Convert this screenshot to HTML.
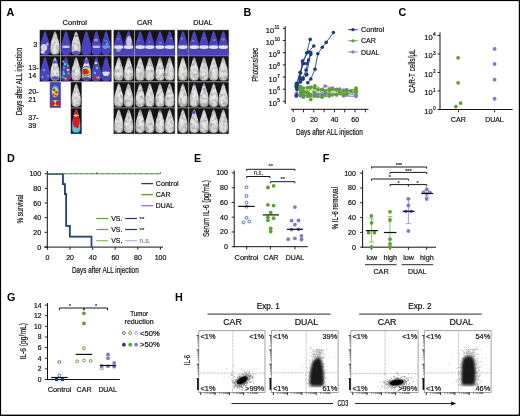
<!DOCTYPE html>
<html><head><meta charset="utf-8"><style>html,body{margin:0;padding:0;background:#fff;width:520px;height:416px;overflow:hidden;position:relative}svg{display:block;position:absolute;left:0;top:0}svg.main{filter:blur(0.3px)}text{font-family:"Liberation Sans",sans-serif}</style></head>
<body>
<svg class="main" width="520" height="416" viewBox="0 0 520 416" font-family="Liberation Sans, sans-serif">
<rect x="0.00" y="0.00" width="520.00" height="416.00" fill="#fff"/>
<text x="6.60" y="16.40" font-size="10.8" text-anchor="start" fill="#000" stroke="#000" stroke-width="0" font-weight="bold">A</text>
<text x="243.60" y="16.40" font-size="10.8" text-anchor="start" fill="#000" stroke="#000" stroke-width="0" font-weight="bold">B</text>
<text x="398.60" y="16.40" font-size="10.8" text-anchor="start" fill="#000" stroke="#000" stroke-width="0" font-weight="bold">C</text>
<text x="7.00" y="161.60" font-size="10.8" text-anchor="start" fill="#000" stroke="#000" stroke-width="0" font-weight="bold">D</text>
<text x="194.00" y="161.60" font-size="10.8" text-anchor="start" fill="#000" stroke="#000" stroke-width="0" font-weight="bold">E</text>
<text x="322.80" y="161.60" font-size="10.8" text-anchor="start" fill="#000" stroke="#000" stroke-width="0" font-weight="bold">F</text>
<text x="7.00" y="300.90" font-size="10.8" text-anchor="start" fill="#000" stroke="#000" stroke-width="0" font-weight="bold">G</text>
<text x="175.00" y="300.90" font-size="10.8" text-anchor="start" fill="#000" stroke="#000" stroke-width="0" font-weight="bold">H</text>
<text x="74.80" y="25.20" font-size="7.6" text-anchor="middle" fill="#111" stroke="#111" stroke-width="0.2" textLength="24.4" lengthAdjust="spacingAndGlyphs">Control</text>
<text x="144.70" y="25.30" font-size="7.6" text-anchor="middle" fill="#111" stroke="#111" stroke-width="0.2" textLength="15.6" lengthAdjust="spacingAndGlyphs">CAR</text>
<text x="202.90" y="25.30" font-size="7.6" text-anchor="middle" fill="#111" stroke="#111" stroke-width="0.2" textLength="19.4" lengthAdjust="spacingAndGlyphs">DUAL</text>
<text x="37.20" y="46.60" font-size="7.2" text-anchor="end" fill="#111" stroke="#111" stroke-width="0.2">3</text>
<text x="28.20" y="70.30" font-size="7.2" text-anchor="start" fill="#111" stroke="#111" stroke-width="0.2">13-</text>
<text x="28.20" y="78.30" font-size="7.2" text-anchor="start" fill="#111" stroke="#111" stroke-width="0.2">14</text>
<text x="28.20" y="94.00" font-size="7.2" text-anchor="start" fill="#111" stroke="#111" stroke-width="0.2">20-</text>
<text x="28.20" y="102.00" font-size="7.2" text-anchor="start" fill="#111" stroke="#111" stroke-width="0.2">21</text>
<text x="28.20" y="120.20" font-size="7.2" text-anchor="start" fill="#111" stroke="#111" stroke-width="0.2">37-</text>
<text x="28.20" y="128.20" font-size="7.2" text-anchor="start" fill="#111" stroke="#111" stroke-width="0.2">39</text>
<text x="21.90" y="81.60" font-size="9.0" text-anchor="middle" fill="#111" stroke="#111" stroke-width="0.2" textLength="67.4" lengthAdjust="spacingAndGlyphs" transform="rotate(-90 21.90 81.60)">Days after ALL injection</text>
<defs>
<radialGradient id="mg" cx="0.5" cy="0.55" r="0.6"><stop offset="0" stop-color="#f2f2f2"/><stop offset="0.65" stop-color="#d8d8d8"/><stop offset="1" stop-color="#969696"/></radialGradient>
<filter id="tex" x="-10%" y="-10%" width="120%" height="120%" color-interpolation-filters="sRGB">
<feTurbulence type="fractalNoise" baseFrequency="0.3" numOctaves="2" seed="5" result="n"/>
<feColorMatrix in="n" type="matrix" values="0 0 0 0 0  0 0 0 0 0  0 0 0 0 0  0.6 0 0 0 -0.24" result="d"/>
<feComposite in="d" in2="SourceAlpha" operator="in" result="dc"/>
<feMerge><feMergeNode in="SourceGraphic"/><feMergeNode in="dc"/></feMerge>
</filter>
</defs>
<rect x="39.40" y="29.70" width="72.40" height="52.00" fill="#96918a"/>
<rect x="40.00" y="30.20" width="20.00" height="25.00" fill="#141414"/>
<rect x="40.00" y="56.20" width="20.00" height="25.00" fill="#141414"/>
<rect x="61.00" y="30.20" width="50.20" height="25.00" fill="#141414"/>
<rect x="61.00" y="56.20" width="50.20" height="25.00" fill="#141414"/>
<rect x="113.30" y="29.70" width="61.90" height="104.40" fill="#96918a"/>
<rect x="113.90" y="30.20" width="20.10" height="25.00" fill="#141414"/>
<rect x="113.90" y="56.20" width="20.10" height="25.00" fill="#141414"/>
<rect x="113.90" y="82.30" width="20.10" height="25.10" fill="#141414"/>
<rect x="113.90" y="108.30" width="20.10" height="25.30" fill="#141414"/>
<rect x="135.00" y="30.20" width="39.60" height="25.00" fill="#141414"/>
<rect x="135.00" y="56.20" width="39.60" height="25.00" fill="#141414"/>
<rect x="135.00" y="82.30" width="39.60" height="25.10" fill="#141414"/>
<rect x="135.00" y="108.30" width="39.60" height="25.30" fill="#141414"/>
<rect x="177.00" y="29.70" width="52.10" height="104.40" fill="#96918a"/>
<rect x="177.60" y="30.20" width="10.50" height="25.00" fill="#141414"/>
<rect x="177.60" y="56.20" width="10.50" height="25.00" fill="#141414"/>
<rect x="177.60" y="82.30" width="10.50" height="25.10" fill="#141414"/>
<rect x="177.60" y="108.30" width="10.50" height="25.30" fill="#141414"/>
<rect x="189.10" y="30.20" width="39.40" height="25.00" fill="#141414"/>
<rect x="189.10" y="56.20" width="39.40" height="25.00" fill="#141414"/>
<rect x="189.10" y="82.30" width="39.40" height="25.10" fill="#141414"/>
<rect x="189.10" y="108.30" width="39.40" height="25.30" fill="#141414"/>
<rect x="49.60" y="81.80" width="11.40" height="26.20" fill="#96918a"/>
<rect x="50.10" y="82.30" width="10.40" height="25.20" fill="#4b42c2"/>
<rect x="70.50" y="81.80" width="11.40" height="52.30" fill="#96918a"/>
<rect x="71.00" y="82.30" width="10.40" height="25.20" fill="#141414"/>
<rect x="71.00" y="108.40" width="10.40" height="25.20" fill="#141414"/>
<path d="M45.00,30.90 C45.90,31.38 46.79,33.79 47.24,36.20 C47.91,39.09 49.03,41.02 49.48,44.64 C49.81,47.29 49.81,50.18 49.70,51.63 C49.48,54.52 47.24,55.00 45.00,55.00 C42.76,55.00 40.52,54.52 40.30,51.63 C40.19,50.18 40.19,47.29 40.52,44.64 C40.97,41.02 42.09,39.09 42.76,36.20 C43.21,33.79 44.10,31.38 45.00,30.90Z" fill="#4b42c2"/>
<ellipse cx="44.00" cy="47.50" rx="3.2" ry="3.6" fill="#e4e4e4" opacity="0.9"/>
<ellipse cx="42.80" cy="52.00" rx="2.2" ry="1.8" fill="#eee" opacity="0.85"/>
<ellipse cx="47.50" cy="44.00" rx="1.2" ry="1.6" fill="#e4e4e4" opacity="0.7"/>
<ellipse cx="47.60" cy="51.50" rx="1.6" ry="1.6" fill="#4b42c2" opacity="1"/>
<path d="M55.00,31.20 C55.89,31.67 56.77,34.00 57.21,36.33 C57.88,39.12 58.99,40.99 59.43,44.48 C59.76,47.04 59.76,49.84 59.65,51.24 C59.43,54.03 57.21,54.50 55.00,54.50 C52.79,54.50 50.57,54.03 50.35,51.24 C50.24,49.84 50.24,47.04 50.57,44.48 C51.01,40.99 52.12,39.12 52.79,36.33 C53.23,34.00 54.11,31.67 55.00,31.20Z" fill="url(#mg)" filter="url(#tex)"/>
<path d="M66.00,30.90 C66.90,31.38 67.79,33.79 68.24,36.20 C68.91,39.09 70.03,41.02 70.48,44.64 C70.81,47.29 70.81,50.18 70.70,51.63 C70.48,54.52 68.24,55.00 66.00,55.00 C63.76,55.00 61.52,54.52 61.30,51.63 C61.19,50.18 61.19,47.29 61.52,44.64 C61.97,41.02 63.09,39.09 63.76,36.20 C64.21,33.79 65.10,31.38 66.00,30.90Z" fill="#4b42c2"/>
<ellipse cx="66.00" cy="46.70" rx="3.95" ry="1.25" fill="#dcdcf0" opacity="0.9"/>
<path d="M76.10,31.20 C76.99,31.67 77.87,34.00 78.31,36.33 C78.98,39.12 80.09,40.99 80.53,44.48 C80.86,47.04 80.86,49.84 80.75,51.24 C80.53,54.03 78.31,54.50 76.10,54.50 C73.89,54.50 71.67,54.03 71.45,51.24 C71.34,49.84 71.34,47.04 71.67,44.48 C72.11,40.99 73.22,39.12 73.89,36.33 C74.33,34.00 75.21,31.67 76.10,31.20Z" fill="url(#mg)" filter="url(#tex)"/>
<ellipse cx="76.00" cy="52.50" rx="3.6" ry="1.8" fill="#4b42c2" opacity="0.9"/>
<ellipse cx="76.00" cy="36.00" rx="1.6" ry="1" fill="#4b42c2" opacity="0.6"/>
<path d="M86.40,30.90 C87.30,31.38 88.19,33.79 88.64,36.20 C89.31,39.09 90.43,41.02 90.88,44.64 C91.21,47.29 91.21,50.18 91.10,51.63 C90.88,54.52 88.64,55.00 86.40,55.00 C84.16,55.00 81.92,54.52 81.70,51.63 C81.59,50.18 81.59,47.29 81.92,44.64 C82.37,41.02 83.49,39.09 84.16,36.20 C84.61,33.79 85.50,31.38 86.40,30.90Z" fill="#4b42c2"/>
<path d="M96.40,30.90 C97.30,31.38 98.19,33.79 98.64,36.20 C99.31,39.09 100.43,41.02 100.88,44.64 C101.21,47.29 101.21,50.18 101.10,51.63 C100.88,54.52 98.64,55.00 96.40,55.00 C94.16,55.00 91.92,54.52 91.70,51.63 C91.59,50.18 91.59,47.29 91.92,44.64 C92.37,41.02 93.49,39.09 94.16,36.20 C94.61,33.79 95.50,31.38 96.40,30.90Z" fill="#4b42c2"/>
<ellipse cx="96.40" cy="46.70" rx="3.95" ry="1.25" fill="#dcdcf0" opacity="0.8"/>
<ellipse cx="96.00" cy="40.00" rx="2" ry="1.3" fill="#ddd" opacity="0.6"/>
<path d="M106.10,30.90 C107.00,31.38 107.89,33.79 108.34,36.20 C109.01,39.09 110.13,41.02 110.58,44.64 C110.91,47.29 110.91,50.18 110.80,51.63 C110.58,54.52 108.34,55.00 106.10,55.00 C103.86,55.00 101.62,54.52 101.40,51.63 C101.29,50.18 101.29,47.29 101.62,44.64 C102.07,41.02 103.19,39.09 103.86,36.20 C104.31,33.79 105.20,31.38 106.10,30.90Z" fill="#4b42c2"/>
<ellipse cx="106.10" cy="46.70" rx="3.95" ry="1.25" fill="#dcdcf0" opacity="0.5"/>
<path d="M103.5,40 Q108.5,40 108,45.5 Q107,49 104,48.5" fill="none" stroke="#3fa8ea" stroke-width="1.1" opacity="0.9"/>
<ellipse cx="106.50" cy="44.50" rx="0.9" ry="1.2" fill="#60c8f0" opacity="0.8"/>
<path d="M45.00,56.90 C45.90,57.38 46.79,59.79 47.24,62.20 C47.91,65.09 49.03,67.02 49.48,70.64 C49.81,73.29 49.81,76.18 49.70,77.63 C49.48,80.52 47.24,81.00 45.00,81.00 C42.76,81.00 40.52,80.52 40.30,77.63 C40.19,76.18 40.19,73.29 40.52,70.64 C40.97,67.02 42.09,65.09 42.76,62.20 C43.21,59.79 44.10,57.38 45.00,56.90Z" fill="#4b42c2"/>
<ellipse cx="44.00" cy="70.00" rx="1.2" ry="1.2" fill="#3cc0d0" opacity="1"/>
<ellipse cx="42.50" cy="77.00" rx="1" ry="1" fill="#60d080" opacity="1"/>
<ellipse cx="48.00" cy="76.00" rx="1" ry="1" fill="#3cc0d0" opacity="1"/>
<path d="M55.00,57.20 C55.89,57.67 56.77,60.00 57.21,62.33 C57.88,65.12 58.99,66.99 59.43,70.48 C59.76,73.04 59.76,75.84 59.65,77.24 C59.43,80.03 57.21,80.50 55.00,80.50 C52.79,80.50 50.57,80.03 50.35,77.24 C50.24,75.84 50.24,73.04 50.57,70.48 C51.01,66.99 52.12,65.12 52.79,62.33 C53.23,60.00 54.11,57.67 55.00,57.20Z" fill="url(#mg)" filter="url(#tex)"/>
<ellipse cx="55.00" cy="62.00" rx="3" ry="1.6" fill="#4b42c2" opacity="0.9"/>
<ellipse cx="55.00" cy="78.00" rx="3.5" ry="1.8" fill="#4b42c2" opacity="0.9"/>
<path d="M66.00,56.90 C66.90,57.38 67.79,59.79 68.24,62.20 C68.91,65.09 70.03,67.02 70.48,70.64 C70.81,73.29 70.81,76.18 70.70,77.63 C70.48,80.52 68.24,81.00 66.00,81.00 C63.76,81.00 61.52,80.52 61.30,77.63 C61.19,76.18 61.19,73.29 61.52,70.64 C61.97,67.02 63.09,65.09 63.76,62.20 C64.21,59.79 65.10,57.38 66.00,56.90Z" fill="#4b42c2"/>
<ellipse cx="63.20" cy="61.50" rx="1.0" ry="1.0" fill="#50d0e0" opacity="1"/>
<ellipse cx="64.00" cy="67.50" rx="0.9" ry="0.9" fill="#40c8e0" opacity="1"/>
<ellipse cx="67.80" cy="65.50" rx="0.9" ry="0.9" fill="#50d890" opacity="1"/>
<ellipse cx="63.50" cy="72.00" rx="1.0" ry="1.0" fill="#40c8e0" opacity="1"/>
<ellipse cx="68.50" cy="73.50" rx="0.9" ry="0.9" fill="#60e060" opacity="1"/>
<ellipse cx="62.80" cy="77.00" rx="1.0" ry="1.0" fill="#40c0e0" opacity="1"/>
<ellipse cx="65.00" cy="64.00" rx="1.3" ry="1.3" fill="#40e0a0" opacity="1"/>
<ellipse cx="68.00" cy="70.00" rx="1.2" ry="1.2" fill="#f0e040" opacity="1"/>
<ellipse cx="64.00" cy="74.00" rx="1.2" ry="1.2" fill="#50e060" opacity="1"/>
<ellipse cx="69.00" cy="77.00" rx="1.5" ry="1.5" fill="#e02020" opacity="1"/>
<ellipse cx="65.50" cy="78.50" rx="1.1" ry="1.1" fill="#f0c020" opacity="1"/>
<path d="M76.10,57.20 C76.99,57.67 77.87,60.00 78.31,62.33 C78.98,65.12 80.09,66.99 80.53,70.48 C80.86,73.04 80.86,75.84 80.75,77.24 C80.53,80.03 78.31,80.50 76.10,80.50 C73.89,80.50 71.67,80.03 71.45,77.24 C71.34,75.84 71.34,73.04 71.67,70.48 C72.11,66.99 73.22,65.12 73.89,62.33 C74.33,60.00 75.21,57.67 76.10,57.20Z" fill="url(#mg)" filter="url(#tex)"/>
<path d="M86.40,57.20 C87.29,57.67 88.17,60.00 88.61,62.33 C89.28,65.12 90.39,66.99 90.83,70.48 C91.16,73.04 91.16,75.84 91.05,77.24 C90.83,80.03 88.61,80.50 86.40,80.50 C84.19,80.50 81.97,80.03 81.75,77.24 C81.64,75.84 81.64,73.04 81.97,70.48 C82.41,66.99 83.52,65.12 84.19,62.33 C84.63,60.00 85.51,57.67 86.40,57.20Z" fill="url(#mg)" filter="url(#tex)"/>
<ellipse cx="86.40" cy="61.50" rx="3" ry="2.2" fill="#4b42c2" opacity="0.8"/>
<ellipse cx="86.40" cy="71.00" rx="4.6" ry="5.2" fill="#3050e0" opacity="1"/>
<ellipse cx="86.40" cy="71.00" rx="4.3" ry="4.6" fill="#40c0e0" opacity="1"/>
<ellipse cx="86.40" cy="71.20" rx="4.0" ry="4.0" fill="#f0e040" opacity="1"/>
<ellipse cx="85.80" cy="71.60" rx="3.4" ry="3.0" fill="#e01818" opacity="1"/>
<ellipse cx="88.60" cy="69.80" rx="1.2" ry="1.0" fill="#f0e040" opacity="1"/>
<ellipse cx="86.40" cy="78.80" rx="4.2" ry="1.8" fill="#4b42c2" opacity="1"/>
<path d="M96.40,56.90 C97.30,57.38 98.19,59.79 98.64,62.20 C99.31,65.09 100.43,67.02 100.88,70.64 C101.21,73.29 101.21,76.18 101.10,77.63 C100.88,80.52 98.64,81.00 96.40,81.00 C94.16,81.00 91.92,80.52 91.70,77.63 C91.59,76.18 91.59,73.29 91.92,70.64 C92.37,67.02 93.49,65.09 94.16,62.20 C94.61,59.79 95.50,57.38 96.40,56.90Z" fill="#4b42c2"/>
<ellipse cx="96.00" cy="63.00" rx="1.5" ry="1.3" fill="#f0e040" opacity="1"/>
<ellipse cx="97.00" cy="68.00" rx="1.2" ry="1.2" fill="#50e060" opacity="1"/>
<ellipse cx="95.00" cy="73.00" rx="1.2" ry="1.2" fill="#40d0f0" opacity="1"/>
<ellipse cx="95.00" cy="77.00" rx="2" ry="1.3" fill="#e02020" opacity="1"/>
<ellipse cx="98.00" cy="77.50" rx="1.5" ry="1.2" fill="#f0a020" opacity="1"/>
<path d="M106.10,56.90 C107.00,57.38 107.89,59.79 108.34,62.20 C109.01,65.09 110.13,67.02 110.58,70.64 C110.91,73.29 110.91,76.18 110.80,77.63 C110.58,80.52 108.34,81.00 106.10,81.00 C103.86,81.00 101.62,80.52 101.40,77.63 C101.29,76.18 101.29,73.29 101.62,70.64 C102.07,67.02 103.19,65.09 103.86,62.20 C104.31,59.79 105.20,57.38 106.10,56.90Z" fill="#4b42c2"/>
<ellipse cx="106.10" cy="72.70" rx="3.95" ry="1.25" fill="#dcdcf0" opacity="0.9"/>
<ellipse cx="106.00" cy="74.00" rx="3" ry="2" fill="#e8e8f0" opacity="0.9"/>
<ellipse cx="55.20" cy="91.50" rx="3.6" ry="6.0" fill="#30b8e0" opacity="1"/>
<ellipse cx="55.20" cy="92.00" rx="3.0" ry="5.2" fill="#70e070" opacity="1"/>
<ellipse cx="55.20" cy="92.30" rx="2.6" ry="4.6" fill="#f0e040" opacity="1"/>
<ellipse cx="54.20" cy="89.90" rx="1.3" ry="1.3" fill="#e01818" opacity="1"/>
<ellipse cx="56.40" cy="92.30" rx="1.2" ry="1.4" fill="#e01818" opacity="1"/>
<ellipse cx="53.60" cy="94.60" rx="1.1" ry="1.1" fill="#e01818" opacity="1"/>
<ellipse cx="55.80" cy="95.80" rx="1.1" ry="1.0" fill="#e01818" opacity="1"/>
<ellipse cx="55.30" cy="103.00" rx="4.6" ry="2.9" fill="#40c0e0" opacity="1"/>
<ellipse cx="55.30" cy="103.00" rx="4.2" ry="2.5" fill="#f0e040" opacity="1"/>
<ellipse cx="52.60" cy="103.30" rx="2.3" ry="2.4" fill="#e01818" opacity="1"/>
<ellipse cx="58.00" cy="103.20" rx="2.3" ry="2.4" fill="#e01818" opacity="1"/>
<path d="M76.20,83.30 C77.09,83.77 77.97,86.11 78.41,88.45 C79.08,91.26 80.19,93.13 80.63,96.64 C80.96,99.21 80.96,102.02 80.85,103.42 C80.63,106.23 78.41,106.70 76.20,106.70 C73.99,106.70 71.77,106.23 71.55,103.42 C71.44,102.02 71.44,99.21 71.77,96.64 C72.21,93.13 73.32,91.26 73.99,88.45 C74.43,86.11 75.31,83.77 76.20,83.30Z" fill="url(#mg)" filter="url(#tex)"/>
<path d="M76.20,109.10 C77.06,109.58 77.91,111.98 78.34,114.38 C78.99,117.26 80.06,119.18 80.49,122.78 C80.81,125.42 80.81,128.30 80.70,129.74 C80.49,132.62 78.34,133.10 76.20,133.10 C74.06,133.10 71.91,132.62 71.70,129.74 C71.59,128.30 71.59,125.42 71.91,122.78 C72.34,119.18 73.41,117.26 74.06,114.38 C74.49,111.98 75.34,109.58 76.20,109.10Z" fill="#2a48e0"/>
<path d="M76.20,109.90 C76.92,110.35 77.65,112.59 78.01,114.83 C78.55,117.52 79.46,119.31 79.82,122.67 C80.09,125.13 80.09,127.82 80.00,129.16 C79.82,131.85 78.01,132.30 76.20,132.30 C74.39,132.30 72.58,131.85 72.40,129.16 C72.31,127.82 72.31,125.13 72.58,122.67 C72.94,119.31 73.85,117.52 74.39,114.83 C74.75,112.59 75.48,110.35 76.20,109.90Z" fill="#40c8e8"/>
<ellipse cx="76.20" cy="121.00" rx="3.4" ry="7.5" fill="#e01818" opacity="1"/>
<ellipse cx="76.20" cy="112.00" rx="1.6" ry="2.5" fill="#e01818" opacity="1"/>
<ellipse cx="76.20" cy="115.50" rx="2.8" ry="1" fill="#f0e040" opacity="1"/>
<ellipse cx="75.00" cy="128.50" rx="1.8" ry="1.5" fill="#60e060" opacity="1"/>
<ellipse cx="77.50" cy="126.50" rx="1.3" ry="1.3" fill="#e01818" opacity="1"/>
<rect x="113.90" y="48.60" width="20.10" height="6.60" fill="#4b42c2"/>
<rect x="135.00" y="48.60" width="39.60" height="6.60" fill="#4b42c2"/>
<rect x="177.60" y="48.60" width="10.50" height="6.60" fill="#4b42c2"/>
<rect x="189.10" y="48.60" width="39.40" height="6.60" fill="#4b42c2"/>
<path d="M118.80,30.90 C119.70,31.36 120.59,33.67 121.04,35.98 C121.71,38.75 122.83,40.60 123.28,44.07 C123.61,46.61 123.61,49.38 123.50,50.77 C123.28,53.54 121.04,54.00 118.80,54.00 C116.56,54.00 114.32,53.54 114.10,50.77 C113.99,49.38 113.99,46.61 114.32,44.07 C114.77,40.60 115.89,38.75 116.56,35.98 C117.01,33.67 117.90,31.36 118.80,30.90Z" fill="#4b42c2"/>
<path d="M114.3,45.8 Q118.8,44.6 123.3,45.8 L123.3,48.2 Q118.8,49.6 114.3,48.2Z" fill="#eceef6" opacity="0.95"/>
<ellipse cx="118.27" cy="38.75" rx="1.4509344730398537" ry="0.6579490293340342" fill="#9a94e0" opacity="0.7"/>
<path d="M128.60,30.90 C129.50,31.36 130.39,33.67 130.84,35.98 C131.51,38.75 132.63,40.60 133.08,44.07 C133.41,46.61 133.41,49.38 133.30,50.77 C133.08,53.54 130.84,54.00 128.60,54.00 C126.36,54.00 124.12,53.54 123.90,50.77 C123.79,49.38 123.79,46.61 124.12,44.07 C124.57,40.60 125.69,38.75 126.36,35.98 C126.81,33.67 127.70,31.36 128.60,30.90Z" fill="#4b42c2"/>
<path d="M124.1,45.8 Q128.6,44.6 133.1,45.8 L133.1,48.2 Q128.6,49.6 124.1,48.2Z" fill="#eceef6" opacity="0.95"/>
<ellipse cx="128.71" cy="39.83" rx="0.8579989247747069" ry="1.005948586551536" fill="#9a94e0" opacity="0.7"/>
<path d="M140.20,30.90 C141.10,31.36 141.99,33.67 142.44,35.98 C143.11,38.75 144.23,40.60 144.68,44.07 C145.01,46.61 145.01,49.38 144.90,50.77 C144.68,53.54 142.44,54.00 140.20,54.00 C137.96,54.00 135.72,53.54 135.50,50.77 C135.39,49.38 135.39,46.61 135.72,44.07 C136.17,40.60 137.29,38.75 137.96,35.98 C138.41,33.67 139.30,31.36 140.20,30.90Z" fill="#4b42c2"/>
<path d="M135.7,45.8 Q140.2,44.6 144.7,45.8 L144.7,48.2 Q140.2,49.6 135.7,48.2Z" fill="#eceef6" opacity="0.95"/>
<ellipse cx="138.81" cy="40.17" rx="0.869855423574619" ry="0.672570410675092" fill="#9a94e0" opacity="0.7"/>
<path d="M149.80,30.90 C150.70,31.36 151.59,33.67 152.04,35.98 C152.71,38.75 153.83,40.60 154.28,44.07 C154.61,46.61 154.61,49.38 154.50,50.77 C154.28,53.54 152.04,54.00 149.80,54.00 C147.56,54.00 145.32,53.54 145.10,50.77 C144.99,49.38 144.99,46.61 145.32,44.07 C145.77,40.60 146.89,38.75 147.56,35.98 C148.01,33.67 148.90,31.36 149.80,30.90Z" fill="#4b42c2"/>
<path d="M145.3,45.8 Q149.8,44.6 154.3,45.8 L154.3,48.2 Q149.8,49.6 145.3,48.2Z" fill="#eceef6" opacity="0.95"/>
<ellipse cx="149.57" cy="42.13" rx="0.9238019611496456" ry="0.7785911716856115" fill="#9a94e0" opacity="0.7"/>
<path d="M160.00,30.90 C160.90,31.36 161.79,33.67 162.24,35.98 C162.91,38.75 164.03,40.60 164.48,44.07 C164.81,46.61 164.81,49.38 164.70,50.77 C164.48,53.54 162.24,54.00 160.00,54.00 C157.76,54.00 155.52,53.54 155.30,50.77 C155.19,49.38 155.19,46.61 155.52,44.07 C155.97,40.60 157.09,38.75 157.76,35.98 C158.21,33.67 159.10,31.36 160.00,30.90Z" fill="#4b42c2"/>
<path d="M155.5,45.8 Q160.0,44.6 164.5,45.8 L164.5,48.2 Q160.0,49.6 155.5,48.2Z" fill="#eceef6" opacity="0.95"/>
<ellipse cx="160.38" cy="42.74" rx="1.3771029486174986" ry="0.9173443797206241" fill="#9a94e0" opacity="0.7"/>
<path d="M169.60,30.90 C170.50,31.36 171.39,33.67 171.84,35.98 C172.51,38.75 173.63,40.60 174.08,44.07 C174.41,46.61 174.41,49.38 174.30,50.77 C174.08,53.54 171.84,54.00 169.60,54.00 C167.36,54.00 165.12,53.54 164.90,50.77 C164.79,49.38 164.79,46.61 165.12,44.07 C165.57,40.60 166.69,38.75 167.36,35.98 C167.81,33.67 168.70,31.36 169.60,30.90Z" fill="#4b42c2"/>
<path d="M165.1,45.8 Q169.6,44.6 174.1,45.8 L174.1,48.2 Q169.6,49.6 165.1,48.2Z" fill="#eceef6" opacity="0.95"/>
<ellipse cx="171.03" cy="38.23" rx="1.6584684590486796" ry="0.831687429065341" fill="#9a94e0" opacity="0.7"/>
<path d="M182.90,30.90 C183.80,31.36 184.69,33.67 185.14,35.98 C185.81,38.75 186.93,40.60 187.38,44.07 C187.71,46.61 187.71,49.38 187.60,50.77 C187.38,53.54 185.14,54.00 182.90,54.00 C180.66,54.00 178.42,53.54 178.20,50.77 C178.09,49.38 178.09,46.61 178.42,44.07 C178.87,40.60 179.99,38.75 180.66,35.98 C181.11,33.67 182.00,31.36 182.90,30.90Z" fill="#4b42c2"/>
<path d="M178.4,45.8 Q182.9,44.6 187.4,45.8 L187.4,48.2 Q182.9,49.6 178.4,48.2Z" fill="#eceef6" opacity="0.95"/>
<ellipse cx="181.83" cy="38.59" rx="1.1084818241019345" ry="1.2529010872960251" fill="#9a94e0" opacity="0.7"/>
<path d="M194.20,30.90 C195.10,31.36 195.99,33.67 196.44,35.98 C197.11,38.75 198.23,40.60 198.68,44.07 C199.01,46.61 199.01,49.38 198.90,50.77 C198.68,53.54 196.44,54.00 194.20,54.00 C191.96,54.00 189.72,53.54 189.50,50.77 C189.39,49.38 189.39,46.61 189.72,44.07 C190.17,40.60 191.29,38.75 191.96,35.98 C192.41,33.67 193.30,31.36 194.20,30.90Z" fill="#4b42c2"/>
<path d="M189.7,45.8 Q194.2,44.6 198.7,45.8 L198.7,48.2 Q194.2,49.6 189.7,48.2Z" fill="#eceef6" opacity="0.95"/>
<ellipse cx="193.24" cy="40.91" rx="1.438913468926184" ry="0.8979180341805849" fill="#9a94e0" opacity="0.7"/>
<path d="M204.00,30.90 C204.90,31.36 205.79,33.67 206.24,35.98 C206.91,38.75 208.03,40.60 208.48,44.07 C208.81,46.61 208.81,49.38 208.70,50.77 C208.48,53.54 206.24,54.00 204.00,54.00 C201.76,54.00 199.52,53.54 199.30,50.77 C199.19,49.38 199.19,46.61 199.52,44.07 C199.97,40.60 201.09,38.75 201.76,35.98 C202.21,33.67 203.10,31.36 204.00,30.90Z" fill="#4b42c2"/>
<path d="M199.5,45.8 Q204.0,44.6 208.5,45.8 L208.5,48.2 Q204.0,49.6 199.5,48.2Z" fill="#eceef6" opacity="0.95"/>
<ellipse cx="204.14" cy="38.31" rx="0.8596011699662327" ry="0.7647669702554611" fill="#9a94e0" opacity="0.7"/>
<path d="M213.70,30.90 C214.60,31.36 215.49,33.67 215.94,35.98 C216.61,38.75 217.73,40.60 218.18,44.07 C218.51,46.61 218.51,49.38 218.40,50.77 C218.18,53.54 215.94,54.00 213.70,54.00 C211.46,54.00 209.22,53.54 209.00,50.77 C208.89,49.38 208.89,46.61 209.22,44.07 C209.67,40.60 210.79,38.75 211.46,35.98 C211.91,33.67 212.80,31.36 213.70,30.90Z" fill="#4b42c2"/>
<path d="M209.2,45.8 Q213.7,44.6 218.2,45.8 L218.2,48.2 Q213.7,49.6 209.2,48.2Z" fill="#eceef6" opacity="0.95"/>
<ellipse cx="214.24" cy="40.14" rx="1.1141471703767916" ry="1.0684494908061108" fill="#9a94e0" opacity="0.7"/>
<path d="M223.30,30.90 C224.20,31.36 225.09,33.67 225.54,35.98 C226.21,38.75 227.33,40.60 227.78,44.07 C228.11,46.61 228.11,49.38 228.00,50.77 C227.78,53.54 225.54,54.00 223.30,54.00 C221.06,54.00 218.82,53.54 218.60,50.77 C218.49,49.38 218.49,46.61 218.82,44.07 C219.27,40.60 220.39,38.75 221.06,35.98 C221.51,33.67 222.40,31.36 223.30,30.90Z" fill="#4b42c2"/>
<path d="M218.8,45.8 Q223.3,44.6 227.8,45.8 L227.8,48.2 Q223.3,49.6 218.8,48.2Z" fill="#eceef6" opacity="0.95"/>
<ellipse cx="223.16" cy="39.50" rx="1.5943794815224912" ry="1.159195546983657" fill="#9a94e0" opacity="0.7"/>
<ellipse cx="129.00" cy="42.00" rx="2.8" ry="6" fill="#ddd" opacity="0.85"/>
<ellipse cx="118.50" cy="50.00" rx="2.5" ry="2" fill="#ddd" opacity="0.5"/>
<path d="M118.80,57.20 C119.69,57.67 120.57,60.00 121.01,62.33 C121.68,65.12 122.79,66.99 123.23,70.48 C123.56,73.04 123.56,75.84 123.45,77.24 C123.23,80.03 121.01,80.50 118.80,80.50 C116.59,80.50 114.37,80.03 114.15,77.24 C114.04,75.84 114.04,73.04 114.37,70.48 C114.81,66.99 115.92,65.12 116.59,62.33 C117.03,60.00 117.91,57.67 118.80,57.20Z" fill="url(#mg)" filter="url(#tex)"/>
<path d="M128.60,57.20 C129.49,57.67 130.37,60.00 130.81,62.33 C131.48,65.12 132.59,66.99 133.03,70.48 C133.36,73.04 133.36,75.84 133.25,77.24 C133.03,80.03 130.81,80.50 128.60,80.50 C126.39,80.50 124.17,80.03 123.95,77.24 C123.84,75.84 123.84,73.04 124.17,70.48 C124.61,66.99 125.72,65.12 126.39,62.33 C126.83,60.00 127.71,57.67 128.60,57.20Z" fill="url(#mg)" filter="url(#tex)"/>
<path d="M140.20,57.20 C141.09,57.67 141.97,60.00 142.41,62.33 C143.08,65.12 144.19,66.99 144.63,70.48 C144.96,73.04 144.96,75.84 144.85,77.24 C144.63,80.03 142.41,80.50 140.20,80.50 C137.99,80.50 135.77,80.03 135.55,77.24 C135.44,75.84 135.44,73.04 135.77,70.48 C136.21,66.99 137.32,65.12 137.99,62.33 C138.43,60.00 139.31,57.67 140.20,57.20Z" fill="url(#mg)" filter="url(#tex)"/>
<path d="M149.80,57.20 C150.69,57.67 151.57,60.00 152.01,62.33 C152.68,65.12 153.79,66.99 154.23,70.48 C154.56,73.04 154.56,75.84 154.45,77.24 C154.23,80.03 152.01,80.50 149.80,80.50 C147.59,80.50 145.37,80.03 145.15,77.24 C145.04,75.84 145.04,73.04 145.37,70.48 C145.81,66.99 146.92,65.12 147.59,62.33 C148.03,60.00 148.91,57.67 149.80,57.20Z" fill="url(#mg)" filter="url(#tex)"/>
<path d="M160.00,57.20 C160.89,57.67 161.77,60.00 162.21,62.33 C162.88,65.12 163.99,66.99 164.43,70.48 C164.76,73.04 164.76,75.84 164.65,77.24 C164.43,80.03 162.21,80.50 160.00,80.50 C157.79,80.50 155.57,80.03 155.35,77.24 C155.24,75.84 155.24,73.04 155.57,70.48 C156.01,66.99 157.12,65.12 157.79,62.33 C158.23,60.00 159.11,57.67 160.00,57.20Z" fill="url(#mg)" filter="url(#tex)"/>
<path d="M169.60,57.20 C170.49,57.67 171.37,60.00 171.81,62.33 C172.48,65.12 173.59,66.99 174.03,70.48 C174.36,73.04 174.36,75.84 174.25,77.24 C174.03,80.03 171.81,80.50 169.60,80.50 C167.39,80.50 165.17,80.03 164.95,77.24 C164.84,75.84 164.84,73.04 165.17,70.48 C165.61,66.99 166.72,65.12 167.39,62.33 C167.83,60.00 168.71,57.67 169.60,57.20Z" fill="url(#mg)" filter="url(#tex)"/>
<path d="M182.90,57.20 C183.79,57.67 184.67,60.00 185.11,62.33 C185.78,65.12 186.89,66.99 187.33,70.48 C187.66,73.04 187.66,75.84 187.55,77.24 C187.33,80.03 185.11,80.50 182.90,80.50 C180.69,80.50 178.47,80.03 178.25,77.24 C178.14,75.84 178.14,73.04 178.47,70.48 C178.91,66.99 180.02,65.12 180.69,62.33 C181.13,60.00 182.01,57.67 182.90,57.20Z" fill="url(#mg)" filter="url(#tex)"/>
<path d="M194.20,57.20 C195.09,57.67 195.97,60.00 196.41,62.33 C197.08,65.12 198.19,66.99 198.63,70.48 C198.96,73.04 198.96,75.84 198.85,77.24 C198.63,80.03 196.41,80.50 194.20,80.50 C191.99,80.50 189.77,80.03 189.55,77.24 C189.44,75.84 189.44,73.04 189.77,70.48 C190.21,66.99 191.32,65.12 191.99,62.33 C192.43,60.00 193.31,57.67 194.20,57.20Z" fill="url(#mg)" filter="url(#tex)"/>
<path d="M204.00,57.20 C204.89,57.67 205.77,60.00 206.21,62.33 C206.88,65.12 207.99,66.99 208.43,70.48 C208.76,73.04 208.76,75.84 208.65,77.24 C208.43,80.03 206.21,80.50 204.00,80.50 C201.79,80.50 199.57,80.03 199.35,77.24 C199.24,75.84 199.24,73.04 199.57,70.48 C200.01,66.99 201.12,65.12 201.79,62.33 C202.23,60.00 203.11,57.67 204.00,57.20Z" fill="url(#mg)" filter="url(#tex)"/>
<path d="M213.70,57.20 C214.59,57.67 215.47,60.00 215.91,62.33 C216.58,65.12 217.69,66.99 218.13,70.48 C218.46,73.04 218.46,75.84 218.35,77.24 C218.13,80.03 215.91,80.50 213.70,80.50 C211.49,80.50 209.27,80.03 209.05,77.24 C208.94,75.84 208.94,73.04 209.27,70.48 C209.71,66.99 210.82,65.12 211.49,62.33 C211.93,60.00 212.81,57.67 213.70,57.20Z" fill="url(#mg)" filter="url(#tex)"/>
<path d="M223.30,57.20 C224.19,57.67 225.07,60.00 225.51,62.33 C226.18,65.12 227.29,66.99 227.73,70.48 C228.06,73.04 228.06,75.84 227.95,77.24 C227.73,80.03 225.51,80.50 223.30,80.50 C221.09,80.50 218.87,80.03 218.65,77.24 C218.54,75.84 218.54,73.04 218.87,70.48 C219.31,66.99 220.42,65.12 221.09,62.33 C221.53,60.00 222.41,57.67 223.30,57.20Z" fill="url(#mg)" filter="url(#tex)"/>
<path d="M118.80,83.30 C119.69,83.77 120.57,86.11 121.01,88.45 C121.68,91.26 122.79,93.13 123.23,96.64 C123.56,99.21 123.56,102.02 123.45,103.42 C123.23,106.23 121.01,106.70 118.80,106.70 C116.59,106.70 114.37,106.23 114.15,103.42 C114.04,102.02 114.04,99.21 114.37,96.64 C114.81,93.13 115.92,91.26 116.59,88.45 C117.03,86.11 117.91,83.77 118.80,83.30Z" fill="url(#mg)" filter="url(#tex)"/>
<path d="M128.60,83.30 C129.49,83.77 130.37,86.11 130.81,88.45 C131.48,91.26 132.59,93.13 133.03,96.64 C133.36,99.21 133.36,102.02 133.25,103.42 C133.03,106.23 130.81,106.70 128.60,106.70 C126.39,106.70 124.17,106.23 123.95,103.42 C123.84,102.02 123.84,99.21 124.17,96.64 C124.61,93.13 125.72,91.26 126.39,88.45 C126.83,86.11 127.71,83.77 128.60,83.30Z" fill="url(#mg)" filter="url(#tex)"/>
<path d="M140.20,83.30 C141.09,83.77 141.97,86.11 142.41,88.45 C143.08,91.26 144.19,93.13 144.63,96.64 C144.96,99.21 144.96,102.02 144.85,103.42 C144.63,106.23 142.41,106.70 140.20,106.70 C137.99,106.70 135.77,106.23 135.55,103.42 C135.44,102.02 135.44,99.21 135.77,96.64 C136.21,93.13 137.32,91.26 137.99,88.45 C138.43,86.11 139.31,83.77 140.20,83.30Z" fill="url(#mg)" filter="url(#tex)"/>
<path d="M149.80,83.30 C150.69,83.77 151.57,86.11 152.01,88.45 C152.68,91.26 153.79,93.13 154.23,96.64 C154.56,99.21 154.56,102.02 154.45,103.42 C154.23,106.23 152.01,106.70 149.80,106.70 C147.59,106.70 145.37,106.23 145.15,103.42 C145.04,102.02 145.04,99.21 145.37,96.64 C145.81,93.13 146.92,91.26 147.59,88.45 C148.03,86.11 148.91,83.77 149.80,83.30Z" fill="url(#mg)" filter="url(#tex)"/>
<path d="M160.00,83.30 C160.89,83.77 161.77,86.11 162.21,88.45 C162.88,91.26 163.99,93.13 164.43,96.64 C164.76,99.21 164.76,102.02 164.65,103.42 C164.43,106.23 162.21,106.70 160.00,106.70 C157.79,106.70 155.57,106.23 155.35,103.42 C155.24,102.02 155.24,99.21 155.57,96.64 C156.01,93.13 157.12,91.26 157.79,88.45 C158.23,86.11 159.11,83.77 160.00,83.30Z" fill="url(#mg)" filter="url(#tex)"/>
<path d="M169.60,83.30 C170.49,83.77 171.37,86.11 171.81,88.45 C172.48,91.26 173.59,93.13 174.03,96.64 C174.36,99.21 174.36,102.02 174.25,103.42 C174.03,106.23 171.81,106.70 169.60,106.70 C167.39,106.70 165.17,106.23 164.95,103.42 C164.84,102.02 164.84,99.21 165.17,96.64 C165.61,93.13 166.72,91.26 167.39,88.45 C167.83,86.11 168.71,83.77 169.60,83.30Z" fill="url(#mg)" filter="url(#tex)"/>
<path d="M182.90,83.30 C183.79,83.77 184.67,86.11 185.11,88.45 C185.78,91.26 186.89,93.13 187.33,96.64 C187.66,99.21 187.66,102.02 187.55,103.42 C187.33,106.23 185.11,106.70 182.90,106.70 C180.69,106.70 178.47,106.23 178.25,103.42 C178.14,102.02 178.14,99.21 178.47,96.64 C178.91,93.13 180.02,91.26 180.69,88.45 C181.13,86.11 182.01,83.77 182.90,83.30Z" fill="url(#mg)" filter="url(#tex)"/>
<path d="M194.20,83.30 C195.09,83.77 195.97,86.11 196.41,88.45 C197.08,91.26 198.19,93.13 198.63,96.64 C198.96,99.21 198.96,102.02 198.85,103.42 C198.63,106.23 196.41,106.70 194.20,106.70 C191.99,106.70 189.77,106.23 189.55,103.42 C189.44,102.02 189.44,99.21 189.77,96.64 C190.21,93.13 191.32,91.26 191.99,88.45 C192.43,86.11 193.31,83.77 194.20,83.30Z" fill="url(#mg)" filter="url(#tex)"/>
<path d="M204.00,83.30 C204.89,83.77 205.77,86.11 206.21,88.45 C206.88,91.26 207.99,93.13 208.43,96.64 C208.76,99.21 208.76,102.02 208.65,103.42 C208.43,106.23 206.21,106.70 204.00,106.70 C201.79,106.70 199.57,106.23 199.35,103.42 C199.24,102.02 199.24,99.21 199.57,96.64 C200.01,93.13 201.12,91.26 201.79,88.45 C202.23,86.11 203.11,83.77 204.00,83.30Z" fill="url(#mg)" filter="url(#tex)"/>
<path d="M213.70,83.30 C214.59,83.77 215.47,86.11 215.91,88.45 C216.58,91.26 217.69,93.13 218.13,96.64 C218.46,99.21 218.46,102.02 218.35,103.42 C218.13,106.23 215.91,106.70 213.70,106.70 C211.49,106.70 209.27,106.23 209.05,103.42 C208.94,102.02 208.94,99.21 209.27,96.64 C209.71,93.13 210.82,91.26 211.49,88.45 C211.93,86.11 212.81,83.77 213.70,83.30Z" fill="url(#mg)" filter="url(#tex)"/>
<path d="M223.30,83.30 C224.19,83.77 225.07,86.11 225.51,88.45 C226.18,91.26 227.29,93.13 227.73,96.64 C228.06,99.21 228.06,102.02 227.95,103.42 C227.73,106.23 225.51,106.70 223.30,106.70 C221.09,106.70 218.87,106.23 218.65,103.42 C218.54,102.02 218.54,99.21 218.87,96.64 C219.31,93.13 220.42,91.26 221.09,88.45 C221.53,86.11 222.41,83.77 223.30,83.30Z" fill="url(#mg)" filter="url(#tex)"/>
<path d="M118.80,109.30 C119.69,109.77 120.57,112.13 121.01,114.49 C121.68,117.32 122.79,119.21 123.23,122.75 C123.56,125.35 123.56,128.18 123.45,129.60 C123.23,132.43 121.01,132.90 118.80,132.90 C116.59,132.90 114.37,132.43 114.15,129.60 C114.04,128.18 114.04,125.35 114.37,122.75 C114.81,119.21 115.92,117.32 116.59,114.49 C117.03,112.13 117.91,109.77 118.80,109.30Z" fill="url(#mg)" filter="url(#tex)"/>
<path d="M128.60,109.30 C129.49,109.77 130.37,112.13 130.81,114.49 C131.48,117.32 132.59,119.21 133.03,122.75 C133.36,125.35 133.36,128.18 133.25,129.60 C133.03,132.43 130.81,132.90 128.60,132.90 C126.39,132.90 124.17,132.43 123.95,129.60 C123.84,128.18 123.84,125.35 124.17,122.75 C124.61,119.21 125.72,117.32 126.39,114.49 C126.83,112.13 127.71,109.77 128.60,109.30Z" fill="url(#mg)" filter="url(#tex)"/>
<path d="M140.20,109.30 C141.09,109.77 141.97,112.13 142.41,114.49 C143.08,117.32 144.19,119.21 144.63,122.75 C144.96,125.35 144.96,128.18 144.85,129.60 C144.63,132.43 142.41,132.90 140.20,132.90 C137.99,132.90 135.77,132.43 135.55,129.60 C135.44,128.18 135.44,125.35 135.77,122.75 C136.21,119.21 137.32,117.32 137.99,114.49 C138.43,112.13 139.31,109.77 140.20,109.30Z" fill="url(#mg)" filter="url(#tex)"/>
<path d="M149.80,109.30 C150.69,109.77 151.57,112.13 152.01,114.49 C152.68,117.32 153.79,119.21 154.23,122.75 C154.56,125.35 154.56,128.18 154.45,129.60 C154.23,132.43 152.01,132.90 149.80,132.90 C147.59,132.90 145.37,132.43 145.15,129.60 C145.04,128.18 145.04,125.35 145.37,122.75 C145.81,119.21 146.92,117.32 147.59,114.49 C148.03,112.13 148.91,109.77 149.80,109.30Z" fill="url(#mg)" filter="url(#tex)"/>
<path d="M160.00,109.30 C160.89,109.77 161.77,112.13 162.21,114.49 C162.88,117.32 163.99,119.21 164.43,122.75 C164.76,125.35 164.76,128.18 164.65,129.60 C164.43,132.43 162.21,132.90 160.00,132.90 C157.79,132.90 155.57,132.43 155.35,129.60 C155.24,128.18 155.24,125.35 155.57,122.75 C156.01,119.21 157.12,117.32 157.79,114.49 C158.23,112.13 159.11,109.77 160.00,109.30Z" fill="url(#mg)" filter="url(#tex)"/>
<path d="M169.60,109.30 C170.49,109.77 171.37,112.13 171.81,114.49 C172.48,117.32 173.59,119.21 174.03,122.75 C174.36,125.35 174.36,128.18 174.25,129.60 C174.03,132.43 171.81,132.90 169.60,132.90 C167.39,132.90 165.17,132.43 164.95,129.60 C164.84,128.18 164.84,125.35 165.17,122.75 C165.61,119.21 166.72,117.32 167.39,114.49 C167.83,112.13 168.71,109.77 169.60,109.30Z" fill="url(#mg)" filter="url(#tex)"/>
<path d="M182.90,109.30 C183.79,109.77 184.67,112.13 185.11,114.49 C185.78,117.32 186.89,119.21 187.33,122.75 C187.66,125.35 187.66,128.18 187.55,129.60 C187.33,132.43 185.11,132.90 182.90,132.90 C180.69,132.90 178.47,132.43 178.25,129.60 C178.14,128.18 178.14,125.35 178.47,122.75 C178.91,119.21 180.02,117.32 180.69,114.49 C181.13,112.13 182.01,109.77 182.90,109.30Z" fill="url(#mg)" filter="url(#tex)"/>
<path d="M194.20,109.30 C195.09,109.77 195.97,112.13 196.41,114.49 C197.08,117.32 198.19,119.21 198.63,122.75 C198.96,125.35 198.96,128.18 198.85,129.60 C198.63,132.43 196.41,132.90 194.20,132.90 C191.99,132.90 189.77,132.43 189.55,129.60 C189.44,128.18 189.44,125.35 189.77,122.75 C190.21,119.21 191.32,117.32 191.99,114.49 C192.43,112.13 193.31,109.77 194.20,109.30Z" fill="url(#mg)" filter="url(#tex)"/>
<path d="M204.00,109.30 C204.89,109.77 205.77,112.13 206.21,114.49 C206.88,117.32 207.99,119.21 208.43,122.75 C208.76,125.35 208.76,128.18 208.65,129.60 C208.43,132.43 206.21,132.90 204.00,132.90 C201.79,132.90 199.57,132.43 199.35,129.60 C199.24,128.18 199.24,125.35 199.57,122.75 C200.01,119.21 201.12,117.32 201.79,114.49 C202.23,112.13 203.11,109.77 204.00,109.30Z" fill="url(#mg)" filter="url(#tex)"/>
<path d="M213.70,109.30 C214.59,109.77 215.47,112.13 215.91,114.49 C216.58,117.32 217.69,119.21 218.13,122.75 C218.46,125.35 218.46,128.18 218.35,129.60 C218.13,132.43 215.91,132.90 213.70,132.90 C211.49,132.90 209.27,132.43 209.05,129.60 C208.94,128.18 208.94,125.35 209.27,122.75 C209.71,119.21 210.82,117.32 211.49,114.49 C211.93,112.13 212.81,109.77 213.70,109.30Z" fill="url(#mg)" filter="url(#tex)"/>
<path d="M223.30,109.30 C224.19,109.77 225.07,112.13 225.51,114.49 C226.18,117.32 227.29,119.21 227.73,122.75 C228.06,125.35 228.06,128.18 227.95,129.60 C227.73,132.43 225.51,132.90 223.30,132.90 C221.09,132.90 218.87,132.43 218.65,129.60 C218.54,128.18 218.54,125.35 218.87,122.75 C219.31,119.21 220.42,117.32 221.09,114.49 C221.53,112.13 222.41,109.77 223.30,109.30Z" fill="url(#mg)" filter="url(#tex)"/>
<ellipse cx="194.20" cy="84.60" rx="1.0" ry="1.0" fill="#4b42c2" opacity="1"/>
<ellipse cx="203.80" cy="83.20" rx="1.0" ry="0.8" fill="#4b42c2" opacity="1"/>
<ellipse cx="193.60" cy="112.30" rx="1.7" ry="1.6" fill="#4b42c2" opacity="1"/>
<ellipse cx="160.30" cy="110.50" rx="1.2" ry="1" fill="#4b42c2" opacity="1"/>
<line x1="285.20" y1="26.20" x2="285.20" y2="104.00" stroke="#111" stroke-width="1.0"/>
<line x1="282.80" y1="101.30" x2="285.20" y2="101.30" stroke="#111" stroke-width="0.9"/>
<text x="268.49" y="105.80" font-size="7.5" text-anchor="start" fill="#111" stroke="#111" stroke-width="0.2">10</text>
<text x="277.23" y="102.20" font-size="4.8" text-anchor="start" fill="#111" stroke="#111" stroke-width="0.2">5</text>
<line x1="282.80" y1="89.15" x2="285.20" y2="89.15" stroke="#111" stroke-width="0.9"/>
<text x="268.49" y="93.65" font-size="7.5" text-anchor="start" fill="#111" stroke="#111" stroke-width="0.2">10</text>
<text x="277.23" y="90.05" font-size="4.8" text-anchor="start" fill="#111" stroke="#111" stroke-width="0.2">6</text>
<line x1="282.80" y1="77.00" x2="285.20" y2="77.00" stroke="#111" stroke-width="0.9"/>
<text x="268.49" y="81.50" font-size="7.5" text-anchor="start" fill="#111" stroke="#111" stroke-width="0.2">10</text>
<text x="277.23" y="77.90" font-size="4.8" text-anchor="start" fill="#111" stroke="#111" stroke-width="0.2">7</text>
<line x1="282.80" y1="64.85" x2="285.20" y2="64.85" stroke="#111" stroke-width="0.9"/>
<text x="268.49" y="69.35" font-size="7.5" text-anchor="start" fill="#111" stroke="#111" stroke-width="0.2">10</text>
<text x="277.23" y="65.75" font-size="4.8" text-anchor="start" fill="#111" stroke="#111" stroke-width="0.2">8</text>
<line x1="282.80" y1="52.70" x2="285.20" y2="52.70" stroke="#111" stroke-width="0.9"/>
<text x="268.49" y="57.20" font-size="7.5" text-anchor="start" fill="#111" stroke="#111" stroke-width="0.2">10</text>
<text x="277.23" y="53.60" font-size="4.8" text-anchor="start" fill="#111" stroke="#111" stroke-width="0.2">9</text>
<line x1="282.80" y1="40.55" x2="285.20" y2="40.55" stroke="#111" stroke-width="0.9"/>
<text x="265.82" y="45.05" font-size="7.5" text-anchor="start" fill="#111" stroke="#111" stroke-width="0.2">10</text>
<text x="274.56" y="41.45" font-size="4.8" text-anchor="start" fill="#111" stroke="#111" stroke-width="0.2">10</text>
<line x1="282.80" y1="28.40" x2="285.20" y2="28.40" stroke="#111" stroke-width="0.9"/>
<text x="265.82" y="32.90" font-size="7.5" text-anchor="start" fill="#111" stroke="#111" stroke-width="0.2">10</text>
<text x="274.56" y="29.30" font-size="4.8" text-anchor="start" fill="#111" stroke="#111" stroke-width="0.2">11</text>
<line x1="291.00" y1="109.30" x2="368.50" y2="109.30" stroke="#111" stroke-width="1.0"/>
<line x1="293.20" y1="109.30" x2="293.20" y2="112.30" stroke="#111" stroke-width="0.9"/>
<line x1="303.50" y1="109.30" x2="303.50" y2="112.30" stroke="#111" stroke-width="0.9"/>
<line x1="313.80" y1="109.30" x2="313.80" y2="112.30" stroke="#111" stroke-width="0.9"/>
<line x1="324.10" y1="109.30" x2="324.10" y2="112.30" stroke="#111" stroke-width="0.9"/>
<line x1="334.40" y1="109.30" x2="334.40" y2="112.30" stroke="#111" stroke-width="0.9"/>
<line x1="344.70" y1="109.30" x2="344.70" y2="112.30" stroke="#111" stroke-width="0.9"/>
<line x1="355.00" y1="109.30" x2="355.00" y2="112.30" stroke="#111" stroke-width="0.9"/>
<line x1="365.30" y1="109.30" x2="365.30" y2="112.30" stroke="#111" stroke-width="0.9"/>
<text x="293.40" y="122.10" font-size="6.9" text-anchor="middle" fill="#111" stroke="#111" stroke-width="0.2">0</text>
<text x="314.00" y="122.10" font-size="6.9" text-anchor="middle" fill="#111" stroke="#111" stroke-width="0.2">20</text>
<text x="334.60" y="122.10" font-size="6.9" text-anchor="middle" fill="#111" stroke="#111" stroke-width="0.2">40</text>
<text x="355.20" y="122.10" font-size="6.9" text-anchor="middle" fill="#111" stroke="#111" stroke-width="0.2">60</text>
<text x="329.30" y="135.20" font-size="9.0" text-anchor="middle" fill="#111" stroke="#111" stroke-width="0.2" textLength="66.8" lengthAdjust="spacingAndGlyphs">Days after ALL injection</text>
<text x="258.30" y="64.90" font-size="9.0" text-anchor="middle" fill="#111" stroke="#111" stroke-width="0.2" textLength="33.8" lengthAdjust="spacingAndGlyphs" transform="rotate(-90 258.30 64.90)">Photons/sec</text>
<line x1="348.20" y1="29.70" x2="357.60" y2="29.70" stroke="#1d3a7e" stroke-width="1.0"/>
<circle cx="352.90" cy="29.70" r="1.6" fill="#1d3a7e" stroke="none" stroke-width="0"/>
<text x="361.00" y="32.30" font-size="7.4" text-anchor="start" fill="#111" stroke="#111" stroke-width="0.2" textLength="23.2" lengthAdjust="spacingAndGlyphs">Control</text>
<line x1="348.20" y1="40.80" x2="357.60" y2="40.80" stroke="#5aa12e" stroke-width="1.0"/>
<circle cx="352.90" cy="40.80" r="1.6" fill="#5aa12e" stroke="none" stroke-width="0"/>
<text x="361.00" y="43.40" font-size="7.4" text-anchor="start" fill="#111" stroke="#111" stroke-width="0.2" textLength="14.8" lengthAdjust="spacingAndGlyphs">CAR</text>
<line x1="348.20" y1="51.90" x2="357.60" y2="51.90" stroke="#8478c8" stroke-width="1.0"/>
<circle cx="352.90" cy="51.90" r="1.6" fill="#8478c8" stroke="none" stroke-width="0"/>
<text x="361.00" y="54.50" font-size="7.4" text-anchor="start" fill="#111" stroke="#111" stroke-width="0.2" textLength="18.4" lengthAdjust="spacingAndGlyphs">DUAL</text>
<polyline points="296.3,95.0 300.4,95.4 303.5,95.8 307.6,95.0 310.7,94.2 314.8,95.0 317.9,94.6 325.1,86.0 332.3,88.0 339.6,89.0 346.8,89.5 356.0,95.7" fill="none" stroke="#8478c8" stroke-width="0.85"/>
<circle cx="296.29" cy="95.00" r="1.8" fill="#8478c8" stroke="none" stroke-width="0"/>
<circle cx="300.41" cy="95.40" r="1.8" fill="#8478c8" stroke="none" stroke-width="0"/>
<circle cx="303.50" cy="95.80" r="1.8" fill="#8478c8" stroke="none" stroke-width="0"/>
<circle cx="307.62" cy="95.00" r="1.8" fill="#8478c8" stroke="none" stroke-width="0"/>
<circle cx="310.71" cy="94.20" r="1.8" fill="#8478c8" stroke="none" stroke-width="0"/>
<circle cx="314.83" cy="95.00" r="1.8" fill="#8478c8" stroke="none" stroke-width="0"/>
<circle cx="317.92" cy="94.60" r="1.8" fill="#8478c8" stroke="none" stroke-width="0"/>
<circle cx="325.13" cy="86.00" r="1.8" fill="#8478c8" stroke="none" stroke-width="0"/>
<circle cx="332.34" cy="88.00" r="1.8" fill="#8478c8" stroke="none" stroke-width="0"/>
<circle cx="339.55" cy="89.00" r="1.8" fill="#8478c8" stroke="none" stroke-width="0"/>
<circle cx="346.76" cy="89.50" r="1.8" fill="#8478c8" stroke="none" stroke-width="0"/>
<circle cx="356.03" cy="95.70" r="1.8" fill="#8478c8" stroke="none" stroke-width="0"/>
<polyline points="296.3,93.5 300.4,96.0 303.5,94.0 307.6,96.5 314.8,94.0 322.0,93.8 325.1,93.0 332.3,95.2 339.6,93.3 346.8,94.7 356.0,94.8" fill="none" stroke="#8478c8" stroke-width="0.85"/>
<circle cx="296.29" cy="93.50" r="1.8" fill="#8478c8" stroke="none" stroke-width="0"/>
<circle cx="300.41" cy="96.00" r="1.8" fill="#8478c8" stroke="none" stroke-width="0"/>
<circle cx="303.50" cy="94.00" r="1.8" fill="#8478c8" stroke="none" stroke-width="0"/>
<circle cx="307.62" cy="96.50" r="1.8" fill="#8478c8" stroke="none" stroke-width="0"/>
<circle cx="314.83" cy="94.00" r="1.8" fill="#8478c8" stroke="none" stroke-width="0"/>
<circle cx="322.04" cy="93.80" r="1.8" fill="#8478c8" stroke="none" stroke-width="0"/>
<circle cx="325.13" cy="93.00" r="1.8" fill="#8478c8" stroke="none" stroke-width="0"/>
<circle cx="332.34" cy="95.20" r="1.8" fill="#8478c8" stroke="none" stroke-width="0"/>
<circle cx="339.55" cy="93.30" r="1.8" fill="#8478c8" stroke="none" stroke-width="0"/>
<circle cx="346.76" cy="94.70" r="1.8" fill="#8478c8" stroke="none" stroke-width="0"/>
<circle cx="356.03" cy="94.80" r="1.8" fill="#8478c8" stroke="none" stroke-width="0"/>
<polyline points="296.3,96.5 300.4,94.5 307.6,93.0 310.7,96.0 317.9,96.5 325.1,95.0 336.5,94.0 343.7,96.0 356.0,96.5" fill="none" stroke="#8478c8" stroke-width="0.85"/>
<circle cx="296.29" cy="96.50" r="1.8" fill="#8478c8" stroke="none" stroke-width="0"/>
<circle cx="300.41" cy="94.50" r="1.8" fill="#8478c8" stroke="none" stroke-width="0"/>
<circle cx="307.62" cy="93.00" r="1.8" fill="#8478c8" stroke="none" stroke-width="0"/>
<circle cx="310.71" cy="96.00" r="1.8" fill="#8478c8" stroke="none" stroke-width="0"/>
<circle cx="317.92" cy="96.50" r="1.8" fill="#8478c8" stroke="none" stroke-width="0"/>
<circle cx="325.13" cy="95.00" r="1.8" fill="#8478c8" stroke="none" stroke-width="0"/>
<circle cx="336.46" cy="94.00" r="1.8" fill="#8478c8" stroke="none" stroke-width="0"/>
<circle cx="343.67" cy="96.00" r="1.8" fill="#8478c8" stroke="none" stroke-width="0"/>
<circle cx="356.03" cy="96.50" r="1.8" fill="#8478c8" stroke="none" stroke-width="0"/>
<polyline points="296.3,83.8 300.4,86.5 303.5,88.0 307.6,87.7 310.7,87.3 314.8,85.8 322.0,89.4 329.2,89.4 336.5,89.9 343.7,90.4 350.9,90.9 356.0,88.0" fill="none" stroke="#5aa12e" stroke-width="0.85"/>
<circle cx="296.29" cy="83.80" r="1.8" fill="#5aa12e" stroke="none" stroke-width="0"/>
<circle cx="300.41" cy="86.50" r="1.8" fill="#5aa12e" stroke="none" stroke-width="0"/>
<circle cx="303.50" cy="88.00" r="1.8" fill="#5aa12e" stroke="none" stroke-width="0"/>
<circle cx="307.62" cy="87.70" r="1.8" fill="#5aa12e" stroke="none" stroke-width="0"/>
<circle cx="310.71" cy="87.30" r="1.8" fill="#5aa12e" stroke="none" stroke-width="0"/>
<circle cx="314.83" cy="85.80" r="1.8" fill="#5aa12e" stroke="none" stroke-width="0"/>
<circle cx="322.04" cy="89.40" r="1.8" fill="#5aa12e" stroke="none" stroke-width="0"/>
<circle cx="329.25" cy="89.40" r="1.8" fill="#5aa12e" stroke="none" stroke-width="0"/>
<circle cx="336.46" cy="89.90" r="1.8" fill="#5aa12e" stroke="none" stroke-width="0"/>
<circle cx="343.67" cy="90.40" r="1.8" fill="#5aa12e" stroke="none" stroke-width="0"/>
<circle cx="350.88" cy="90.90" r="1.8" fill="#5aa12e" stroke="none" stroke-width="0"/>
<circle cx="356.03" cy="88.00" r="1.8" fill="#5aa12e" stroke="none" stroke-width="0"/>
<polyline points="296.3,85.8 300.4,88.0 303.5,90.8 307.6,92.3 310.7,95.4 314.8,88.0 322.0,90.0 329.2,94.2 336.5,94.7 343.7,90.9 356.0,90.9" fill="none" stroke="#5aa12e" stroke-width="0.85"/>
<circle cx="296.29" cy="85.80" r="1.8" fill="#5aa12e" stroke="none" stroke-width="0"/>
<circle cx="300.41" cy="88.00" r="1.8" fill="#5aa12e" stroke="none" stroke-width="0"/>
<circle cx="303.50" cy="90.80" r="1.8" fill="#5aa12e" stroke="none" stroke-width="0"/>
<circle cx="307.62" cy="92.30" r="1.8" fill="#5aa12e" stroke="none" stroke-width="0"/>
<circle cx="310.71" cy="95.40" r="1.8" fill="#5aa12e" stroke="none" stroke-width="0"/>
<circle cx="314.83" cy="88.00" r="1.8" fill="#5aa12e" stroke="none" stroke-width="0"/>
<circle cx="322.04" cy="90.00" r="1.8" fill="#5aa12e" stroke="none" stroke-width="0"/>
<circle cx="329.25" cy="94.20" r="1.8" fill="#5aa12e" stroke="none" stroke-width="0"/>
<circle cx="336.46" cy="94.70" r="1.8" fill="#5aa12e" stroke="none" stroke-width="0"/>
<circle cx="343.67" cy="90.90" r="1.8" fill="#5aa12e" stroke="none" stroke-width="0"/>
<circle cx="356.03" cy="90.90" r="1.8" fill="#5aa12e" stroke="none" stroke-width="0"/>
<polyline points="296.3,87.7 300.4,90.8 303.5,93.0 307.6,92.3 310.7,99.6 314.8,96.2 322.0,97.3 329.2,96.1 336.5,89.4 343.7,94.0 356.0,92.3" fill="none" stroke="#5aa12e" stroke-width="0.85"/>
<circle cx="296.29" cy="87.70" r="1.8" fill="#5aa12e" stroke="none" stroke-width="0"/>
<circle cx="300.41" cy="90.80" r="1.8" fill="#5aa12e" stroke="none" stroke-width="0"/>
<circle cx="303.50" cy="93.00" r="1.8" fill="#5aa12e" stroke="none" stroke-width="0"/>
<circle cx="307.62" cy="92.30" r="1.8" fill="#5aa12e" stroke="none" stroke-width="0"/>
<circle cx="310.71" cy="99.60" r="1.8" fill="#5aa12e" stroke="none" stroke-width="0"/>
<circle cx="314.83" cy="96.20" r="1.8" fill="#5aa12e" stroke="none" stroke-width="0"/>
<circle cx="322.04" cy="97.30" r="1.8" fill="#5aa12e" stroke="none" stroke-width="0"/>
<circle cx="329.25" cy="96.10" r="1.8" fill="#5aa12e" stroke="none" stroke-width="0"/>
<circle cx="336.46" cy="89.40" r="1.8" fill="#5aa12e" stroke="none" stroke-width="0"/>
<circle cx="343.67" cy="94.00" r="1.8" fill="#5aa12e" stroke="none" stroke-width="0"/>
<circle cx="356.03" cy="92.30" r="1.8" fill="#5aa12e" stroke="none" stroke-width="0"/>
<polyline points="296.3,84.5 300.4,87.0 303.5,97.3 307.6,95.0 310.7,87.3 317.9,90.0 325.1,90.8 332.3,89.4 339.6,92.0 346.8,91.0 356.0,89.0" fill="none" stroke="#5aa12e" stroke-width="0.85"/>
<circle cx="296.29" cy="84.50" r="1.8" fill="#5aa12e" stroke="none" stroke-width="0"/>
<circle cx="300.41" cy="87.00" r="1.8" fill="#5aa12e" stroke="none" stroke-width="0"/>
<circle cx="303.50" cy="97.30" r="1.8" fill="#5aa12e" stroke="none" stroke-width="0"/>
<circle cx="307.62" cy="95.00" r="1.8" fill="#5aa12e" stroke="none" stroke-width="0"/>
<circle cx="310.71" cy="87.30" r="1.8" fill="#5aa12e" stroke="none" stroke-width="0"/>
<circle cx="317.92" cy="90.00" r="1.8" fill="#5aa12e" stroke="none" stroke-width="0"/>
<circle cx="325.13" cy="90.80" r="1.8" fill="#5aa12e" stroke="none" stroke-width="0"/>
<circle cx="332.34" cy="89.40" r="1.8" fill="#5aa12e" stroke="none" stroke-width="0"/>
<circle cx="339.55" cy="92.00" r="1.8" fill="#5aa12e" stroke="none" stroke-width="0"/>
<circle cx="346.76" cy="91.00" r="1.8" fill="#5aa12e" stroke="none" stroke-width="0"/>
<circle cx="356.03" cy="89.00" r="1.8" fill="#5aa12e" stroke="none" stroke-width="0"/>
<polyline points="296.3,86.0 300.4,93.0 303.5,95.5 307.6,87.7 314.8,92.5 322.0,96.0 329.2,91.0 336.5,95.0 346.8,93.5 356.0,91.5" fill="none" stroke="#5aa12e" stroke-width="0.85"/>
<circle cx="296.29" cy="86.00" r="1.8" fill="#5aa12e" stroke="none" stroke-width="0"/>
<circle cx="300.41" cy="93.00" r="1.8" fill="#5aa12e" stroke="none" stroke-width="0"/>
<circle cx="303.50" cy="95.50" r="1.8" fill="#5aa12e" stroke="none" stroke-width="0"/>
<circle cx="307.62" cy="87.70" r="1.8" fill="#5aa12e" stroke="none" stroke-width="0"/>
<circle cx="314.83" cy="92.50" r="1.8" fill="#5aa12e" stroke="none" stroke-width="0"/>
<circle cx="322.04" cy="96.00" r="1.8" fill="#5aa12e" stroke="none" stroke-width="0"/>
<circle cx="329.25" cy="91.00" r="1.8" fill="#5aa12e" stroke="none" stroke-width="0"/>
<circle cx="336.46" cy="95.00" r="1.8" fill="#5aa12e" stroke="none" stroke-width="0"/>
<circle cx="346.76" cy="93.50" r="1.8" fill="#5aa12e" stroke="none" stroke-width="0"/>
<circle cx="356.03" cy="91.50" r="1.8" fill="#5aa12e" stroke="none" stroke-width="0"/>
<polyline points="296.4,95.5 300.6,73.0 303.0,63.5 306.6,53.0 310.2,39.4" fill="none" stroke="#1d3a7e" stroke-width="0.85"/>
<circle cx="296.40" cy="95.50" r="1.8" fill="#1d3a7e" stroke="none" stroke-width="0"/>
<circle cx="300.60" cy="73.00" r="1.8" fill="#1d3a7e" stroke="none" stroke-width="0"/>
<circle cx="303.00" cy="63.50" r="1.8" fill="#1d3a7e" stroke="none" stroke-width="0"/>
<circle cx="306.60" cy="53.00" r="1.8" fill="#1d3a7e" stroke="none" stroke-width="0"/>
<circle cx="310.20" cy="39.40" r="1.8" fill="#1d3a7e" stroke="none" stroke-width="0"/>
<polyline points="296.8,89.2 300.0,77.4 302.4,61.0 308.4,52.0 313.8,46.0" fill="none" stroke="#1d3a7e" stroke-width="0.85"/>
<circle cx="296.80" cy="89.20" r="1.8" fill="#1d3a7e" stroke="none" stroke-width="0"/>
<circle cx="300.00" cy="77.40" r="1.8" fill="#1d3a7e" stroke="none" stroke-width="0"/>
<circle cx="302.40" cy="61.00" r="1.8" fill="#1d3a7e" stroke="none" stroke-width="0"/>
<circle cx="308.40" cy="52.00" r="1.8" fill="#1d3a7e" stroke="none" stroke-width="0"/>
<circle cx="313.80" cy="46.00" r="1.8" fill="#1d3a7e" stroke="none" stroke-width="0"/>
<polyline points="296.6,83.4 300.0,72.6 303.6,63.5 306.6,63.5 310.8,54.4" fill="none" stroke="#1d3a7e" stroke-width="0.85"/>
<circle cx="296.60" cy="83.40" r="1.8" fill="#1d3a7e" stroke="none" stroke-width="0"/>
<circle cx="300.00" cy="72.60" r="1.8" fill="#1d3a7e" stroke="none" stroke-width="0"/>
<circle cx="303.60" cy="63.50" r="1.8" fill="#1d3a7e" stroke="none" stroke-width="0"/>
<circle cx="306.60" cy="63.50" r="1.8" fill="#1d3a7e" stroke="none" stroke-width="0"/>
<circle cx="310.80" cy="54.40" r="1.8" fill="#1d3a7e" stroke="none" stroke-width="0"/>
<polyline points="300.0,79.2 303.0,79.2 306.6,75.0 306.6,74.3 310.8,52.6" fill="none" stroke="#1d3a7e" stroke-width="0.85"/>
<circle cx="300.00" cy="79.20" r="1.8" fill="#1d3a7e" stroke="none" stroke-width="0"/>
<circle cx="303.00" cy="79.20" r="1.8" fill="#1d3a7e" stroke="none" stroke-width="0"/>
<circle cx="306.60" cy="75.00" r="1.8" fill="#1d3a7e" stroke="none" stroke-width="0"/>
<circle cx="306.60" cy="74.30" r="1.8" fill="#1d3a7e" stroke="none" stroke-width="0"/>
<circle cx="310.80" cy="52.60" r="1.8" fill="#1d3a7e" stroke="none" stroke-width="0"/>
<polyline points="307.8,82.8 310.8,79.0 315.0,69.2 317.8,53.8 322.3,47.2 326.2,42.4 333.4,32.5" fill="none" stroke="#1d3a7e" stroke-width="0.85"/>
<circle cx="307.80" cy="82.80" r="1.8" fill="#1d3a7e" stroke="none" stroke-width="0"/>
<circle cx="310.80" cy="79.00" r="1.8" fill="#1d3a7e" stroke="none" stroke-width="0"/>
<circle cx="315.00" cy="69.20" r="1.8" fill="#1d3a7e" stroke="none" stroke-width="0"/>
<circle cx="317.80" cy="53.80" r="1.8" fill="#1d3a7e" stroke="none" stroke-width="0"/>
<circle cx="322.30" cy="47.20" r="1.8" fill="#1d3a7e" stroke="none" stroke-width="0"/>
<circle cx="326.20" cy="42.40" r="1.8" fill="#1d3a7e" stroke="none" stroke-width="0"/>
<circle cx="333.40" cy="32.50" r="1.8" fill="#1d3a7e" stroke="none" stroke-width="0"/>
<polyline points="296.4,86.5 300.6,82.0 303.0,78.0 306.0,70.0 308.5,60.0" fill="none" stroke="#1d3a7e" stroke-width="0.85"/>
<circle cx="296.40" cy="86.50" r="1.8" fill="#1d3a7e" stroke="none" stroke-width="0"/>
<circle cx="300.60" cy="82.00" r="1.8" fill="#1d3a7e" stroke="none" stroke-width="0"/>
<circle cx="303.00" cy="78.00" r="1.8" fill="#1d3a7e" stroke="none" stroke-width="0"/>
<circle cx="306.00" cy="70.00" r="1.8" fill="#1d3a7e" stroke="none" stroke-width="0"/>
<circle cx="308.50" cy="60.00" r="1.8" fill="#1d3a7e" stroke="none" stroke-width="0"/>
<line x1="440.00" y1="32.40" x2="440.00" y2="110.00" stroke="#111" stroke-width="1.0"/>
<line x1="439.50" y1="109.50" x2="512.60" y2="109.50" stroke="#111" stroke-width="1.0"/>
<line x1="437.40" y1="109.50" x2="440.00" y2="109.50" stroke="#111" stroke-width="0.9"/>
<text x="424.29" y="114.00" font-size="7.5" text-anchor="start" fill="#111" stroke="#111" stroke-width="0.2">10</text>
<text x="433.03" y="110.40" font-size="4.8" text-anchor="start" fill="#111" stroke="#111" stroke-width="0.2">0</text>
<line x1="437.40" y1="90.98" x2="440.00" y2="90.98" stroke="#111" stroke-width="0.9"/>
<text x="424.29" y="95.48" font-size="7.5" text-anchor="start" fill="#111" stroke="#111" stroke-width="0.2">10</text>
<text x="433.03" y="91.88" font-size="4.8" text-anchor="start" fill="#111" stroke="#111" stroke-width="0.2">1</text>
<line x1="437.40" y1="72.46" x2="440.00" y2="72.46" stroke="#111" stroke-width="0.9"/>
<text x="424.29" y="76.96" font-size="7.5" text-anchor="start" fill="#111" stroke="#111" stroke-width="0.2">10</text>
<text x="433.03" y="73.36" font-size="4.8" text-anchor="start" fill="#111" stroke="#111" stroke-width="0.2">2</text>
<line x1="437.40" y1="53.94" x2="440.00" y2="53.94" stroke="#111" stroke-width="0.9"/>
<text x="424.29" y="58.44" font-size="7.5" text-anchor="start" fill="#111" stroke="#111" stroke-width="0.2">10</text>
<text x="433.03" y="54.84" font-size="4.8" text-anchor="start" fill="#111" stroke="#111" stroke-width="0.2">3</text>
<line x1="437.40" y1="35.42" x2="440.00" y2="35.42" stroke="#111" stroke-width="0.9"/>
<text x="424.29" y="39.92" font-size="7.5" text-anchor="start" fill="#111" stroke="#111" stroke-width="0.2">10</text>
<text x="433.03" y="36.32" font-size="4.8" text-anchor="start" fill="#111" stroke="#111" stroke-width="0.2">4</text>
<line x1="458.50" y1="109.50" x2="458.50" y2="112.20" stroke="#111" stroke-width="0.9"/>
<line x1="494.60" y1="109.50" x2="494.60" y2="112.20" stroke="#111" stroke-width="0.9"/>
<text x="458.40" y="122.20" font-size="7.4" text-anchor="middle" fill="#111" stroke="#111" stroke-width="0.2" textLength="15.2" lengthAdjust="spacingAndGlyphs">CAR</text>
<text x="494.40" y="122.20" font-size="7.4" text-anchor="middle" fill="#111" stroke="#111" stroke-width="0.2" textLength="18.4" lengthAdjust="spacingAndGlyphs">DUAL</text>
<text x="415.30" y="71.00" font-size="9.0" text-anchor="middle" fill="#111" stroke="#111" stroke-width="0.2" textLength="43.4" lengthAdjust="spacingAndGlyphs" transform="rotate(-90 415.30 71.00)">CAR-T cells/μL</text>
<circle cx="458.10" cy="57.80" r="1.9" fill="#5aa12e" stroke="none" stroke-width="0"/>
<circle cx="458.10" cy="82.80" r="1.9" fill="#5aa12e" stroke="none" stroke-width="0"/>
<circle cx="460.60" cy="103.10" r="1.9" fill="#5aa12e" stroke="none" stroke-width="0"/>
<circle cx="455.90" cy="106.60" r="1.9" fill="#5aa12e" stroke="none" stroke-width="0"/>
<circle cx="494.60" cy="48.90" r="1.9" fill="#8478c8" stroke="none" stroke-width="0"/>
<circle cx="494.60" cy="64.00" r="1.9" fill="#8478c8" stroke="none" stroke-width="0"/>
<circle cx="494.60" cy="79.70" r="1.9" fill="#8478c8" stroke="none" stroke-width="0"/>
<circle cx="494.60" cy="98.75" r="1.9" fill="#8478c8" stroke="none" stroke-width="0"/>
<line x1="47.30" y1="170.80" x2="47.30" y2="247.60" stroke="#111" stroke-width="1.0"/>
<line x1="44.30" y1="247.10" x2="163.00" y2="247.10" stroke="#111" stroke-width="1.0"/>
<line x1="44.60" y1="247.00" x2="47.30" y2="247.00" stroke="#111" stroke-width="0.9"/>
<text x="41.10" y="249.50" font-size="7.0" text-anchor="end" fill="#111" stroke="#111" stroke-width="0.2">0</text>
<line x1="44.60" y1="232.34" x2="47.30" y2="232.34" stroke="#111" stroke-width="0.9"/>
<text x="41.10" y="234.84" font-size="7.0" text-anchor="end" fill="#111" stroke="#111" stroke-width="0.2">20</text>
<line x1="44.60" y1="217.68" x2="47.30" y2="217.68" stroke="#111" stroke-width="0.9"/>
<text x="41.10" y="220.18" font-size="7.0" text-anchor="end" fill="#111" stroke="#111" stroke-width="0.2">40</text>
<line x1="44.60" y1="203.02" x2="47.30" y2="203.02" stroke="#111" stroke-width="0.9"/>
<text x="41.10" y="205.52" font-size="7.0" text-anchor="end" fill="#111" stroke="#111" stroke-width="0.2">60</text>
<line x1="44.60" y1="188.36" x2="47.30" y2="188.36" stroke="#111" stroke-width="0.9"/>
<text x="41.10" y="190.86" font-size="7.0" text-anchor="end" fill="#111" stroke="#111" stroke-width="0.2">80</text>
<line x1="44.60" y1="173.70" x2="47.30" y2="173.70" stroke="#111" stroke-width="0.9"/>
<text x="41.10" y="176.20" font-size="7.0" text-anchor="end" fill="#111" stroke="#111" stroke-width="0.2">100</text>
<line x1="47.40" y1="247.10" x2="47.40" y2="249.80" stroke="#111" stroke-width="0.9"/>
<text x="47.50" y="259.80" font-size="7.0" text-anchor="middle" fill="#111" stroke="#111" stroke-width="0.2">0</text>
<line x1="70.00" y1="247.10" x2="70.00" y2="249.80" stroke="#111" stroke-width="0.9"/>
<text x="70.10" y="259.80" font-size="7.0" text-anchor="middle" fill="#111" stroke="#111" stroke-width="0.2">20</text>
<line x1="92.60" y1="247.10" x2="92.60" y2="249.80" stroke="#111" stroke-width="0.9"/>
<text x="92.70" y="259.80" font-size="7.0" text-anchor="middle" fill="#111" stroke="#111" stroke-width="0.2">40</text>
<line x1="115.20" y1="247.10" x2="115.20" y2="249.80" stroke="#111" stroke-width="0.9"/>
<text x="115.30" y="259.80" font-size="7.0" text-anchor="middle" fill="#111" stroke="#111" stroke-width="0.2">60</text>
<line x1="137.80" y1="247.10" x2="137.80" y2="249.80" stroke="#111" stroke-width="0.9"/>
<text x="137.90" y="259.80" font-size="7.0" text-anchor="middle" fill="#111" stroke="#111" stroke-width="0.2">80</text>
<line x1="160.40" y1="247.10" x2="160.40" y2="249.80" stroke="#111" stroke-width="0.9"/>
<text x="160.50" y="259.80" font-size="7.0" text-anchor="middle" fill="#111" stroke="#111" stroke-width="0.2">100</text>
<text x="105.30" y="272.60" font-size="9.0" text-anchor="middle" fill="#111" stroke="#111" stroke-width="0.2" textLength="66.8" lengthAdjust="spacingAndGlyphs">Days after ALL injection</text>
<text x="23.00" y="209.10" font-size="9.0" text-anchor="middle" fill="#111" stroke="#111" stroke-width="0.2" textLength="29.0" lengthAdjust="spacingAndGlyphs" transform="rotate(-90 23.00 209.10)">% survival</text>
<polyline points="47.4,173.9 62.9,173.9 62.9,184.2 64.9,184.2 64.9,194.2 66.2,194.2 66.2,225.8 69.8,225.8 69.8,236.6 91.5,236.6 91.5,247.1" fill="none" stroke="#12284f" stroke-width="1.7"/>
<polyline points="47.4,173.9 62.9,173.9 62.9,184.2 64.9,184.2 64.9,194.2 66.2,194.2 66.2,225.8 69.8,225.8 69.8,236.6 91.5,236.6 91.5,247.1" fill="none" stroke="#2f5aa8" stroke-width="0.8"/>
<line x1="47.80" y1="173.70" x2="160.50" y2="173.70" stroke="#5aa12e" stroke-width="1.1"/>
<line x1="47.80" y1="173.70" x2="160.50" y2="173.70" stroke="#8478c8" stroke-width="1.1" stroke-dasharray="2.2 3.2"/>
<line x1="96.80" y1="172.20" x2="96.80" y2="173.70" stroke="#222" stroke-width="0.8"/>
<line x1="160.30" y1="172.20" x2="160.30" y2="173.70" stroke="#222" stroke-width="0.8"/>
<line x1="141.40" y1="183.60" x2="153.10" y2="183.60" stroke="#1d3a7e" stroke-width="1.3"/>
<text x="155.80" y="186.20" font-size="7.2" text-anchor="start" fill="#111" stroke="#111" stroke-width="0.2" textLength="22.9" lengthAdjust="spacingAndGlyphs">Control</text>
<line x1="141.40" y1="194.65" x2="153.10" y2="194.65" stroke="#5aa12e" stroke-width="1.3"/>
<text x="155.80" y="197.25" font-size="7.2" text-anchor="start" fill="#111" stroke="#111" stroke-width="0.2" textLength="14.8" lengthAdjust="spacingAndGlyphs">CAR</text>
<line x1="141.40" y1="205.70" x2="153.10" y2="205.70" stroke="#8478c8" stroke-width="1.3"/>
<text x="155.80" y="208.30" font-size="7.2" text-anchor="start" fill="#111" stroke="#111" stroke-width="0.2" textLength="18.2" lengthAdjust="spacingAndGlyphs">DUAL</text>
<line x1="96.30" y1="218.50" x2="108.00" y2="218.50" stroke="#5aa12e" stroke-width="1.2"/>
<text x="111.20" y="221.10" font-size="7.2" text-anchor="start" fill="#111" stroke="#111" stroke-width="0.2" textLength="11.2" lengthAdjust="spacingAndGlyphs">VS.</text>
<line x1="125.20" y1="218.50" x2="136.90" y2="218.50" stroke="#1d3a7e" stroke-width="1.2"/>
<text x="139.60" y="220.70" font-size="6.0" text-anchor="start" fill="#333" stroke="#333" stroke-width="0.2">**</text>
<line x1="96.30" y1="229.50" x2="108.00" y2="229.50" stroke="#8478c8" stroke-width="1.2"/>
<text x="111.20" y="232.10" font-size="7.2" text-anchor="start" fill="#111" stroke="#111" stroke-width="0.2" textLength="11.2" lengthAdjust="spacingAndGlyphs">VS.</text>
<line x1="125.20" y1="229.50" x2="136.90" y2="229.50" stroke="#1d3a7e" stroke-width="1.2"/>
<text x="139.60" y="231.70" font-size="6.0" text-anchor="start" fill="#333" stroke="#333" stroke-width="0.2">**</text>
<line x1="96.30" y1="240.70" x2="108.00" y2="240.70" stroke="#7cc25a" stroke-width="1.2"/>
<text x="111.20" y="243.30" font-size="7.2" text-anchor="start" fill="#111" stroke="#111" stroke-width="0.2" textLength="11.2" lengthAdjust="spacingAndGlyphs">VS.</text>
<line x1="125.20" y1="240.70" x2="136.90" y2="240.70" stroke="#b8b0e0" stroke-width="1.2"/>
<text x="139.60" y="243.30" font-size="6.8" text-anchor="start" fill="#888" stroke="#888" stroke-width="0.2" textLength="10.8" lengthAdjust="spacingAndGlyphs">n.s.</text>
<line x1="234.20" y1="170.40" x2="234.20" y2="247.20" stroke="#111" stroke-width="1.0"/>
<line x1="233.70" y1="246.70" x2="307.80" y2="246.70" stroke="#111" stroke-width="1.0"/>
<line x1="231.70" y1="246.70" x2="234.20" y2="246.70" stroke="#111" stroke-width="0.9"/>
<text x="227.90" y="249.20" font-size="7.0" text-anchor="end" fill="#111" stroke="#111" stroke-width="0.2">0</text>
<line x1="231.70" y1="231.95" x2="234.20" y2="231.95" stroke="#111" stroke-width="0.9"/>
<text x="227.90" y="234.45" font-size="7.0" text-anchor="end" fill="#111" stroke="#111" stroke-width="0.2">20</text>
<line x1="231.70" y1="217.20" x2="234.20" y2="217.20" stroke="#111" stroke-width="0.9"/>
<text x="227.90" y="219.70" font-size="7.0" text-anchor="end" fill="#111" stroke="#111" stroke-width="0.2">40</text>
<line x1="231.70" y1="202.45" x2="234.20" y2="202.45" stroke="#111" stroke-width="0.9"/>
<text x="227.90" y="204.95" font-size="7.0" text-anchor="end" fill="#111" stroke="#111" stroke-width="0.2">60</text>
<line x1="231.70" y1="187.70" x2="234.20" y2="187.70" stroke="#111" stroke-width="0.9"/>
<text x="227.90" y="190.20" font-size="7.0" text-anchor="end" fill="#111" stroke="#111" stroke-width="0.2">80</text>
<line x1="231.70" y1="172.95" x2="234.20" y2="172.95" stroke="#111" stroke-width="0.9"/>
<text x="227.90" y="175.45" font-size="7.0" text-anchor="end" fill="#111" stroke="#111" stroke-width="0.2">100</text>
<line x1="246.70" y1="246.70" x2="246.70" y2="249.40" stroke="#111" stroke-width="0.9"/>
<line x1="270.40" y1="246.70" x2="270.40" y2="249.40" stroke="#111" stroke-width="0.9"/>
<line x1="294.90" y1="246.70" x2="294.90" y2="249.40" stroke="#111" stroke-width="0.9"/>
<text x="246.50" y="259.60" font-size="7.4" text-anchor="middle" fill="#111" stroke="#111" stroke-width="0.2" textLength="23.8" lengthAdjust="spacingAndGlyphs">Control</text>
<text x="271.00" y="259.60" font-size="7.4" text-anchor="middle" fill="#111" stroke="#111" stroke-width="0.2" textLength="15.0" lengthAdjust="spacingAndGlyphs">CAR</text>
<text x="295.00" y="259.60" font-size="7.4" text-anchor="middle" fill="#111" stroke="#111" stroke-width="0.2" textLength="18.4" lengthAdjust="spacingAndGlyphs">DUAL</text>
<text x="208.90" y="208.60" font-size="9.0" text-anchor="middle" fill="#111" stroke="#111" stroke-width="0.2" textLength="57.0" lengthAdjust="spacingAndGlyphs" transform="rotate(-90 208.90 208.60)">Serum IL-6 (pg/mL)</text>
<polyline points="246.70,170.90 246.70,169.30 294.90,169.30 294.90,170.90" fill="none" stroke="#1a1a1a" stroke-width="1.0"/>
<text x="270.80" y="168.40" font-size="5.6" text-anchor="middle" fill="#333" stroke="#333" stroke-width="0.2">**</text>
<polyline points="246.70,178.10 246.70,176.50 270.00,176.50 270.00,178.10" fill="none" stroke="#1a1a1a" stroke-width="1.0"/>
<text x="258.40" y="175.00" font-size="6.4" text-anchor="middle" fill="#444" stroke="#444" stroke-width="0.2" textLength="9.4" lengthAdjust="spacingAndGlyphs">n.s.</text>
<polyline points="270.40,183.30 270.40,181.70 294.90,181.70 294.90,183.30" fill="none" stroke="#1a1a1a" stroke-width="1.0"/>
<text x="282.70" y="180.80" font-size="5.6" text-anchor="middle" fill="#333" stroke="#333" stroke-width="0.2">**</text>
<circle cx="246.50" cy="187.20" r="1.45" fill="#fff" stroke="#4a6ab0" stroke-width="0.95"/>
<circle cx="246.50" cy="195.90" r="1.45" fill="#fff" stroke="#4a6ab0" stroke-width="0.95"/>
<circle cx="246.50" cy="202.60" r="1.45" fill="#fff" stroke="#4a6ab0" stroke-width="0.95"/>
<circle cx="246.50" cy="206.70" r="1.45" fill="#fff" stroke="#4a6ab0" stroke-width="0.95"/>
<circle cx="246.50" cy="217.80" r="1.45" fill="#fff" stroke="#4a6ab0" stroke-width="0.95"/>
<circle cx="243.60" cy="222.50" r="1.45" fill="#fff" stroke="#4a6ab0" stroke-width="0.95"/>
<circle cx="249.40" cy="221.50" r="1.45" fill="#fff" stroke="#4a6ab0" stroke-width="0.95"/>
<line x1="238.20" y1="206.40" x2="254.70" y2="206.40" stroke="#111" stroke-width="1.2"/>
<circle cx="267.90" cy="187.50" r="1.9" fill="#5aa12e" stroke="none" stroke-width="0"/>
<circle cx="273.60" cy="185.80" r="1.9" fill="#5aa12e" stroke="none" stroke-width="0"/>
<circle cx="267.90" cy="204.80" r="1.9" fill="#5aa12e" stroke="none" stroke-width="0"/>
<circle cx="273.60" cy="205.60" r="1.9" fill="#5aa12e" stroke="none" stroke-width="0"/>
<circle cx="270.70" cy="212.60" r="1.9" fill="#5aa12e" stroke="none" stroke-width="0"/>
<circle cx="267.90" cy="217.20" r="1.9" fill="#5aa12e" stroke="none" stroke-width="0"/>
<circle cx="273.60" cy="218.20" r="1.9" fill="#5aa12e" stroke="none" stroke-width="0"/>
<circle cx="267.90" cy="220.30" r="1.9" fill="#5aa12e" stroke="none" stroke-width="0"/>
<circle cx="270.70" cy="228.30" r="1.9" fill="#5aa12e" stroke="none" stroke-width="0"/>
<circle cx="270.70" cy="231.60" r="1.9" fill="#5aa12e" stroke="none" stroke-width="0"/>
<line x1="262.80" y1="214.90" x2="279.00" y2="214.90" stroke="#111" stroke-width="1.2"/>
<circle cx="294.90" cy="207.10" r="1.9" fill="#8478c8" stroke="none" stroke-width="0"/>
<circle cx="291.60" cy="220.70" r="1.9" fill="#8478c8" stroke="none" stroke-width="0"/>
<circle cx="298.50" cy="220.50" r="1.9" fill="#8478c8" stroke="none" stroke-width="0"/>
<circle cx="294.90" cy="224.70" r="1.9" fill="#8478c8" stroke="none" stroke-width="0"/>
<circle cx="291.60" cy="229.60" r="1.9" fill="#8478c8" stroke="none" stroke-width="0"/>
<circle cx="298.50" cy="229.30" r="1.9" fill="#8478c8" stroke="none" stroke-width="0"/>
<circle cx="288.20" cy="239.20" r="1.9" fill="#8478c8" stroke="none" stroke-width="0"/>
<circle cx="294.90" cy="238.30" r="1.9" fill="#8478c8" stroke="none" stroke-width="0"/>
<circle cx="301.50" cy="235.90" r="1.9" fill="#8478c8" stroke="none" stroke-width="0"/>
<circle cx="301.50" cy="239.50" r="1.9" fill="#8478c8" stroke="none" stroke-width="0"/>
<line x1="286.90" y1="229.30" x2="303.10" y2="229.30" stroke="#111" stroke-width="1.2"/>
<line x1="362.60" y1="170.40" x2="362.60" y2="247.70" stroke="#111" stroke-width="1.0"/>
<line x1="362.10" y1="247.20" x2="436.00" y2="247.20" stroke="#111" stroke-width="1.0"/>
<line x1="360.10" y1="247.20" x2="362.60" y2="247.20" stroke="#111" stroke-width="0.9"/>
<text x="355.90" y="249.70" font-size="7.0" text-anchor="end" fill="#111" stroke="#111" stroke-width="0.2">0</text>
<line x1="360.10" y1="232.38" x2="362.60" y2="232.38" stroke="#111" stroke-width="0.9"/>
<text x="355.90" y="234.88" font-size="7.0" text-anchor="end" fill="#111" stroke="#111" stroke-width="0.2">20</text>
<line x1="360.10" y1="217.56" x2="362.60" y2="217.56" stroke="#111" stroke-width="0.9"/>
<text x="355.90" y="220.06" font-size="7.0" text-anchor="end" fill="#111" stroke="#111" stroke-width="0.2">40</text>
<line x1="360.10" y1="202.74" x2="362.60" y2="202.74" stroke="#111" stroke-width="0.9"/>
<text x="355.90" y="205.24" font-size="7.0" text-anchor="end" fill="#111" stroke="#111" stroke-width="0.2">60</text>
<line x1="360.10" y1="187.92" x2="362.60" y2="187.92" stroke="#111" stroke-width="0.9"/>
<text x="355.90" y="190.42" font-size="7.0" text-anchor="end" fill="#111" stroke="#111" stroke-width="0.2">80</text>
<line x1="360.10" y1="173.10" x2="362.60" y2="173.10" stroke="#111" stroke-width="0.9"/>
<text x="355.90" y="175.60" font-size="7.0" text-anchor="end" fill="#111" stroke="#111" stroke-width="0.2">100</text>
<line x1="371.60" y1="247.20" x2="371.60" y2="249.90" stroke="#111" stroke-width="0.9"/>
<line x1="390.00" y1="247.20" x2="390.00" y2="249.90" stroke="#111" stroke-width="0.9"/>
<line x1="408.40" y1="247.20" x2="408.40" y2="249.90" stroke="#111" stroke-width="0.9"/>
<line x1="426.70" y1="247.20" x2="426.70" y2="249.90" stroke="#111" stroke-width="0.9"/>
<text x="371.80" y="259.60" font-size="7.2" text-anchor="middle" fill="#111" stroke="#111" stroke-width="0.2">low</text>
<text x="390.20" y="259.60" font-size="7.2" text-anchor="middle" fill="#111" stroke="#111" stroke-width="0.2">high</text>
<text x="408.60" y="259.60" font-size="7.2" text-anchor="middle" fill="#111" stroke="#111" stroke-width="0.2">low</text>
<text x="426.90" y="259.60" font-size="7.2" text-anchor="middle" fill="#111" stroke="#111" stroke-width="0.2">high</text>
<line x1="365.00" y1="264.70" x2="396.50" y2="264.70" stroke="#111" stroke-width="0.9"/>
<line x1="401.70" y1="264.70" x2="433.20" y2="264.70" stroke="#111" stroke-width="0.9"/>
<text x="381.00" y="274.30" font-size="7.4" text-anchor="middle" fill="#111" stroke="#111" stroke-width="0.2" textLength="15.2" lengthAdjust="spacingAndGlyphs">CAR</text>
<text x="417.30" y="274.30" font-size="7.4" text-anchor="middle" fill="#111" stroke="#111" stroke-width="0.2" textLength="18.4" lengthAdjust="spacingAndGlyphs">DUAL</text>
<text x="338.00" y="208.25" font-size="9.0" text-anchor="middle" fill="#111" stroke="#111" stroke-width="0.2" textLength="42.6" lengthAdjust="spacingAndGlyphs" transform="rotate(-90 338.00 208.25)">% IL-6 removal</text>
<polyline points="371.60,168.60 371.60,167.00 426.70,167.00 426.70,168.60" fill="none" stroke="#1a1a1a" stroke-width="1.0"/>
<text x="399.00" y="167.40" font-size="5.6" text-anchor="middle" fill="#333" stroke="#333" stroke-width="0.2">***</text>
<polyline points="390.00,174.00 390.00,172.40 426.70,172.40 426.70,174.00" fill="none" stroke="#1a1a1a" stroke-width="1.0"/>
<text x="408.40" y="172.80" font-size="5.6" text-anchor="middle" fill="#333" stroke="#333" stroke-width="0.2">***</text>
<polyline points="371.60,180.60 371.60,179.00 408.40,179.00 408.40,180.60" fill="none" stroke="#1a1a1a" stroke-width="1.0"/>
<text x="389.80" y="179.30" font-size="5.6" text-anchor="middle" fill="#333" stroke="#333" stroke-width="0.2">*</text>
<polyline points="390.00,186.20 390.00,184.60 408.40,184.60 408.40,186.20" fill="none" stroke="#1a1a1a" stroke-width="1.0"/>
<text x="398.60" y="184.90" font-size="5.6" text-anchor="middle" fill="#333" stroke="#333" stroke-width="0.2">*</text>
<polyline points="408.40,186.20 408.40,184.60 426.70,184.60 426.70,186.20" fill="none" stroke="#1a1a1a" stroke-width="1.0"/>
<text x="417.60" y="184.90" font-size="5.6" text-anchor="middle" fill="#333" stroke="#333" stroke-width="0.2">*</text>
<line x1="371.60" y1="218.80" x2="371.60" y2="242.10" stroke="#7cc25a" stroke-width="0.9"/>
<line x1="369.20" y1="218.80" x2="374.00" y2="218.80" stroke="#7cc25a" stroke-width="0.9"/>
<line x1="369.20" y1="242.10" x2="374.00" y2="242.10" stroke="#7cc25a" stroke-width="0.9"/>
<line x1="390.00" y1="216.60" x2="390.00" y2="247.20" stroke="#7cc25a" stroke-width="0.9"/>
<line x1="387.60" y1="216.60" x2="392.40" y2="216.60" stroke="#7cc25a" stroke-width="0.9"/>
<line x1="408.40" y1="198.80" x2="408.40" y2="223.60" stroke="#9d93d8" stroke-width="0.9"/>
<line x1="406.00" y1="198.80" x2="410.80" y2="198.80" stroke="#9d93d8" stroke-width="0.9"/>
<line x1="406.00" y1="223.60" x2="410.80" y2="223.60" stroke="#9d93d8" stroke-width="0.9"/>
<line x1="426.70" y1="190.60" x2="426.70" y2="197.10" stroke="#9d93d8" stroke-width="0.9"/>
<line x1="424.30" y1="190.60" x2="429.10" y2="190.60" stroke="#9d93d8" stroke-width="0.9"/>
<line x1="424.30" y1="197.10" x2="429.10" y2="197.10" stroke="#9d93d8" stroke-width="0.9"/>
<circle cx="371.40" cy="215.90" r="1.9" fill="#5aa12e" stroke="none" stroke-width="0"/>
<circle cx="368.60" cy="232.70" r="1.9" fill="#5aa12e" stroke="none" stroke-width="0"/>
<circle cx="374.40" cy="232.70" r="1.9" fill="#5aa12e" stroke="none" stroke-width="0"/>
<circle cx="371.40" cy="247.00" r="1.9" fill="#5aa12e" stroke="none" stroke-width="0"/>
<circle cx="371.60" cy="222.80" r="1.9" fill="#5aa12e" stroke="none" stroke-width="0"/>
<circle cx="390.00" cy="211.80" r="1.9" fill="#5aa12e" stroke="none" stroke-width="0"/>
<circle cx="390.00" cy="220.00" r="1.9" fill="#5aa12e" stroke="none" stroke-width="0"/>
<circle cx="390.00" cy="239.20" r="1.9" fill="#5aa12e" stroke="none" stroke-width="0"/>
<circle cx="390.00" cy="243.80" r="1.9" fill="#5aa12e" stroke="none" stroke-width="0"/>
<circle cx="390.00" cy="247.00" r="1.9" fill="#5aa12e" stroke="none" stroke-width="0"/>
<circle cx="408.40" cy="198.80" r="1.9" fill="#8478c8" stroke="none" stroke-width="0"/>
<circle cx="408.40" cy="205.50" r="1.9" fill="#8478c8" stroke="none" stroke-width="0"/>
<circle cx="411.00" cy="211.30" r="1.9" fill="#8478c8" stroke="none" stroke-width="0"/>
<circle cx="405.80" cy="211.30" r="1.9" fill="#8478c8" stroke="none" stroke-width="0"/>
<circle cx="408.40" cy="231.00" r="1.9" fill="#8478c8" stroke="none" stroke-width="0"/>
<circle cx="426.70" cy="189.20" r="1.9" fill="#8478c8" stroke="none" stroke-width="0"/>
<circle cx="423.60" cy="192.30" r="1.9" fill="#8478c8" stroke="none" stroke-width="0"/>
<circle cx="429.80" cy="192.30" r="1.9" fill="#8478c8" stroke="none" stroke-width="0"/>
<circle cx="426.70" cy="193.80" r="1.9" fill="#8478c8" stroke="none" stroke-width="0"/>
<circle cx="426.70" cy="199.00" r="1.9" fill="#8478c8" stroke="none" stroke-width="0"/>
<line x1="365.80" y1="230.60" x2="377.90" y2="230.60" stroke="#111" stroke-width="1.2"/>
<line x1="383.90" y1="232.50" x2="396.40" y2="232.50" stroke="#111" stroke-width="1.2"/>
<line x1="402.60" y1="211.30" x2="414.70" y2="211.30" stroke="#111" stroke-width="1.2"/>
<line x1="421.20" y1="193.50" x2="433.20" y2="193.50" stroke="#111" stroke-width="1.2"/>
<line x1="47.50" y1="303.00" x2="47.50" y2="380.00" stroke="#111" stroke-width="1.0"/>
<line x1="47.00" y1="379.50" x2="119.80" y2="379.50" stroke="#111" stroke-width="1.0"/>
<line x1="44.80" y1="379.50" x2="47.50" y2="379.50" stroke="#111" stroke-width="0.9"/>
<text x="41.60" y="381.90" font-size="6.8" text-anchor="end" fill="#111" stroke="#111" stroke-width="0.2">0</text>
<line x1="44.80" y1="368.87" x2="47.50" y2="368.87" stroke="#111" stroke-width="0.9"/>
<text x="41.60" y="371.27" font-size="6.8" text-anchor="end" fill="#111" stroke="#111" stroke-width="0.2">2</text>
<line x1="44.80" y1="358.24" x2="47.50" y2="358.24" stroke="#111" stroke-width="0.9"/>
<text x="41.60" y="360.64" font-size="6.8" text-anchor="end" fill="#111" stroke="#111" stroke-width="0.2">4</text>
<line x1="44.80" y1="347.62" x2="47.50" y2="347.62" stroke="#111" stroke-width="0.9"/>
<text x="41.60" y="350.02" font-size="6.8" text-anchor="end" fill="#111" stroke="#111" stroke-width="0.2">6</text>
<line x1="44.80" y1="336.99" x2="47.50" y2="336.99" stroke="#111" stroke-width="0.9"/>
<text x="41.60" y="339.39" font-size="6.8" text-anchor="end" fill="#111" stroke="#111" stroke-width="0.2">8</text>
<line x1="44.80" y1="326.36" x2="47.50" y2="326.36" stroke="#111" stroke-width="0.9"/>
<text x="41.60" y="328.76" font-size="6.8" text-anchor="end" fill="#111" stroke="#111" stroke-width="0.2">10</text>
<line x1="44.80" y1="315.73" x2="47.50" y2="315.73" stroke="#111" stroke-width="0.9"/>
<text x="41.60" y="318.13" font-size="6.8" text-anchor="end" fill="#111" stroke="#111" stroke-width="0.2">12</text>
<line x1="44.80" y1="305.10" x2="47.50" y2="305.10" stroke="#111" stroke-width="0.9"/>
<text x="41.60" y="307.50" font-size="6.8" text-anchor="end" fill="#111" stroke="#111" stroke-width="0.2">14</text>
<text x="59.60" y="392.40" font-size="7.4" text-anchor="middle" fill="#111" stroke="#111" stroke-width="0.2" textLength="23.8" lengthAdjust="spacingAndGlyphs">Control</text>
<text x="84.10" y="392.40" font-size="7.4" text-anchor="middle" fill="#111" stroke="#111" stroke-width="0.2" textLength="15.0" lengthAdjust="spacingAndGlyphs">CAR</text>
<text x="107.60" y="392.40" font-size="7.4" text-anchor="middle" fill="#111" stroke="#111" stroke-width="0.2" textLength="18.4" lengthAdjust="spacingAndGlyphs">DUAL</text>
<text x="25.60" y="341.30" font-size="9.0" text-anchor="middle" fill="#111" stroke="#111" stroke-width="0.2" textLength="36.6" lengthAdjust="spacingAndGlyphs" transform="rotate(-90 25.60 341.30)">IL-6 (pg/mL)</text>
<polyline points="59.40,310.20 59.40,308.00 83.90,308.00 83.90,310.20" fill="none" stroke="#1a1a1a" stroke-width="1.0"/>
<polyline points="83.90,310.20 83.90,308.00 107.50,308.00 107.50,310.20" fill="none" stroke="#1a1a1a" stroke-width="1.0"/>
<text x="69.80" y="307.60" font-size="5.6" text-anchor="middle" fill="#333" stroke="#333" stroke-width="0.2">*</text>
<text x="96.20" y="307.60" font-size="5.6" text-anchor="middle" fill="#333" stroke="#333" stroke-width="0.2">*</text>
<circle cx="59.40" cy="361.90" r="1.45" fill="#fff" stroke="#4a6ab0" stroke-width="0.95"/>
<circle cx="59.40" cy="375.60" r="1.45" fill="#fff" stroke="#4a6ab0" stroke-width="0.95"/>
<circle cx="56.60" cy="379.40" r="1.9" fill="#1d3a7e" stroke="none" stroke-width="0"/>
<circle cx="62.40" cy="379.40" r="1.9" fill="#1d3a7e" stroke="none" stroke-width="0"/>
<line x1="51.20" y1="377.50" x2="67.80" y2="377.50" stroke="#111" stroke-width="1.2"/>
<circle cx="83.90" cy="313.30" r="1.9" fill="#5aa12e" stroke="none" stroke-width="0"/>
<circle cx="83.90" cy="323.40" r="1.9" fill="#5aa12e" stroke="none" stroke-width="0"/>
<circle cx="83.90" cy="348.40" r="1.45" fill="#fff" stroke="#5aa12e" stroke-width="0.95"/>
<circle cx="77.20" cy="361.40" r="1.45" fill="#fff" stroke="#5aa12e" stroke-width="0.95"/>
<circle cx="83.90" cy="360.40" r="1.45" fill="#fff" stroke="#5aa12e" stroke-width="0.95"/>
<circle cx="90.60" cy="360.90" r="1.45" fill="#fff" stroke="#5aa12e" stroke-width="0.95"/>
<line x1="75.70" y1="354.40" x2="92.10" y2="354.40" stroke="#111" stroke-width="1.2"/>
<circle cx="108.00" cy="354.40" r="1.9" fill="#8478c8" stroke="none" stroke-width="0"/>
<circle cx="108.00" cy="358.20" r="1.9" fill="#8478c8" stroke="none" stroke-width="0"/>
<circle cx="101.70" cy="368.40" r="1.45" fill="#fff" stroke="#8478c8" stroke-width="0.95"/>
<circle cx="108.00" cy="366.20" r="1.9" fill="#8478c8" stroke="none" stroke-width="0"/>
<circle cx="114.20" cy="362.90" r="1.9" fill="#8478c8" stroke="none" stroke-width="0"/>
<circle cx="114.20" cy="366.70" r="1.9" fill="#8478c8" stroke="none" stroke-width="0"/>
<circle cx="101.70" cy="366.00" r="1.9" fill="#8478c8" stroke="none" stroke-width="0"/>
<line x1="99.80" y1="365.50" x2="116.10" y2="365.50" stroke="#111" stroke-width="1.2"/>
<text x="139.10" y="315.90" font-size="7.2" text-anchor="middle" fill="#111" stroke="#111" stroke-width="0.2" textLength="17.8" lengthAdjust="spacingAndGlyphs">Tumor</text>
<text x="139.10" y="324.40" font-size="7.2" text-anchor="middle" fill="#111" stroke="#111" stroke-width="0.2" textLength="29.0" lengthAdjust="spacingAndGlyphs">reduction</text>
<circle cx="123.90" cy="333.00" r="1.45" fill="#fff" stroke="#4a6ab0" stroke-width="0.95"/>
<circle cx="130.20" cy="333.00" r="1.45" fill="#fff" stroke="#5aa12e" stroke-width="0.95"/>
<circle cx="136.10" cy="333.00" r="1.45" fill="#fff" stroke="#a89fdc" stroke-width="0.95"/>
<circle cx="123.90" cy="344.70" r="1.9" fill="#1d3a7e" stroke="none" stroke-width="0"/>
<circle cx="130.20" cy="344.70" r="1.9" fill="#5aa12e" stroke="none" stroke-width="0"/>
<circle cx="136.10" cy="344.70" r="1.9" fill="#8478c8" stroke="none" stroke-width="0"/>
<text x="140.10" y="335.60" font-size="7.2" text-anchor="start" fill="#111" stroke="#111" stroke-width="0.2" textLength="19.6" lengthAdjust="spacingAndGlyphs">&lt;50%</text>
<text x="140.10" y="347.30" font-size="7.2" text-anchor="start" fill="#111" stroke="#111" stroke-width="0.2" textLength="19.6" lengthAdjust="spacingAndGlyphs">&gt;50%</text>
<defs><filter id="bl" x="-20%" y="-20%" width="140%" height="140%"><feGaussianBlur stdDeviation="0.5"/></filter><filter id="bl2" x="-30%" y="-30%" width="160%" height="160%"><feGaussianBlur stdDeviation="1.0"/></filter></defs>
<text x="268.30" y="308.70" font-size="8.2" text-anchor="middle" fill="#111" stroke="#111" stroke-width="0.2">Exp. 1</text>
<text x="419.90" y="308.70" font-size="8.2" text-anchor="middle" fill="#111" stroke="#111" stroke-width="0.2">Exp. 2</text>
<line x1="207.50" y1="314.20" x2="330.60" y2="314.20" stroke="#555" stroke-width="1.2"/>
<line x1="359.10" y1="314.20" x2="481.60" y2="314.20" stroke="#555" stroke-width="1.2"/>
<text x="232.50" y="324.90" font-size="8.8" text-anchor="middle" fill="#111" stroke="#111" stroke-width="0.2">CAR</text>
<text x="306.40" y="324.90" font-size="8.8" text-anchor="middle" fill="#111" stroke="#111" stroke-width="0.2">DUAL</text>
<text x="387.10" y="324.90" font-size="8.8" text-anchor="middle" fill="#111" stroke="#111" stroke-width="0.2">CAR</text>
<text x="461.20" y="324.90" font-size="8.8" text-anchor="middle" fill="#111" stroke="#111" stroke-width="0.2">DUAL</text>
<rect x="198.80" y="330.70" width="66.20" height="61.70" fill="#fff" stroke="#8c8c8c" stroke-width="0.8"/>
<line x1="232.90" y1="330.70" x2="232.90" y2="392.40" stroke="#888" stroke-width="0.7" stroke-dasharray="0.7 0.7"/>
<line x1="198.80" y1="373.10" x2="265.00" y2="373.10" stroke="#888" stroke-width="0.7" stroke-dasharray="0.7 0.7"/>
<line x1="196.60" y1="378.50" x2="198.80" y2="378.50" stroke="#111" stroke-width="0.8"/>
<line x1="197.50" y1="374.20" x2="198.80" y2="374.20" stroke="#333" stroke-width="0.6"/>
<line x1="197.50" y1="371.68" x2="198.80" y2="371.68" stroke="#333" stroke-width="0.6"/>
<line x1="197.50" y1="369.89" x2="198.80" y2="369.89" stroke="#333" stroke-width="0.6"/>
<line x1="197.50" y1="368.50" x2="198.80" y2="368.50" stroke="#333" stroke-width="0.6"/>
<line x1="197.50" y1="367.37" x2="198.80" y2="367.37" stroke="#333" stroke-width="0.6"/>
<line x1="197.50" y1="366.42" x2="198.80" y2="366.42" stroke="#333" stroke-width="0.6"/>
<line x1="197.50" y1="365.59" x2="198.80" y2="365.59" stroke="#333" stroke-width="0.6"/>
<line x1="197.50" y1="364.85" x2="198.80" y2="364.85" stroke="#333" stroke-width="0.6"/>
<line x1="196.60" y1="364.20" x2="198.80" y2="364.20" stroke="#111" stroke-width="0.8"/>
<line x1="197.50" y1="359.90" x2="198.80" y2="359.90" stroke="#333" stroke-width="0.6"/>
<line x1="197.50" y1="357.38" x2="198.80" y2="357.38" stroke="#333" stroke-width="0.6"/>
<line x1="197.50" y1="355.59" x2="198.80" y2="355.59" stroke="#333" stroke-width="0.6"/>
<line x1="197.50" y1="354.20" x2="198.80" y2="354.20" stroke="#333" stroke-width="0.6"/>
<line x1="197.50" y1="353.07" x2="198.80" y2="353.07" stroke="#333" stroke-width="0.6"/>
<line x1="197.50" y1="352.12" x2="198.80" y2="352.12" stroke="#333" stroke-width="0.6"/>
<line x1="197.50" y1="351.29" x2="198.80" y2="351.29" stroke="#333" stroke-width="0.6"/>
<line x1="197.50" y1="350.55" x2="198.80" y2="350.55" stroke="#333" stroke-width="0.6"/>
<line x1="196.60" y1="349.90" x2="198.80" y2="349.90" stroke="#111" stroke-width="0.8"/>
<line x1="197.50" y1="345.60" x2="198.80" y2="345.60" stroke="#333" stroke-width="0.6"/>
<line x1="197.50" y1="343.08" x2="198.80" y2="343.08" stroke="#333" stroke-width="0.6"/>
<line x1="197.50" y1="341.29" x2="198.80" y2="341.29" stroke="#333" stroke-width="0.6"/>
<line x1="197.50" y1="339.90" x2="198.80" y2="339.90" stroke="#333" stroke-width="0.6"/>
<line x1="197.50" y1="338.77" x2="198.80" y2="338.77" stroke="#333" stroke-width="0.6"/>
<line x1="197.50" y1="337.82" x2="198.80" y2="337.82" stroke="#333" stroke-width="0.6"/>
<line x1="197.50" y1="336.99" x2="198.80" y2="336.99" stroke="#333" stroke-width="0.6"/>
<line x1="197.50" y1="336.25" x2="198.80" y2="336.25" stroke="#333" stroke-width="0.6"/>
<line x1="196.60" y1="335.60" x2="198.80" y2="335.60" stroke="#111" stroke-width="0.8"/>
<line x1="197.90" y1="378.40" x2="197.90" y2="389.90" stroke="#111" stroke-width="1.7"/>
<line x1="200.80" y1="392.40" x2="200.80" y2="395.00" stroke="#111" stroke-width="0.9"/>
<line x1="205.10" y1="392.40" x2="205.10" y2="394.00" stroke="#333" stroke-width="0.6"/>
<line x1="207.62" y1="392.40" x2="207.62" y2="394.00" stroke="#333" stroke-width="0.6"/>
<line x1="209.41" y1="392.40" x2="209.41" y2="394.00" stroke="#333" stroke-width="0.6"/>
<line x1="210.80" y1="392.40" x2="210.80" y2="394.00" stroke="#333" stroke-width="0.6"/>
<line x1="211.93" y1="392.40" x2="211.93" y2="394.00" stroke="#333" stroke-width="0.6"/>
<line x1="212.88" y1="392.40" x2="212.88" y2="394.00" stroke="#333" stroke-width="0.6"/>
<line x1="213.71" y1="392.40" x2="213.71" y2="394.00" stroke="#333" stroke-width="0.6"/>
<line x1="214.45" y1="392.40" x2="214.45" y2="394.00" stroke="#333" stroke-width="0.6"/>
<line x1="215.10" y1="392.40" x2="215.10" y2="395.00" stroke="#111" stroke-width="0.9"/>
<line x1="219.40" y1="392.40" x2="219.40" y2="394.00" stroke="#333" stroke-width="0.6"/>
<line x1="221.92" y1="392.40" x2="221.92" y2="394.00" stroke="#333" stroke-width="0.6"/>
<line x1="223.71" y1="392.40" x2="223.71" y2="394.00" stroke="#333" stroke-width="0.6"/>
<line x1="225.10" y1="392.40" x2="225.10" y2="394.00" stroke="#333" stroke-width="0.6"/>
<line x1="226.23" y1="392.40" x2="226.23" y2="394.00" stroke="#333" stroke-width="0.6"/>
<line x1="227.18" y1="392.40" x2="227.18" y2="394.00" stroke="#333" stroke-width="0.6"/>
<line x1="228.01" y1="392.40" x2="228.01" y2="394.00" stroke="#333" stroke-width="0.6"/>
<line x1="228.75" y1="392.40" x2="228.75" y2="394.00" stroke="#333" stroke-width="0.6"/>
<line x1="229.40" y1="392.40" x2="229.40" y2="395.00" stroke="#111" stroke-width="0.9"/>
<line x1="233.70" y1="392.40" x2="233.70" y2="394.00" stroke="#333" stroke-width="0.6"/>
<line x1="236.22" y1="392.40" x2="236.22" y2="394.00" stroke="#333" stroke-width="0.6"/>
<line x1="238.01" y1="392.40" x2="238.01" y2="394.00" stroke="#333" stroke-width="0.6"/>
<line x1="239.40" y1="392.40" x2="239.40" y2="394.00" stroke="#333" stroke-width="0.6"/>
<line x1="240.53" y1="392.40" x2="240.53" y2="394.00" stroke="#333" stroke-width="0.6"/>
<line x1="241.48" y1="392.40" x2="241.48" y2="394.00" stroke="#333" stroke-width="0.6"/>
<line x1="242.31" y1="392.40" x2="242.31" y2="394.00" stroke="#333" stroke-width="0.6"/>
<line x1="243.05" y1="392.40" x2="243.05" y2="394.00" stroke="#333" stroke-width="0.6"/>
<line x1="243.70" y1="392.40" x2="243.70" y2="395.00" stroke="#111" stroke-width="0.9"/>
<line x1="248.00" y1="392.40" x2="248.00" y2="394.00" stroke="#333" stroke-width="0.6"/>
<line x1="250.52" y1="392.40" x2="250.52" y2="394.00" stroke="#333" stroke-width="0.6"/>
<line x1="252.31" y1="392.40" x2="252.31" y2="394.00" stroke="#333" stroke-width="0.6"/>
<line x1="253.70" y1="392.40" x2="253.70" y2="394.00" stroke="#333" stroke-width="0.6"/>
<line x1="254.83" y1="392.40" x2="254.83" y2="394.00" stroke="#333" stroke-width="0.6"/>
<line x1="255.78" y1="392.40" x2="255.78" y2="394.00" stroke="#333" stroke-width="0.6"/>
<line x1="256.61" y1="392.40" x2="256.61" y2="394.00" stroke="#333" stroke-width="0.6"/>
<line x1="257.35" y1="392.40" x2="257.35" y2="394.00" stroke="#333" stroke-width="0.6"/>
<text x="200.50" y="338.50" font-size="7.4" text-anchor="start" fill="#111" stroke="#111" stroke-width="0.2">&lt;1%</text>
<text x="264.20" y="338.50" font-size="7.4" text-anchor="end" fill="#111" stroke="#111" stroke-width="0.2">&lt;1%</text>
<text x="200.50" y="391.40" font-size="7.4" text-anchor="start" fill="#111" stroke="#111" stroke-width="0.2">&lt;1%</text>
<text x="264.20" y="391.40" font-size="7.4" text-anchor="end" fill="#111" stroke="#111" stroke-width="0.2">&gt;99%</text>
<path d="M247.0 379.6h0.7v0.7h-0.7zM233.9 381.9h0.7v0.7h-0.7zM242.4 383.3h0.7v0.7h-0.7zM244.0 379.5h0.7v0.7h-0.7zM242.6 374.0h0.7v0.7h-0.7zM249.5 377.2h0.7v0.7h-0.7zM242.8 379.1h0.7v0.7h-0.7zM243.2 378.4h0.7v0.7h-0.7zM235.6 381.7h0.7v0.7h-0.7zM239.2 379.4h0.7v0.7h-0.7zM247.1 382.6h0.7v0.7h-0.7zM233.6 376.9h0.7v0.7h-0.7zM239.5 379.0h0.7v0.7h-0.7zM234.4 384.1h0.7v0.7h-0.7zM241.6 379.9h0.7v0.7h-0.7zM245.4 375.4h0.7v0.7h-0.7zM237.2 378.2h0.7v0.7h-0.7zM244.3 380.0h0.7v0.7h-0.7zM242.1 380.2h0.7v0.7h-0.7zM235.0 385.0h0.7v0.7h-0.7zM236.8 379.7h0.7v0.7h-0.7zM242.7 384.4h0.7v0.7h-0.7zM247.0 378.1h0.7v0.7h-0.7zM239.3 387.0h0.7v0.7h-0.7zM239.9 384.2h0.7v0.7h-0.7zM243.3 378.8h0.7v0.7h-0.7zM245.8 380.1h0.7v0.7h-0.7zM246.4 376.6h0.7v0.7h-0.7zM241.2 380.6h0.7v0.7h-0.7zM240.5 378.1h0.7v0.7h-0.7zM247.7 381.7h0.7v0.7h-0.7zM243.2 379.0h0.7v0.7h-0.7zM239.4 385.3h0.7v0.7h-0.7zM239.6 380.2h0.7v0.7h-0.7zM238.2 379.4h0.7v0.7h-0.7zM239.5 382.6h0.7v0.7h-0.7zM249.6 382.0h0.7v0.7h-0.7zM241.0 382.6h0.7v0.7h-0.7zM234.5 382.8h0.7v0.7h-0.7zM237.0 386.5h0.7v0.7h-0.7zM234.2 382.3h0.7v0.7h-0.7zM237.1 379.7h0.7v0.7h-0.7zM244.8 376.0h0.7v0.7h-0.7zM242.4 382.1h0.7v0.7h-0.7zM244.5 378.5h0.7v0.7h-0.7zM240.3 378.7h0.7v0.7h-0.7zM240.8 378.4h0.7v0.7h-0.7zM249.5 375.6h0.7v0.7h-0.7zM246.7 374.5h0.7v0.7h-0.7zM234.6 385.4h0.7v0.7h-0.7zM244.1 376.6h0.7v0.7h-0.7zM255.4 372.9h0.7v0.7h-0.7zM239.4 377.3h0.7v0.7h-0.7zM239.3 379.8h0.7v0.7h-0.7zM245.7 381.1h0.7v0.7h-0.7zM249.6 378.9h0.7v0.7h-0.7zM242.9 380.1h0.7v0.7h-0.7zM246.7 374.2h0.7v0.7h-0.7zM245.2 385.4h0.7v0.7h-0.7zM239.7 380.9h0.7v0.7h-0.7zM241.0 377.6h0.7v0.7h-0.7zM240.2 380.5h0.7v0.7h-0.7zM241.5 387.3h0.7v0.7h-0.7zM245.3 377.4h0.7v0.7h-0.7zM232.7 379.9h0.7v0.7h-0.7zM239.3 385.3h0.7v0.7h-0.7zM241.2 381.2h0.7v0.7h-0.7zM241.4 378.4h0.7v0.7h-0.7zM237.4 382.9h0.7v0.7h-0.7zM242.7 382.2h0.7v0.7h-0.7zM237.3 376.7h0.7v0.7h-0.7zM243.5 379.5h0.7v0.7h-0.7zM239.4 378.9h0.7v0.7h-0.7zM241.5 383.0h0.7v0.7h-0.7zM250.1 380.7h0.7v0.7h-0.7zM240.1 386.2h0.7v0.7h-0.7zM239.7 386.0h0.7v0.7h-0.7zM245.8 379.4h0.7v0.7h-0.7zM243.3 381.5h0.7v0.7h-0.7zM242.4 376.0h0.7v0.7h-0.7zM242.8 375.1h0.7v0.7h-0.7zM248.4 378.9h0.7v0.7h-0.7zM246.0 381.7h0.7v0.7h-0.7zM236.9 381.7h0.7v0.7h-0.7zM236.3 381.4h0.7v0.7h-0.7zM234.8 386.9h0.7v0.7h-0.7zM239.9 379.2h0.7v0.7h-0.7zM241.3 384.8h0.7v0.7h-0.7zM232.9 380.8h0.7v0.7h-0.7zM242.0 376.9h0.7v0.7h-0.7zM236.7 382.7h0.7v0.7h-0.7zM242.2 379.5h0.7v0.7h-0.7zM248.4 379.6h0.7v0.7h-0.7zM244.3 384.1h0.7v0.7h-0.7zM241.3 378.0h0.7v0.7h-0.7zM242.1 383.0h0.7v0.7h-0.7zM235.2 380.8h0.7v0.7h-0.7zM247.3 373.3h0.7v0.7h-0.7zM242.8 381.9h0.7v0.7h-0.7zM240.7 376.4h0.7v0.7h-0.7zM235.9 385.5h0.7v0.7h-0.7zM239.9 382.2h0.7v0.7h-0.7zM237.0 383.9h0.7v0.7h-0.7zM239.9 381.9h0.7v0.7h-0.7zM247.4 379.0h0.7v0.7h-0.7zM247.5 378.4h0.7v0.7h-0.7zM245.8 381.0h0.7v0.7h-0.7zM246.0 379.1h0.7v0.7h-0.7zM247.3 376.7h0.7v0.7h-0.7zM244.0 379.4h0.7v0.7h-0.7zM233.9 386.7h0.7v0.7h-0.7zM238.2 381.7h0.7v0.7h-0.7zM239.0 378.2h0.7v0.7h-0.7zM235.5 384.8h0.7v0.7h-0.7zM244.4 383.5h0.7v0.7h-0.7zM251.9 379.9h0.7v0.7h-0.7zM243.0 378.1h0.7v0.7h-0.7zM232.9 381.9h0.7v0.7h-0.7zM243.1 384.1h0.7v0.7h-0.7zM245.5 381.6h0.7v0.7h-0.7zM246.8 380.4h0.7v0.7h-0.7zM238.6 382.4h0.7v0.7h-0.7zM238.8 379.4h0.7v0.7h-0.7zM242.4 373.5h0.7v0.7h-0.7zM241.6 381.7h0.7v0.7h-0.7zM237.9 388.5h0.7v0.7h-0.7zM243.8 381.4h0.7v0.7h-0.7zM244.2 384.4h0.7v0.7h-0.7zM244.6 378.4h0.7v0.7h-0.7zM243.5 384.4h0.7v0.7h-0.7zM243.9 379.1h0.7v0.7h-0.7zM240.7 383.9h0.7v0.7h-0.7zM239.2 381.0h0.7v0.7h-0.7zM238.0 378.2h0.7v0.7h-0.7zM245.4 374.7h0.7v0.7h-0.7zM237.4 381.4h0.7v0.7h-0.7zM240.7 386.1h0.7v0.7h-0.7zM246.1 375.5h0.7v0.7h-0.7zM243.6 381.1h0.7v0.7h-0.7zM236.6 380.3h0.7v0.7h-0.7zM238.7 385.9h0.7v0.7h-0.7zM244.7 378.6h0.7v0.7h-0.7zM241.2 380.7h0.7v0.7h-0.7zM240.8 383.8h0.7v0.7h-0.7zM239.6 378.8h0.7v0.7h-0.7zM245.3 375.6h0.7v0.7h-0.7zM246.5 377.0h0.7v0.7h-0.7zM243.6 378.8h0.7v0.7h-0.7zM245.8 375.0h0.7v0.7h-0.7zM244.4 378.0h0.7v0.7h-0.7zM238.3 385.7h0.7v0.7h-0.7zM244.3 375.3h0.7v0.7h-0.7zM244.1 381.1h0.7v0.7h-0.7zM249.6 379.2h0.7v0.7h-0.7zM242.0 380.4h0.7v0.7h-0.7zM246.8 374.3h0.7v0.7h-0.7zM247.0 376.8h0.7v0.7h-0.7zM238.9 376.4h0.7v0.7h-0.7zM245.8 383.1h0.7v0.7h-0.7zM244.7 379.7h0.7v0.7h-0.7zM244.8 380.4h0.7v0.7h-0.7zM234.3 387.0h0.7v0.7h-0.7zM236.6 377.1h0.7v0.7h-0.7zM246.2 379.6h0.7v0.7h-0.7zM234.6 383.7h0.7v0.7h-0.7zM239.3 377.6h0.7v0.7h-0.7zM234.9 379.0h0.7v0.7h-0.7zM246.2 381.9h0.7v0.7h-0.7zM234.6 382.6h0.7v0.7h-0.7zM248.8 381.9h0.7v0.7h-0.7zM244.6 376.4h0.7v0.7h-0.7zM244.3 377.7h0.7v0.7h-0.7zM248.7 377.9h0.7v0.7h-0.7zM238.8 380.8h0.7v0.7h-0.7zM238.1 382.7h0.7v0.7h-0.7zM246.0 384.3h0.7v0.7h-0.7zM241.6 379.8h0.7v0.7h-0.7zM243.6 380.6h0.7v0.7h-0.7zM242.8 379.4h0.7v0.7h-0.7zM236.0 379.6h0.7v0.7h-0.7zM244.3 379.2h0.7v0.7h-0.7zM248.1 378.4h0.7v0.7h-0.7zM237.8 379.2h0.7v0.7h-0.7zM238.0 383.3h0.7v0.7h-0.7zM232.3 382.7h0.7v0.7h-0.7zM242.9 380.3h0.7v0.7h-0.7zM244.0 378.4h0.7v0.7h-0.7zM244.4 384.0h0.7v0.7h-0.7zM242.8 382.9h0.7v0.7h-0.7zM243.6 378.6h0.7v0.7h-0.7zM246.3 383.1h0.7v0.7h-0.7zM250.1 378.2h0.7v0.7h-0.7zM239.3 381.3h0.7v0.7h-0.7zM239.3 385.2h0.7v0.7h-0.7zM240.5 382.0h0.7v0.7h-0.7zM245.7 380.1h0.7v0.7h-0.7zM241.2 381.4h0.7v0.7h-0.7zM241.7 379.4h0.7v0.7h-0.7zM245.8 374.1h0.7v0.7h-0.7zM247.9 375.1h0.7v0.7h-0.7zM238.5 384.6h0.7v0.7h-0.7zM237.6 388.2h0.7v0.7h-0.7zM239.8 379.4h0.7v0.7h-0.7zM234.6 383.3h0.7v0.7h-0.7zM245.2 375.1h0.7v0.7h-0.7zM240.8 381.8h0.7v0.7h-0.7zM242.5 380.4h0.7v0.7h-0.7zM240.5 386.2h0.7v0.7h-0.7zM233.5 386.5h0.7v0.7h-0.7zM241.1 381.7h0.7v0.7h-0.7zM239.9 383.5h0.7v0.7h-0.7zM237.8 381.3h0.7v0.7h-0.7zM233.9 378.7h0.7v0.7h-0.7zM245.6 378.3h0.7v0.7h-0.7zM237.0 385.4h0.7v0.7h-0.7zM233.7 382.8h0.7v0.7h-0.7zM241.0 383.7h0.7v0.7h-0.7zM250.1 375.0h0.7v0.7h-0.7zM231.6 380.8h0.7v0.7h-0.7zM250.4 373.7h0.7v0.7h-0.7zM244.8 375.5h0.7v0.7h-0.7zM239.0 382.4h0.7v0.7h-0.7zM248.9 380.8h0.7v0.7h-0.7zM243.4 379.9h0.7v0.7h-0.7zM242.5 380.2h0.7v0.7h-0.7zM236.7 381.4h0.7v0.7h-0.7zM237.5 384.7h0.7v0.7h-0.7zM245.2 378.9h0.7v0.7h-0.7zM241.8 382.1h0.7v0.7h-0.7zM234.6 386.3h0.7v0.7h-0.7zM242.7 379.2h0.7v0.7h-0.7zM244.9 385.2h0.7v0.7h-0.7zM237.5 382.1h0.7v0.7h-0.7zM241.8 382.2h0.7v0.7h-0.7zM242.3 379.5h0.7v0.7h-0.7zM240.8 386.6h0.7v0.7h-0.7zM237.6 381.8h0.7v0.7h-0.7zM239.8 380.5h0.7v0.7h-0.7zM240.8 382.7h0.7v0.7h-0.7zM240.7 384.1h0.7v0.7h-0.7zM237.2 382.0h0.7v0.7h-0.7zM247.6 381.2h0.7v0.7h-0.7zM247.5 381.7h0.7v0.7h-0.7zM240.1 381.8h0.7v0.7h-0.7zM243.3 380.2h0.7v0.7h-0.7zM243.5 381.6h0.7v0.7h-0.7zM246.4 381.1h0.7v0.7h-0.7zM246.1 381.8h0.7v0.7h-0.7zM242.7 382.1h0.7v0.7h-0.7zM243.8 379.6h0.7v0.7h-0.7zM237.4 381.9h0.7v0.7h-0.7zM238.9 375.7h0.7v0.7h-0.7zM243.1 380.9h0.7v0.7h-0.7zM238.9 386.6h0.7v0.7h-0.7zM245.5 379.5h0.7v0.7h-0.7zM247.9 379.5h0.7v0.7h-0.7zM248.6 371.7h0.7v0.7h-0.7zM249.7 370.9h0.7v0.7h-0.7zM244.1 381.5h0.7v0.7h-0.7zM241.5 379.8h0.7v0.7h-0.7zM244.8 377.1h0.7v0.7h-0.7zM238.7 383.2h0.7v0.7h-0.7zM240.6 378.8h0.7v0.7h-0.7zM240.4 382.2h0.7v0.7h-0.7zM234.5 381.9h0.7v0.7h-0.7zM245.8 380.2h0.7v0.7h-0.7zM249.1 377.4h0.7v0.7h-0.7zM235.3 383.9h0.7v0.7h-0.7zM240.3 381.6h0.7v0.7h-0.7zM237.4 382.1h0.7v0.7h-0.7zM240.8 379.0h0.7v0.7h-0.7zM238.6 380.4h0.7v0.7h-0.7zM236.2 380.9h0.7v0.7h-0.7zM242.3 381.9h0.7v0.7h-0.7zM238.3 376.6h0.7v0.7h-0.7zM242.3 387.2h0.7v0.7h-0.7zM240.0 379.4h0.7v0.7h-0.7zM245.9 379.2h0.7v0.7h-0.7zM244.1 375.7h0.7v0.7h-0.7zM243.1 381.5h0.7v0.7h-0.7zM249.2 379.2h0.7v0.7h-0.7zM240.2 383.1h0.7v0.7h-0.7zM246.3 371.7h0.7v0.7h-0.7zM243.9 381.7h0.7v0.7h-0.7zM248.2 378.4h0.7v0.7h-0.7zM250.1 376.2h0.7v0.7h-0.7zM241.0 377.7h0.7v0.7h-0.7zM241.2 386.1h0.7v0.7h-0.7zM245.3 381.6h0.7v0.7h-0.7zM238.5 385.8h0.7v0.7h-0.7zM242.0 382.9h0.7v0.7h-0.7zM235.1 381.4h0.7v0.7h-0.7zM242.0 382.6h0.7v0.7h-0.7zM244.5 378.4h0.7v0.7h-0.7zM243.7 379.2h0.7v0.7h-0.7zM240.7 378.5h0.7v0.7h-0.7zM240.1 382.8h0.7v0.7h-0.7zM238.5 383.2h0.7v0.7h-0.7zM245.5 380.4h0.7v0.7h-0.7zM245.1 383.0h0.7v0.7h-0.7zM239.4 384.8h0.7v0.7h-0.7zM242.9 381.0h0.7v0.7h-0.7zM242.7 384.2h0.7v0.7h-0.7zM245.0 376.4h0.7v0.7h-0.7zM243.2 385.3h0.7v0.7h-0.7zM246.5 374.6h0.7v0.7h-0.7zM245.4 375.9h0.7v0.7h-0.7zM239.8 379.0h0.7v0.7h-0.7zM252.1 377.9h0.7v0.7h-0.7zM236.5 383.5h0.7v0.7h-0.7zM253.3 381.3h0.7v0.7h-0.7zM238.8 382.1h0.7v0.7h-0.7zM243.6 378.7h0.7v0.7h-0.7zM248.1 375.0h0.7v0.7h-0.7zM236.4 381.2h0.7v0.7h-0.7zM239.3 380.4h0.7v0.7h-0.7zM244.5 379.1h0.7v0.7h-0.7zM243.7 375.7h0.7v0.7h-0.7zM239.3 379.0h0.7v0.7h-0.7zM241.3 382.5h0.7v0.7h-0.7zM235.2 383.5h0.7v0.7h-0.7zM241.0 381.7h0.7v0.7h-0.7zM239.8 377.7h0.7v0.7h-0.7zM253.7 370.6h0.7v0.7h-0.7zM246.4 377.8h0.7v0.7h-0.7zM243.3 383.2h0.7v0.7h-0.7zM246.0 377.8h0.7v0.7h-0.7zM242.6 388.7h0.7v0.7h-0.7zM240.9 380.9h0.7v0.7h-0.7zM237.4 386.2h0.7v0.7h-0.7zM245.5 378.8h0.7v0.7h-0.7zM248.0 379.0h0.7v0.7h-0.7zM247.9 376.4h0.7v0.7h-0.7zM239.2 384.5h0.7v0.7h-0.7zM243.1 380.9h0.7v0.7h-0.7zM238.4 384.0h0.7v0.7h-0.7zM241.9 381.9h0.7v0.7h-0.7zM245.6 378.5h0.7v0.7h-0.7zM246.9 378.7h0.7v0.7h-0.7zM239.0 380.4h0.7v0.7h-0.7zM253.1 374.1h0.7v0.7h-0.7zM246.2 377.7h0.7v0.7h-0.7zM242.1 381.9h0.7v0.7h-0.7zM249.9 382.1h0.7v0.7h-0.7zM246.9 374.9h0.7v0.7h-0.7zM241.9 376.9h0.7v0.7h-0.7zM239.3 381.9h0.7v0.7h-0.7zM243.1 382.6h0.7v0.7h-0.7zM236.2 379.8h0.7v0.7h-0.7zM248.8 375.3h0.7v0.7h-0.7zM239.7 383.7h0.7v0.7h-0.7zM236.9 385.0h0.7v0.7h-0.7zM239.5 385.6h0.7v0.7h-0.7zM235.5 385.6h0.7v0.7h-0.7zM244.7 382.3h0.7v0.7h-0.7zM243.9 376.4h0.7v0.7h-0.7zM240.5 382.2h0.7v0.7h-0.7zM242.5 381.4h0.7v0.7h-0.7zM250.4 374.6h0.7v0.7h-0.7zM242.9 380.1h0.7v0.7h-0.7zM242.4 384.2h0.7v0.7h-0.7zM244.4 383.9h0.7v0.7h-0.7zM234.7 383.1h0.7v0.7h-0.7zM252.1 376.8h0.7v0.7h-0.7zM240.1 374.9h0.7v0.7h-0.7zM242.2 383.0h0.7v0.7h-0.7zM237.1 380.4h0.7v0.7h-0.7zM238.9 380.8h0.7v0.7h-0.7zM250.2 374.9h0.7v0.7h-0.7zM244.9 378.9h0.7v0.7h-0.7zM244.2 378.7h0.7v0.7h-0.7zM243.1 385.7h0.7v0.7h-0.7zM237.8 383.5h0.7v0.7h-0.7zM248.7 374.0h0.7v0.7h-0.7zM236.6 379.2h0.7v0.7h-0.7zM236.7 379.9h0.7v0.7h-0.7zM237.1 386.0h0.7v0.7h-0.7zM240.9 384.7h0.7v0.7h-0.7zM238.9 385.3h0.7v0.7h-0.7zM238.7 376.3h0.7v0.7h-0.7zM246.4 379.2h0.7v0.7h-0.7zM236.1 386.4h0.7v0.7h-0.7zM236.8 383.6h0.7v0.7h-0.7zM243.7 380.7h0.7v0.7h-0.7zM240.1 385.4h0.7v0.7h-0.7zM236.1 381.7h0.7v0.7h-0.7zM234.0 381.1h0.7v0.7h-0.7zM246.2 377.6h0.7v0.7h-0.7zM238.4 384.1h0.7v0.7h-0.7zM239.5 386.2h0.7v0.7h-0.7zM247.9 375.8h0.7v0.7h-0.7zM239.5 379.9h0.7v0.7h-0.7zM237.6 386.7h0.7v0.7h-0.7zM244.2 382.9h0.7v0.7h-0.7zM243.7 377.2h0.7v0.7h-0.7zM243.0 382.7h0.7v0.7h-0.7zM242.9 380.5h0.7v0.7h-0.7zM244.7 380.7h0.7v0.7h-0.7zM240.1 378.2h0.7v0.7h-0.7zM234.9 382.8h0.7v0.7h-0.7zM237.8 381.4h0.7v0.7h-0.7zM247.6 378.5h0.7v0.7h-0.7zM245.4 379.0h0.7v0.7h-0.7zM245.4 372.8h0.7v0.7h-0.7zM241.3 379.5h0.7v0.7h-0.7zM245.7 384.7h0.7v0.7h-0.7zM242.5 377.2h0.7v0.7h-0.7zM241.5 382.1h0.7v0.7h-0.7zM241.8 378.8h0.7v0.7h-0.7zM234.2 381.5h0.7v0.7h-0.7zM241.5 384.4h0.7v0.7h-0.7zM240.1 380.4h0.7v0.7h-0.7zM242.0 377.6h0.7v0.7h-0.7zM243.5 383.5h0.7v0.7h-0.7zM242.6 379.4h0.7v0.7h-0.7zM235.8 380.1h0.7v0.7h-0.7zM241.1 375.7h0.7v0.7h-0.7zM241.0 382.0h0.7v0.7h-0.7zM236.1 379.9h0.7v0.7h-0.7zM245.4 382.5h0.7v0.7h-0.7zM238.9 381.8h0.7v0.7h-0.7zM243.1 380.0h0.7v0.7h-0.7zM246.9 378.9h0.7v0.7h-0.7zM241.7 378.1h0.7v0.7h-0.7zM237.4 386.7h0.7v0.7h-0.7zM247.9 378.7h0.7v0.7h-0.7zM245.9 385.0h0.7v0.7h-0.7zM244.4 378.0h0.7v0.7h-0.7zM236.5 378.9h0.7v0.7h-0.7zM244.4 377.2h0.7v0.7h-0.7zM238.0 381.0h0.7v0.7h-0.7zM244.3 375.4h0.7v0.7h-0.7zM240.7 380.7h0.7v0.7h-0.7zM238.9 383.4h0.7v0.7h-0.7zM243.5 377.6h0.7v0.7h-0.7zM241.5 379.6h0.7v0.7h-0.7zM243.4 379.9h0.7v0.7h-0.7zM250.0 382.1h0.7v0.7h-0.7zM241.5 381.4h0.7v0.7h-0.7zM230.9 378.5h0.7v0.7h-0.7zM241.1 380.6h0.7v0.7h-0.7zM240.3 382.4h0.7v0.7h-0.7zM232.3 389.6h0.7v0.7h-0.7zM243.0 377.8h0.7v0.7h-0.7zM243.2 380.4h0.7v0.7h-0.7zM237.4 383.0h0.7v0.7h-0.7zM243.9 375.8h0.7v0.7h-0.7zM240.7 381.7h0.7v0.7h-0.7zM244.3 375.5h0.7v0.7h-0.7zM241.5 382.5h0.7v0.7h-0.7zM241.8 378.0h0.7v0.7h-0.7zM238.9 377.2h0.7v0.7h-0.7zM238.0 382.8h0.7v0.7h-0.7zM232.0 380.5h0.7v0.7h-0.7zM244.3 379.5h0.7v0.7h-0.7zM244.3 381.6h0.7v0.7h-0.7zM245.2 377.9h0.7v0.7h-0.7zM248.6 373.1h0.7v0.7h-0.7zM244.8 378.4h0.7v0.7h-0.7zM245.2 378.6h0.7v0.7h-0.7zM239.9 380.0h0.7v0.7h-0.7zM244.2 384.2h0.7v0.7h-0.7zM243.9 376.1h0.7v0.7h-0.7zM241.1 381.0h0.7v0.7h-0.7zM238.9 385.3h0.7v0.7h-0.7zM237.1 377.3h0.7v0.7h-0.7zM243.6 381.6h0.7v0.7h-0.7zM242.5 378.8h0.7v0.7h-0.7zM236.9 381.2h0.7v0.7h-0.7zM248.3 377.6h0.7v0.7h-0.7zM239.6 376.4h0.7v0.7h-0.7zM246.1 377.6h0.7v0.7h-0.7zM238.9 383.3h0.7v0.7h-0.7zM240.7 381.5h0.7v0.7h-0.7zM242.2 383.4h0.7v0.7h-0.7zM243.1 379.1h0.7v0.7h-0.7zM237.3 387.0h0.7v0.7h-0.7zM241.1 380.6h0.7v0.7h-0.7zM244.4 377.6h0.7v0.7h-0.7zM251.2 374.8h0.7v0.7h-0.7zM242.8 379.1h0.7v0.7h-0.7zM233.5 381.7h0.7v0.7h-0.7zM247.0 383.1h0.7v0.7h-0.7zM241.0 386.7h0.7v0.7h-0.7zM244.5 372.7h0.7v0.7h-0.7zM250.6 377.1h0.7v0.7h-0.7zM240.4 385.6h0.7v0.7h-0.7zM237.7 383.9h0.7v0.7h-0.7zM246.5 382.5h0.7v0.7h-0.7zM245.9 379.6h0.7v0.7h-0.7zM248.2 379.4h0.7v0.7h-0.7zM246.0 378.1h0.7v0.7h-0.7zM242.6 382.8h0.7v0.7h-0.7zM248.9 376.3h0.7v0.7h-0.7zM243.2 379.8h0.7v0.7h-0.7zM249.4 377.8h0.7v0.7h-0.7zM243.0 382.5h0.7v0.7h-0.7zM242.2 377.1h0.7v0.7h-0.7zM242.4 386.0h0.7v0.7h-0.7zM241.4 383.4h0.7v0.7h-0.7zM237.2 382.0h0.7v0.7h-0.7zM241.1 385.6h0.7v0.7h-0.7zM245.8 376.3h0.7v0.7h-0.7zM240.0 377.5h0.7v0.7h-0.7zM247.0 382.8h0.7v0.7h-0.7zM244.6 380.7h0.7v0.7h-0.7zM241.4 378.5h0.7v0.7h-0.7zM251.8 377.4h0.7v0.7h-0.7zM252.6 378.6h0.7v0.7h-0.7zM244.6 382.6h0.7v0.7h-0.7zM252.1 376.1h0.7v0.7h-0.7zM248.2 377.0h0.7v0.7h-0.7zM251.5 376.2h0.7v0.7h-0.7zM243.5 384.4h0.7v0.7h-0.7zM236.5 381.1h0.7v0.7h-0.7zM236.4 384.5h0.7v0.7h-0.7zM252.5 376.6h0.7v0.7h-0.7zM236.2 381.9h0.7v0.7h-0.7zM245.4 381.3h0.7v0.7h-0.7zM250.1 376.0h0.7v0.7h-0.7zM239.6 386.0h0.7v0.7h-0.7zM246.7 377.4h0.7v0.7h-0.7zM237.2 381.8h0.7v0.7h-0.7zM240.7 378.1h0.7v0.7h-0.7zM240.3 386.3h0.7v0.7h-0.7zM234.5 385.0h0.7v0.7h-0.7zM238.2 380.8h0.7v0.7h-0.7zM237.2 381.7h0.7v0.7h-0.7zM243.9 371.7h0.7v0.7h-0.7zM239.4 382.5h0.7v0.7h-0.7zM248.0 376.6h0.7v0.7h-0.7zM233.7 383.4h0.7v0.7h-0.7zM240.5 381.7h0.7v0.7h-0.7zM239.6 384.0h0.7v0.7h-0.7zM237.9 380.2h0.7v0.7h-0.7zM236.2 378.9h0.7v0.7h-0.7zM239.7 386.9h0.7v0.7h-0.7zM237.4 383.1h0.7v0.7h-0.7zM243.4 379.0h0.7v0.7h-0.7zM239.7 382.9h0.7v0.7h-0.7zM243.7 374.3h0.7v0.7h-0.7zM237.6 386.2h0.7v0.7h-0.7zM238.8 378.7h0.7v0.7h-0.7zM240.1 377.5h0.7v0.7h-0.7zM238.2 380.5h0.7v0.7h-0.7zM244.6 375.9h0.7v0.7h-0.7zM240.2 379.0h0.7v0.7h-0.7zM242.2 379.7h0.7v0.7h-0.7zM237.1 379.5h0.7v0.7h-0.7zM245.5 378.8h0.7v0.7h-0.7zM244.6 381.2h0.7v0.7h-0.7zM240.8 384.8h0.7v0.7h-0.7zM245.3 383.3h0.7v0.7h-0.7zM241.7 381.8h0.7v0.7h-0.7zM236.6 383.0h0.7v0.7h-0.7zM238.5 379.5h0.7v0.7h-0.7zM246.3 376.4h0.7v0.7h-0.7zM239.0 377.5h0.7v0.7h-0.7zM243.4 378.1h0.7v0.7h-0.7zM241.2 382.1h0.7v0.7h-0.7zM239.4 381.0h0.7v0.7h-0.7zM241.7 373.7h0.7v0.7h-0.7zM247.4 375.1h0.7v0.7h-0.7zM246.8 385.2h0.7v0.7h-0.7zM246.4 378.2h0.7v0.7h-0.7zM239.1 386.8h0.7v0.7h-0.7zM247.0 376.1h0.7v0.7h-0.7zM247.0 374.8h0.7v0.7h-0.7zM240.5 383.8h0.7v0.7h-0.7zM246.8 382.1h0.7v0.7h-0.7zM238.9 383.8h0.7v0.7h-0.7zM242.1 384.6h0.7v0.7h-0.7zM240.8 382.0h0.7v0.7h-0.7zM241.4 383.2h0.7v0.7h-0.7zM241.8 378.6h0.7v0.7h-0.7zM245.8 371.8h0.7v0.7h-0.7zM240.4 382.0h0.7v0.7h-0.7zM247.9 373.9h0.7v0.7h-0.7zM248.8 378.8h0.7v0.7h-0.7zM253.1 376.9h0.7v0.7h-0.7zM240.2 378.0h0.7v0.7h-0.7zM231.7 386.4h0.7v0.7h-0.7zM237.2 379.5h0.7v0.7h-0.7zM241.7 382.1h0.7v0.7h-0.7zM241.2 385.2h0.7v0.7h-0.7zM232.7 381.9h0.7v0.7h-0.7zM243.9 383.2h0.7v0.7h-0.7zM239.2 383.2h0.7v0.7h-0.7zM240.8 381.0h0.7v0.7h-0.7zM239.7 383.5h0.7v0.7h-0.7zM245.3 382.6h0.7v0.7h-0.7zM235.5 384.5h0.7v0.7h-0.7zM248.4 379.1h0.7v0.7h-0.7zM243.7 383.8h0.7v0.7h-0.7zM242.5 380.8h0.7v0.7h-0.7zM244.5 377.8h0.7v0.7h-0.7zM242.5 381.7h0.7v0.7h-0.7zM240.5 378.2h0.7v0.7h-0.7zM242.8 381.7h0.7v0.7h-0.7zM236.5 387.5h0.7v0.7h-0.7zM237.3 376.4h0.7v0.7h-0.7zM245.8 375.0h0.7v0.7h-0.7zM242.4 378.8h0.7v0.7h-0.7zM239.6 381.8h0.7v0.7h-0.7zM240.7 376.8h0.7v0.7h-0.7zM241.4 383.8h0.7v0.7h-0.7zM238.9 378.2h0.7v0.7h-0.7zM240.4 381.5h0.7v0.7h-0.7zM244.8 382.3h0.7v0.7h-0.7zM239.5 377.6h0.7v0.7h-0.7zM240.4 374.7h0.7v0.7h-0.7zM237.4 385.7h0.7v0.7h-0.7zM239.1 388.5h0.7v0.7h-0.7zM244.7 379.2h0.7v0.7h-0.7zM251.1 381.3h0.7v0.7h-0.7zM238.9 378.8h0.7v0.7h-0.7zM243.7 377.1h0.7v0.7h-0.7zM237.1 383.0h0.7v0.7h-0.7zM247.3 373.9h0.7v0.7h-0.7zM242.1 383.6h0.7v0.7h-0.7zM247.2 376.4h0.7v0.7h-0.7zM253.0 383.0h0.7v0.7h-0.7zM244.2 384.4h0.7v0.7h-0.7zM238.5 379.4h0.7v0.7h-0.7zM238.9 385.4h0.7v0.7h-0.7zM238.4 381.1h0.7v0.7h-0.7zM244.1 383.7h0.7v0.7h-0.7zM242.2 384.7h0.7v0.7h-0.7zM248.2 380.4h0.7v0.7h-0.7zM245.1 377.8h0.7v0.7h-0.7zM235.7 380.4h0.7v0.7h-0.7zM247.2 378.0h0.7v0.7h-0.7zM247.1 379.9h0.7v0.7h-0.7zM250.6 377.5h0.7v0.7h-0.7zM241.6 382.6h0.7v0.7h-0.7zM240.9 385.1h0.7v0.7h-0.7zM241.2 378.7h0.7v0.7h-0.7zM245.5 381.1h0.7v0.7h-0.7zM244.9 376.6h0.7v0.7h-0.7zM248.9 381.0h0.7v0.7h-0.7zM242.4 376.1h0.7v0.7h-0.7zM240.0 375.9h0.7v0.7h-0.7zM236.4 382.5h0.7v0.7h-0.7zM236.5 379.4h0.7v0.7h-0.7zM242.5 381.7h0.7v0.7h-0.7zM238.8 380.7h0.7v0.7h-0.7zM238.6 379.4h0.7v0.7h-0.7zM240.5 380.5h0.7v0.7h-0.7zM243.2 375.8h0.7v0.7h-0.7zM244.3 384.7h0.7v0.7h-0.7zM236.0 379.5h0.7v0.7h-0.7zM242.9 383.2h0.7v0.7h-0.7zM240.2 378.5h0.7v0.7h-0.7zM248.0 378.7h0.7v0.7h-0.7zM245.9 381.0h0.7v0.7h-0.7zM238.8 378.4h0.7v0.7h-0.7zM238.6 379.3h0.7v0.7h-0.7zM246.3 377.0h0.7v0.7h-0.7zM238.5 381.7h0.7v0.7h-0.7zM240.6 381.6h0.7v0.7h-0.7zM242.5 380.5h0.7v0.7h-0.7zM243.5 379.8h0.7v0.7h-0.7zM244.3 375.6h0.7v0.7h-0.7zM237.5 385.8h0.7v0.7h-0.7zM242.1 375.7h0.7v0.7h-0.7zM242.1 390.1h0.7v0.7h-0.7zM241.3 377.1h0.7v0.7h-0.7zM239.9 378.4h0.7v0.7h-0.7zM242.6 379.1h0.7v0.7h-0.7zM241.3 379.0h0.7v0.7h-0.7zM245.3 379.8h0.7v0.7h-0.7zM245.3 381.1h0.7v0.7h-0.7zM239.3 379.1h0.7v0.7h-0.7zM243.3 377.7h0.7v0.7h-0.7zM247.6 380.9h0.7v0.7h-0.7zM246.2 373.7h0.7v0.7h-0.7zM240.4 385.3h0.7v0.7h-0.7zM245.3 376.0h0.7v0.7h-0.7zM245.0 382.5h0.7v0.7h-0.7zM242.9 384.3h0.7v0.7h-0.7zM244.9 375.0h0.7v0.7h-0.7zM243.7 382.6h0.7v0.7h-0.7zM239.3 381.9h0.7v0.7h-0.7zM243.3 374.2h0.7v0.7h-0.7zM248.7 377.5h0.7v0.7h-0.7zM247.8 373.6h0.7v0.7h-0.7zM238.9 383.5h0.7v0.7h-0.7zM246.4 378.4h0.7v0.7h-0.7zM237.2 380.0h0.7v0.7h-0.7zM244.1 382.1h0.7v0.7h-0.7zM242.9 377.3h0.7v0.7h-0.7zM244.2 381.9h0.7v0.7h-0.7zM244.0 381.9h0.7v0.7h-0.7zM241.0 389.1h0.7v0.7h-0.7zM237.7 380.9h0.7v0.7h-0.7zM244.8 380.1h0.7v0.7h-0.7zM240.5 378.4h0.7v0.7h-0.7zM239.8 376.2h0.7v0.7h-0.7zM255.7 368.3h0.7v0.7h-0.7zM245.7 379.5h0.7v0.7h-0.7zM240.3 378.9h0.7v0.7h-0.7zM232.6 374.8h0.7v0.7h-0.7zM240.6 378.7h0.7v0.7h-0.7zM245.9 378.4h0.7v0.7h-0.7zM243.3 377.6h0.7v0.7h-0.7zM237.7 379.1h0.7v0.7h-0.7zM243.0 379.9h0.7v0.7h-0.7zM233.0 365.5h0.7v0.7h-0.7zM247.2 370.5h0.7v0.7h-0.7zM231.2 375.3h0.7v0.7h-0.7zM245.2 378.2h0.7v0.7h-0.7zM239.2 377.1h0.7v0.7h-0.7zM244.3 380.1h0.7v0.7h-0.7zM238.4 375.2h0.7v0.7h-0.7zM242.8 377.2h0.7v0.7h-0.7zM223.7 377.2h0.7v0.7h-0.7zM242.8 369.7h0.7v0.7h-0.7zM250.7 375.3h0.7v0.7h-0.7zM235.4 378.4h0.7v0.7h-0.7zM231.8 370.7h0.7v0.7h-0.7zM228.4 376.5h0.7v0.7h-0.7zM249.2 371.8h0.7v0.7h-0.7zM249.6 376.2h0.7v0.7h-0.7zM240.8 373.8h0.7v0.7h-0.7zM246.8 376.8h0.7v0.7h-0.7zM239.0 374.3h0.7v0.7h-0.7zM252.6 373.2h0.7v0.7h-0.7zM233.4 376.4h0.7v0.7h-0.7zM244.2 379.4h0.7v0.7h-0.7zM243.9 371.1h0.7v0.7h-0.7zM235.0 380.2h0.7v0.7h-0.7zM239.0 379.9h0.7v0.7h-0.7zM234.0 376.0h0.7v0.7h-0.7zM231.1 373.8h0.7v0.7h-0.7zM252.9 378.2h0.7v0.7h-0.7zM226.4 368.2h0.7v0.7h-0.7zM244.2 374.2h0.7v0.7h-0.7zM245.7 375.6h0.7v0.7h-0.7zM239.4 376.1h0.7v0.7h-0.7zM241.5 369.2h0.7v0.7h-0.7z" fill="#000" opacity="0.5"/>
<ellipse cx="242.2" cy="380.3" rx="5.92" ry="3.17" fill="#000" transform="rotate(-30 242.2 380.3)" filter="url(#bl)"/>
<rect x="271.30" y="330.70" width="66.80" height="61.70" fill="#fff" stroke="#8c8c8c" stroke-width="0.8"/>
<line x1="306.10" y1="330.70" x2="306.10" y2="392.40" stroke="#888" stroke-width="0.7" stroke-dasharray="0.7 0.7"/>
<line x1="271.30" y1="372.80" x2="338.10" y2="372.80" stroke="#888" stroke-width="0.7" stroke-dasharray="0.7 0.7"/>
<line x1="269.10" y1="378.50" x2="271.30" y2="378.50" stroke="#111" stroke-width="0.8"/>
<line x1="270.00" y1="374.20" x2="271.30" y2="374.20" stroke="#333" stroke-width="0.6"/>
<line x1="270.00" y1="371.68" x2="271.30" y2="371.68" stroke="#333" stroke-width="0.6"/>
<line x1="270.00" y1="369.89" x2="271.30" y2="369.89" stroke="#333" stroke-width="0.6"/>
<line x1="270.00" y1="368.50" x2="271.30" y2="368.50" stroke="#333" stroke-width="0.6"/>
<line x1="270.00" y1="367.37" x2="271.30" y2="367.37" stroke="#333" stroke-width="0.6"/>
<line x1="270.00" y1="366.42" x2="271.30" y2="366.42" stroke="#333" stroke-width="0.6"/>
<line x1="270.00" y1="365.59" x2="271.30" y2="365.59" stroke="#333" stroke-width="0.6"/>
<line x1="270.00" y1="364.85" x2="271.30" y2="364.85" stroke="#333" stroke-width="0.6"/>
<line x1="269.10" y1="364.20" x2="271.30" y2="364.20" stroke="#111" stroke-width="0.8"/>
<line x1="270.00" y1="359.90" x2="271.30" y2="359.90" stroke="#333" stroke-width="0.6"/>
<line x1="270.00" y1="357.38" x2="271.30" y2="357.38" stroke="#333" stroke-width="0.6"/>
<line x1="270.00" y1="355.59" x2="271.30" y2="355.59" stroke="#333" stroke-width="0.6"/>
<line x1="270.00" y1="354.20" x2="271.30" y2="354.20" stroke="#333" stroke-width="0.6"/>
<line x1="270.00" y1="353.07" x2="271.30" y2="353.07" stroke="#333" stroke-width="0.6"/>
<line x1="270.00" y1="352.12" x2="271.30" y2="352.12" stroke="#333" stroke-width="0.6"/>
<line x1="270.00" y1="351.29" x2="271.30" y2="351.29" stroke="#333" stroke-width="0.6"/>
<line x1="270.00" y1="350.55" x2="271.30" y2="350.55" stroke="#333" stroke-width="0.6"/>
<line x1="269.10" y1="349.90" x2="271.30" y2="349.90" stroke="#111" stroke-width="0.8"/>
<line x1="270.00" y1="345.60" x2="271.30" y2="345.60" stroke="#333" stroke-width="0.6"/>
<line x1="270.00" y1="343.08" x2="271.30" y2="343.08" stroke="#333" stroke-width="0.6"/>
<line x1="270.00" y1="341.29" x2="271.30" y2="341.29" stroke="#333" stroke-width="0.6"/>
<line x1="270.00" y1="339.90" x2="271.30" y2="339.90" stroke="#333" stroke-width="0.6"/>
<line x1="270.00" y1="338.77" x2="271.30" y2="338.77" stroke="#333" stroke-width="0.6"/>
<line x1="270.00" y1="337.82" x2="271.30" y2="337.82" stroke="#333" stroke-width="0.6"/>
<line x1="270.00" y1="336.99" x2="271.30" y2="336.99" stroke="#333" stroke-width="0.6"/>
<line x1="270.00" y1="336.25" x2="271.30" y2="336.25" stroke="#333" stroke-width="0.6"/>
<line x1="269.10" y1="335.60" x2="271.30" y2="335.60" stroke="#111" stroke-width="0.8"/>
<line x1="270.40" y1="378.40" x2="270.40" y2="389.90" stroke="#111" stroke-width="1.7"/>
<line x1="273.30" y1="392.40" x2="273.30" y2="395.00" stroke="#111" stroke-width="0.9"/>
<line x1="277.60" y1="392.40" x2="277.60" y2="394.00" stroke="#333" stroke-width="0.6"/>
<line x1="280.12" y1="392.40" x2="280.12" y2="394.00" stroke="#333" stroke-width="0.6"/>
<line x1="281.91" y1="392.40" x2="281.91" y2="394.00" stroke="#333" stroke-width="0.6"/>
<line x1="283.30" y1="392.40" x2="283.30" y2="394.00" stroke="#333" stroke-width="0.6"/>
<line x1="284.43" y1="392.40" x2="284.43" y2="394.00" stroke="#333" stroke-width="0.6"/>
<line x1="285.38" y1="392.40" x2="285.38" y2="394.00" stroke="#333" stroke-width="0.6"/>
<line x1="286.21" y1="392.40" x2="286.21" y2="394.00" stroke="#333" stroke-width="0.6"/>
<line x1="286.95" y1="392.40" x2="286.95" y2="394.00" stroke="#333" stroke-width="0.6"/>
<line x1="287.60" y1="392.40" x2="287.60" y2="395.00" stroke="#111" stroke-width="0.9"/>
<line x1="291.90" y1="392.40" x2="291.90" y2="394.00" stroke="#333" stroke-width="0.6"/>
<line x1="294.42" y1="392.40" x2="294.42" y2="394.00" stroke="#333" stroke-width="0.6"/>
<line x1="296.21" y1="392.40" x2="296.21" y2="394.00" stroke="#333" stroke-width="0.6"/>
<line x1="297.60" y1="392.40" x2="297.60" y2="394.00" stroke="#333" stroke-width="0.6"/>
<line x1="298.73" y1="392.40" x2="298.73" y2="394.00" stroke="#333" stroke-width="0.6"/>
<line x1="299.68" y1="392.40" x2="299.68" y2="394.00" stroke="#333" stroke-width="0.6"/>
<line x1="300.51" y1="392.40" x2="300.51" y2="394.00" stroke="#333" stroke-width="0.6"/>
<line x1="301.25" y1="392.40" x2="301.25" y2="394.00" stroke="#333" stroke-width="0.6"/>
<line x1="301.90" y1="392.40" x2="301.90" y2="395.00" stroke="#111" stroke-width="0.9"/>
<line x1="306.20" y1="392.40" x2="306.20" y2="394.00" stroke="#333" stroke-width="0.6"/>
<line x1="308.72" y1="392.40" x2="308.72" y2="394.00" stroke="#333" stroke-width="0.6"/>
<line x1="310.51" y1="392.40" x2="310.51" y2="394.00" stroke="#333" stroke-width="0.6"/>
<line x1="311.90" y1="392.40" x2="311.90" y2="394.00" stroke="#333" stroke-width="0.6"/>
<line x1="313.03" y1="392.40" x2="313.03" y2="394.00" stroke="#333" stroke-width="0.6"/>
<line x1="313.98" y1="392.40" x2="313.98" y2="394.00" stroke="#333" stroke-width="0.6"/>
<line x1="314.81" y1="392.40" x2="314.81" y2="394.00" stroke="#333" stroke-width="0.6"/>
<line x1="315.55" y1="392.40" x2="315.55" y2="394.00" stroke="#333" stroke-width="0.6"/>
<line x1="316.20" y1="392.40" x2="316.20" y2="395.00" stroke="#111" stroke-width="0.9"/>
<line x1="320.50" y1="392.40" x2="320.50" y2="394.00" stroke="#333" stroke-width="0.6"/>
<line x1="323.02" y1="392.40" x2="323.02" y2="394.00" stroke="#333" stroke-width="0.6"/>
<line x1="324.81" y1="392.40" x2="324.81" y2="394.00" stroke="#333" stroke-width="0.6"/>
<line x1="326.20" y1="392.40" x2="326.20" y2="394.00" stroke="#333" stroke-width="0.6"/>
<line x1="327.33" y1="392.40" x2="327.33" y2="394.00" stroke="#333" stroke-width="0.6"/>
<line x1="328.28" y1="392.40" x2="328.28" y2="394.00" stroke="#333" stroke-width="0.6"/>
<line x1="329.11" y1="392.40" x2="329.11" y2="394.00" stroke="#333" stroke-width="0.6"/>
<line x1="329.85" y1="392.40" x2="329.85" y2="394.00" stroke="#333" stroke-width="0.6"/>
<text x="273.00" y="338.50" font-size="7.4" text-anchor="start" fill="#111" stroke="#111" stroke-width="0.2">&lt;1%</text>
<text x="337.30" y="338.50" font-size="7.4" text-anchor="end" fill="#111" stroke="#111" stroke-width="0.2">39%</text>
<text x="273.00" y="391.40" font-size="7.4" text-anchor="start" fill="#111" stroke="#111" stroke-width="0.2">&lt;1%</text>
<text x="337.30" y="391.40" font-size="7.4" text-anchor="end" fill="#111" stroke="#111" stroke-width="0.2">61%</text>
<path d="M313.7 372.8h0.75v0.75h-0.75zM315.0 349.1h0.75v0.75h-0.75zM318.9 361.8h0.75v0.75h-0.75zM313.6 377.6h0.75v0.75h-0.75zM315.1 372.2h0.75v0.75h-0.75zM312.4 385.1h0.75v0.75h-0.75zM325.6 365.9h0.75v0.75h-0.75zM320.5 374.0h0.75v0.75h-0.75zM313.7 354.3h0.75v0.75h-0.75zM322.4 366.3h0.75v0.75h-0.75zM317.7 383.2h0.75v0.75h-0.75zM316.1 375.6h0.75v0.75h-0.75zM318.4 385.2h0.75v0.75h-0.75zM315.7 374.0h0.75v0.75h-0.75zM317.8 377.9h0.75v0.75h-0.75zM320.1 385.4h0.75v0.75h-0.75zM316.7 368.9h0.75v0.75h-0.75zM316.0 361.0h0.75v0.75h-0.75zM314.2 372.3h0.75v0.75h-0.75zM316.1 360.9h0.75v0.75h-0.75zM320.6 381.2h0.75v0.75h-0.75zM318.3 356.9h0.75v0.75h-0.75zM315.7 372.7h0.75v0.75h-0.75zM312.0 377.4h0.75v0.75h-0.75zM323.0 374.6h0.75v0.75h-0.75zM318.8 378.4h0.75v0.75h-0.75zM322.6 372.6h0.75v0.75h-0.75zM313.4 385.1h0.75v0.75h-0.75zM312.2 384.5h0.75v0.75h-0.75zM313.5 376.0h0.75v0.75h-0.75zM314.5 368.1h0.75v0.75h-0.75zM316.9 378.3h0.75v0.75h-0.75zM315.5 379.2h0.75v0.75h-0.75zM320.6 373.2h0.75v0.75h-0.75zM318.0 363.4h0.75v0.75h-0.75zM319.3 361.4h0.75v0.75h-0.75zM316.9 364.2h0.75v0.75h-0.75zM314.4 376.1h0.75v0.75h-0.75zM319.8 371.7h0.75v0.75h-0.75zM320.0 367.7h0.75v0.75h-0.75zM319.2 364.7h0.75v0.75h-0.75zM318.8 357.5h0.75v0.75h-0.75zM321.6 365.7h0.75v0.75h-0.75zM313.2 384.0h0.75v0.75h-0.75zM310.2 376.3h0.75v0.75h-0.75zM317.4 382.1h0.75v0.75h-0.75zM320.2 350.2h0.75v0.75h-0.75zM319.6 369.2h0.75v0.75h-0.75zM311.2 382.7h0.75v0.75h-0.75zM321.7 381.3h0.75v0.75h-0.75zM315.5 381.0h0.75v0.75h-0.75zM316.8 369.1h0.75v0.75h-0.75zM315.5 378.2h0.75v0.75h-0.75zM318.8 367.8h0.75v0.75h-0.75zM310.9 385.5h0.75v0.75h-0.75zM313.5 372.1h0.75v0.75h-0.75zM312.8 368.7h0.75v0.75h-0.75zM320.1 383.0h0.75v0.75h-0.75zM322.6 384.9h0.75v0.75h-0.75zM319.1 350.1h0.75v0.75h-0.75zM321.4 358.5h0.75v0.75h-0.75zM318.4 386.3h0.75v0.75h-0.75zM313.7 373.4h0.75v0.75h-0.75zM310.8 386.2h0.75v0.75h-0.75zM320.8 383.0h0.75v0.75h-0.75zM319.7 370.0h0.75v0.75h-0.75zM319.6 378.5h0.75v0.75h-0.75zM320.9 369.0h0.75v0.75h-0.75zM314.8 355.2h0.75v0.75h-0.75zM317.4 383.1h0.75v0.75h-0.75zM309.0 384.8h0.75v0.75h-0.75zM312.9 374.7h0.75v0.75h-0.75zM311.9 368.1h0.75v0.75h-0.75zM320.3 357.1h0.75v0.75h-0.75zM320.9 386.3h0.75v0.75h-0.75zM315.6 366.2h0.75v0.75h-0.75zM317.6 370.6h0.75v0.75h-0.75zM309.6 384.5h0.75v0.75h-0.75zM315.4 385.1h0.75v0.75h-0.75zM316.7 368.9h0.75v0.75h-0.75zM316.5 370.6h0.75v0.75h-0.75zM312.3 357.5h0.75v0.75h-0.75zM313.4 376.8h0.75v0.75h-0.75zM314.4 373.0h0.75v0.75h-0.75zM322.0 384.4h0.75v0.75h-0.75zM313.8 385.5h0.75v0.75h-0.75zM317.6 377.1h0.75v0.75h-0.75zM317.9 379.7h0.75v0.75h-0.75zM317.4 381.9h0.75v0.75h-0.75zM319.4 372.8h0.75v0.75h-0.75zM315.6 383.8h0.75v0.75h-0.75zM314.9 382.8h0.75v0.75h-0.75zM315.8 362.8h0.75v0.75h-0.75zM313.5 361.1h0.75v0.75h-0.75zM314.3 366.9h0.75v0.75h-0.75zM316.0 377.7h0.75v0.75h-0.75zM312.9 384.8h0.75v0.75h-0.75zM314.2 384.0h0.75v0.75h-0.75zM315.2 370.7h0.75v0.75h-0.75zM317.7 382.7h0.75v0.75h-0.75zM318.9 359.6h0.75v0.75h-0.75zM314.1 379.8h0.75v0.75h-0.75zM318.1 381.4h0.75v0.75h-0.75zM317.5 382.2h0.75v0.75h-0.75zM317.9 379.7h0.75v0.75h-0.75zM319.5 366.4h0.75v0.75h-0.75zM316.0 386.2h0.75v0.75h-0.75zM321.0 372.7h0.75v0.75h-0.75zM318.3 378.8h0.75v0.75h-0.75zM321.9 385.9h0.75v0.75h-0.75zM316.8 368.0h0.75v0.75h-0.75zM322.0 354.9h0.75v0.75h-0.75zM316.2 365.9h0.75v0.75h-0.75zM313.9 356.5h0.75v0.75h-0.75zM316.7 384.3h0.75v0.75h-0.75zM318.3 385.8h0.75v0.75h-0.75zM315.0 385.5h0.75v0.75h-0.75zM314.8 350.4h0.75v0.75h-0.75zM320.0 365.7h0.75v0.75h-0.75zM317.2 385.5h0.75v0.75h-0.75zM306.6 381.4h0.75v0.75h-0.75zM314.5 367.2h0.75v0.75h-0.75zM315.9 349.9h0.75v0.75h-0.75zM311.9 386.5h0.75v0.75h-0.75zM320.2 379.2h0.75v0.75h-0.75zM316.7 354.5h0.75v0.75h-0.75zM317.6 382.5h0.75v0.75h-0.75zM309.3 377.0h0.75v0.75h-0.75zM313.9 382.6h0.75v0.75h-0.75zM311.4 381.6h0.75v0.75h-0.75zM321.3 384.9h0.75v0.75h-0.75zM317.8 366.9h0.75v0.75h-0.75zM314.5 377.8h0.75v0.75h-0.75zM316.0 377.3h0.75v0.75h-0.75zM311.9 360.9h0.75v0.75h-0.75zM315.6 357.3h0.75v0.75h-0.75zM315.0 384.2h0.75v0.75h-0.75zM315.7 374.5h0.75v0.75h-0.75zM314.9 380.4h0.75v0.75h-0.75zM310.7 380.7h0.75v0.75h-0.75zM313.8 372.0h0.75v0.75h-0.75zM314.9 379.6h0.75v0.75h-0.75zM318.7 364.4h0.75v0.75h-0.75zM313.3 369.1h0.75v0.75h-0.75zM317.5 364.5h0.75v0.75h-0.75zM316.8 375.8h0.75v0.75h-0.75zM315.1 382.0h0.75v0.75h-0.75zM311.7 371.5h0.75v0.75h-0.75zM313.0 367.2h0.75v0.75h-0.75zM316.3 380.3h0.75v0.75h-0.75zM317.4 376.1h0.75v0.75h-0.75zM310.9 371.8h0.75v0.75h-0.75zM313.6 375.3h0.75v0.75h-0.75zM313.0 378.6h0.75v0.75h-0.75zM323.0 352.9h0.75v0.75h-0.75zM315.7 356.8h0.75v0.75h-0.75zM314.7 383.8h0.75v0.75h-0.75zM311.9 359.7h0.75v0.75h-0.75zM314.4 377.9h0.75v0.75h-0.75zM318.5 374.3h0.75v0.75h-0.75zM316.8 382.8h0.75v0.75h-0.75zM318.8 373.8h0.75v0.75h-0.75zM321.6 378.2h0.75v0.75h-0.75zM312.2 384.8h0.75v0.75h-0.75zM316.9 378.7h0.75v0.75h-0.75zM315.2 361.9h0.75v0.75h-0.75zM320.2 386.1h0.75v0.75h-0.75zM314.4 360.0h0.75v0.75h-0.75zM321.7 374.1h0.75v0.75h-0.75zM316.9 362.2h0.75v0.75h-0.75zM319.8 385.0h0.75v0.75h-0.75zM315.7 379.9h0.75v0.75h-0.75zM314.3 372.9h0.75v0.75h-0.75zM311.9 384.9h0.75v0.75h-0.75zM319.2 356.7h0.75v0.75h-0.75zM314.1 382.0h0.75v0.75h-0.75zM316.8 373.2h0.75v0.75h-0.75zM321.6 365.9h0.75v0.75h-0.75zM317.9 385.4h0.75v0.75h-0.75zM316.1 350.0h0.75v0.75h-0.75zM321.6 362.5h0.75v0.75h-0.75zM314.5 383.0h0.75v0.75h-0.75zM317.0 382.0h0.75v0.75h-0.75zM316.2 363.9h0.75v0.75h-0.75zM317.6 363.4h0.75v0.75h-0.75zM314.1 364.1h0.75v0.75h-0.75zM318.5 375.0h0.75v0.75h-0.75zM319.9 370.4h0.75v0.75h-0.75zM318.9 381.3h0.75v0.75h-0.75zM315.6 375.8h0.75v0.75h-0.75zM319.3 367.4h0.75v0.75h-0.75zM313.3 365.0h0.75v0.75h-0.75zM317.5 380.6h0.75v0.75h-0.75zM314.0 354.6h0.75v0.75h-0.75zM320.7 372.5h0.75v0.75h-0.75zM312.3 376.1h0.75v0.75h-0.75zM317.2 371.4h0.75v0.75h-0.75zM312.4 359.0h0.75v0.75h-0.75zM315.8 384.3h0.75v0.75h-0.75zM314.5 368.2h0.75v0.75h-0.75zM327.4 372.1h0.75v0.75h-0.75zM313.9 368.9h0.75v0.75h-0.75zM322.8 365.2h0.75v0.75h-0.75zM318.1 363.6h0.75v0.75h-0.75zM318.8 357.1h0.75v0.75h-0.75zM318.2 360.1h0.75v0.75h-0.75zM320.5 382.3h0.75v0.75h-0.75zM310.6 375.0h0.75v0.75h-0.75zM313.6 378.7h0.75v0.75h-0.75zM306.4 378.4h0.75v0.75h-0.75zM314.7 380.0h0.75v0.75h-0.75zM317.2 356.9h0.75v0.75h-0.75zM317.0 374.7h0.75v0.75h-0.75zM317.2 370.6h0.75v0.75h-0.75zM320.1 365.7h0.75v0.75h-0.75zM315.7 380.6h0.75v0.75h-0.75zM319.0 376.0h0.75v0.75h-0.75zM320.7 368.2h0.75v0.75h-0.75zM316.4 382.6h0.75v0.75h-0.75zM322.5 378.6h0.75v0.75h-0.75zM319.7 356.1h0.75v0.75h-0.75zM314.2 374.7h0.75v0.75h-0.75zM312.8 381.7h0.75v0.75h-0.75zM320.9 386.6h0.75v0.75h-0.75zM317.7 372.3h0.75v0.75h-0.75zM312.8 383.4h0.75v0.75h-0.75zM314.4 381.4h0.75v0.75h-0.75zM320.1 358.5h0.75v0.75h-0.75zM319.4 370.7h0.75v0.75h-0.75zM319.3 371.6h0.75v0.75h-0.75zM317.9 359.3h0.75v0.75h-0.75zM309.1 380.0h0.75v0.75h-0.75zM309.4 377.6h0.75v0.75h-0.75zM314.4 364.0h0.75v0.75h-0.75zM314.1 374.8h0.75v0.75h-0.75zM314.4 380.3h0.75v0.75h-0.75zM316.5 349.2h0.75v0.75h-0.75zM309.9 380.9h0.75v0.75h-0.75zM320.6 354.6h0.75v0.75h-0.75zM315.5 376.0h0.75v0.75h-0.75zM319.0 380.6h0.75v0.75h-0.75zM314.7 386.1h0.75v0.75h-0.75zM316.0 376.7h0.75v0.75h-0.75zM313.0 384.4h0.75v0.75h-0.75zM318.9 357.9h0.75v0.75h-0.75zM314.2 369.6h0.75v0.75h-0.75zM317.7 359.3h0.75v0.75h-0.75zM314.4 374.1h0.75v0.75h-0.75zM317.7 375.3h0.75v0.75h-0.75zM314.6 373.2h0.75v0.75h-0.75zM316.1 383.7h0.75v0.75h-0.75zM315.8 368.1h0.75v0.75h-0.75zM319.5 386.2h0.75v0.75h-0.75zM321.2 352.4h0.75v0.75h-0.75zM311.6 376.1h0.75v0.75h-0.75zM319.2 375.2h0.75v0.75h-0.75zM313.0 378.3h0.75v0.75h-0.75zM321.4 384.6h0.75v0.75h-0.75zM316.6 378.6h0.75v0.75h-0.75zM319.4 373.2h0.75v0.75h-0.75zM315.5 360.2h0.75v0.75h-0.75zM316.8 371.4h0.75v0.75h-0.75zM312.4 383.1h0.75v0.75h-0.75zM321.2 374.7h0.75v0.75h-0.75zM316.2 376.0h0.75v0.75h-0.75zM310.8 378.7h0.75v0.75h-0.75zM314.3 375.6h0.75v0.75h-0.75zM324.1 370.6h0.75v0.75h-0.75zM312.3 375.4h0.75v0.75h-0.75zM316.9 384.8h0.75v0.75h-0.75zM316.0 383.1h0.75v0.75h-0.75zM312.2 369.6h0.75v0.75h-0.75zM314.8 357.1h0.75v0.75h-0.75zM312.5 352.8h0.75v0.75h-0.75zM311.1 373.9h0.75v0.75h-0.75zM318.8 378.3h0.75v0.75h-0.75zM314.2 380.7h0.75v0.75h-0.75zM313.0 375.4h0.75v0.75h-0.75zM314.5 367.3h0.75v0.75h-0.75zM313.7 383.5h0.75v0.75h-0.75zM317.1 362.8h0.75v0.75h-0.75zM313.8 372.8h0.75v0.75h-0.75zM321.0 364.7h0.75v0.75h-0.75zM316.1 368.3h0.75v0.75h-0.75zM314.2 375.0h0.75v0.75h-0.75zM318.7 359.9h0.75v0.75h-0.75zM315.5 380.3h0.75v0.75h-0.75zM319.2 361.5h0.75v0.75h-0.75zM324.4 380.7h0.75v0.75h-0.75zM316.8 368.6h0.75v0.75h-0.75zM319.7 386.1h0.75v0.75h-0.75zM315.0 383.0h0.75v0.75h-0.75zM321.8 380.9h0.75v0.75h-0.75zM318.6 383.9h0.75v0.75h-0.75zM318.5 349.4h0.75v0.75h-0.75zM318.7 367.8h0.75v0.75h-0.75zM317.2 370.6h0.75v0.75h-0.75zM311.5 374.0h0.75v0.75h-0.75zM319.6 351.0h0.75v0.75h-0.75zM316.9 382.3h0.75v0.75h-0.75zM321.3 379.1h0.75v0.75h-0.75zM311.0 380.4h0.75v0.75h-0.75zM315.5 366.9h0.75v0.75h-0.75zM317.1 363.5h0.75v0.75h-0.75zM317.7 367.5h0.75v0.75h-0.75zM318.3 379.6h0.75v0.75h-0.75zM315.5 372.8h0.75v0.75h-0.75zM317.4 365.1h0.75v0.75h-0.75zM310.4 369.0h0.75v0.75h-0.75zM320.3 368.5h0.75v0.75h-0.75zM321.2 374.9h0.75v0.75h-0.75zM315.8 384.4h0.75v0.75h-0.75zM317.1 364.5h0.75v0.75h-0.75zM317.4 383.6h0.75v0.75h-0.75zM315.8 375.3h0.75v0.75h-0.75zM313.9 355.8h0.75v0.75h-0.75zM317.9 376.3h0.75v0.75h-0.75zM314.9 384.9h0.75v0.75h-0.75zM319.4 376.5h0.75v0.75h-0.75zM314.4 375.9h0.75v0.75h-0.75zM315.1 358.9h0.75v0.75h-0.75zM316.6 380.0h0.75v0.75h-0.75zM321.0 349.9h0.75v0.75h-0.75zM323.0 371.2h0.75v0.75h-0.75zM317.7 369.7h0.75v0.75h-0.75zM319.6 357.9h0.75v0.75h-0.75zM313.1 385.5h0.75v0.75h-0.75zM312.1 375.4h0.75v0.75h-0.75zM313.9 357.6h0.75v0.75h-0.75zM314.5 384.5h0.75v0.75h-0.75zM311.9 377.2h0.75v0.75h-0.75zM316.0 354.3h0.75v0.75h-0.75zM315.5 371.4h0.75v0.75h-0.75zM314.0 381.6h0.75v0.75h-0.75zM317.9 367.1h0.75v0.75h-0.75zM319.5 371.6h0.75v0.75h-0.75zM317.4 373.4h0.75v0.75h-0.75zM315.9 362.5h0.75v0.75h-0.75zM315.6 382.2h0.75v0.75h-0.75zM318.1 382.9h0.75v0.75h-0.75zM318.8 359.2h0.75v0.75h-0.75zM316.3 363.2h0.75v0.75h-0.75zM314.7 365.6h0.75v0.75h-0.75zM316.0 366.6h0.75v0.75h-0.75zM317.3 360.3h0.75v0.75h-0.75zM314.7 372.0h0.75v0.75h-0.75zM317.6 372.8h0.75v0.75h-0.75zM320.1 374.3h0.75v0.75h-0.75zM321.7 358.2h0.75v0.75h-0.75zM321.3 383.7h0.75v0.75h-0.75zM316.9 384.3h0.75v0.75h-0.75zM316.6 376.9h0.75v0.75h-0.75zM321.6 367.5h0.75v0.75h-0.75zM319.7 377.3h0.75v0.75h-0.75zM313.7 383.6h0.75v0.75h-0.75zM318.5 381.1h0.75v0.75h-0.75zM309.2 367.4h0.75v0.75h-0.75zM317.5 381.1h0.75v0.75h-0.75zM319.3 360.1h0.75v0.75h-0.75zM315.1 372.7h0.75v0.75h-0.75zM319.1 363.9h0.75v0.75h-0.75zM320.9 378.6h0.75v0.75h-0.75zM320.9 369.3h0.75v0.75h-0.75zM319.3 365.9h0.75v0.75h-0.75zM312.5 373.9h0.75v0.75h-0.75zM316.5 378.6h0.75v0.75h-0.75zM317.1 373.9h0.75v0.75h-0.75zM317.5 355.8h0.75v0.75h-0.75zM319.7 385.0h0.75v0.75h-0.75zM317.2 378.8h0.75v0.75h-0.75zM318.2 384.0h0.75v0.75h-0.75zM321.9 371.1h0.75v0.75h-0.75zM313.5 381.9h0.75v0.75h-0.75zM316.0 380.3h0.75v0.75h-0.75zM315.1 380.7h0.75v0.75h-0.75zM315.4 365.3h0.75v0.75h-0.75zM307.8 371.1h0.75v0.75h-0.75zM315.9 364.7h0.75v0.75h-0.75zM316.0 379.3h0.75v0.75h-0.75zM320.6 368.9h0.75v0.75h-0.75zM319.4 373.1h0.75v0.75h-0.75zM316.4 384.4h0.75v0.75h-0.75zM312.1 375.0h0.75v0.75h-0.75zM320.4 361.5h0.75v0.75h-0.75zM317.8 385.3h0.75v0.75h-0.75zM324.1 368.6h0.75v0.75h-0.75zM319.1 364.1h0.75v0.75h-0.75zM311.9 369.5h0.75v0.75h-0.75zM312.4 375.3h0.75v0.75h-0.75zM313.8 384.7h0.75v0.75h-0.75zM311.6 370.8h0.75v0.75h-0.75zM317.1 372.8h0.75v0.75h-0.75zM315.8 380.5h0.75v0.75h-0.75zM316.6 385.9h0.75v0.75h-0.75zM321.6 363.7h0.75v0.75h-0.75zM314.7 370.7h0.75v0.75h-0.75zM317.7 364.6h0.75v0.75h-0.75zM319.3 368.0h0.75v0.75h-0.75zM318.4 374.9h0.75v0.75h-0.75zM318.8 384.4h0.75v0.75h-0.75zM314.9 378.3h0.75v0.75h-0.75zM320.8 349.2h0.75v0.75h-0.75zM316.8 354.2h0.75v0.75h-0.75zM314.0 384.8h0.75v0.75h-0.75zM319.1 376.4h0.75v0.75h-0.75zM313.4 384.6h0.75v0.75h-0.75zM314.1 374.5h0.75v0.75h-0.75zM321.8 377.8h0.75v0.75h-0.75zM318.9 383.4h0.75v0.75h-0.75zM322.2 363.2h0.75v0.75h-0.75zM320.3 367.4h0.75v0.75h-0.75zM318.3 364.1h0.75v0.75h-0.75zM321.2 381.0h0.75v0.75h-0.75zM311.2 377.1h0.75v0.75h-0.75zM315.1 365.1h0.75v0.75h-0.75zM320.0 381.6h0.75v0.75h-0.75zM312.6 367.7h0.75v0.75h-0.75zM320.1 377.3h0.75v0.75h-0.75zM309.0 376.2h0.75v0.75h-0.75zM318.6 363.7h0.75v0.75h-0.75zM311.5 386.4h0.75v0.75h-0.75zM315.4 370.0h0.75v0.75h-0.75zM310.7 382.4h0.75v0.75h-0.75zM318.5 378.6h0.75v0.75h-0.75zM313.2 370.8h0.75v0.75h-0.75zM308.1 380.1h0.75v0.75h-0.75zM314.8 361.2h0.75v0.75h-0.75zM321.2 385.3h0.75v0.75h-0.75zM312.8 362.8h0.75v0.75h-0.75zM316.0 383.4h0.75v0.75h-0.75zM316.5 361.7h0.75v0.75h-0.75zM315.4 386.2h0.75v0.75h-0.75zM311.5 382.4h0.75v0.75h-0.75zM314.8 373.4h0.75v0.75h-0.75zM320.3 377.5h0.75v0.75h-0.75zM314.3 383.6h0.75v0.75h-0.75zM322.1 370.7h0.75v0.75h-0.75zM315.4 378.4h0.75v0.75h-0.75zM318.4 382.9h0.75v0.75h-0.75zM315.6 367.4h0.75v0.75h-0.75zM321.0 377.1h0.75v0.75h-0.75zM317.9 385.6h0.75v0.75h-0.75zM315.6 375.2h0.75v0.75h-0.75zM313.2 384.9h0.75v0.75h-0.75zM320.9 350.6h0.75v0.75h-0.75zM315.3 376.5h0.75v0.75h-0.75zM316.3 380.3h0.75v0.75h-0.75zM316.3 375.1h0.75v0.75h-0.75zM319.0 369.7h0.75v0.75h-0.75zM314.6 379.2h0.75v0.75h-0.75zM317.8 383.4h0.75v0.75h-0.75zM311.6 379.4h0.75v0.75h-0.75zM317.4 371.6h0.75v0.75h-0.75zM314.5 377.8h0.75v0.75h-0.75zM319.3 363.5h0.75v0.75h-0.75zM316.9 356.5h0.75v0.75h-0.75zM320.2 376.9h0.75v0.75h-0.75zM316.1 365.0h0.75v0.75h-0.75zM319.5 367.3h0.75v0.75h-0.75zM315.5 359.2h0.75v0.75h-0.75zM317.9 363.6h0.75v0.75h-0.75zM320.6 375.5h0.75v0.75h-0.75zM317.1 372.6h0.75v0.75h-0.75zM321.7 376.0h0.75v0.75h-0.75zM319.7 383.9h0.75v0.75h-0.75zM317.4 378.3h0.75v0.75h-0.75zM323.3 356.3h0.75v0.75h-0.75zM314.2 371.4h0.75v0.75h-0.75zM317.2 363.7h0.75v0.75h-0.75zM312.7 385.3h0.75v0.75h-0.75zM315.9 374.4h0.75v0.75h-0.75zM321.3 362.8h0.75v0.75h-0.75zM318.0 376.7h0.75v0.75h-0.75zM318.7 353.7h0.75v0.75h-0.75zM311.2 376.4h0.75v0.75h-0.75zM317.6 371.7h0.75v0.75h-0.75zM318.0 386.5h0.75v0.75h-0.75zM313.9 386.3h0.75v0.75h-0.75zM310.8 378.5h0.75v0.75h-0.75zM313.9 381.3h0.75v0.75h-0.75zM314.2 380.1h0.75v0.75h-0.75zM317.5 376.5h0.75v0.75h-0.75zM322.1 367.4h0.75v0.75h-0.75zM317.2 372.5h0.75v0.75h-0.75zM311.8 384.4h0.75v0.75h-0.75zM317.9 348.9h0.75v0.75h-0.75zM317.5 368.6h0.75v0.75h-0.75zM314.0 377.7h0.75v0.75h-0.75zM316.6 362.0h0.75v0.75h-0.75zM313.5 367.4h0.75v0.75h-0.75zM316.2 372.7h0.75v0.75h-0.75zM317.2 383.7h0.75v0.75h-0.75zM323.1 384.1h0.75v0.75h-0.75zM317.6 374.5h0.75v0.75h-0.75zM323.8 381.6h0.75v0.75h-0.75zM309.5 382.8h0.75v0.75h-0.75zM326.2 369.3h0.75v0.75h-0.75zM319.2 378.6h0.75v0.75h-0.75zM320.5 361.2h0.75v0.75h-0.75zM319.8 385.5h0.75v0.75h-0.75zM316.3 379.8h0.75v0.75h-0.75zM316.7 355.1h0.75v0.75h-0.75zM318.4 367.6h0.75v0.75h-0.75zM318.7 366.3h0.75v0.75h-0.75zM312.4 383.1h0.75v0.75h-0.75zM314.3 376.2h0.75v0.75h-0.75zM314.3 362.4h0.75v0.75h-0.75zM321.1 383.8h0.75v0.75h-0.75zM316.2 381.3h0.75v0.75h-0.75zM314.0 361.3h0.75v0.75h-0.75zM316.8 363.9h0.75v0.75h-0.75zM320.1 370.4h0.75v0.75h-0.75zM319.0 361.2h0.75v0.75h-0.75zM310.5 377.6h0.75v0.75h-0.75zM319.5 373.1h0.75v0.75h-0.75zM320.0 361.4h0.75v0.75h-0.75zM310.1 367.7h0.75v0.75h-0.75zM318.1 369.8h0.75v0.75h-0.75zM314.8 373.2h0.75v0.75h-0.75zM314.9 364.1h0.75v0.75h-0.75zM317.6 373.5h0.75v0.75h-0.75zM315.3 378.5h0.75v0.75h-0.75zM322.0 376.8h0.75v0.75h-0.75zM316.2 379.1h0.75v0.75h-0.75zM317.3 367.1h0.75v0.75h-0.75zM313.7 362.8h0.75v0.75h-0.75zM312.9 379.8h0.75v0.75h-0.75zM316.6 371.9h0.75v0.75h-0.75zM316.5 358.5h0.75v0.75h-0.75zM314.6 376.7h0.75v0.75h-0.75zM319.7 385.0h0.75v0.75h-0.75zM315.0 372.0h0.75v0.75h-0.75zM316.0 381.0h0.75v0.75h-0.75zM319.3 364.7h0.75v0.75h-0.75zM315.8 372.4h0.75v0.75h-0.75zM320.1 384.5h0.75v0.75h-0.75zM315.5 377.1h0.75v0.75h-0.75zM315.3 382.5h0.75v0.75h-0.75zM315.3 379.3h0.75v0.75h-0.75zM315.3 377.0h0.75v0.75h-0.75zM316.4 365.3h0.75v0.75h-0.75zM313.1 385.6h0.75v0.75h-0.75zM318.5 383.7h0.75v0.75h-0.75zM318.5 365.9h0.75v0.75h-0.75zM319.8 386.6h0.75v0.75h-0.75zM316.9 364.6h0.75v0.75h-0.75zM320.2 367.4h0.75v0.75h-0.75zM312.6 386.1h0.75v0.75h-0.75zM319.1 375.3h0.75v0.75h-0.75zM320.4 370.9h0.75v0.75h-0.75zM320.0 378.8h0.75v0.75h-0.75zM314.5 386.0h0.75v0.75h-0.75zM318.7 374.2h0.75v0.75h-0.75zM315.6 369.9h0.75v0.75h-0.75zM318.7 371.6h0.75v0.75h-0.75zM319.1 367.1h0.75v0.75h-0.75zM313.3 375.4h0.75v0.75h-0.75zM309.2 384.6h0.75v0.75h-0.75zM317.4 374.5h0.75v0.75h-0.75zM316.6 377.1h0.75v0.75h-0.75zM313.5 378.2h0.75v0.75h-0.75zM312.0 385.2h0.75v0.75h-0.75zM315.1 381.5h0.75v0.75h-0.75zM317.1 369.4h0.75v0.75h-0.75zM317.4 356.0h0.75v0.75h-0.75zM314.8 383.3h0.75v0.75h-0.75zM314.2 379.7h0.75v0.75h-0.75zM316.3 350.9h0.75v0.75h-0.75zM320.7 383.6h0.75v0.75h-0.75zM320.4 372.3h0.75v0.75h-0.75zM316.1 367.7h0.75v0.75h-0.75zM314.0 365.9h0.75v0.75h-0.75zM317.4 383.4h0.75v0.75h-0.75zM315.8 381.5h0.75v0.75h-0.75zM318.2 381.8h0.75v0.75h-0.75zM317.3 383.5h0.75v0.75h-0.75zM314.7 379.9h0.75v0.75h-0.75zM322.0 371.2h0.75v0.75h-0.75zM315.4 374.4h0.75v0.75h-0.75zM312.8 371.7h0.75v0.75h-0.75zM323.6 373.8h0.75v0.75h-0.75zM319.1 377.4h0.75v0.75h-0.75zM317.0 378.9h0.75v0.75h-0.75zM314.5 362.2h0.75v0.75h-0.75zM316.9 382.4h0.75v0.75h-0.75zM319.4 361.5h0.75v0.75h-0.75zM315.0 382.4h0.75v0.75h-0.75zM314.1 377.8h0.75v0.75h-0.75zM320.7 382.8h0.75v0.75h-0.75zM320.5 376.8h0.75v0.75h-0.75zM318.4 368.8h0.75v0.75h-0.75zM320.0 384.2h0.75v0.75h-0.75zM319.6 359.9h0.75v0.75h-0.75zM317.3 352.3h0.75v0.75h-0.75zM316.1 364.3h0.75v0.75h-0.75zM311.3 382.2h0.75v0.75h-0.75zM322.3 382.8h0.75v0.75h-0.75zM312.8 382.2h0.75v0.75h-0.75zM314.2 370.2h0.75v0.75h-0.75zM314.1 376.1h0.75v0.75h-0.75zM314.4 362.8h0.75v0.75h-0.75zM314.2 372.1h0.75v0.75h-0.75zM313.1 385.4h0.75v0.75h-0.75zM323.6 366.2h0.75v0.75h-0.75zM312.8 377.6h0.75v0.75h-0.75zM314.7 371.3h0.75v0.75h-0.75zM318.5 368.6h0.75v0.75h-0.75zM321.6 379.0h0.75v0.75h-0.75zM313.8 380.0h0.75v0.75h-0.75zM320.9 381.6h0.75v0.75h-0.75zM318.1 381.9h0.75v0.75h-0.75zM316.8 383.9h0.75v0.75h-0.75zM320.7 365.3h0.75v0.75h-0.75zM317.2 367.4h0.75v0.75h-0.75zM315.6 379.0h0.75v0.75h-0.75zM316.6 381.1h0.75v0.75h-0.75zM319.0 378.8h0.75v0.75h-0.75zM315.9 385.7h0.75v0.75h-0.75zM322.0 365.9h0.75v0.75h-0.75zM317.4 356.9h0.75v0.75h-0.75zM319.9 375.9h0.75v0.75h-0.75zM320.2 373.2h0.75v0.75h-0.75zM312.2 385.1h0.75v0.75h-0.75zM312.1 376.2h0.75v0.75h-0.75zM317.7 373.4h0.75v0.75h-0.75zM316.1 379.4h0.75v0.75h-0.75zM316.4 351.2h0.75v0.75h-0.75zM309.6 364.6h0.75v0.75h-0.75zM315.7 366.4h0.75v0.75h-0.75zM316.7 379.8h0.75v0.75h-0.75zM314.9 367.7h0.75v0.75h-0.75zM317.0 383.3h0.75v0.75h-0.75zM310.9 370.3h0.75v0.75h-0.75zM314.8 362.7h0.75v0.75h-0.75zM311.6 374.3h0.75v0.75h-0.75zM322.5 382.4h0.75v0.75h-0.75zM323.7 364.2h0.75v0.75h-0.75zM318.2 371.4h0.75v0.75h-0.75zM315.0 367.4h0.75v0.75h-0.75zM324.2 376.5h0.75v0.75h-0.75zM312.5 377.3h0.75v0.75h-0.75zM315.5 362.5h0.75v0.75h-0.75zM313.4 363.3h0.75v0.75h-0.75zM316.3 365.5h0.75v0.75h-0.75zM316.4 366.4h0.75v0.75h-0.75zM315.9 376.5h0.75v0.75h-0.75zM320.1 373.0h0.75v0.75h-0.75zM317.3 352.4h0.75v0.75h-0.75zM320.2 359.9h0.75v0.75h-0.75zM321.1 369.9h0.75v0.75h-0.75zM315.6 385.8h0.75v0.75h-0.75zM316.1 368.8h0.75v0.75h-0.75zM318.7 365.0h0.75v0.75h-0.75zM313.9 378.9h0.75v0.75h-0.75zM319.9 374.5h0.75v0.75h-0.75zM312.2 370.5h0.75v0.75h-0.75zM314.2 374.7h0.75v0.75h-0.75zM318.8 362.9h0.75v0.75h-0.75zM318.4 359.7h0.75v0.75h-0.75zM312.2 380.0h0.75v0.75h-0.75zM312.5 385.3h0.75v0.75h-0.75zM317.5 364.2h0.75v0.75h-0.75zM312.8 374.3h0.75v0.75h-0.75zM317.1 370.1h0.75v0.75h-0.75zM315.2 379.2h0.75v0.75h-0.75zM318.3 373.3h0.75v0.75h-0.75zM316.5 377.3h0.75v0.75h-0.75zM314.4 378.0h0.75v0.75h-0.75zM317.7 383.9h0.75v0.75h-0.75zM314.2 385.8h0.75v0.75h-0.75zM313.5 382.7h0.75v0.75h-0.75zM319.1 382.3h0.75v0.75h-0.75zM314.5 379.6h0.75v0.75h-0.75zM311.0 377.3h0.75v0.75h-0.75zM315.3 386.0h0.75v0.75h-0.75zM316.4 374.1h0.75v0.75h-0.75zM328.5 356.6h0.75v0.75h-0.75zM316.0 378.0h0.75v0.75h-0.75zM317.5 369.9h0.75v0.75h-0.75zM315.3 373.2h0.75v0.75h-0.75zM316.5 375.8h0.75v0.75h-0.75zM314.5 366.4h0.75v0.75h-0.75zM313.7 381.2h0.75v0.75h-0.75zM314.5 378.4h0.75v0.75h-0.75zM319.1 370.3h0.75v0.75h-0.75zM321.4 357.2h0.75v0.75h-0.75zM319.0 368.1h0.75v0.75h-0.75zM314.1 380.3h0.75v0.75h-0.75zM319.0 369.6h0.75v0.75h-0.75zM320.3 373.5h0.75v0.75h-0.75zM318.0 380.2h0.75v0.75h-0.75zM313.4 376.1h0.75v0.75h-0.75zM311.6 386.1h0.75v0.75h-0.75zM314.2 349.7h0.75v0.75h-0.75zM315.1 386.4h0.75v0.75h-0.75zM316.3 367.9h0.75v0.75h-0.75zM318.3 376.6h0.75v0.75h-0.75zM311.6 385.0h0.75v0.75h-0.75zM316.2 349.1h0.75v0.75h-0.75zM316.5 383.5h0.75v0.75h-0.75zM317.4 360.6h0.75v0.75h-0.75zM317.8 369.9h0.75v0.75h-0.75zM321.5 373.4h0.75v0.75h-0.75zM315.5 364.3h0.75v0.75h-0.75zM316.2 365.3h0.75v0.75h-0.75zM318.1 375.3h0.75v0.75h-0.75zM311.2 377.9h0.75v0.75h-0.75zM318.8 372.0h0.75v0.75h-0.75zM317.1 369.7h0.75v0.75h-0.75zM320.0 380.0h0.75v0.75h-0.75zM320.3 353.0h0.75v0.75h-0.75zM324.0 366.2h0.75v0.75h-0.75zM321.4 383.3h0.75v0.75h-0.75zM321.0 352.6h0.75v0.75h-0.75zM311.5 374.9h0.75v0.75h-0.75zM317.1 381.2h0.75v0.75h-0.75zM314.7 362.0h0.75v0.75h-0.75zM317.1 382.9h0.75v0.75h-0.75zM316.9 385.2h0.75v0.75h-0.75zM316.0 367.8h0.75v0.75h-0.75zM315.0 353.5h0.75v0.75h-0.75zM316.6 365.7h0.75v0.75h-0.75zM317.4 383.6h0.75v0.75h-0.75zM317.0 373.7h0.75v0.75h-0.75zM322.1 367.0h0.75v0.75h-0.75zM318.5 384.1h0.75v0.75h-0.75zM322.9 367.6h0.75v0.75h-0.75zM316.0 374.6h0.75v0.75h-0.75zM315.0 379.8h0.75v0.75h-0.75zM315.2 381.0h0.75v0.75h-0.75zM311.6 375.6h0.75v0.75h-0.75zM315.8 364.7h0.75v0.75h-0.75zM320.1 373.9h0.75v0.75h-0.75zM318.4 358.2h0.75v0.75h-0.75zM314.3 373.4h0.75v0.75h-0.75zM318.5 355.5h0.75v0.75h-0.75zM318.5 381.2h0.75v0.75h-0.75zM313.8 380.4h0.75v0.75h-0.75zM309.4 382.9h0.75v0.75h-0.75zM309.1 382.2h0.75v0.75h-0.75zM314.3 386.0h0.75v0.75h-0.75zM315.7 363.0h0.75v0.75h-0.75zM316.5 382.3h0.75v0.75h-0.75zM317.4 364.5h0.75v0.75h-0.75zM316.6 373.4h0.75v0.75h-0.75zM312.5 381.6h0.75v0.75h-0.75zM317.3 356.3h0.75v0.75h-0.75zM312.9 356.5h0.75v0.75h-0.75zM315.7 376.9h0.75v0.75h-0.75zM319.8 381.4h0.75v0.75h-0.75zM315.2 361.5h0.75v0.75h-0.75zM320.6 384.7h0.75v0.75h-0.75zM320.0 370.2h0.75v0.75h-0.75zM313.9 382.2h0.75v0.75h-0.75zM317.2 366.9h0.75v0.75h-0.75zM315.6 386.0h0.75v0.75h-0.75zM318.4 383.0h0.75v0.75h-0.75zM323.1 386.4h0.75v0.75h-0.75zM324.3 386.1h0.75v0.75h-0.75zM318.2 377.1h0.75v0.75h-0.75zM316.6 371.2h0.75v0.75h-0.75zM311.6 369.5h0.75v0.75h-0.75zM321.5 368.1h0.75v0.75h-0.75zM307.6 385.8h0.75v0.75h-0.75zM319.8 380.8h0.75v0.75h-0.75zM312.8 381.8h0.75v0.75h-0.75zM320.6 383.2h0.75v0.75h-0.75zM314.6 383.4h0.75v0.75h-0.75zM312.9 383.0h0.75v0.75h-0.75zM319.8 363.3h0.75v0.75h-0.75zM316.9 376.7h0.75v0.75h-0.75zM308.5 380.5h0.75v0.75h-0.75zM318.2 362.6h0.75v0.75h-0.75zM315.3 373.0h0.75v0.75h-0.75zM316.2 373.7h0.75v0.75h-0.75zM314.7 375.3h0.75v0.75h-0.75zM317.8 382.6h0.75v0.75h-0.75zM318.6 355.9h0.75v0.75h-0.75zM316.1 380.8h0.75v0.75h-0.75zM315.5 375.0h0.75v0.75h-0.75zM313.1 364.9h0.75v0.75h-0.75zM316.3 362.7h0.75v0.75h-0.75zM317.0 364.9h0.75v0.75h-0.75zM319.1 368.5h0.75v0.75h-0.75zM310.6 382.8h0.75v0.75h-0.75zM323.0 369.5h0.75v0.75h-0.75zM314.4 380.2h0.75v0.75h-0.75zM321.2 369.8h0.75v0.75h-0.75zM320.9 357.4h0.75v0.75h-0.75zM314.8 379.2h0.75v0.75h-0.75zM321.6 375.7h0.75v0.75h-0.75zM316.2 383.1h0.75v0.75h-0.75zM324.9 373.5h0.75v0.75h-0.75zM321.4 384.2h0.75v0.75h-0.75zM315.6 363.7h0.75v0.75h-0.75zM316.8 359.6h0.75v0.75h-0.75zM319.3 378.0h0.75v0.75h-0.75zM316.1 374.0h0.75v0.75h-0.75zM316.3 381.9h0.75v0.75h-0.75zM321.9 358.2h0.75v0.75h-0.75zM317.3 375.4h0.75v0.75h-0.75zM317.3 360.4h0.75v0.75h-0.75zM318.7 358.1h0.75v0.75h-0.75zM315.3 365.5h0.75v0.75h-0.75zM318.1 374.9h0.75v0.75h-0.75zM321.9 376.0h0.75v0.75h-0.75zM320.3 383.4h0.75v0.75h-0.75zM319.8 361.2h0.75v0.75h-0.75zM310.1 383.5h0.75v0.75h-0.75zM317.9 383.8h0.75v0.75h-0.75zM311.8 379.4h0.75v0.75h-0.75zM320.1 381.0h0.75v0.75h-0.75zM316.5 368.8h0.75v0.75h-0.75zM315.0 368.0h0.75v0.75h-0.75zM322.3 361.7h0.75v0.75h-0.75zM317.6 360.0h0.75v0.75h-0.75zM313.4 379.9h0.75v0.75h-0.75zM313.7 381.7h0.75v0.75h-0.75zM318.1 375.4h0.75v0.75h-0.75zM315.5 364.6h0.75v0.75h-0.75zM315.4 374.2h0.75v0.75h-0.75zM315.3 367.3h0.75v0.75h-0.75zM318.2 369.0h0.75v0.75h-0.75zM316.7 364.5h0.75v0.75h-0.75zM316.2 385.7h0.75v0.75h-0.75zM319.8 378.4h0.75v0.75h-0.75zM321.8 368.5h0.75v0.75h-0.75zM315.3 367.2h0.75v0.75h-0.75zM321.5 383.3h0.75v0.75h-0.75zM312.1 382.0h0.75v0.75h-0.75zM312.7 378.7h0.75v0.75h-0.75zM316.5 362.4h0.75v0.75h-0.75zM314.3 370.2h0.75v0.75h-0.75zM323.4 349.3h0.75v0.75h-0.75zM314.4 364.3h0.75v0.75h-0.75zM311.9 384.1h0.75v0.75h-0.75zM312.3 367.3h0.75v0.75h-0.75zM321.3 368.9h0.75v0.75h-0.75zM318.7 364.8h0.75v0.75h-0.75zM316.8 385.9h0.75v0.75h-0.75zM318.1 356.7h0.75v0.75h-0.75zM318.7 365.6h0.75v0.75h-0.75zM318.9 385.0h0.75v0.75h-0.75zM321.8 382.3h0.75v0.75h-0.75zM318.5 385.3h0.75v0.75h-0.75zM314.8 369.7h0.75v0.75h-0.75zM312.1 381.3h0.75v0.75h-0.75zM314.2 386.4h0.75v0.75h-0.75zM317.2 367.6h0.75v0.75h-0.75zM313.1 375.4h0.75v0.75h-0.75zM313.4 375.3h0.75v0.75h-0.75zM313.4 378.8h0.75v0.75h-0.75zM309.0 381.6h0.75v0.75h-0.75zM319.2 381.2h0.75v0.75h-0.75zM313.7 381.0h0.75v0.75h-0.75zM317.2 370.3h0.75v0.75h-0.75zM313.9 365.4h0.75v0.75h-0.75zM318.4 383.9h0.75v0.75h-0.75zM318.3 384.6h0.75v0.75h-0.75zM322.0 363.0h0.75v0.75h-0.75zM317.6 356.8h0.75v0.75h-0.75zM320.4 374.8h0.75v0.75h-0.75zM313.2 381.5h0.75v0.75h-0.75zM316.4 365.5h0.75v0.75h-0.75zM320.2 354.1h0.75v0.75h-0.75zM316.4 373.0h0.75v0.75h-0.75zM317.6 375.1h0.75v0.75h-0.75zM321.1 351.7h0.75v0.75h-0.75zM319.1 368.1h0.75v0.75h-0.75zM316.8 377.9h0.75v0.75h-0.75zM314.5 356.8h0.75v0.75h-0.75zM318.3 376.2h0.75v0.75h-0.75zM307.7 382.8h0.75v0.75h-0.75zM315.5 385.0h0.75v0.75h-0.75zM314.7 367.8h0.75v0.75h-0.75zM318.4 358.0h0.75v0.75h-0.75zM315.0 378.6h0.75v0.75h-0.75zM317.0 372.9h0.75v0.75h-0.75zM319.9 352.8h0.75v0.75h-0.75zM316.6 385.9h0.75v0.75h-0.75zM313.6 361.2h0.75v0.75h-0.75zM322.6 374.7h0.75v0.75h-0.75zM309.2 380.8h0.75v0.75h-0.75zM312.6 380.3h0.75v0.75h-0.75zM319.4 353.5h0.75v0.75h-0.75zM321.1 356.6h0.75v0.75h-0.75zM316.9 384.5h0.75v0.75h-0.75zM310.8 386.3h0.75v0.75h-0.75zM321.2 371.8h0.75v0.75h-0.75zM318.8 377.5h0.75v0.75h-0.75zM315.0 366.5h0.75v0.75h-0.75zM318.8 370.4h0.75v0.75h-0.75zM316.9 364.9h0.75v0.75h-0.75zM322.6 381.1h0.75v0.75h-0.75zM315.8 380.8h0.75v0.75h-0.75zM310.5 373.4h0.75v0.75h-0.75zM315.4 362.5h0.75v0.75h-0.75zM313.6 384.6h0.75v0.75h-0.75zM317.5 352.8h0.75v0.75h-0.75zM314.3 382.0h0.75v0.75h-0.75zM320.2 353.1h0.75v0.75h-0.75zM319.4 384.5h0.75v0.75h-0.75zM319.7 375.6h0.75v0.75h-0.75zM317.5 352.6h0.75v0.75h-0.75zM311.9 372.4h0.75v0.75h-0.75zM316.0 381.3h0.75v0.75h-0.75zM314.5 385.5h0.75v0.75h-0.75zM313.0 355.8h0.75v0.75h-0.75zM320.1 365.0h0.75v0.75h-0.75zM312.4 354.4h0.75v0.75h-0.75zM316.2 384.2h0.75v0.75h-0.75zM314.5 353.1h0.75v0.75h-0.75zM315.9 368.9h0.75v0.75h-0.75zM314.6 361.5h0.75v0.75h-0.75zM316.6 366.5h0.75v0.75h-0.75zM314.1 371.2h0.75v0.75h-0.75zM318.0 376.3h0.75v0.75h-0.75zM313.8 370.5h0.75v0.75h-0.75zM320.0 384.8h0.75v0.75h-0.75zM321.1 382.5h0.75v0.75h-0.75zM314.9 364.8h0.75v0.75h-0.75zM315.7 371.2h0.75v0.75h-0.75zM319.8 358.2h0.75v0.75h-0.75zM321.0 369.7h0.75v0.75h-0.75zM316.7 372.1h0.75v0.75h-0.75zM314.9 384.7h0.75v0.75h-0.75zM319.5 368.0h0.75v0.75h-0.75zM319.2 385.7h0.75v0.75h-0.75zM319.6 377.9h0.75v0.75h-0.75zM317.0 378.6h0.75v0.75h-0.75zM316.0 381.2h0.75v0.75h-0.75zM320.6 357.0h0.75v0.75h-0.75zM317.2 380.7h0.75v0.75h-0.75zM322.6 383.5h0.75v0.75h-0.75zM318.2 382.1h0.75v0.75h-0.75zM314.8 379.9h0.75v0.75h-0.75zM313.9 380.0h0.75v0.75h-0.75zM312.9 372.6h0.75v0.75h-0.75zM316.3 371.6h0.75v0.75h-0.75zM315.3 369.0h0.75v0.75h-0.75zM316.9 377.0h0.75v0.75h-0.75zM316.9 371.8h0.75v0.75h-0.75zM320.8 369.6h0.75v0.75h-0.75zM321.9 356.7h0.75v0.75h-0.75zM318.3 360.8h0.75v0.75h-0.75zM319.4 382.5h0.75v0.75h-0.75zM315.9 369.3h0.75v0.75h-0.75zM318.7 380.2h0.75v0.75h-0.75zM318.9 370.9h0.75v0.75h-0.75zM310.8 378.0h0.75v0.75h-0.75zM309.9 366.1h0.75v0.75h-0.75zM322.2 374.5h0.75v0.75h-0.75zM316.4 369.1h0.75v0.75h-0.75zM311.4 370.5h0.75v0.75h-0.75zM317.2 358.7h0.75v0.75h-0.75zM311.9 381.1h0.75v0.75h-0.75zM315.4 378.5h0.75v0.75h-0.75zM313.6 356.5h0.75v0.75h-0.75zM319.1 381.4h0.75v0.75h-0.75zM322.7 381.9h0.75v0.75h-0.75zM318.7 374.7h0.75v0.75h-0.75zM311.8 372.2h0.75v0.75h-0.75zM323.2 370.1h0.75v0.75h-0.75zM311.8 378.7h0.75v0.75h-0.75zM318.5 358.0h0.75v0.75h-0.75zM319.7 382.4h0.75v0.75h-0.75zM326.2 375.8h0.75v0.75h-0.75zM311.7 382.9h0.75v0.75h-0.75zM314.8 356.3h0.75v0.75h-0.75zM320.1 375.3h0.75v0.75h-0.75zM318.9 379.1h0.75v0.75h-0.75zM314.9 367.3h0.75v0.75h-0.75zM317.9 360.7h0.75v0.75h-0.75zM313.7 384.3h0.75v0.75h-0.75zM314.8 375.3h0.75v0.75h-0.75zM318.4 384.1h0.75v0.75h-0.75zM318.8 381.2h0.75v0.75h-0.75zM317.7 368.9h0.75v0.75h-0.75zM314.9 364.9h0.75v0.75h-0.75zM318.5 377.7h0.75v0.75h-0.75zM315.6 377.3h0.75v0.75h-0.75zM313.2 378.9h0.75v0.75h-0.75zM321.1 361.3h0.75v0.75h-0.75zM321.2 378.8h0.75v0.75h-0.75zM312.6 367.9h0.75v0.75h-0.75zM318.4 383.3h0.75v0.75h-0.75zM316.9 368.2h0.75v0.75h-0.75zM322.7 379.4h0.75v0.75h-0.75zM315.5 373.8h0.75v0.75h-0.75zM317.0 371.8h0.75v0.75h-0.75zM317.7 374.1h0.75v0.75h-0.75zM318.9 374.6h0.75v0.75h-0.75zM315.4 379.2h0.75v0.75h-0.75zM313.5 372.6h0.75v0.75h-0.75zM317.9 376.5h0.75v0.75h-0.75zM314.6 371.8h0.75v0.75h-0.75zM321.3 367.7h0.75v0.75h-0.75zM320.7 363.2h0.75v0.75h-0.75zM314.6 371.9h0.75v0.75h-0.75zM316.9 362.0h0.75v0.75h-0.75zM317.7 381.8h0.75v0.75h-0.75zM317.2 379.8h0.75v0.75h-0.75zM316.9 371.6h0.75v0.75h-0.75zM312.0 386.5h0.75v0.75h-0.75zM321.0 363.3h0.75v0.75h-0.75zM319.7 358.0h0.75v0.75h-0.75zM319.3 374.4h0.75v0.75h-0.75zM319.8 369.6h0.75v0.75h-0.75zM314.6 373.4h0.75v0.75h-0.75zM315.7 386.4h0.75v0.75h-0.75zM316.7 386.6h0.75v0.75h-0.75zM317.7 367.7h0.75v0.75h-0.75zM312.7 376.3h0.75v0.75h-0.75zM312.7 369.6h0.75v0.75h-0.75zM314.1 375.2h0.75v0.75h-0.75zM312.7 373.8h0.75v0.75h-0.75zM319.5 363.2h0.75v0.75h-0.75zM319.3 380.0h0.75v0.75h-0.75zM319.9 358.7h0.75v0.75h-0.75zM316.3 370.5h0.75v0.75h-0.75zM319.0 360.7h0.75v0.75h-0.75zM311.7 377.4h0.75v0.75h-0.75zM321.5 358.3h0.75v0.75h-0.75zM311.2 384.0h0.75v0.75h-0.75zM318.0 373.6h0.75v0.75h-0.75zM314.1 374.7h0.75v0.75h-0.75zM317.5 365.9h0.75v0.75h-0.75zM318.5 382.7h0.75v0.75h-0.75zM319.2 353.4h0.75v0.75h-0.75zM317.7 369.4h0.75v0.75h-0.75zM316.2 381.0h0.75v0.75h-0.75zM316.2 369.8h0.75v0.75h-0.75zM318.3 363.8h0.75v0.75h-0.75zM316.5 361.1h0.75v0.75h-0.75zM322.4 351.7h0.75v0.75h-0.75zM317.4 368.5h0.75v0.75h-0.75zM314.6 365.3h0.75v0.75h-0.75zM324.2 369.9h0.75v0.75h-0.75zM312.9 368.6h0.75v0.75h-0.75zM317.8 370.5h0.75v0.75h-0.75zM315.1 371.5h0.75v0.75h-0.75zM315.9 380.1h0.75v0.75h-0.75zM318.4 374.7h0.75v0.75h-0.75zM315.7 382.2h0.75v0.75h-0.75zM319.4 348.9h0.75v0.75h-0.75zM316.7 381.6h0.75v0.75h-0.75zM319.6 362.4h0.75v0.75h-0.75zM323.3 381.8h0.75v0.75h-0.75zM314.7 364.3h0.75v0.75h-0.75zM319.4 382.6h0.75v0.75h-0.75zM312.4 386.2h0.75v0.75h-0.75zM312.2 386.4h0.75v0.75h-0.75zM314.5 382.1h0.75v0.75h-0.75zM317.3 374.8h0.75v0.75h-0.75zM317.8 382.5h0.75v0.75h-0.75zM319.5 377.4h0.75v0.75h-0.75zM315.1 385.2h0.75v0.75h-0.75zM317.6 360.3h0.75v0.75h-0.75zM316.0 367.5h0.75v0.75h-0.75zM317.9 381.0h0.75v0.75h-0.75zM319.8 368.8h0.75v0.75h-0.75zM317.9 375.1h0.75v0.75h-0.75zM319.0 350.2h0.75v0.75h-0.75zM313.3 378.8h0.75v0.75h-0.75zM314.1 385.7h0.75v0.75h-0.75zM316.4 381.3h0.75v0.75h-0.75zM321.0 369.2h0.75v0.75h-0.75zM318.8 356.6h0.75v0.75h-0.75zM322.7 377.3h0.75v0.75h-0.75zM318.6 371.1h0.75v0.75h-0.75zM320.7 379.2h0.75v0.75h-0.75zM320.3 368.2h0.75v0.75h-0.75zM314.4 366.9h0.75v0.75h-0.75zM319.5 386.5h0.75v0.75h-0.75zM309.6 364.5h0.75v0.75h-0.75zM315.0 368.7h0.75v0.75h-0.75zM313.3 367.7h0.75v0.75h-0.75zM319.2 384.9h0.75v0.75h-0.75zM316.8 385.4h0.75v0.75h-0.75zM320.4 362.1h0.75v0.75h-0.75zM319.1 372.9h0.75v0.75h-0.75zM323.1 359.8h0.75v0.75h-0.75zM308.9 383.5h0.75v0.75h-0.75zM315.9 378.1h0.75v0.75h-0.75zM316.5 376.3h0.75v0.75h-0.75zM317.1 361.5h0.75v0.75h-0.75zM321.4 377.8h0.75v0.75h-0.75zM310.2 371.4h0.75v0.75h-0.75zM315.3 365.1h0.75v0.75h-0.75zM312.4 371.9h0.75v0.75h-0.75zM319.2 361.4h0.75v0.75h-0.75zM318.1 385.3h0.75v0.75h-0.75zM317.7 367.3h0.75v0.75h-0.75zM314.5 376.3h0.75v0.75h-0.75zM319.1 351.0h0.75v0.75h-0.75zM308.6 383.0h0.75v0.75h-0.75zM321.6 381.2h0.75v0.75h-0.75zM318.4 372.7h0.75v0.75h-0.75zM318.7 372.0h0.75v0.75h-0.75zM316.8 368.9h0.75v0.75h-0.75zM312.8 379.8h0.75v0.75h-0.75zM311.7 376.6h0.75v0.75h-0.75zM316.5 378.3h0.75v0.75h-0.75zM316.1 361.3h0.75v0.75h-0.75zM318.2 372.4h0.75v0.75h-0.75zM319.3 357.7h0.75v0.75h-0.75zM321.0 371.6h0.75v0.75h-0.75zM310.7 381.2h0.75v0.75h-0.75zM314.3 373.5h0.75v0.75h-0.75zM322.6 369.4h0.75v0.75h-0.75zM315.5 361.4h0.75v0.75h-0.75zM317.9 359.4h0.75v0.75h-0.75zM311.4 374.3h0.75v0.75h-0.75zM321.9 365.6h0.75v0.75h-0.75zM313.5 370.8h0.75v0.75h-0.75zM320.7 369.5h0.75v0.75h-0.75zM315.1 367.9h0.75v0.75h-0.75zM309.2 385.9h0.75v0.75h-0.75zM315.7 378.2h0.75v0.75h-0.75zM323.1 357.0h0.75v0.75h-0.75zM315.0 383.1h0.75v0.75h-0.75zM314.1 385.4h0.75v0.75h-0.75zM318.9 381.9h0.75v0.75h-0.75zM316.7 375.7h0.75v0.75h-0.75zM315.9 356.8h0.75v0.75h-0.75zM322.4 362.0h0.75v0.75h-0.75zM318.2 376.2h0.75v0.75h-0.75zM315.4 375.3h0.75v0.75h-0.75zM314.7 379.7h0.75v0.75h-0.75zM320.0 360.4h0.75v0.75h-0.75zM319.6 365.3h0.75v0.75h-0.75zM316.0 366.7h0.75v0.75h-0.75zM312.4 385.1h0.75v0.75h-0.75zM315.2 368.7h0.75v0.75h-0.75zM317.3 373.9h0.75v0.75h-0.75zM313.8 382.7h0.75v0.75h-0.75zM308.3 382.4h0.75v0.75h-0.75zM319.1 370.6h0.75v0.75h-0.75zM320.1 381.4h0.75v0.75h-0.75zM319.1 365.4h0.75v0.75h-0.75zM315.6 367.6h0.75v0.75h-0.75zM320.0 370.4h0.75v0.75h-0.75zM318.8 367.8h0.75v0.75h-0.75zM317.5 378.2h0.75v0.75h-0.75zM314.7 385.0h0.75v0.75h-0.75zM319.5 385.4h0.75v0.75h-0.75zM317.4 366.4h0.75v0.75h-0.75zM314.2 377.6h0.75v0.75h-0.75zM317.6 382.2h0.75v0.75h-0.75zM318.5 370.4h0.75v0.75h-0.75zM317.6 369.2h0.75v0.75h-0.75zM315.1 380.4h0.75v0.75h-0.75zM314.5 378.8h0.75v0.75h-0.75zM316.2 365.4h0.75v0.75h-0.75zM309.3 380.3h0.75v0.75h-0.75zM312.3 385.6h0.75v0.75h-0.75zM316.1 375.1h0.75v0.75h-0.75zM314.5 383.9h0.75v0.75h-0.75zM317.5 354.4h0.75v0.75h-0.75zM315.7 364.8h0.75v0.75h-0.75zM315.3 369.4h0.75v0.75h-0.75zM316.2 375.9h0.75v0.75h-0.75zM312.9 378.5h0.75v0.75h-0.75zM315.9 382.3h0.75v0.75h-0.75zM318.8 385.1h0.75v0.75h-0.75zM322.7 366.0h0.75v0.75h-0.75zM320.0 382.4h0.75v0.75h-0.75zM322.9 382.9h0.75v0.75h-0.75zM314.8 375.4h0.75v0.75h-0.75zM316.1 373.0h0.75v0.75h-0.75zM318.8 385.4h0.75v0.75h-0.75zM318.5 354.5h0.75v0.75h-0.75zM324.5 370.8h0.75v0.75h-0.75zM315.7 384.0h0.75v0.75h-0.75zM316.8 380.1h0.75v0.75h-0.75zM313.1 381.4h0.75v0.75h-0.75zM318.1 352.8h0.75v0.75h-0.75zM319.7 370.1h0.75v0.75h-0.75zM313.2 385.5h0.75v0.75h-0.75zM316.9 366.9h0.75v0.75h-0.75zM313.1 385.1h0.75v0.75h-0.75zM322.2 372.4h0.75v0.75h-0.75zM312.8 383.6h0.75v0.75h-0.75zM309.7 380.6h0.75v0.75h-0.75zM316.9 367.6h0.75v0.75h-0.75zM316.8 360.3h0.75v0.75h-0.75zM315.7 379.8h0.75v0.75h-0.75zM314.4 375.0h0.75v0.75h-0.75zM318.4 380.4h0.75v0.75h-0.75zM317.7 369.8h0.75v0.75h-0.75zM319.1 352.0h0.75v0.75h-0.75zM316.8 363.5h0.75v0.75h-0.75zM314.8 379.2h0.75v0.75h-0.75zM318.2 362.3h0.75v0.75h-0.75zM317.3 358.8h0.75v0.75h-0.75zM318.3 381.5h0.75v0.75h-0.75zM318.0 381.2h0.75v0.75h-0.75zM319.8 368.2h0.75v0.75h-0.75zM316.1 361.7h0.75v0.75h-0.75zM320.6 386.2h0.75v0.75h-0.75zM320.7 352.3h0.75v0.75h-0.75zM316.3 355.7h0.75v0.75h-0.75zM320.6 359.6h0.75v0.75h-0.75zM317.9 372.4h0.75v0.75h-0.75zM314.0 371.7h0.75v0.75h-0.75zM314.7 378.6h0.75v0.75h-0.75zM316.1 356.4h0.75v0.75h-0.75zM319.4 354.8h0.75v0.75h-0.75zM323.3 376.3h0.75v0.75h-0.75zM317.1 376.9h0.75v0.75h-0.75zM312.4 360.1h0.75v0.75h-0.75zM317.7 364.4h0.75v0.75h-0.75zM317.7 374.3h0.75v0.75h-0.75zM315.8 377.9h0.75v0.75h-0.75zM320.9 383.3h0.75v0.75h-0.75zM312.3 371.3h0.75v0.75h-0.75zM316.5 354.5h0.75v0.75h-0.75zM318.4 384.4h0.75v0.75h-0.75zM317.9 360.3h0.75v0.75h-0.75zM312.9 381.2h0.75v0.75h-0.75zM319.6 358.2h0.75v0.75h-0.75zM313.4 364.8h0.75v0.75h-0.75zM314.8 369.3h0.75v0.75h-0.75zM314.3 381.3h0.75v0.75h-0.75zM313.0 378.1h0.75v0.75h-0.75zM317.4 378.8h0.75v0.75h-0.75zM315.8 368.1h0.75v0.75h-0.75zM312.1 379.9h0.75v0.75h-0.75zM321.8 385.5h0.75v0.75h-0.75zM311.8 368.9h0.75v0.75h-0.75zM320.2 353.3h0.75v0.75h-0.75zM318.3 375.0h0.75v0.75h-0.75zM314.6 376.6h0.75v0.75h-0.75zM316.4 359.1h0.75v0.75h-0.75zM317.0 385.5h0.75v0.75h-0.75zM317.5 351.9h0.75v0.75h-0.75zM321.8 368.7h0.75v0.75h-0.75zM313.3 378.3h0.75v0.75h-0.75zM314.3 381.5h0.75v0.75h-0.75zM313.0 369.1h0.75v0.75h-0.75zM314.2 386.5h0.75v0.75h-0.75zM311.5 386.6h0.75v0.75h-0.75zM317.7 361.4h0.75v0.75h-0.75zM312.4 375.9h0.75v0.75h-0.75zM314.2 351.1h0.75v0.75h-0.75zM314.2 373.0h0.75v0.75h-0.75zM320.7 386.5h0.75v0.75h-0.75zM314.0 364.9h0.75v0.75h-0.75zM316.5 373.5h0.75v0.75h-0.75zM308.9 378.1h0.75v0.75h-0.75zM315.6 378.2h0.75v0.75h-0.75zM317.6 380.5h0.75v0.75h-0.75zM319.0 364.9h0.75v0.75h-0.75zM316.9 372.5h0.75v0.75h-0.75zM315.1 381.9h0.75v0.75h-0.75zM316.9 377.5h0.75v0.75h-0.75zM314.3 372.1h0.75v0.75h-0.75zM318.0 379.0h0.75v0.75h-0.75zM313.5 365.4h0.75v0.75h-0.75zM310.8 381.4h0.75v0.75h-0.75zM322.4 364.9h0.75v0.75h-0.75zM320.2 361.9h0.75v0.75h-0.75zM312.9 383.7h0.75v0.75h-0.75zM320.1 375.6h0.75v0.75h-0.75zM315.7 357.1h0.75v0.75h-0.75zM316.8 381.2h0.75v0.75h-0.75zM315.2 372.9h0.75v0.75h-0.75zM314.7 383.8h0.75v0.75h-0.75zM314.5 374.2h0.75v0.75h-0.75zM311.7 385.4h0.75v0.75h-0.75zM319.1 352.5h0.75v0.75h-0.75zM314.9 385.5h0.75v0.75h-0.75zM313.9 358.1h0.75v0.75h-0.75zM318.1 376.5h0.75v0.75h-0.75zM312.3 385.2h0.75v0.75h-0.75zM314.8 356.0h0.75v0.75h-0.75zM312.8 386.4h0.75v0.75h-0.75zM316.0 371.7h0.75v0.75h-0.75zM313.8 364.4h0.75v0.75h-0.75zM314.0 379.1h0.75v0.75h-0.75zM320.8 353.1h0.75v0.75h-0.75zM314.1 385.2h0.75v0.75h-0.75zM316.2 370.7h0.75v0.75h-0.75zM314.7 369.5h0.75v0.75h-0.75zM321.3 373.6h0.75v0.75h-0.75zM317.7 362.9h0.75v0.75h-0.75zM318.5 379.6h0.75v0.75h-0.75zM318.4 360.9h0.75v0.75h-0.75zM317.2 355.6h0.75v0.75h-0.75zM311.0 375.6h0.75v0.75h-0.75zM319.0 378.0h0.75v0.75h-0.75zM318.4 362.4h0.75v0.75h-0.75zM314.3 353.8h0.75v0.75h-0.75zM317.8 382.6h0.75v0.75h-0.75zM317.2 368.0h0.75v0.75h-0.75zM317.7 368.6h0.75v0.75h-0.75zM316.5 377.0h0.75v0.75h-0.75zM312.0 374.3h0.75v0.75h-0.75zM316.8 366.8h0.75v0.75h-0.75zM318.0 384.0h0.75v0.75h-0.75zM324.6 369.1h0.75v0.75h-0.75zM320.0 374.5h0.75v0.75h-0.75zM318.9 378.8h0.75v0.75h-0.75zM311.2 372.4h0.75v0.75h-0.75zM320.8 371.4h0.75v0.75h-0.75zM322.9 362.4h0.75v0.75h-0.75zM310.6 386.0h0.75v0.75h-0.75zM312.3 383.5h0.75v0.75h-0.75zM320.3 376.8h0.75v0.75h-0.75zM318.8 382.2h0.75v0.75h-0.75zM316.7 363.6h0.75v0.75h-0.75zM317.7 379.6h0.75v0.75h-0.75zM312.6 376.2h0.75v0.75h-0.75zM317.2 374.9h0.75v0.75h-0.75zM320.4 365.6h0.75v0.75h-0.75zM318.1 383.8h0.75v0.75h-0.75zM316.8 382.0h0.75v0.75h-0.75zM308.5 378.8h0.75v0.75h-0.75zM315.2 358.1h0.75v0.75h-0.75zM317.2 368.7h0.75v0.75h-0.75zM314.2 379.1h0.75v0.75h-0.75zM316.1 382.3h0.75v0.75h-0.75zM318.0 375.4h0.75v0.75h-0.75zM324.0 380.9h0.75v0.75h-0.75zM312.5 386.3h0.75v0.75h-0.75zM318.4 377.5h0.75v0.75h-0.75zM318.3 382.8h0.75v0.75h-0.75zM316.6 371.3h0.75v0.75h-0.75zM318.8 353.6h0.75v0.75h-0.75zM316.1 374.8h0.75v0.75h-0.75zM309.1 386.0h0.75v0.75h-0.75zM318.7 380.2h0.75v0.75h-0.75zM311.7 369.4h0.75v0.75h-0.75zM314.7 361.4h0.75v0.75h-0.75zM316.6 378.6h0.75v0.75h-0.75zM319.0 361.3h0.75v0.75h-0.75zM317.2 380.7h0.75v0.75h-0.75zM318.7 378.1h0.75v0.75h-0.75zM315.4 376.7h0.75v0.75h-0.75zM312.0 382.5h0.75v0.75h-0.75zM319.7 382.2h0.75v0.75h-0.75zM320.8 361.6h0.75v0.75h-0.75zM316.2 386.1h0.75v0.75h-0.75zM317.9 382.3h0.75v0.75h-0.75zM315.8 368.8h0.75v0.75h-0.75zM316.6 381.2h0.75v0.75h-0.75zM318.7 384.2h0.75v0.75h-0.75zM312.3 380.4h0.75v0.75h-0.75zM313.0 378.6h0.75v0.75h-0.75zM318.3 354.1h0.75v0.75h-0.75zM313.0 378.3h0.75v0.75h-0.75zM317.0 378.1h0.75v0.75h-0.75zM315.3 377.8h0.75v0.75h-0.75zM317.0 386.2h0.75v0.75h-0.75zM311.6 365.4h0.75v0.75h-0.75zM320.1 376.7h0.75v0.75h-0.75zM318.8 373.2h0.75v0.75h-0.75zM317.7 381.9h0.75v0.75h-0.75zM317.0 372.9h0.75v0.75h-0.75zM316.1 351.8h0.75v0.75h-0.75zM318.4 385.2h0.75v0.75h-0.75zM318.9 385.1h0.75v0.75h-0.75zM311.4 373.6h0.75v0.75h-0.75zM314.2 371.9h0.75v0.75h-0.75zM318.4 372.1h0.75v0.75h-0.75zM314.6 382.4h0.75v0.75h-0.75zM319.0 377.5h0.75v0.75h-0.75zM325.0 378.2h0.75v0.75h-0.75zM309.6 375.2h0.75v0.75h-0.75zM321.3 351.3h0.75v0.75h-0.75zM312.5 375.9h0.75v0.75h-0.75zM309.5 383.5h0.75v0.75h-0.75zM315.2 385.1h0.75v0.75h-0.75zM318.1 355.9h0.75v0.75h-0.75zM312.5 381.4h0.75v0.75h-0.75zM312.2 376.9h0.75v0.75h-0.75zM321.2 380.2h0.75v0.75h-0.75zM317.7 378.5h0.75v0.75h-0.75zM318.5 376.9h0.75v0.75h-0.75zM314.1 384.0h0.75v0.75h-0.75zM319.4 386.5h0.75v0.75h-0.75zM320.0 362.9h0.75v0.75h-0.75zM305.0 379.8h0.75v0.75h-0.75zM319.2 386.5h0.75v0.75h-0.75zM324.2 372.5h0.75v0.75h-0.75zM318.8 361.3h0.75v0.75h-0.75zM315.8 377.9h0.75v0.75h-0.75zM308.8 385.3h0.75v0.75h-0.75zM321.0 373.4h0.75v0.75h-0.75zM316.7 362.8h0.75v0.75h-0.75zM314.0 367.2h0.75v0.75h-0.75zM314.8 376.2h0.75v0.75h-0.75zM316.8 369.8h0.75v0.75h-0.75zM316.2 368.0h0.75v0.75h-0.75zM315.9 379.8h0.75v0.75h-0.75zM323.0 373.2h0.75v0.75h-0.75zM318.5 386.4h0.75v0.75h-0.75zM319.9 369.2h0.75v0.75h-0.75zM320.1 365.4h0.75v0.75h-0.75zM320.1 352.4h0.75v0.75h-0.75zM319.7 372.7h0.75v0.75h-0.75zM315.7 370.4h0.75v0.75h-0.75zM313.0 374.4h0.75v0.75h-0.75zM317.6 355.2h0.75v0.75h-0.75zM321.5 384.2h0.75v0.75h-0.75zM321.4 384.5h0.75v0.75h-0.75zM319.2 380.0h0.75v0.75h-0.75zM319.8 358.4h0.75v0.75h-0.75zM315.9 379.6h0.75v0.75h-0.75zM318.5 372.2h0.75v0.75h-0.75zM313.4 378.9h0.75v0.75h-0.75zM318.7 354.1h0.75v0.75h-0.75zM320.8 354.6h0.75v0.75h-0.75zM313.8 385.0h0.75v0.75h-0.75zM309.7 382.8h0.75v0.75h-0.75zM317.5 380.4h0.75v0.75h-0.75zM317.1 361.4h0.75v0.75h-0.75zM311.6 384.1h0.75v0.75h-0.75zM313.1 382.7h0.75v0.75h-0.75zM316.4 386.3h0.75v0.75h-0.75zM312.4 380.8h0.75v0.75h-0.75zM320.4 356.6h0.75v0.75h-0.75zM317.8 386.1h0.75v0.75h-0.75zM316.0 381.6h0.75v0.75h-0.75zM316.5 363.3h0.75v0.75h-0.75zM313.7 385.3h0.75v0.75h-0.75zM316.9 375.7h0.75v0.75h-0.75zM320.5 364.0h0.75v0.75h-0.75zM325.6 349.3h0.75v0.75h-0.75zM317.7 386.2h0.75v0.75h-0.75zM318.8 374.1h0.75v0.75h-0.75zM321.9 349.9h0.75v0.75h-0.75zM314.0 384.7h0.75v0.75h-0.75zM317.4 360.4h0.75v0.75h-0.75zM319.0 365.9h0.75v0.75h-0.75zM318.4 368.1h0.75v0.75h-0.75zM314.8 385.7h0.75v0.75h-0.75zM316.0 379.5h0.75v0.75h-0.75zM321.1 372.7h0.75v0.75h-0.75zM316.5 367.8h0.75v0.75h-0.75zM311.8 384.8h0.75v0.75h-0.75zM314.8 380.0h0.75v0.75h-0.75zM317.5 362.0h0.75v0.75h-0.75zM313.4 374.4h0.75v0.75h-0.75zM313.8 362.2h0.75v0.75h-0.75zM320.9 378.6h0.75v0.75h-0.75zM311.2 363.7h0.75v0.75h-0.75zM315.0 381.2h0.75v0.75h-0.75zM318.0 362.0h0.75v0.75h-0.75zM316.6 367.5h0.75v0.75h-0.75zM315.3 385.4h0.75v0.75h-0.75zM318.5 367.2h0.75v0.75h-0.75zM316.7 373.1h0.75v0.75h-0.75zM322.5 383.1h0.75v0.75h-0.75zM318.4 384.7h0.75v0.75h-0.75zM313.4 376.1h0.75v0.75h-0.75zM318.3 386.3h0.75v0.75h-0.75zM314.4 380.3h0.75v0.75h-0.75zM319.4 381.4h0.75v0.75h-0.75zM322.0 368.1h0.75v0.75h-0.75zM315.4 379.9h0.75v0.75h-0.75zM316.6 362.5h0.75v0.75h-0.75zM319.8 378.7h0.75v0.75h-0.75zM317.7 363.3h0.75v0.75h-0.75zM320.3 382.5h0.75v0.75h-0.75zM319.6 358.8h0.75v0.75h-0.75zM314.0 375.2h0.75v0.75h-0.75zM323.9 370.9h0.75v0.75h-0.75zM318.6 381.4h0.75v0.75h-0.75zM317.4 380.6h0.75v0.75h-0.75zM318.5 369.1h0.75v0.75h-0.75zM316.6 369.0h0.75v0.75h-0.75zM318.3 371.4h0.75v0.75h-0.75zM315.5 370.7h0.75v0.75h-0.75zM314.4 379.0h0.75v0.75h-0.75zM317.7 373.9h0.75v0.75h-0.75zM316.4 376.3h0.75v0.75h-0.75zM312.7 385.6h0.75v0.75h-0.75zM318.5 386.2h0.75v0.75h-0.75zM313.1 380.4h0.75v0.75h-0.75zM312.5 382.7h0.75v0.75h-0.75zM321.4 377.9h0.75v0.75h-0.75zM320.0 365.1h0.75v0.75h-0.75zM319.2 376.4h0.75v0.75h-0.75zM317.2 381.1h0.75v0.75h-0.75zM313.9 374.9h0.75v0.75h-0.75zM318.1 367.5h0.75v0.75h-0.75zM316.5 382.1h0.75v0.75h-0.75zM318.5 352.6h0.75v0.75h-0.75zM315.1 383.2h0.75v0.75h-0.75zM317.6 369.8h0.75v0.75h-0.75zM318.4 361.6h0.75v0.75h-0.75zM316.0 382.4h0.75v0.75h-0.75zM318.2 382.4h0.75v0.75h-0.75zM317.1 386.6h0.75v0.75h-0.75zM315.0 366.7h0.75v0.75h-0.75zM316.9 371.0h0.75v0.75h-0.75zM321.9 384.8h0.75v0.75h-0.75zM317.9 377.6h0.75v0.75h-0.75zM320.1 364.5h0.75v0.75h-0.75zM315.2 374.6h0.75v0.75h-0.75zM314.2 384.6h0.75v0.75h-0.75zM317.7 374.8h0.75v0.75h-0.75zM317.2 378.4h0.75v0.75h-0.75zM312.5 383.7h0.75v0.75h-0.75zM321.4 363.2h0.75v0.75h-0.75zM315.3 385.4h0.75v0.75h-0.75zM315.6 362.3h0.75v0.75h-0.75zM318.5 378.2h0.75v0.75h-0.75zM319.9 357.5h0.75v0.75h-0.75zM315.6 368.3h0.75v0.75h-0.75zM317.3 376.3h0.75v0.75h-0.75zM316.0 367.4h0.75v0.75h-0.75zM315.5 363.8h0.75v0.75h-0.75zM316.0 385.2h0.75v0.75h-0.75zM313.5 373.2h0.75v0.75h-0.75zM316.0 370.5h0.75v0.75h-0.75zM311.4 385.8h0.75v0.75h-0.75zM319.1 376.8h0.75v0.75h-0.75zM314.9 350.6h0.75v0.75h-0.75zM315.5 382.6h0.75v0.75h-0.75zM323.5 383.7h0.75v0.75h-0.75zM313.4 376.0h0.75v0.75h-0.75zM314.3 381.7h0.75v0.75h-0.75zM320.2 366.2h0.75v0.75h-0.75zM316.1 373.6h0.75v0.75h-0.75zM323.2 376.1h0.75v0.75h-0.75zM314.9 368.7h0.75v0.75h-0.75zM313.5 377.6h0.75v0.75h-0.75zM317.5 367.9h0.75v0.75h-0.75zM312.0 381.1h0.75v0.75h-0.75zM316.7 351.5h0.75v0.75h-0.75zM321.0 375.6h0.75v0.75h-0.75zM314.7 383.1h0.75v0.75h-0.75zM319.6 349.0h0.75v0.75h-0.75zM312.0 385.4h0.75v0.75h-0.75zM319.9 379.8h0.75v0.75h-0.75zM320.6 386.2h0.75v0.75h-0.75zM312.7 383.7h0.75v0.75h-0.75zM316.4 383.6h0.75v0.75h-0.75zM311.9 352.5h0.75v0.75h-0.75zM316.8 386.3h0.75v0.75h-0.75zM314.4 363.0h0.75v0.75h-0.75zM316.8 370.9h0.75v0.75h-0.75zM318.6 370.0h0.75v0.75h-0.75zM315.7 369.1h0.75v0.75h-0.75zM316.3 386.5h0.75v0.75h-0.75zM318.1 381.3h0.75v0.75h-0.75zM314.5 379.7h0.75v0.75h-0.75zM315.0 369.9h0.75v0.75h-0.75zM314.1 364.8h0.75v0.75h-0.75zM315.8 374.1h0.75v0.75h-0.75zM314.9 365.9h0.75v0.75h-0.75zM313.2 378.4h0.75v0.75h-0.75zM311.5 379.6h0.75v0.75h-0.75zM317.0 383.2h0.75v0.75h-0.75zM316.0 376.4h0.75v0.75h-0.75zM322.6 383.5h0.75v0.75h-0.75zM312.6 367.1h0.75v0.75h-0.75zM316.1 379.6h0.75v0.75h-0.75zM313.1 384.4h0.75v0.75h-0.75zM321.8 374.8h0.75v0.75h-0.75zM314.2 383.6h0.75v0.75h-0.75zM317.6 374.8h0.75v0.75h-0.75zM321.6 359.7h0.75v0.75h-0.75zM318.2 369.9h0.75v0.75h-0.75zM317.4 384.7h0.75v0.75h-0.75zM319.3 370.9h0.75v0.75h-0.75zM311.3 380.0h0.75v0.75h-0.75zM317.2 357.8h0.75v0.75h-0.75zM318.9 386.5h0.75v0.75h-0.75zM319.7 379.6h0.75v0.75h-0.75zM316.5 386.4h0.75v0.75h-0.75zM317.9 364.5h0.75v0.75h-0.75zM319.3 378.2h0.75v0.75h-0.75zM319.2 364.2h0.75v0.75h-0.75zM312.4 372.4h0.75v0.75h-0.75zM312.4 382.8h0.75v0.75h-0.75zM319.2 375.1h0.75v0.75h-0.75zM318.8 378.9h0.75v0.75h-0.75zM319.5 360.9h0.75v0.75h-0.75zM317.8 383.0h0.75v0.75h-0.75zM315.4 380.6h0.75v0.75h-0.75zM314.0 370.3h0.75v0.75h-0.75zM318.8 357.2h0.75v0.75h-0.75zM317.5 375.8h0.75v0.75h-0.75zM316.3 353.4h0.75v0.75h-0.75zM311.9 372.3h0.75v0.75h-0.75zM317.9 385.6h0.75v0.75h-0.75zM310.6 367.8h0.75v0.75h-0.75zM312.1 370.5h0.75v0.75h-0.75zM317.9 377.2h0.75v0.75h-0.75zM312.1 371.7h0.75v0.75h-0.75zM319.0 376.1h0.75v0.75h-0.75zM310.9 370.7h0.75v0.75h-0.75zM322.2 379.6h0.75v0.75h-0.75zM319.5 376.4h0.75v0.75h-0.75zM314.3 371.5h0.75v0.75h-0.75zM315.8 379.5h0.75v0.75h-0.75zM314.9 380.1h0.75v0.75h-0.75zM319.7 369.7h0.75v0.75h-0.75zM320.2 372.1h0.75v0.75h-0.75zM317.4 355.6h0.75v0.75h-0.75zM312.4 376.0h0.75v0.75h-0.75zM319.5 384.4h0.75v0.75h-0.75zM315.0 379.8h0.75v0.75h-0.75zM314.0 372.6h0.75v0.75h-0.75zM315.5 376.0h0.75v0.75h-0.75zM320.1 356.6h0.75v0.75h-0.75zM315.8 383.8h0.75v0.75h-0.75zM319.8 354.3h0.75v0.75h-0.75zM317.3 357.5h0.75v0.75h-0.75zM323.4 364.6h0.75v0.75h-0.75zM314.6 354.7h0.75v0.75h-0.75zM316.7 380.4h0.75v0.75h-0.75zM315.5 370.6h0.75v0.75h-0.75zM318.2 382.9h0.75v0.75h-0.75zM313.0 383.4h0.75v0.75h-0.75zM316.4 384.8h0.75v0.75h-0.75zM313.6 381.0h0.75v0.75h-0.75zM312.3 385.3h0.75v0.75h-0.75zM320.6 375.6h0.75v0.75h-0.75zM315.6 375.5h0.75v0.75h-0.75zM314.4 370.2h0.75v0.75h-0.75zM318.5 356.0h0.75v0.75h-0.75zM322.1 357.8h0.75v0.75h-0.75zM312.6 372.0h0.75v0.75h-0.75zM323.0 374.8h0.75v0.75h-0.75zM318.2 356.4h0.75v0.75h-0.75zM316.0 378.8h0.75v0.75h-0.75zM312.4 353.0h0.75v0.75h-0.75zM315.9 372.0h0.75v0.75h-0.75zM320.6 385.0h0.75v0.75h-0.75zM319.8 360.6h0.75v0.75h-0.75zM316.9 384.3h0.75v0.75h-0.75zM316.7 374.8h0.75v0.75h-0.75zM318.5 379.8h0.75v0.75h-0.75zM310.4 381.6h0.75v0.75h-0.75zM318.0 367.3h0.75v0.75h-0.75zM309.9 362.1h0.75v0.75h-0.75zM318.1 368.2h0.75v0.75h-0.75zM316.1 372.7h0.75v0.75h-0.75zM317.3 367.9h0.75v0.75h-0.75zM315.3 372.7h0.75v0.75h-0.75zM317.0 384.4h0.75v0.75h-0.75zM320.2 358.0h0.75v0.75h-0.75zM315.8 384.7h0.75v0.75h-0.75zM315.8 376.8h0.75v0.75h-0.75zM319.6 378.1h0.75v0.75h-0.75zM315.5 378.0h0.75v0.75h-0.75zM321.9 365.3h0.75v0.75h-0.75zM318.5 368.1h0.75v0.75h-0.75zM317.6 382.4h0.75v0.75h-0.75zM318.0 352.2h0.75v0.75h-0.75zM313.1 355.5h0.75v0.75h-0.75zM318.1 380.4h0.75v0.75h-0.75zM313.4 384.7h0.75v0.75h-0.75zM316.2 358.2h0.75v0.75h-0.75zM320.7 381.7h0.75v0.75h-0.75zM318.0 385.3h0.75v0.75h-0.75zM310.7 384.6h0.75v0.75h-0.75zM317.1 380.3h0.75v0.75h-0.75zM318.4 363.9h0.75v0.75h-0.75zM317.6 383.2h0.75v0.75h-0.75zM313.5 382.8h0.75v0.75h-0.75zM320.1 367.7h0.75v0.75h-0.75zM319.7 353.2h0.75v0.75h-0.75zM317.9 359.9h0.75v0.75h-0.75zM317.7 380.5h0.75v0.75h-0.75zM317.0 381.7h0.75v0.75h-0.75zM319.6 364.9h0.75v0.75h-0.75zM315.5 369.0h0.75v0.75h-0.75zM322.6 364.2h0.75v0.75h-0.75zM318.7 369.9h0.75v0.75h-0.75zM310.4 383.2h0.75v0.75h-0.75zM322.6 378.7h0.75v0.75h-0.75zM323.4 376.4h0.75v0.75h-0.75zM319.1 354.3h0.75v0.75h-0.75zM317.1 354.7h0.75v0.75h-0.75zM322.1 363.4h0.75v0.75h-0.75zM317.5 379.5h0.75v0.75h-0.75zM314.8 375.4h0.75v0.75h-0.75zM314.5 354.5h0.75v0.75h-0.75zM320.1 386.0h0.75v0.75h-0.75zM317.1 371.4h0.75v0.75h-0.75zM310.7 370.8h0.75v0.75h-0.75zM316.1 370.0h0.75v0.75h-0.75zM316.8 375.6h0.75v0.75h-0.75zM320.4 366.5h0.75v0.75h-0.75zM316.1 380.8h0.75v0.75h-0.75zM317.9 365.5h0.75v0.75h-0.75zM321.1 367.7h0.75v0.75h-0.75zM319.2 367.9h0.75v0.75h-0.75zM315.2 380.9h0.75v0.75h-0.75zM313.7 381.3h0.75v0.75h-0.75zM312.9 383.8h0.75v0.75h-0.75zM319.6 380.4h0.75v0.75h-0.75zM321.7 374.9h0.75v0.75h-0.75zM321.0 362.1h0.75v0.75h-0.75zM321.6 361.2h0.75v0.75h-0.75zM310.1 386.5h0.75v0.75h-0.75zM314.2 368.1h0.75v0.75h-0.75zM315.2 371.3h0.75v0.75h-0.75zM312.0 357.7h0.75v0.75h-0.75zM324.9 356.6h0.75v0.75h-0.75zM319.8 360.7h0.75v0.75h-0.75zM316.4 385.3h0.75v0.75h-0.75zM321.5 371.3h0.75v0.75h-0.75zM312.2 378.2h0.75v0.75h-0.75zM315.6 364.5h0.75v0.75h-0.75zM313.0 375.6h0.75v0.75h-0.75zM315.0 361.5h0.75v0.75h-0.75zM314.0 373.9h0.75v0.75h-0.75zM315.7 371.6h0.75v0.75h-0.75zM320.5 375.1h0.75v0.75h-0.75zM317.1 385.9h0.75v0.75h-0.75zM316.2 377.5h0.75v0.75h-0.75zM319.4 385.4h0.75v0.75h-0.75zM318.5 370.0h0.75v0.75h-0.75zM317.4 360.8h0.75v0.75h-0.75zM314.2 380.7h0.75v0.75h-0.75zM320.0 361.5h0.75v0.75h-0.75zM309.3 376.6h0.75v0.75h-0.75zM319.0 384.5h0.75v0.75h-0.75zM320.7 362.4h0.75v0.75h-0.75zM320.5 369.5h0.75v0.75h-0.75zM313.7 367.2h0.75v0.75h-0.75zM321.5 363.2h0.75v0.75h-0.75zM317.3 386.5h0.75v0.75h-0.75zM317.7 372.0h0.75v0.75h-0.75zM317.9 358.0h0.75v0.75h-0.75zM319.2 371.2h0.75v0.75h-0.75zM316.0 383.2h0.75v0.75h-0.75zM316.0 374.9h0.75v0.75h-0.75zM314.2 384.2h0.75v0.75h-0.75zM313.0 350.9h0.75v0.75h-0.75zM312.5 371.8h0.75v0.75h-0.75zM322.7 371.1h0.75v0.75h-0.75zM315.4 379.1h0.75v0.75h-0.75zM317.9 358.1h0.75v0.75h-0.75zM313.8 378.7h0.75v0.75h-0.75zM317.1 378.8h0.75v0.75h-0.75zM312.8 374.9h0.75v0.75h-0.75zM312.1 386.2h0.75v0.75h-0.75zM321.0 373.0h0.75v0.75h-0.75zM309.1 386.0h0.75v0.75h-0.75zM320.5 384.6h0.75v0.75h-0.75zM322.7 364.2h0.75v0.75h-0.75zM314.9 381.6h0.75v0.75h-0.75zM312.4 359.5h0.75v0.75h-0.75zM320.4 372.0h0.75v0.75h-0.75zM309.7 381.6h0.75v0.75h-0.75zM321.2 379.8h0.75v0.75h-0.75zM315.9 377.7h0.75v0.75h-0.75zM315.3 380.5h0.75v0.75h-0.75zM309.7 381.6h0.75v0.75h-0.75zM315.2 377.0h0.75v0.75h-0.75zM314.3 377.7h0.75v0.75h-0.75zM312.4 379.1h0.75v0.75h-0.75zM316.0 375.1h0.75v0.75h-0.75zM319.9 380.6h0.75v0.75h-0.75zM313.8 355.8h0.75v0.75h-0.75zM314.3 381.1h0.75v0.75h-0.75zM321.0 367.2h0.75v0.75h-0.75zM319.8 373.5h0.75v0.75h-0.75zM316.6 355.1h0.75v0.75h-0.75zM318.5 375.9h0.75v0.75h-0.75zM318.5 375.2h0.75v0.75h-0.75zM320.2 368.7h0.75v0.75h-0.75zM314.6 377.9h0.75v0.75h-0.75zM315.6 385.6h0.75v0.75h-0.75zM315.5 370.2h0.75v0.75h-0.75zM316.0 378.3h0.75v0.75h-0.75zM317.9 362.1h0.75v0.75h-0.75zM314.5 383.5h0.75v0.75h-0.75zM314.5 369.0h0.75v0.75h-0.75zM314.5 361.2h0.75v0.75h-0.75zM314.1 381.6h0.75v0.75h-0.75zM315.7 371.2h0.75v0.75h-0.75zM308.8 372.8h0.75v0.75h-0.75zM317.4 383.4h0.75v0.75h-0.75zM313.6 371.4h0.75v0.75h-0.75zM315.5 372.6h0.75v0.75h-0.75zM310.7 367.5h0.75v0.75h-0.75zM317.4 377.7h0.75v0.75h-0.75zM311.1 380.6h0.75v0.75h-0.75zM314.9 378.2h0.75v0.75h-0.75zM315.0 377.4h0.75v0.75h-0.75zM315.8 373.2h0.75v0.75h-0.75zM319.1 358.3h0.75v0.75h-0.75zM320.7 358.4h0.75v0.75h-0.75zM323.4 357.6h0.75v0.75h-0.75zM315.2 383.6h0.75v0.75h-0.75zM321.1 384.3h0.75v0.75h-0.75zM316.5 370.0h0.75v0.75h-0.75zM317.4 386.4h0.75v0.75h-0.75zM319.6 368.6h0.75v0.75h-0.75zM316.3 370.6h0.75v0.75h-0.75zM315.2 370.2h0.75v0.75h-0.75zM321.5 375.7h0.75v0.75h-0.75zM315.3 376.1h0.75v0.75h-0.75zM320.5 377.7h0.75v0.75h-0.75zM318.9 370.5h0.75v0.75h-0.75zM316.0 367.0h0.75v0.75h-0.75zM318.4 377.6h0.75v0.75h-0.75zM317.8 364.1h0.75v0.75h-0.75zM317.0 372.0h0.75v0.75h-0.75zM318.5 370.5h0.75v0.75h-0.75zM317.1 383.6h0.75v0.75h-0.75zM321.6 374.6h0.75v0.75h-0.75zM314.4 386.2h0.75v0.75h-0.75zM309.1 374.0h0.75v0.75h-0.75zM316.2 380.9h0.75v0.75h-0.75zM320.3 385.4h0.75v0.75h-0.75zM319.1 379.1h0.75v0.75h-0.75zM309.0 375.4h0.75v0.75h-0.75zM321.3 367.4h0.75v0.75h-0.75zM317.5 374.9h0.75v0.75h-0.75zM309.7 363.4h0.75v0.75h-0.75zM311.2 372.0h0.75v0.75h-0.75zM317.1 378.1h0.75v0.75h-0.75zM316.1 385.5h0.75v0.75h-0.75zM318.3 385.5h0.75v0.75h-0.75zM313.7 385.8h0.75v0.75h-0.75zM313.2 362.4h0.75v0.75h-0.75zM313.6 382.7h0.75v0.75h-0.75zM314.5 384.8h0.75v0.75h-0.75zM315.2 386.5h0.75v0.75h-0.75zM318.7 386.0h0.75v0.75h-0.75zM315.7 382.8h0.75v0.75h-0.75zM315.5 370.4h0.75v0.75h-0.75zM318.7 370.1h0.75v0.75h-0.75zM316.5 380.6h0.75v0.75h-0.75zM313.3 368.2h0.75v0.75h-0.75zM319.8 353.6h0.75v0.75h-0.75zM317.5 373.2h0.75v0.75h-0.75zM317.5 350.6h0.75v0.75h-0.75zM309.1 382.7h0.75v0.75h-0.75zM319.5 372.2h0.75v0.75h-0.75zM314.4 378.1h0.75v0.75h-0.75zM310.9 381.6h0.75v0.75h-0.75zM322.8 373.7h0.75v0.75h-0.75zM315.1 358.1h0.75v0.75h-0.75zM312.6 384.6h0.75v0.75h-0.75zM321.0 383.8h0.75v0.75h-0.75zM316.1 375.8h0.75v0.75h-0.75zM315.1 373.1h0.75v0.75h-0.75zM313.6 351.2h0.75v0.75h-0.75zM317.1 380.8h0.75v0.75h-0.75zM306.0 381.5h0.75v0.75h-0.75zM310.9 379.7h0.75v0.75h-0.75zM312.7 384.4h0.75v0.75h-0.75zM317.6 364.4h0.75v0.75h-0.75zM317.4 368.4h0.75v0.75h-0.75zM313.6 364.3h0.75v0.75h-0.75zM318.9 383.1h0.75v0.75h-0.75zM317.5 368.6h0.75v0.75h-0.75zM318.1 376.4h0.75v0.75h-0.75zM310.4 382.5h0.75v0.75h-0.75zM325.7 370.4h0.75v0.75h-0.75zM319.0 362.7h0.75v0.75h-0.75zM315.4 364.7h0.75v0.75h-0.75zM313.8 368.6h0.75v0.75h-0.75zM320.1 373.9h0.75v0.75h-0.75zM322.5 358.2h0.75v0.75h-0.75zM305.1 374.5h0.75v0.75h-0.75zM320.2 369.4h0.75v0.75h-0.75zM317.0 378.5h0.75v0.75h-0.75zM313.9 365.3h0.75v0.75h-0.75zM315.9 358.2h0.75v0.75h-0.75zM314.4 384.6h0.75v0.75h-0.75zM318.2 377.4h0.75v0.75h-0.75zM315.1 376.9h0.75v0.75h-0.75zM308.8 380.4h0.75v0.75h-0.75zM314.7 378.0h0.75v0.75h-0.75zM318.2 386.5h0.75v0.75h-0.75zM309.4 372.6h0.75v0.75h-0.75zM316.9 361.9h0.75v0.75h-0.75zM319.5 377.3h0.75v0.75h-0.75zM311.9 375.8h0.75v0.75h-0.75zM318.7 378.8h0.75v0.75h-0.75zM319.1 372.4h0.75v0.75h-0.75zM311.0 380.0h0.75v0.75h-0.75zM317.8 386.0h0.75v0.75h-0.75zM318.1 382.8h0.75v0.75h-0.75zM314.3 358.4h0.75v0.75h-0.75zM320.0 369.9h0.75v0.75h-0.75zM317.0 382.5h0.75v0.75h-0.75zM318.6 368.0h0.75v0.75h-0.75zM316.8 375.6h0.75v0.75h-0.75zM323.7 376.4h0.75v0.75h-0.75zM313.3 382.5h0.75v0.75h-0.75zM311.1 375.9h0.75v0.75h-0.75zM318.9 384.8h0.75v0.75h-0.75zM315.3 385.9h0.75v0.75h-0.75zM316.3 360.9h0.75v0.75h-0.75zM319.9 376.5h0.75v0.75h-0.75zM307.3 383.1h0.75v0.75h-0.75zM317.8 372.0h0.75v0.75h-0.75zM318.4 385.1h0.75v0.75h-0.75zM312.4 359.5h0.75v0.75h-0.75zM319.4 363.8h0.75v0.75h-0.75zM312.4 386.0h0.75v0.75h-0.75zM319.7 386.4h0.75v0.75h-0.75zM314.4 378.3h0.75v0.75h-0.75zM317.8 361.7h0.75v0.75h-0.75zM312.6 366.9h0.75v0.75h-0.75zM309.8 370.4h0.75v0.75h-0.75zM319.2 353.4h0.75v0.75h-0.75zM321.5 362.9h0.75v0.75h-0.75zM314.6 379.1h0.75v0.75h-0.75zM316.9 378.7h0.75v0.75h-0.75zM317.8 364.2h0.75v0.75h-0.75zM316.1 375.2h0.75v0.75h-0.75zM324.3 375.0h0.75v0.75h-0.75zM311.9 374.7h0.75v0.75h-0.75zM318.6 375.8h0.75v0.75h-0.75zM321.8 363.3h0.75v0.75h-0.75zM317.4 365.4h0.75v0.75h-0.75zM317.5 367.7h0.75v0.75h-0.75zM316.8 365.7h0.75v0.75h-0.75zM320.2 375.5h0.75v0.75h-0.75zM314.4 380.8h0.75v0.75h-0.75zM309.1 373.0h0.75v0.75h-0.75zM314.8 384.2h0.75v0.75h-0.75zM316.2 384.6h0.75v0.75h-0.75zM318.5 365.4h0.75v0.75h-0.75zM314.0 384.6h0.75v0.75h-0.75zM323.6 366.7h0.75v0.75h-0.75zM314.7 369.8h0.75v0.75h-0.75zM316.6 361.2h0.75v0.75h-0.75zM317.7 352.1h0.75v0.75h-0.75zM316.1 374.8h0.75v0.75h-0.75zM320.5 361.8h0.75v0.75h-0.75zM312.4 386.5h0.75v0.75h-0.75zM315.9 381.2h0.75v0.75h-0.75zM317.6 377.4h0.75v0.75h-0.75zM314.8 375.6h0.75v0.75h-0.75zM320.1 380.4h0.75v0.75h-0.75zM311.2 377.9h0.75v0.75h-0.75zM318.4 364.4h0.75v0.75h-0.75zM308.9 385.7h0.75v0.75h-0.75zM315.1 363.1h0.75v0.75h-0.75zM310.6 383.3h0.75v0.75h-0.75zM317.4 384.2h0.75v0.75h-0.75zM321.3 376.9h0.75v0.75h-0.75zM314.6 380.5h0.75v0.75h-0.75zM315.8 368.2h0.75v0.75h-0.75zM317.7 358.6h0.75v0.75h-0.75zM317.9 376.9h0.75v0.75h-0.75zM313.0 379.9h0.75v0.75h-0.75zM316.6 385.2h0.75v0.75h-0.75zM321.3 383.5h0.75v0.75h-0.75zM316.5 357.7h0.75v0.75h-0.75zM315.1 386.2h0.75v0.75h-0.75zM318.3 369.9h0.75v0.75h-0.75zM316.8 364.4h0.75v0.75h-0.75zM321.2 377.6h0.75v0.75h-0.75zM316.0 375.6h0.75v0.75h-0.75zM312.5 374.4h0.75v0.75h-0.75zM315.5 376.0h0.75v0.75h-0.75zM315.0 375.9h0.75v0.75h-0.75zM312.0 375.7h0.75v0.75h-0.75zM316.5 372.5h0.75v0.75h-0.75zM306.1 383.5h0.75v0.75h-0.75zM320.5 383.2h0.75v0.75h-0.75zM319.1 369.0h0.75v0.75h-0.75zM311.8 385.3h0.75v0.75h-0.75zM317.1 380.7h0.75v0.75h-0.75zM311.5 380.4h0.75v0.75h-0.75zM313.5 376.4h0.75v0.75h-0.75zM316.5 363.0h0.75v0.75h-0.75zM312.7 382.9h0.75v0.75h-0.75zM315.2 379.8h0.75v0.75h-0.75zM315.0 370.9h0.75v0.75h-0.75zM313.6 384.6h0.75v0.75h-0.75zM314.9 382.6h0.75v0.75h-0.75zM309.6 384.1h0.75v0.75h-0.75zM320.9 361.5h0.75v0.75h-0.75zM324.0 384.3h0.75v0.75h-0.75zM320.7 374.4h0.75v0.75h-0.75zM316.8 382.2h0.75v0.75h-0.75zM315.6 382.1h0.75v0.75h-0.75zM315.7 373.3h0.75v0.75h-0.75zM317.0 385.5h0.75v0.75h-0.75zM312.6 378.5h0.75v0.75h-0.75zM314.8 385.2h0.75v0.75h-0.75zM317.8 379.7h0.75v0.75h-0.75zM319.3 378.5h0.75v0.75h-0.75zM318.8 358.8h0.75v0.75h-0.75zM318.4 358.8h0.75v0.75h-0.75zM308.6 383.1h0.75v0.75h-0.75zM317.2 348.9h0.75v0.75h-0.75zM314.3 375.3h0.75v0.75h-0.75zM314.2 365.4h0.75v0.75h-0.75zM313.4 367.7h0.75v0.75h-0.75zM319.2 362.2h0.75v0.75h-0.75zM311.1 364.2h0.75v0.75h-0.75zM310.4 385.1h0.75v0.75h-0.75zM318.7 383.4h0.75v0.75h-0.75zM315.0 374.4h0.75v0.75h-0.75zM319.0 377.2h0.75v0.75h-0.75zM322.9 363.9h0.75v0.75h-0.75zM320.1 374.3h0.75v0.75h-0.75zM316.4 370.3h0.75v0.75h-0.75zM311.7 375.1h0.75v0.75h-0.75zM311.5 367.5h0.75v0.75h-0.75zM316.9 370.0h0.75v0.75h-0.75zM323.4 364.3h0.75v0.75h-0.75zM317.5 370.2h0.75v0.75h-0.75zM325.4 381.9h0.75v0.75h-0.75zM316.1 366.6h0.75v0.75h-0.75zM314.4 372.3h0.75v0.75h-0.75zM315.1 373.0h0.75v0.75h-0.75zM312.9 363.0h0.75v0.75h-0.75zM319.3 355.3h0.75v0.75h-0.75zM315.9 353.8h0.75v0.75h-0.75zM310.5 382.1h0.75v0.75h-0.75zM320.2 368.3h0.75v0.75h-0.75zM323.2 376.7h0.75v0.75h-0.75zM314.5 375.2h0.75v0.75h-0.75zM311.9 386.1h0.75v0.75h-0.75zM318.5 369.7h0.75v0.75h-0.75zM311.5 378.7h0.75v0.75h-0.75zM311.1 369.4h0.75v0.75h-0.75zM319.3 366.7h0.75v0.75h-0.75zM322.6 379.4h0.75v0.75h-0.75zM318.4 355.9h0.75v0.75h-0.75zM314.6 358.3h0.75v0.75h-0.75zM318.9 381.3h0.75v0.75h-0.75zM313.6 376.9h0.75v0.75h-0.75zM313.2 378.4h0.75v0.75h-0.75zM312.6 370.1h0.75v0.75h-0.75zM313.9 383.4h0.75v0.75h-0.75zM308.0 384.9h0.75v0.75h-0.75zM318.7 364.2h0.75v0.75h-0.75zM322.3 360.0h0.75v0.75h-0.75zM318.4 357.0h0.75v0.75h-0.75zM313.5 382.0h0.75v0.75h-0.75zM313.9 362.7h0.75v0.75h-0.75zM314.0 374.7h0.75v0.75h-0.75zM318.6 358.5h0.75v0.75h-0.75zM321.8 379.8h0.75v0.75h-0.75zM314.2 382.3h0.75v0.75h-0.75zM317.1 372.4h0.75v0.75h-0.75zM318.8 374.8h0.75v0.75h-0.75zM316.7 376.3h0.75v0.75h-0.75zM314.1 382.4h0.75v0.75h-0.75zM319.2 385.8h0.75v0.75h-0.75zM318.6 367.2h0.75v0.75h-0.75zM313.9 366.3h0.75v0.75h-0.75zM313.1 384.1h0.75v0.75h-0.75zM314.9 373.0h0.75v0.75h-0.75zM319.3 368.4h0.75v0.75h-0.75zM317.6 382.6h0.75v0.75h-0.75zM317.3 376.9h0.75v0.75h-0.75zM316.6 362.6h0.75v0.75h-0.75zM318.9 384.9h0.75v0.75h-0.75zM314.2 364.1h0.75v0.75h-0.75zM318.1 357.6h0.75v0.75h-0.75zM318.8 376.6h0.75v0.75h-0.75zM322.4 357.6h0.75v0.75h-0.75zM317.9 368.9h0.75v0.75h-0.75zM317.3 381.7h0.75v0.75h-0.75zM312.4 375.6h0.75v0.75h-0.75zM317.8 366.8h0.75v0.75h-0.75zM316.9 380.1h0.75v0.75h-0.75zM314.6 381.0h0.75v0.75h-0.75zM317.2 384.0h0.75v0.75h-0.75zM317.1 381.8h0.75v0.75h-0.75zM314.1 367.8h0.75v0.75h-0.75zM315.5 382.3h0.75v0.75h-0.75zM315.3 369.9h0.75v0.75h-0.75zM321.3 380.2h0.75v0.75h-0.75zM315.8 380.3h0.75v0.75h-0.75zM315.3 375.3h0.75v0.75h-0.75zM313.5 382.1h0.75v0.75h-0.75zM315.6 379.5h0.75v0.75h-0.75zM315.5 356.5h0.75v0.75h-0.75zM319.3 363.9h0.75v0.75h-0.75zM319.9 355.0h0.75v0.75h-0.75zM321.1 368.9h0.75v0.75h-0.75zM318.7 363.0h0.75v0.75h-0.75zM319.3 358.3h0.75v0.75h-0.75zM311.4 381.6h0.75v0.75h-0.75zM316.4 379.8h0.75v0.75h-0.75zM318.5 356.8h0.75v0.75h-0.75zM321.7 374.9h0.75v0.75h-0.75zM319.6 356.6h0.75v0.75h-0.75zM320.4 381.3h0.75v0.75h-0.75zM314.4 374.3h0.75v0.75h-0.75zM318.0 379.9h0.75v0.75h-0.75zM315.3 361.8h0.75v0.75h-0.75zM318.7 382.4h0.75v0.75h-0.75zM320.7 360.2h0.75v0.75h-0.75zM313.6 386.5h0.75v0.75h-0.75zM317.2 355.0h0.75v0.75h-0.75zM317.1 380.0h0.75v0.75h-0.75zM314.1 383.1h0.75v0.75h-0.75zM317.6 370.9h0.75v0.75h-0.75zM314.2 383.7h0.75v0.75h-0.75zM315.8 382.8h0.75v0.75h-0.75zM317.6 380.8h0.75v0.75h-0.75zM318.7 379.9h0.75v0.75h-0.75zM313.5 374.8h0.75v0.75h-0.75zM313.6 372.0h0.75v0.75h-0.75zM313.8 364.9h0.75v0.75h-0.75zM315.4 382.3h0.75v0.75h-0.75zM320.7 370.4h0.75v0.75h-0.75zM314.8 386.0h0.75v0.75h-0.75zM318.6 385.4h0.75v0.75h-0.75zM315.7 384.7h0.75v0.75h-0.75zM313.4 368.9h0.75v0.75h-0.75zM316.3 385.0h0.75v0.75h-0.75zM310.6 381.0h0.75v0.75h-0.75zM313.7 369.6h0.75v0.75h-0.75zM313.4 378.7h0.75v0.75h-0.75zM319.1 375.3h0.75v0.75h-0.75zM318.3 359.4h0.75v0.75h-0.75zM321.2 360.8h0.75v0.75h-0.75zM313.5 372.1h0.75v0.75h-0.75zM319.7 380.3h0.75v0.75h-0.75zM313.9 380.0h0.75v0.75h-0.75zM315.8 362.8h0.75v0.75h-0.75zM313.2 362.2h0.75v0.75h-0.75zM323.6 381.9h0.75v0.75h-0.75zM312.8 381.2h0.75v0.75h-0.75zM311.9 369.7h0.75v0.75h-0.75zM318.4 382.0h0.75v0.75h-0.75zM323.0 374.3h0.75v0.75h-0.75zM319.7 351.8h0.75v0.75h-0.75zM319.4 367.9h0.75v0.75h-0.75zM313.9 375.2h0.75v0.75h-0.75zM317.0 373.1h0.75v0.75h-0.75zM320.9 366.3h0.75v0.75h-0.75zM310.9 372.2h0.75v0.75h-0.75zM316.9 369.0h0.75v0.75h-0.75zM316.4 355.8h0.75v0.75h-0.75zM311.6 372.5h0.75v0.75h-0.75zM319.5 371.8h0.75v0.75h-0.75zM321.9 379.9h0.75v0.75h-0.75zM316.7 384.2h0.75v0.75h-0.75zM312.3 371.7h0.75v0.75h-0.75zM317.7 385.2h0.75v0.75h-0.75zM315.3 380.6h0.75v0.75h-0.75zM315.1 379.3h0.75v0.75h-0.75zM316.4 360.4h0.75v0.75h-0.75zM316.0 360.8h0.75v0.75h-0.75zM318.8 365.7h0.75v0.75h-0.75zM316.0 378.3h0.75v0.75h-0.75zM316.8 351.3h0.75v0.75h-0.75zM320.2 375.3h0.75v0.75h-0.75zM314.4 381.2h0.75v0.75h-0.75zM316.6 373.4h0.75v0.75h-0.75zM314.2 384.0h0.75v0.75h-0.75zM310.8 367.5h0.75v0.75h-0.75zM319.1 364.3h0.75v0.75h-0.75zM317.0 371.7h0.75v0.75h-0.75zM310.7 383.6h0.75v0.75h-0.75zM320.0 383.9h0.75v0.75h-0.75zM318.9 361.1h0.75v0.75h-0.75zM315.5 362.1h0.75v0.75h-0.75zM313.9 377.8h0.75v0.75h-0.75zM316.1 379.3h0.75v0.75h-0.75zM314.5 372.1h0.75v0.75h-0.75zM313.7 380.2h0.75v0.75h-0.75zM318.8 364.8h0.75v0.75h-0.75zM316.6 359.7h0.75v0.75h-0.75zM315.3 380.1h0.75v0.75h-0.75zM310.6 370.0h0.75v0.75h-0.75zM315.3 385.1h0.75v0.75h-0.75zM316.7 365.5h0.75v0.75h-0.75zM319.3 361.3h0.75v0.75h-0.75zM317.9 360.8h0.75v0.75h-0.75zM312.3 359.1h0.75v0.75h-0.75zM317.7 354.5h0.75v0.75h-0.75zM316.5 377.1h0.75v0.75h-0.75zM316.5 362.4h0.75v0.75h-0.75zM317.6 356.8h0.75v0.75h-0.75zM315.7 386.5h0.75v0.75h-0.75zM313.0 370.9h0.75v0.75h-0.75zM316.0 367.4h0.75v0.75h-0.75zM317.3 355.1h0.75v0.75h-0.75zM317.0 361.7h0.75v0.75h-0.75zM323.8 355.9h0.75v0.75h-0.75zM323.3 378.6h0.75v0.75h-0.75zM323.8 364.0h0.75v0.75h-0.75zM317.0 367.8h0.75v0.75h-0.75zM316.6 379.9h0.75v0.75h-0.75zM318.6 371.5h0.75v0.75h-0.75zM322.5 360.9h0.75v0.75h-0.75zM318.8 379.2h0.75v0.75h-0.75zM318.7 381.7h0.75v0.75h-0.75zM314.6 380.4h0.75v0.75h-0.75zM313.7 382.5h0.75v0.75h-0.75zM320.3 369.5h0.75v0.75h-0.75zM317.6 358.8h0.75v0.75h-0.75zM316.7 358.0h0.75v0.75h-0.75zM311.5 383.6h0.75v0.75h-0.75zM316.8 367.1h0.75v0.75h-0.75zM312.3 385.7h0.75v0.75h-0.75zM316.6 366.6h0.75v0.75h-0.75zM317.5 364.6h0.75v0.75h-0.75zM325.3 384.6h0.75v0.75h-0.75zM317.8 376.4h0.75v0.75h-0.75zM322.3 367.5h0.75v0.75h-0.75zM317.7 375.2h0.75v0.75h-0.75zM316.8 376.5h0.75v0.75h-0.75zM312.8 351.3h0.75v0.75h-0.75zM312.0 364.4h0.75v0.75h-0.75zM309.6 375.5h0.75v0.75h-0.75zM315.0 372.4h0.75v0.75h-0.75zM314.8 362.1h0.75v0.75h-0.75zM311.6 374.8h0.75v0.75h-0.75zM316.7 361.4h0.75v0.75h-0.75zM320.3 378.3h0.75v0.75h-0.75zM324.5 377.7h0.75v0.75h-0.75zM315.4 378.4h0.75v0.75h-0.75zM322.4 376.4h0.75v0.75h-0.75zM320.1 376.8h0.75v0.75h-0.75zM315.5 368.8h0.75v0.75h-0.75zM312.8 379.7h0.75v0.75h-0.75zM314.8 380.4h0.75v0.75h-0.75zM323.4 379.6h0.75v0.75h-0.75zM314.7 383.1h0.75v0.75h-0.75zM310.8 386.4h0.75v0.75h-0.75zM318.6 370.2h0.75v0.75h-0.75zM312.0 379.0h0.75v0.75h-0.75zM314.9 357.1h0.75v0.75h-0.75zM311.7 361.8h0.75v0.75h-0.75zM320.1 384.8h0.75v0.75h-0.75zM320.2 376.1h0.75v0.75h-0.75zM314.9 378.9h0.75v0.75h-0.75zM314.1 386.5h0.75v0.75h-0.75zM311.2 383.7h0.75v0.75h-0.75zM317.0 365.2h0.75v0.75h-0.75zM312.6 379.5h0.75v0.75h-0.75zM324.3 373.6h0.75v0.75h-0.75zM312.5 380.8h0.75v0.75h-0.75zM319.6 382.6h0.75v0.75h-0.75zM321.7 383.7h0.75v0.75h-0.75zM313.4 375.8h0.75v0.75h-0.75zM318.2 383.3h0.75v0.75h-0.75zM319.8 378.1h0.75v0.75h-0.75zM318.7 376.5h0.75v0.75h-0.75zM315.1 363.4h0.75v0.75h-0.75zM324.4 385.4h0.75v0.75h-0.75zM324.8 383.3h0.75v0.75h-0.75zM318.3 372.0h0.75v0.75h-0.75zM317.6 376.4h0.75v0.75h-0.75zM318.4 371.7h0.75v0.75h-0.75zM314.4 377.4h0.75v0.75h-0.75zM319.9 356.3h0.75v0.75h-0.75zM317.3 384.4h0.75v0.75h-0.75zM317.2 374.8h0.75v0.75h-0.75zM319.2 354.3h0.75v0.75h-0.75zM311.3 381.2h0.75v0.75h-0.75zM305.8 374.7h0.75v0.75h-0.75zM320.2 383.2h0.75v0.75h-0.75zM316.8 385.7h0.75v0.75h-0.75zM313.3 355.6h0.75v0.75h-0.75zM319.1 365.0h0.75v0.75h-0.75zM316.1 382.4h0.75v0.75h-0.75zM317.0 374.1h0.75v0.75h-0.75zM317.8 364.4h0.75v0.75h-0.75zM318.7 363.5h0.75v0.75h-0.75zM315.8 385.3h0.75v0.75h-0.75zM317.1 349.8h0.75v0.75h-0.75zM318.8 371.8h0.75v0.75h-0.75zM322.0 385.0h0.75v0.75h-0.75zM317.2 382.9h0.75v0.75h-0.75zM319.9 383.0h0.75v0.75h-0.75zM315.8 384.7h0.75v0.75h-0.75zM313.5 369.6h0.75v0.75h-0.75zM323.1 379.6h0.75v0.75h-0.75zM312.8 379.6h0.75v0.75h-0.75zM317.6 372.1h0.75v0.75h-0.75zM317.9 369.7h0.75v0.75h-0.75zM317.9 386.0h0.75v0.75h-0.75zM318.2 362.5h0.75v0.75h-0.75zM316.3 367.2h0.75v0.75h-0.75zM314.9 361.9h0.75v0.75h-0.75zM317.1 375.2h0.75v0.75h-0.75zM319.0 379.0h0.75v0.75h-0.75zM317.8 367.6h0.75v0.75h-0.75zM318.8 372.3h0.75v0.75h-0.75zM317.8 379.9h0.75v0.75h-0.75zM323.8 363.6h0.75v0.75h-0.75zM320.7 382.1h0.75v0.75h-0.75zM319.5 361.5h0.75v0.75h-0.75zM322.4 383.2h0.75v0.75h-0.75zM321.1 358.7h0.75v0.75h-0.75zM317.7 380.3h0.75v0.75h-0.75zM315.6 368.0h0.75v0.75h-0.75zM315.7 377.7h0.75v0.75h-0.75zM316.6 360.4h0.75v0.75h-0.75zM314.6 381.6h0.75v0.75h-0.75zM311.7 377.1h0.75v0.75h-0.75zM319.4 373.9h0.75v0.75h-0.75zM318.7 358.8h0.75v0.75h-0.75zM318.8 351.7h0.75v0.75h-0.75zM319.5 356.1h0.75v0.75h-0.75zM311.1 379.0h0.75v0.75h-0.75zM321.2 356.8h0.75v0.75h-0.75zM321.4 384.5h0.75v0.75h-0.75zM315.1 365.8h0.75v0.75h-0.75zM314.2 370.1h0.75v0.75h-0.75zM314.6 369.9h0.75v0.75h-0.75zM315.4 386.4h0.75v0.75h-0.75zM315.8 384.7h0.75v0.75h-0.75zM315.7 378.6h0.75v0.75h-0.75zM312.0 361.8h0.75v0.75h-0.75zM316.6 382.4h0.75v0.75h-0.75zM318.2 374.4h0.75v0.75h-0.75zM314.0 372.1h0.75v0.75h-0.75zM316.9 376.4h0.75v0.75h-0.75zM317.5 385.9h0.75v0.75h-0.75zM319.2 379.9h0.75v0.75h-0.75zM315.3 375.1h0.75v0.75h-0.75zM318.8 363.7h0.75v0.75h-0.75zM323.3 353.1h0.75v0.75h-0.75zM321.9 366.6h0.75v0.75h-0.75zM315.4 357.6h0.75v0.75h-0.75zM311.8 368.0h0.75v0.75h-0.75zM309.1 381.7h0.75v0.75h-0.75zM313.6 360.1h0.75v0.75h-0.75zM318.1 383.4h0.75v0.75h-0.75zM317.4 367.3h0.75v0.75h-0.75zM315.3 373.4h0.75v0.75h-0.75zM312.8 366.7h0.75v0.75h-0.75zM315.4 357.5h0.75v0.75h-0.75zM322.3 372.0h0.75v0.75h-0.75zM315.9 376.3h0.75v0.75h-0.75zM314.4 382.2h0.75v0.75h-0.75zM312.5 380.4h0.75v0.75h-0.75zM320.6 365.9h0.75v0.75h-0.75zM321.8 374.7h0.75v0.75h-0.75zM317.3 382.8h0.75v0.75h-0.75zM318.3 364.3h0.75v0.75h-0.75zM313.3 369.4h0.75v0.75h-0.75zM312.6 372.8h0.75v0.75h-0.75zM319.3 374.7h0.75v0.75h-0.75zM318.7 376.2h0.75v0.75h-0.75zM315.9 375.9h0.75v0.75h-0.75zM318.2 374.5h0.75v0.75h-0.75zM319.1 363.9h0.75v0.75h-0.75zM318.3 377.6h0.75v0.75h-0.75zM317.8 371.2h0.75v0.75h-0.75zM317.1 370.0h0.75v0.75h-0.75zM315.3 368.6h0.75v0.75h-0.75zM314.3 376.3h0.75v0.75h-0.75zM317.1 361.9h0.75v0.75h-0.75zM316.6 358.9h0.75v0.75h-0.75zM319.5 377.4h0.75v0.75h-0.75zM311.0 382.0h0.75v0.75h-0.75zM318.4 351.3h0.75v0.75h-0.75zM317.6 367.0h0.75v0.75h-0.75zM322.2 379.8h0.75v0.75h-0.75zM314.1 382.4h0.75v0.75h-0.75zM319.6 371.5h0.75v0.75h-0.75zM315.0 379.3h0.75v0.75h-0.75zM322.8 371.3h0.75v0.75h-0.75zM313.3 377.1h0.75v0.75h-0.75zM317.8 380.4h0.75v0.75h-0.75zM319.5 369.0h0.75v0.75h-0.75zM319.8 370.9h0.75v0.75h-0.75zM317.1 358.8h0.75v0.75h-0.75zM318.0 360.6h0.75v0.75h-0.75zM308.8 386.6h0.75v0.75h-0.75zM321.3 378.7h0.75v0.75h-0.75zM319.7 384.4h0.75v0.75h-0.75zM318.6 352.0h0.75v0.75h-0.75zM318.7 381.9h0.75v0.75h-0.75zM315.5 380.3h0.75v0.75h-0.75zM315.4 367.3h0.75v0.75h-0.75zM311.0 385.3h0.75v0.75h-0.75zM320.9 371.7h0.75v0.75h-0.75zM314.6 370.9h0.75v0.75h-0.75zM307.4 376.4h0.75v0.75h-0.75zM317.5 377.4h0.75v0.75h-0.75zM322.6 381.9h0.75v0.75h-0.75zM313.3 382.4h0.75v0.75h-0.75zM315.3 381.7h0.75v0.75h-0.75zM316.5 386.0h0.75v0.75h-0.75zM315.6 365.5h0.75v0.75h-0.75zM319.0 364.1h0.75v0.75h-0.75zM326.2 378.3h0.75v0.75h-0.75zM315.2 375.5h0.75v0.75h-0.75zM318.1 382.3h0.75v0.75h-0.75zM316.6 367.8h0.75v0.75h-0.75zM314.1 377.5h0.75v0.75h-0.75zM311.0 385.0h0.75v0.75h-0.75zM318.2 363.7h0.75v0.75h-0.75zM322.3 378.4h0.75v0.75h-0.75zM305.1 378.8h0.75v0.75h-0.75zM317.4 367.7h0.75v0.75h-0.75zM321.3 369.2h0.75v0.75h-0.75zM322.4 369.9h0.75v0.75h-0.75zM320.7 349.1h0.75v0.75h-0.75zM315.4 372.4h0.75v0.75h-0.75zM318.5 383.1h0.75v0.75h-0.75zM320.8 379.7h0.75v0.75h-0.75zM317.9 367.4h0.75v0.75h-0.75zM315.0 372.1h0.75v0.75h-0.75zM320.6 365.1h0.75v0.75h-0.75zM313.0 379.9h0.75v0.75h-0.75zM315.2 384.8h0.75v0.75h-0.75zM320.1 366.7h0.75v0.75h-0.75zM317.7 364.5h0.75v0.75h-0.75zM314.5 364.6h0.75v0.75h-0.75zM318.1 375.2h0.75v0.75h-0.75zM315.8 365.4h0.75v0.75h-0.75zM311.3 367.6h0.75v0.75h-0.75zM316.8 362.8h0.75v0.75h-0.75zM312.6 371.5h0.75v0.75h-0.75zM316.2 379.1h0.75v0.75h-0.75zM316.2 384.0h0.75v0.75h-0.75zM310.5 370.2h0.75v0.75h-0.75zM311.2 385.1h0.75v0.75h-0.75zM320.6 364.8h0.75v0.75h-0.75zM313.8 386.1h0.75v0.75h-0.75zM323.1 373.1h0.75v0.75h-0.75zM311.8 383.4h0.75v0.75h-0.75zM320.8 371.0h0.75v0.75h-0.75zM316.2 370.7h0.75v0.75h-0.75zM320.6 366.6h0.75v0.75h-0.75zM318.6 349.2h0.75v0.75h-0.75zM315.4 380.6h0.75v0.75h-0.75zM316.5 358.6h0.75v0.75h-0.75zM315.0 380.8h0.75v0.75h-0.75zM325.2 362.6h0.75v0.75h-0.75zM315.3 369.2h0.75v0.75h-0.75zM320.9 370.5h0.75v0.75h-0.75zM318.4 366.5h0.75v0.75h-0.75zM320.5 385.9h0.75v0.75h-0.75zM316.6 374.9h0.75v0.75h-0.75zM317.5 371.4h0.75v0.75h-0.75zM320.6 378.5h0.75v0.75h-0.75zM317.1 358.3h0.75v0.75h-0.75zM321.7 364.9h0.75v0.75h-0.75zM312.6 381.3h0.75v0.75h-0.75zM315.4 382.0h0.75v0.75h-0.75zM318.7 385.5h0.75v0.75h-0.75zM316.2 384.6h0.75v0.75h-0.75zM311.7 372.4h0.75v0.75h-0.75zM321.3 356.8h0.75v0.75h-0.75zM321.0 362.7h0.75v0.75h-0.75zM322.9 383.1h0.75v0.75h-0.75zM317.6 376.8h0.75v0.75h-0.75zM319.5 381.3h0.75v0.75h-0.75zM316.8 372.0h0.75v0.75h-0.75zM319.9 370.3h0.75v0.75h-0.75zM313.0 384.0h0.75v0.75h-0.75zM316.6 357.6h0.75v0.75h-0.75zM314.9 382.2h0.75v0.75h-0.75zM313.7 350.9h0.75v0.75h-0.75zM315.6 380.1h0.75v0.75h-0.75zM320.5 378.6h0.75v0.75h-0.75zM316.6 367.0h0.75v0.75h-0.75zM315.6 379.3h0.75v0.75h-0.75zM316.1 378.1h0.75v0.75h-0.75zM308.3 383.8h0.75v0.75h-0.75zM317.9 381.3h0.75v0.75h-0.75zM316.8 377.1h0.75v0.75h-0.75zM322.4 378.8h0.75v0.75h-0.75zM315.4 370.4h0.75v0.75h-0.75zM317.7 365.9h0.75v0.75h-0.75zM319.1 372.7h0.75v0.75h-0.75zM317.5 379.7h0.75v0.75h-0.75zM316.0 352.7h0.75v0.75h-0.75zM312.9 385.2h0.75v0.75h-0.75zM312.9 381.4h0.75v0.75h-0.75zM315.0 363.6h0.75v0.75h-0.75zM314.1 363.3h0.75v0.75h-0.75zM320.1 382.8h0.75v0.75h-0.75zM316.8 377.6h0.75v0.75h-0.75zM318.2 377.3h0.75v0.75h-0.75zM317.5 352.1h0.75v0.75h-0.75zM315.5 376.9h0.75v0.75h-0.75zM314.4 383.9h0.75v0.75h-0.75zM314.6 378.5h0.75v0.75h-0.75zM314.6 375.6h0.75v0.75h-0.75zM319.7 376.9h0.75v0.75h-0.75zM315.5 356.6h0.75v0.75h-0.75zM320.4 378.0h0.75v0.75h-0.75zM317.5 366.1h0.75v0.75h-0.75zM316.9 385.2h0.75v0.75h-0.75zM319.0 386.2h0.75v0.75h-0.75zM322.7 382.5h0.75v0.75h-0.75zM313.5 373.5h0.75v0.75h-0.75zM327.7 381.7h0.75v0.75h-0.75zM317.0 383.3h0.75v0.75h-0.75zM319.1 356.3h0.75v0.75h-0.75zM323.1 363.3h0.75v0.75h-0.75zM314.4 369.6h0.75v0.75h-0.75zM315.0 383.1h0.75v0.75h-0.75zM313.8 353.7h0.75v0.75h-0.75zM312.3 371.1h0.75v0.75h-0.75zM317.9 385.6h0.75v0.75h-0.75zM318.7 376.6h0.75v0.75h-0.75zM320.6 369.2h0.75v0.75h-0.75zM314.3 381.2h0.75v0.75h-0.75zM318.3 355.7h0.75v0.75h-0.75zM319.3 377.0h0.75v0.75h-0.75zM314.3 375.0h0.75v0.75h-0.75zM319.3 379.7h0.75v0.75h-0.75zM323.5 366.8h0.75v0.75h-0.75zM317.2 352.8h0.75v0.75h-0.75zM317.2 376.9h0.75v0.75h-0.75zM315.2 365.2h0.75v0.75h-0.75zM313.9 352.7h0.75v0.75h-0.75zM320.3 376.8h0.75v0.75h-0.75zM313.5 363.2h0.75v0.75h-0.75zM317.5 371.8h0.75v0.75h-0.75zM319.4 379.8h0.75v0.75h-0.75zM308.6 366.0h0.75v0.75h-0.75zM311.1 369.2h0.75v0.75h-0.75zM321.1 378.3h0.75v0.75h-0.75zM319.1 379.0h0.75v0.75h-0.75zM316.9 348.9h0.75v0.75h-0.75zM318.8 350.7h0.75v0.75h-0.75zM316.8 378.1h0.75v0.75h-0.75zM318.9 385.1h0.75v0.75h-0.75zM312.5 364.4h0.75v0.75h-0.75zM311.3 385.8h0.75v0.75h-0.75zM310.3 355.9h0.75v0.75h-0.75zM310.2 373.9h0.75v0.75h-0.75zM316.1 380.7h0.75v0.75h-0.75zM333.8 357.1h0.75v0.75h-0.75zM315.4 384.9h0.75v0.75h-0.75zM321.8 358.2h0.75v0.75h-0.75zM309.0 346.7h0.75v0.75h-0.75zM318.9 372.7h0.75v0.75h-0.75zM318.2 354.5h0.75v0.75h-0.75zM322.3 374.9h0.75v0.75h-0.75zM308.8 352.5h0.75v0.75h-0.75zM309.0 354.1h0.75v0.75h-0.75zM318.6 382.0h0.75v0.75h-0.75zM317.7 350.2h0.75v0.75h-0.75zM308.7 350.5h0.75v0.75h-0.75zM320.9 367.1h0.75v0.75h-0.75zM329.4 353.4h0.75v0.75h-0.75zM320.7 365.6h0.75v0.75h-0.75zM311.2 347.4h0.75v0.75h-0.75zM315.7 359.0h0.75v0.75h-0.75zM310.7 347.4h0.75v0.75h-0.75zM310.1 368.8h0.75v0.75h-0.75zM317.4 351.5h0.75v0.75h-0.75zM319.2 362.4h0.75v0.75h-0.75zM318.4 383.5h0.75v0.75h-0.75zM318.8 379.8h0.75v0.75h-0.75zM318.3 358.9h0.75v0.75h-0.75zM318.8 348.6h0.75v0.75h-0.75zM321.6 377.1h0.75v0.75h-0.75zM325.6 377.8h0.75v0.75h-0.75zM308.5 359.5h0.75v0.75h-0.75zM316.9 350.6h0.75v0.75h-0.75zM321.0 352.6h0.75v0.75h-0.75zM315.1 380.4h0.75v0.75h-0.75zM311.6 354.8h0.75v0.75h-0.75zM320.3 365.0h0.75v0.75h-0.75zM313.5 369.5h0.75v0.75h-0.75zM321.3 372.9h0.75v0.75h-0.75zM315.5 385.3h0.75v0.75h-0.75zM322.6 364.6h0.75v0.75h-0.75zM310.5 359.4h0.75v0.75h-0.75zM302.0 367.3h0.75v0.75h-0.75zM326.7 349.3h0.75v0.75h-0.75zM319.2 383.4h0.75v0.75h-0.75zM323.2 367.3h0.75v0.75h-0.75zM324.0 373.2h0.75v0.75h-0.75zM319.5 381.1h0.75v0.75h-0.75zM314.6 377.4h0.75v0.75h-0.75zM309.2 360.2h0.75v0.75h-0.75zM312.5 350.1h0.75v0.75h-0.75zM312.7 353.8h0.75v0.75h-0.75zM324.2 386.3h0.75v0.75h-0.75zM320.7 380.1h0.75v0.75h-0.75zM310.4 348.6h0.75v0.75h-0.75zM320.8 377.8h0.75v0.75h-0.75zM314.0 358.4h0.75v0.75h-0.75zM320.2 367.8h0.75v0.75h-0.75zM320.4 368.3h0.75v0.75h-0.75zM307.9 379.4h0.75v0.75h-0.75zM327.1 366.6h0.75v0.75h-0.75zM323.7 353.0h0.75v0.75h-0.75zM318.7 381.9h0.75v0.75h-0.75zM309.6 380.1h0.75v0.75h-0.75zM310.2 382.3h0.75v0.75h-0.75zM314.1 381.8h0.75v0.75h-0.75zM320.5 361.8h0.75v0.75h-0.75zM316.5 380.1h0.75v0.75h-0.75zM323.6 380.0h0.75v0.75h-0.75zM309.5 379.1h0.75v0.75h-0.75zM321.8 349.6h0.75v0.75h-0.75zM310.5 356.1h0.75v0.75h-0.75zM311.4 349.5h0.75v0.75h-0.75zM321.2 350.6h0.75v0.75h-0.75zM314.7 352.1h0.75v0.75h-0.75zM306.9 368.5h0.75v0.75h-0.75zM313.7 374.6h0.75v0.75h-0.75zM306.3 366.9h0.75v0.75h-0.75zM323.2 350.4h0.75v0.75h-0.75zM311.7 356.8h0.75v0.75h-0.75zM319.0 356.8h0.75v0.75h-0.75zM322.9 385.0h0.75v0.75h-0.75zM320.0 380.0h0.75v0.75h-0.75zM321.7 380.8h0.75v0.75h-0.75zM315.3 373.8h0.75v0.75h-0.75zM310.9 355.6h0.75v0.75h-0.75zM323.2 354.2h0.75v0.75h-0.75zM312.2 349.4h0.75v0.75h-0.75zM316.1 377.9h0.75v0.75h-0.75zM321.4 361.9h0.75v0.75h-0.75zM313.5 382.4h0.75v0.75h-0.75zM309.2 374.4h0.75v0.75h-0.75zM327.5 386.5h0.75v0.75h-0.75zM323.1 379.7h0.75v0.75h-0.75zM317.8 362.0h0.75v0.75h-0.75zM318.7 368.8h0.75v0.75h-0.75zM321.3 370.9h0.75v0.75h-0.75zM320.4 359.2h0.75v0.75h-0.75zM320.6 359.3h0.75v0.75h-0.75zM322.3 383.5h0.75v0.75h-0.75zM312.9 351.2h0.75v0.75h-0.75zM321.5 348.2h0.75v0.75h-0.75zM310.9 352.2h0.75v0.75h-0.75zM311.6 371.8h0.75v0.75h-0.75zM319.2 380.4h0.75v0.75h-0.75zM322.3 349.9h0.75v0.75h-0.75z" fill="#000" opacity="0.3"/>
<polygon points="314.5,360 318,357.5 320.5,359 322.5,366 323.6,374 323.8,382 322.8,385.8 312,385.8 309.8,384 309.8,376 311,368 312.6,362" fill="#000" opacity="0.85" filter="url(#bl2)"/>
<rect x="350.80" y="330.70" width="67.30" height="61.70" fill="#fff" stroke="#8c8c8c" stroke-width="0.8"/>
<line x1="385.10" y1="330.70" x2="385.10" y2="392.40" stroke="#888" stroke-width="0.7" stroke-dasharray="0.7 0.7"/>
<line x1="350.80" y1="373.40" x2="418.10" y2="373.40" stroke="#888" stroke-width="0.7" stroke-dasharray="0.7 0.7"/>
<line x1="348.60" y1="378.50" x2="350.80" y2="378.50" stroke="#111" stroke-width="0.8"/>
<line x1="349.50" y1="374.20" x2="350.80" y2="374.20" stroke="#333" stroke-width="0.6"/>
<line x1="349.50" y1="371.68" x2="350.80" y2="371.68" stroke="#333" stroke-width="0.6"/>
<line x1="349.50" y1="369.89" x2="350.80" y2="369.89" stroke="#333" stroke-width="0.6"/>
<line x1="349.50" y1="368.50" x2="350.80" y2="368.50" stroke="#333" stroke-width="0.6"/>
<line x1="349.50" y1="367.37" x2="350.80" y2="367.37" stroke="#333" stroke-width="0.6"/>
<line x1="349.50" y1="366.42" x2="350.80" y2="366.42" stroke="#333" stroke-width="0.6"/>
<line x1="349.50" y1="365.59" x2="350.80" y2="365.59" stroke="#333" stroke-width="0.6"/>
<line x1="349.50" y1="364.85" x2="350.80" y2="364.85" stroke="#333" stroke-width="0.6"/>
<line x1="348.60" y1="364.20" x2="350.80" y2="364.20" stroke="#111" stroke-width="0.8"/>
<line x1="349.50" y1="359.90" x2="350.80" y2="359.90" stroke="#333" stroke-width="0.6"/>
<line x1="349.50" y1="357.38" x2="350.80" y2="357.38" stroke="#333" stroke-width="0.6"/>
<line x1="349.50" y1="355.59" x2="350.80" y2="355.59" stroke="#333" stroke-width="0.6"/>
<line x1="349.50" y1="354.20" x2="350.80" y2="354.20" stroke="#333" stroke-width="0.6"/>
<line x1="349.50" y1="353.07" x2="350.80" y2="353.07" stroke="#333" stroke-width="0.6"/>
<line x1="349.50" y1="352.12" x2="350.80" y2="352.12" stroke="#333" stroke-width="0.6"/>
<line x1="349.50" y1="351.29" x2="350.80" y2="351.29" stroke="#333" stroke-width="0.6"/>
<line x1="349.50" y1="350.55" x2="350.80" y2="350.55" stroke="#333" stroke-width="0.6"/>
<line x1="348.60" y1="349.90" x2="350.80" y2="349.90" stroke="#111" stroke-width="0.8"/>
<line x1="349.50" y1="345.60" x2="350.80" y2="345.60" stroke="#333" stroke-width="0.6"/>
<line x1="349.50" y1="343.08" x2="350.80" y2="343.08" stroke="#333" stroke-width="0.6"/>
<line x1="349.50" y1="341.29" x2="350.80" y2="341.29" stroke="#333" stroke-width="0.6"/>
<line x1="349.50" y1="339.90" x2="350.80" y2="339.90" stroke="#333" stroke-width="0.6"/>
<line x1="349.50" y1="338.77" x2="350.80" y2="338.77" stroke="#333" stroke-width="0.6"/>
<line x1="349.50" y1="337.82" x2="350.80" y2="337.82" stroke="#333" stroke-width="0.6"/>
<line x1="349.50" y1="336.99" x2="350.80" y2="336.99" stroke="#333" stroke-width="0.6"/>
<line x1="349.50" y1="336.25" x2="350.80" y2="336.25" stroke="#333" stroke-width="0.6"/>
<line x1="348.60" y1="335.60" x2="350.80" y2="335.60" stroke="#111" stroke-width="0.8"/>
<line x1="349.90" y1="378.40" x2="349.90" y2="389.90" stroke="#111" stroke-width="1.7"/>
<line x1="352.80" y1="392.40" x2="352.80" y2="395.00" stroke="#111" stroke-width="0.9"/>
<line x1="357.10" y1="392.40" x2="357.10" y2="394.00" stroke="#333" stroke-width="0.6"/>
<line x1="359.62" y1="392.40" x2="359.62" y2="394.00" stroke="#333" stroke-width="0.6"/>
<line x1="361.41" y1="392.40" x2="361.41" y2="394.00" stroke="#333" stroke-width="0.6"/>
<line x1="362.80" y1="392.40" x2="362.80" y2="394.00" stroke="#333" stroke-width="0.6"/>
<line x1="363.93" y1="392.40" x2="363.93" y2="394.00" stroke="#333" stroke-width="0.6"/>
<line x1="364.88" y1="392.40" x2="364.88" y2="394.00" stroke="#333" stroke-width="0.6"/>
<line x1="365.71" y1="392.40" x2="365.71" y2="394.00" stroke="#333" stroke-width="0.6"/>
<line x1="366.45" y1="392.40" x2="366.45" y2="394.00" stroke="#333" stroke-width="0.6"/>
<line x1="367.10" y1="392.40" x2="367.10" y2="395.00" stroke="#111" stroke-width="0.9"/>
<line x1="371.40" y1="392.40" x2="371.40" y2="394.00" stroke="#333" stroke-width="0.6"/>
<line x1="373.92" y1="392.40" x2="373.92" y2="394.00" stroke="#333" stroke-width="0.6"/>
<line x1="375.71" y1="392.40" x2="375.71" y2="394.00" stroke="#333" stroke-width="0.6"/>
<line x1="377.10" y1="392.40" x2="377.10" y2="394.00" stroke="#333" stroke-width="0.6"/>
<line x1="378.23" y1="392.40" x2="378.23" y2="394.00" stroke="#333" stroke-width="0.6"/>
<line x1="379.18" y1="392.40" x2="379.18" y2="394.00" stroke="#333" stroke-width="0.6"/>
<line x1="380.01" y1="392.40" x2="380.01" y2="394.00" stroke="#333" stroke-width="0.6"/>
<line x1="380.75" y1="392.40" x2="380.75" y2="394.00" stroke="#333" stroke-width="0.6"/>
<line x1="381.40" y1="392.40" x2="381.40" y2="395.00" stroke="#111" stroke-width="0.9"/>
<line x1="385.70" y1="392.40" x2="385.70" y2="394.00" stroke="#333" stroke-width="0.6"/>
<line x1="388.22" y1="392.40" x2="388.22" y2="394.00" stroke="#333" stroke-width="0.6"/>
<line x1="390.01" y1="392.40" x2="390.01" y2="394.00" stroke="#333" stroke-width="0.6"/>
<line x1="391.40" y1="392.40" x2="391.40" y2="394.00" stroke="#333" stroke-width="0.6"/>
<line x1="392.53" y1="392.40" x2="392.53" y2="394.00" stroke="#333" stroke-width="0.6"/>
<line x1="393.48" y1="392.40" x2="393.48" y2="394.00" stroke="#333" stroke-width="0.6"/>
<line x1="394.31" y1="392.40" x2="394.31" y2="394.00" stroke="#333" stroke-width="0.6"/>
<line x1="395.05" y1="392.40" x2="395.05" y2="394.00" stroke="#333" stroke-width="0.6"/>
<line x1="395.70" y1="392.40" x2="395.70" y2="395.00" stroke="#111" stroke-width="0.9"/>
<line x1="400.00" y1="392.40" x2="400.00" y2="394.00" stroke="#333" stroke-width="0.6"/>
<line x1="402.52" y1="392.40" x2="402.52" y2="394.00" stroke="#333" stroke-width="0.6"/>
<line x1="404.31" y1="392.40" x2="404.31" y2="394.00" stroke="#333" stroke-width="0.6"/>
<line x1="405.70" y1="392.40" x2="405.70" y2="394.00" stroke="#333" stroke-width="0.6"/>
<line x1="406.83" y1="392.40" x2="406.83" y2="394.00" stroke="#333" stroke-width="0.6"/>
<line x1="407.78" y1="392.40" x2="407.78" y2="394.00" stroke="#333" stroke-width="0.6"/>
<line x1="408.61" y1="392.40" x2="408.61" y2="394.00" stroke="#333" stroke-width="0.6"/>
<line x1="409.35" y1="392.40" x2="409.35" y2="394.00" stroke="#333" stroke-width="0.6"/>
<text x="352.50" y="338.50" font-size="7.4" text-anchor="start" fill="#111" stroke="#111" stroke-width="0.2">&lt;1%</text>
<text x="417.30" y="338.50" font-size="7.4" text-anchor="end" fill="#111" stroke="#111" stroke-width="0.2">&lt;1%</text>
<text x="352.50" y="391.40" font-size="7.4" text-anchor="start" fill="#111" stroke="#111" stroke-width="0.2">&lt;1%</text>
<text x="417.30" y="391.40" font-size="7.4" text-anchor="end" fill="#111" stroke="#111" stroke-width="0.2">&gt;99%</text>
<path d="M387.9 382.6h0.7v0.7h-0.7zM395.8 378.0h0.7v0.7h-0.7zM394.3 388.7h0.7v0.7h-0.7zM388.2 382.1h0.7v0.7h-0.7zM396.2 377.2h0.7v0.7h-0.7zM396.1 384.8h0.7v0.7h-0.7zM394.7 379.8h0.7v0.7h-0.7zM396.3 380.3h0.7v0.7h-0.7zM397.4 382.3h0.7v0.7h-0.7zM395.4 380.5h0.7v0.7h-0.7zM404.7 381.9h0.7v0.7h-0.7zM400.4 382.5h0.7v0.7h-0.7zM395.3 383.9h0.7v0.7h-0.7zM397.8 383.1h0.7v0.7h-0.7zM397.8 381.5h0.7v0.7h-0.7zM397.9 383.1h0.7v0.7h-0.7zM402.1 380.2h0.7v0.7h-0.7zM402.2 376.1h0.7v0.7h-0.7zM391.2 383.3h0.7v0.7h-0.7zM393.5 384.1h0.7v0.7h-0.7zM384.5 380.8h0.7v0.7h-0.7zM387.5 383.7h0.7v0.7h-0.7zM404.0 378.7h0.7v0.7h-0.7zM393.0 380.4h0.7v0.7h-0.7zM401.1 383.2h0.7v0.7h-0.7zM399.8 380.0h0.7v0.7h-0.7zM394.6 381.2h0.7v0.7h-0.7zM393.2 382.2h0.7v0.7h-0.7zM398.2 378.1h0.7v0.7h-0.7zM404.6 381.8h0.7v0.7h-0.7zM408.0 384.1h0.7v0.7h-0.7zM398.0 383.4h0.7v0.7h-0.7zM402.2 379.7h0.7v0.7h-0.7zM402.7 381.8h0.7v0.7h-0.7zM398.0 381.1h0.7v0.7h-0.7zM396.4 380.6h0.7v0.7h-0.7zM391.6 384.0h0.7v0.7h-0.7zM401.8 382.5h0.7v0.7h-0.7zM389.1 383.1h0.7v0.7h-0.7zM393.4 382.6h0.7v0.7h-0.7zM392.9 381.8h0.7v0.7h-0.7zM398.5 381.6h0.7v0.7h-0.7zM396.8 381.5h0.7v0.7h-0.7zM391.8 382.3h0.7v0.7h-0.7zM388.7 384.5h0.7v0.7h-0.7zM396.7 382.3h0.7v0.7h-0.7zM402.1 379.5h0.7v0.7h-0.7zM403.5 383.7h0.7v0.7h-0.7zM398.2 380.2h0.7v0.7h-0.7zM398.8 381.2h0.7v0.7h-0.7zM392.8 383.5h0.7v0.7h-0.7zM398.4 380.5h0.7v0.7h-0.7zM397.9 390.9h0.7v0.7h-0.7zM391.6 384.6h0.7v0.7h-0.7zM395.4 381.3h0.7v0.7h-0.7zM399.2 378.8h0.7v0.7h-0.7zM387.0 384.0h0.7v0.7h-0.7zM398.3 381.5h0.7v0.7h-0.7zM402.9 380.9h0.7v0.7h-0.7zM397.7 378.9h0.7v0.7h-0.7zM405.4 380.3h0.7v0.7h-0.7zM396.9 383.8h0.7v0.7h-0.7zM393.4 384.0h0.7v0.7h-0.7zM397.9 385.2h0.7v0.7h-0.7zM391.2 383.2h0.7v0.7h-0.7zM396.6 381.2h0.7v0.7h-0.7zM391.3 384.2h0.7v0.7h-0.7zM387.8 380.7h0.7v0.7h-0.7zM396.3 382.5h0.7v0.7h-0.7zM392.2 381.9h0.7v0.7h-0.7zM390.6 384.8h0.7v0.7h-0.7zM398.9 386.2h0.7v0.7h-0.7zM393.3 384.6h0.7v0.7h-0.7zM394.9 382.5h0.7v0.7h-0.7zM390.0 389.9h0.7v0.7h-0.7zM400.7 383.5h0.7v0.7h-0.7zM397.0 379.8h0.7v0.7h-0.7zM388.5 380.6h0.7v0.7h-0.7zM399.5 380.1h0.7v0.7h-0.7zM396.2 382.9h0.7v0.7h-0.7zM396.3 381.3h0.7v0.7h-0.7zM393.9 383.1h0.7v0.7h-0.7zM396.1 380.0h0.7v0.7h-0.7zM402.3 383.7h0.7v0.7h-0.7zM401.0 383.0h0.7v0.7h-0.7zM395.0 386.5h0.7v0.7h-0.7zM393.4 382.0h0.7v0.7h-0.7zM393.9 385.1h0.7v0.7h-0.7zM398.8 380.3h0.7v0.7h-0.7zM396.5 381.6h0.7v0.7h-0.7zM403.8 384.2h0.7v0.7h-0.7zM395.6 383.2h0.7v0.7h-0.7zM398.7 384.5h0.7v0.7h-0.7zM401.2 383.0h0.7v0.7h-0.7zM398.7 382.2h0.7v0.7h-0.7zM393.9 384.5h0.7v0.7h-0.7zM404.8 385.9h0.7v0.7h-0.7zM396.2 384.1h0.7v0.7h-0.7zM394.7 383.1h0.7v0.7h-0.7zM393.3 383.2h0.7v0.7h-0.7zM393.6 383.0h0.7v0.7h-0.7zM400.6 379.9h0.7v0.7h-0.7zM394.1 381.5h0.7v0.7h-0.7zM400.5 382.4h0.7v0.7h-0.7zM396.4 382.5h0.7v0.7h-0.7zM402.2 386.6h0.7v0.7h-0.7zM395.8 384.0h0.7v0.7h-0.7zM398.0 380.5h0.7v0.7h-0.7zM390.3 382.4h0.7v0.7h-0.7zM394.9 382.8h0.7v0.7h-0.7zM394.4 380.9h0.7v0.7h-0.7zM404.9 376.6h0.7v0.7h-0.7zM389.7 386.8h0.7v0.7h-0.7zM399.7 381.6h0.7v0.7h-0.7zM394.2 387.7h0.7v0.7h-0.7zM399.0 381.0h0.7v0.7h-0.7zM399.8 386.5h0.7v0.7h-0.7zM399.7 382.8h0.7v0.7h-0.7zM398.9 383.8h0.7v0.7h-0.7zM393.8 383.3h0.7v0.7h-0.7zM402.1 388.1h0.7v0.7h-0.7zM390.7 383.7h0.7v0.7h-0.7zM392.7 390.4h0.7v0.7h-0.7zM391.6 381.5h0.7v0.7h-0.7zM402.8 384.4h0.7v0.7h-0.7zM390.8 387.6h0.7v0.7h-0.7zM401.7 384.0h0.7v0.7h-0.7zM397.1 379.2h0.7v0.7h-0.7zM411.8 378.6h0.7v0.7h-0.7zM395.9 381.7h0.7v0.7h-0.7zM402.2 380.6h0.7v0.7h-0.7zM393.7 384.4h0.7v0.7h-0.7zM400.2 382.2h0.7v0.7h-0.7zM398.2 383.9h0.7v0.7h-0.7zM397.1 381.2h0.7v0.7h-0.7zM396.9 385.5h0.7v0.7h-0.7zM403.4 384.5h0.7v0.7h-0.7zM402.6 381.7h0.7v0.7h-0.7zM397.7 383.0h0.7v0.7h-0.7zM392.6 380.7h0.7v0.7h-0.7zM391.8 383.3h0.7v0.7h-0.7zM395.1 383.5h0.7v0.7h-0.7zM402.8 382.1h0.7v0.7h-0.7zM394.8 381.1h0.7v0.7h-0.7zM390.2 383.2h0.7v0.7h-0.7zM393.7 383.9h0.7v0.7h-0.7zM391.8 382.4h0.7v0.7h-0.7zM388.0 385.2h0.7v0.7h-0.7zM388.6 381.2h0.7v0.7h-0.7zM397.3 379.3h0.7v0.7h-0.7zM401.1 386.2h0.7v0.7h-0.7zM386.6 383.7h0.7v0.7h-0.7zM403.7 383.1h0.7v0.7h-0.7zM387.4 381.5h0.7v0.7h-0.7zM394.7 378.6h0.7v0.7h-0.7zM384.5 382.6h0.7v0.7h-0.7zM395.4 381.3h0.7v0.7h-0.7zM400.8 381.6h0.7v0.7h-0.7zM397.8 384.3h0.7v0.7h-0.7zM398.8 379.2h0.7v0.7h-0.7zM392.6 382.5h0.7v0.7h-0.7zM386.4 383.0h0.7v0.7h-0.7zM393.2 380.7h0.7v0.7h-0.7zM396.9 380.6h0.7v0.7h-0.7zM404.3 383.7h0.7v0.7h-0.7zM397.5 382.6h0.7v0.7h-0.7zM398.7 379.6h0.7v0.7h-0.7zM401.3 382.4h0.7v0.7h-0.7zM400.5 384.3h0.7v0.7h-0.7zM387.3 385.9h0.7v0.7h-0.7zM403.5 381.9h0.7v0.7h-0.7zM395.4 381.4h0.7v0.7h-0.7zM401.2 377.0h0.7v0.7h-0.7zM389.5 381.2h0.7v0.7h-0.7zM408.2 374.1h0.7v0.7h-0.7zM393.3 384.0h0.7v0.7h-0.7zM400.2 383.7h0.7v0.7h-0.7zM393.8 377.0h0.7v0.7h-0.7zM389.9 381.9h0.7v0.7h-0.7zM395.7 382.0h0.7v0.7h-0.7zM397.3 382.5h0.7v0.7h-0.7zM400.2 378.0h0.7v0.7h-0.7zM401.0 386.2h0.7v0.7h-0.7zM399.7 384.1h0.7v0.7h-0.7zM381.5 385.8h0.7v0.7h-0.7zM395.5 382.6h0.7v0.7h-0.7zM407.3 380.2h0.7v0.7h-0.7zM411.4 377.6h0.7v0.7h-0.7zM399.3 382.5h0.7v0.7h-0.7zM399.5 384.6h0.7v0.7h-0.7zM397.3 383.5h0.7v0.7h-0.7zM386.4 380.7h0.7v0.7h-0.7zM393.0 383.8h0.7v0.7h-0.7zM401.7 379.0h0.7v0.7h-0.7zM394.3 382.5h0.7v0.7h-0.7zM396.0 382.1h0.7v0.7h-0.7zM389.2 380.3h0.7v0.7h-0.7zM399.8 378.7h0.7v0.7h-0.7zM405.5 381.6h0.7v0.7h-0.7zM396.0 383.5h0.7v0.7h-0.7zM391.8 381.0h0.7v0.7h-0.7zM396.6 378.7h0.7v0.7h-0.7zM403.6 381.7h0.7v0.7h-0.7zM399.4 384.0h0.7v0.7h-0.7zM400.4 382.7h0.7v0.7h-0.7zM390.3 384.3h0.7v0.7h-0.7zM399.7 381.9h0.7v0.7h-0.7zM393.5 383.1h0.7v0.7h-0.7zM395.2 379.6h0.7v0.7h-0.7zM392.2 380.0h0.7v0.7h-0.7zM389.0 382.4h0.7v0.7h-0.7zM391.8 382.9h0.7v0.7h-0.7zM391.6 384.9h0.7v0.7h-0.7zM393.3 383.4h0.7v0.7h-0.7zM393.4 383.5h0.7v0.7h-0.7zM389.9 385.8h0.7v0.7h-0.7zM401.4 383.5h0.7v0.7h-0.7zM397.4 382.2h0.7v0.7h-0.7zM394.3 379.0h0.7v0.7h-0.7zM399.4 382.6h0.7v0.7h-0.7zM405.5 381.0h0.7v0.7h-0.7zM389.5 384.1h0.7v0.7h-0.7zM406.4 383.8h0.7v0.7h-0.7zM390.2 382.5h0.7v0.7h-0.7zM400.9 380.8h0.7v0.7h-0.7zM397.7 381.7h0.7v0.7h-0.7zM400.5 380.5h0.7v0.7h-0.7zM406.2 381.5h0.7v0.7h-0.7zM390.2 384.4h0.7v0.7h-0.7zM393.8 382.9h0.7v0.7h-0.7zM403.2 380.7h0.7v0.7h-0.7zM396.9 382.4h0.7v0.7h-0.7zM397.4 379.2h0.7v0.7h-0.7zM393.9 382.1h0.7v0.7h-0.7zM394.3 380.3h0.7v0.7h-0.7zM397.0 384.2h0.7v0.7h-0.7zM402.5 382.9h0.7v0.7h-0.7zM408.1 379.8h0.7v0.7h-0.7zM394.6 381.1h0.7v0.7h-0.7zM395.0 386.3h0.7v0.7h-0.7zM396.8 386.4h0.7v0.7h-0.7zM399.5 383.7h0.7v0.7h-0.7zM394.7 383.3h0.7v0.7h-0.7zM395.7 385.4h0.7v0.7h-0.7zM392.2 383.8h0.7v0.7h-0.7zM396.7 382.6h0.7v0.7h-0.7zM387.5 388.3h0.7v0.7h-0.7zM390.8 387.5h0.7v0.7h-0.7zM392.3 383.9h0.7v0.7h-0.7zM397.6 383.3h0.7v0.7h-0.7zM401.0 383.9h0.7v0.7h-0.7zM408.4 379.3h0.7v0.7h-0.7zM404.0 384.7h0.7v0.7h-0.7zM385.5 382.9h0.7v0.7h-0.7zM387.9 383.5h0.7v0.7h-0.7zM392.4 385.0h0.7v0.7h-0.7zM390.7 386.8h0.7v0.7h-0.7zM401.0 385.4h0.7v0.7h-0.7zM384.3 381.9h0.7v0.7h-0.7zM393.9 382.0h0.7v0.7h-0.7zM400.6 377.8h0.7v0.7h-0.7zM399.9 382.3h0.7v0.7h-0.7zM400.0 380.5h0.7v0.7h-0.7zM395.9 382.5h0.7v0.7h-0.7zM402.2 380.2h0.7v0.7h-0.7zM386.4 383.8h0.7v0.7h-0.7zM409.1 383.0h0.7v0.7h-0.7zM402.7 381.9h0.7v0.7h-0.7zM400.4 381.9h0.7v0.7h-0.7zM390.9 383.4h0.7v0.7h-0.7zM391.7 384.6h0.7v0.7h-0.7zM384.7 382.7h0.7v0.7h-0.7zM401.2 382.1h0.7v0.7h-0.7zM395.3 387.3h0.7v0.7h-0.7zM399.9 382.8h0.7v0.7h-0.7zM405.9 380.7h0.7v0.7h-0.7zM397.9 377.4h0.7v0.7h-0.7zM395.0 383.5h0.7v0.7h-0.7zM391.5 385.4h0.7v0.7h-0.7zM402.8 382.1h0.7v0.7h-0.7zM393.1 380.6h0.7v0.7h-0.7zM404.8 387.1h0.7v0.7h-0.7zM398.8 384.5h0.7v0.7h-0.7zM405.3 381.3h0.7v0.7h-0.7zM403.6 379.6h0.7v0.7h-0.7zM394.1 387.2h0.7v0.7h-0.7zM392.8 385.2h0.7v0.7h-0.7zM386.0 380.8h0.7v0.7h-0.7zM402.2 380.8h0.7v0.7h-0.7zM390.4 381.3h0.7v0.7h-0.7zM390.1 384.0h0.7v0.7h-0.7zM394.7 380.2h0.7v0.7h-0.7zM385.1 379.9h0.7v0.7h-0.7zM397.1 380.5h0.7v0.7h-0.7zM398.6 379.6h0.7v0.7h-0.7zM397.7 379.6h0.7v0.7h-0.7zM392.5 386.7h0.7v0.7h-0.7zM400.3 381.9h0.7v0.7h-0.7zM398.7 380.4h0.7v0.7h-0.7zM389.2 386.7h0.7v0.7h-0.7zM406.2 384.0h0.7v0.7h-0.7zM403.9 379.2h0.7v0.7h-0.7zM400.6 382.7h0.7v0.7h-0.7zM399.7 383.0h0.7v0.7h-0.7zM393.7 384.0h0.7v0.7h-0.7zM391.7 382.2h0.7v0.7h-0.7zM397.4 378.9h0.7v0.7h-0.7zM392.2 382.8h0.7v0.7h-0.7zM402.5 386.2h0.7v0.7h-0.7zM401.3 381.8h0.7v0.7h-0.7zM393.0 382.8h0.7v0.7h-0.7zM397.9 383.9h0.7v0.7h-0.7zM391.7 380.2h0.7v0.7h-0.7zM393.3 382.8h0.7v0.7h-0.7zM403.3 381.4h0.7v0.7h-0.7zM397.7 383.5h0.7v0.7h-0.7zM395.9 382.9h0.7v0.7h-0.7zM397.3 390.9h0.7v0.7h-0.7zM395.5 382.9h0.7v0.7h-0.7zM394.9 385.4h0.7v0.7h-0.7zM407.8 387.6h0.7v0.7h-0.7zM400.8 380.2h0.7v0.7h-0.7zM393.5 382.4h0.7v0.7h-0.7zM394.9 381.4h0.7v0.7h-0.7zM409.7 377.5h0.7v0.7h-0.7zM399.9 384.3h0.7v0.7h-0.7zM398.5 383.3h0.7v0.7h-0.7zM401.7 382.2h0.7v0.7h-0.7zM396.8 381.2h0.7v0.7h-0.7zM394.4 379.6h0.7v0.7h-0.7zM385.9 384.2h0.7v0.7h-0.7zM403.6 379.9h0.7v0.7h-0.7zM385.4 384.6h0.7v0.7h-0.7zM397.8 381.1h0.7v0.7h-0.7zM391.7 381.6h0.7v0.7h-0.7zM397.8 383.3h0.7v0.7h-0.7zM393.3 382.8h0.7v0.7h-0.7zM394.5 382.6h0.7v0.7h-0.7zM398.7 383.7h0.7v0.7h-0.7zM399.6 384.4h0.7v0.7h-0.7zM397.7 381.5h0.7v0.7h-0.7zM402.5 383.5h0.7v0.7h-0.7zM400.0 381.3h0.7v0.7h-0.7zM408.1 377.4h0.7v0.7h-0.7zM398.6 382.4h0.7v0.7h-0.7zM390.1 383.7h0.7v0.7h-0.7zM399.1 380.7h0.7v0.7h-0.7zM398.6 382.7h0.7v0.7h-0.7zM399.4 380.4h0.7v0.7h-0.7zM398.5 379.8h0.7v0.7h-0.7zM397.2 378.0h0.7v0.7h-0.7zM403.7 376.8h0.7v0.7h-0.7zM382.5 385.7h0.7v0.7h-0.7zM392.1 383.9h0.7v0.7h-0.7zM396.1 379.9h0.7v0.7h-0.7zM396.0 386.3h0.7v0.7h-0.7zM393.4 385.2h0.7v0.7h-0.7zM391.8 386.3h0.7v0.7h-0.7zM393.2 384.1h0.7v0.7h-0.7zM396.0 379.1h0.7v0.7h-0.7zM397.5 383.2h0.7v0.7h-0.7zM395.4 383.4h0.7v0.7h-0.7zM399.3 382.5h0.7v0.7h-0.7zM401.9 380.6h0.7v0.7h-0.7zM395.1 381.9h0.7v0.7h-0.7zM392.7 380.6h0.7v0.7h-0.7zM404.5 380.1h0.7v0.7h-0.7zM394.5 385.9h0.7v0.7h-0.7zM395.4 382.7h0.7v0.7h-0.7zM397.6 380.7h0.7v0.7h-0.7zM398.4 380.8h0.7v0.7h-0.7zM399.3 382.0h0.7v0.7h-0.7zM400.4 385.0h0.7v0.7h-0.7zM407.6 376.9h0.7v0.7h-0.7zM398.9 382.2h0.7v0.7h-0.7zM400.9 382.6h0.7v0.7h-0.7zM397.0 381.3h0.7v0.7h-0.7zM394.9 384.3h0.7v0.7h-0.7zM395.3 380.5h0.7v0.7h-0.7zM398.9 381.4h0.7v0.7h-0.7zM394.3 379.1h0.7v0.7h-0.7zM395.7 383.3h0.7v0.7h-0.7zM388.5 385.0h0.7v0.7h-0.7zM401.4 382.0h0.7v0.7h-0.7zM400.2 383.3h0.7v0.7h-0.7zM401.3 383.1h0.7v0.7h-0.7zM401.3 380.9h0.7v0.7h-0.7zM396.6 383.1h0.7v0.7h-0.7zM395.9 383.8h0.7v0.7h-0.7zM402.5 382.5h0.7v0.7h-0.7zM391.4 385.7h0.7v0.7h-0.7zM397.6 380.0h0.7v0.7h-0.7zM397.8 383.1h0.7v0.7h-0.7zM401.0 383.1h0.7v0.7h-0.7zM398.9 384.6h0.7v0.7h-0.7zM396.5 380.7h0.7v0.7h-0.7zM392.6 382.5h0.7v0.7h-0.7zM391.5 384.5h0.7v0.7h-0.7zM399.1 378.2h0.7v0.7h-0.7zM394.6 383.2h0.7v0.7h-0.7zM389.5 384.8h0.7v0.7h-0.7zM397.1 381.1h0.7v0.7h-0.7zM394.2 384.7h0.7v0.7h-0.7zM404.5 382.5h0.7v0.7h-0.7zM408.7 385.0h0.7v0.7h-0.7zM406.5 378.5h0.7v0.7h-0.7zM392.4 385.9h0.7v0.7h-0.7zM389.8 382.0h0.7v0.7h-0.7zM400.0 382.0h0.7v0.7h-0.7zM393.4 382.1h0.7v0.7h-0.7zM392.2 383.6h0.7v0.7h-0.7zM394.8 383.1h0.7v0.7h-0.7zM404.7 382.4h0.7v0.7h-0.7zM389.2 383.6h0.7v0.7h-0.7zM398.7 380.1h0.7v0.7h-0.7zM402.2 381.0h0.7v0.7h-0.7zM399.3 382.1h0.7v0.7h-0.7zM393.4 385.1h0.7v0.7h-0.7zM392.4 387.1h0.7v0.7h-0.7zM395.3 378.6h0.7v0.7h-0.7zM400.4 382.6h0.7v0.7h-0.7zM402.7 380.7h0.7v0.7h-0.7zM400.0 381.0h0.7v0.7h-0.7zM400.5 375.7h0.7v0.7h-0.7zM390.3 380.8h0.7v0.7h-0.7zM393.9 382.3h0.7v0.7h-0.7zM409.2 382.4h0.7v0.7h-0.7zM397.5 383.0h0.7v0.7h-0.7zM391.5 384.4h0.7v0.7h-0.7zM401.9 382.6h0.7v0.7h-0.7zM399.8 380.0h0.7v0.7h-0.7zM398.7 378.3h0.7v0.7h-0.7zM398.4 385.4h0.7v0.7h-0.7zM398.3 382.2h0.7v0.7h-0.7zM398.1 381.5h0.7v0.7h-0.7zM402.3 381.8h0.7v0.7h-0.7zM398.2 385.0h0.7v0.7h-0.7zM397.5 384.2h0.7v0.7h-0.7zM394.4 384.2h0.7v0.7h-0.7zM394.4 379.8h0.7v0.7h-0.7zM397.2 377.3h0.7v0.7h-0.7zM402.4 383.4h0.7v0.7h-0.7zM392.0 384.8h0.7v0.7h-0.7zM395.3 383.4h0.7v0.7h-0.7zM398.4 383.0h0.7v0.7h-0.7zM401.5 381.4h0.7v0.7h-0.7zM391.6 385.3h0.7v0.7h-0.7zM388.2 382.9h0.7v0.7h-0.7zM391.4 384.6h0.7v0.7h-0.7zM387.3 381.1h0.7v0.7h-0.7zM395.0 384.6h0.7v0.7h-0.7zM390.8 387.0h0.7v0.7h-0.7zM393.6 382.1h0.7v0.7h-0.7zM405.1 385.7h0.7v0.7h-0.7zM395.2 383.2h0.7v0.7h-0.7zM394.6 382.9h0.7v0.7h-0.7zM398.3 390.2h0.7v0.7h-0.7zM395.4 382.0h0.7v0.7h-0.7zM389.8 379.5h0.7v0.7h-0.7zM406.3 381.4h0.7v0.7h-0.7zM398.1 382.8h0.7v0.7h-0.7zM394.0 376.5h0.7v0.7h-0.7zM391.3 388.5h0.7v0.7h-0.7zM396.4 385.6h0.7v0.7h-0.7zM392.4 379.2h0.7v0.7h-0.7zM397.2 382.6h0.7v0.7h-0.7zM404.0 381.5h0.7v0.7h-0.7zM393.1 381.7h0.7v0.7h-0.7zM396.0 378.0h0.7v0.7h-0.7zM392.6 384.0h0.7v0.7h-0.7zM402.1 383.4h0.7v0.7h-0.7zM397.0 381.2h0.7v0.7h-0.7zM400.2 379.9h0.7v0.7h-0.7zM402.4 382.4h0.7v0.7h-0.7zM390.2 384.8h0.7v0.7h-0.7zM389.5 386.6h0.7v0.7h-0.7zM397.7 384.0h0.7v0.7h-0.7zM398.5 382.2h0.7v0.7h-0.7zM404.2 380.1h0.7v0.7h-0.7zM395.8 384.4h0.7v0.7h-0.7zM381.9 387.4h0.7v0.7h-0.7zM395.7 381.5h0.7v0.7h-0.7zM404.1 380.6h0.7v0.7h-0.7zM397.5 379.9h0.7v0.7h-0.7zM398.2 385.3h0.7v0.7h-0.7zM398.6 382.0h0.7v0.7h-0.7zM393.3 387.0h0.7v0.7h-0.7zM399.0 385.6h0.7v0.7h-0.7zM405.2 380.4h0.7v0.7h-0.7zM395.2 383.3h0.7v0.7h-0.7zM385.9 384.2h0.7v0.7h-0.7zM395.7 380.4h0.7v0.7h-0.7zM396.7 379.7h0.7v0.7h-0.7zM393.7 381.6h0.7v0.7h-0.7zM394.0 382.9h0.7v0.7h-0.7zM391.7 388.3h0.7v0.7h-0.7zM405.1 382.7h0.7v0.7h-0.7zM397.8 385.1h0.7v0.7h-0.7zM391.2 382.6h0.7v0.7h-0.7zM393.8 387.9h0.7v0.7h-0.7zM390.0 378.8h0.7v0.7h-0.7zM399.6 381.4h0.7v0.7h-0.7zM404.0 382.7h0.7v0.7h-0.7zM404.1 380.0h0.7v0.7h-0.7zM391.3 383.3h0.7v0.7h-0.7zM407.5 378.4h0.7v0.7h-0.7zM393.8 383.3h0.7v0.7h-0.7zM398.4 381.6h0.7v0.7h-0.7zM394.4 380.4h0.7v0.7h-0.7zM401.3 382.7h0.7v0.7h-0.7zM400.7 385.2h0.7v0.7h-0.7zM388.7 381.2h0.7v0.7h-0.7zM397.5 381.7h0.7v0.7h-0.7zM397.0 382.6h0.7v0.7h-0.7zM388.5 383.4h0.7v0.7h-0.7zM399.4 381.5h0.7v0.7h-0.7zM398.2 381.0h0.7v0.7h-0.7zM396.7 382.5h0.7v0.7h-0.7zM393.8 380.7h0.7v0.7h-0.7zM390.4 385.1h0.7v0.7h-0.7zM394.4 383.5h0.7v0.7h-0.7zM394.1 383.0h0.7v0.7h-0.7zM403.1 381.2h0.7v0.7h-0.7zM395.1 384.7h0.7v0.7h-0.7zM402.6 381.5h0.7v0.7h-0.7zM403.9 379.4h0.7v0.7h-0.7zM397.8 384.1h0.7v0.7h-0.7zM392.1 381.1h0.7v0.7h-0.7zM388.8 379.9h0.7v0.7h-0.7zM397.1 385.1h0.7v0.7h-0.7zM398.6 380.2h0.7v0.7h-0.7zM393.0 385.9h0.7v0.7h-0.7zM377.7 386.3h0.7v0.7h-0.7zM411.5 381.5h0.7v0.7h-0.7zM402.7 380.7h0.7v0.7h-0.7zM403.6 381.6h0.7v0.7h-0.7zM388.9 381.9h0.7v0.7h-0.7zM392.1 380.1h0.7v0.7h-0.7zM393.1 382.6h0.7v0.7h-0.7zM398.5 384.5h0.7v0.7h-0.7zM389.3 378.9h0.7v0.7h-0.7zM404.0 383.1h0.7v0.7h-0.7zM399.6 383.8h0.7v0.7h-0.7zM394.7 378.1h0.7v0.7h-0.7zM401.3 383.8h0.7v0.7h-0.7zM392.2 381.6h0.7v0.7h-0.7zM393.9 384.8h0.7v0.7h-0.7zM386.8 382.4h0.7v0.7h-0.7zM404.1 383.7h0.7v0.7h-0.7zM396.3 385.2h0.7v0.7h-0.7zM404.6 380.0h0.7v0.7h-0.7zM389.1 384.1h0.7v0.7h-0.7zM399.9 382.0h0.7v0.7h-0.7zM395.9 382.6h0.7v0.7h-0.7zM401.1 382.1h0.7v0.7h-0.7zM398.2 377.7h0.7v0.7h-0.7zM396.2 381.5h0.7v0.7h-0.7zM393.1 379.7h0.7v0.7h-0.7zM394.4 382.8h0.7v0.7h-0.7zM393.9 379.9h0.7v0.7h-0.7zM395.6 386.7h0.7v0.7h-0.7zM397.1 378.2h0.7v0.7h-0.7zM399.5 381.7h0.7v0.7h-0.7zM391.7 383.0h0.7v0.7h-0.7zM399.3 383.5h0.7v0.7h-0.7zM395.8 380.3h0.7v0.7h-0.7zM391.0 381.1h0.7v0.7h-0.7zM395.6 380.7h0.7v0.7h-0.7zM393.6 381.0h0.7v0.7h-0.7zM393.5 379.4h0.7v0.7h-0.7zM389.4 381.0h0.7v0.7h-0.7zM396.4 384.7h0.7v0.7h-0.7zM397.5 377.6h0.7v0.7h-0.7zM395.6 378.2h0.7v0.7h-0.7zM387.2 384.5h0.7v0.7h-0.7zM396.4 380.2h0.7v0.7h-0.7zM393.9 384.2h0.7v0.7h-0.7zM391.5 384.4h0.7v0.7h-0.7zM392.5 379.3h0.7v0.7h-0.7zM397.2 377.6h0.7v0.7h-0.7zM401.3 381.8h0.7v0.7h-0.7zM397.7 381.6h0.7v0.7h-0.7zM396.7 378.1h0.7v0.7h-0.7zM398.7 385.6h0.7v0.7h-0.7zM401.1 383.8h0.7v0.7h-0.7zM384.3 385.8h0.7v0.7h-0.7zM400.4 382.6h0.7v0.7h-0.7zM404.0 381.7h0.7v0.7h-0.7zM397.9 379.1h0.7v0.7h-0.7zM390.2 384.8h0.7v0.7h-0.7zM393.7 385.2h0.7v0.7h-0.7zM391.9 385.3h0.7v0.7h-0.7zM394.6 375.8h0.7v0.7h-0.7zM398.1 383.5h0.7v0.7h-0.7zM394.9 386.3h0.7v0.7h-0.7zM400.3 382.0h0.7v0.7h-0.7zM396.8 380.4h0.7v0.7h-0.7zM402.7 383.2h0.7v0.7h-0.7zM380.4 389.2h0.7v0.7h-0.7zM397.8 381.4h0.7v0.7h-0.7zM402.4 384.7h0.7v0.7h-0.7zM401.4 382.5h0.7v0.7h-0.7zM400.8 377.3h0.7v0.7h-0.7zM389.9 383.4h0.7v0.7h-0.7zM391.4 380.8h0.7v0.7h-0.7zM399.5 385.6h0.7v0.7h-0.7zM400.7 379.6h0.7v0.7h-0.7zM399.4 379.8h0.7v0.7h-0.7zM393.7 383.9h0.7v0.7h-0.7zM391.0 378.3h0.7v0.7h-0.7zM398.2 379.5h0.7v0.7h-0.7zM397.1 380.9h0.7v0.7h-0.7zM397.7 380.7h0.7v0.7h-0.7zM402.1 380.1h0.7v0.7h-0.7zM397.0 382.0h0.7v0.7h-0.7zM395.2 387.1h0.7v0.7h-0.7zM391.1 382.1h0.7v0.7h-0.7zM395.9 382.0h0.7v0.7h-0.7zM402.1 385.1h0.7v0.7h-0.7zM405.6 382.4h0.7v0.7h-0.7zM392.3 384.6h0.7v0.7h-0.7zM398.8 384.1h0.7v0.7h-0.7zM394.4 382.2h0.7v0.7h-0.7zM406.1 386.4h0.7v0.7h-0.7zM394.5 381.7h0.7v0.7h-0.7zM398.7 383.3h0.7v0.7h-0.7zM395.9 380.4h0.7v0.7h-0.7zM403.1 383.1h0.7v0.7h-0.7zM400.4 384.0h0.7v0.7h-0.7zM389.1 384.6h0.7v0.7h-0.7zM394.0 385.1h0.7v0.7h-0.7zM392.1 385.4h0.7v0.7h-0.7zM387.4 384.4h0.7v0.7h-0.7zM404.4 379.2h0.7v0.7h-0.7zM391.7 382.4h0.7v0.7h-0.7zM392.3 380.2h0.7v0.7h-0.7zM401.1 384.3h0.7v0.7h-0.7zM394.4 384.6h0.7v0.7h-0.7zM401.2 379.6h0.7v0.7h-0.7zM397.5 384.5h0.7v0.7h-0.7zM398.0 378.5h0.7v0.7h-0.7zM393.8 382.0h0.7v0.7h-0.7zM386.4 383.7h0.7v0.7h-0.7zM393.7 380.5h0.7v0.7h-0.7zM399.3 382.3h0.7v0.7h-0.7zM389.4 382.1h0.7v0.7h-0.7zM392.1 385.8h0.7v0.7h-0.7zM392.5 384.2h0.7v0.7h-0.7zM388.5 385.6h0.7v0.7h-0.7zM386.5 387.3h0.7v0.7h-0.7zM394.6 382.7h0.7v0.7h-0.7zM405.9 383.2h0.7v0.7h-0.7zM401.4 383.3h0.7v0.7h-0.7zM389.9 380.9h0.7v0.7h-0.7zM403.6 379.7h0.7v0.7h-0.7zM391.8 384.7h0.7v0.7h-0.7zM405.9 383.5h0.7v0.7h-0.7zM390.9 380.1h0.7v0.7h-0.7zM396.8 383.7h0.7v0.7h-0.7zM401.5 386.2h0.7v0.7h-0.7zM399.3 383.6h0.7v0.7h-0.7zM394.1 382.8h0.7v0.7h-0.7zM406.2 377.2h0.7v0.7h-0.7zM397.3 384.2h0.7v0.7h-0.7zM394.3 383.1h0.7v0.7h-0.7zM391.6 383.4h0.7v0.7h-0.7zM406.2 381.0h0.7v0.7h-0.7zM400.5 381.1h0.7v0.7h-0.7zM398.2 381.9h0.7v0.7h-0.7zM397.5 382.5h0.7v0.7h-0.7zM394.2 385.0h0.7v0.7h-0.7zM397.0 382.8h0.7v0.7h-0.7zM402.9 378.6h0.7v0.7h-0.7zM398.6 379.5h0.7v0.7h-0.7zM398.1 381.0h0.7v0.7h-0.7zM393.2 385.4h0.7v0.7h-0.7zM384.6 387.9h0.7v0.7h-0.7zM390.5 382.3h0.7v0.7h-0.7zM396.3 383.8h0.7v0.7h-0.7zM393.9 382.7h0.7v0.7h-0.7zM394.7 384.2h0.7v0.7h-0.7zM396.8 380.8h0.7v0.7h-0.7zM394.7 379.7h0.7v0.7h-0.7zM393.6 385.0h0.7v0.7h-0.7zM395.1 382.6h0.7v0.7h-0.7zM388.9 382.4h0.7v0.7h-0.7zM394.3 386.8h0.7v0.7h-0.7zM398.0 382.6h0.7v0.7h-0.7zM396.2 384.2h0.7v0.7h-0.7zM392.3 382.6h0.7v0.7h-0.7zM387.6 386.8h0.7v0.7h-0.7zM404.1 384.0h0.7v0.7h-0.7zM393.0 381.7h0.7v0.7h-0.7zM398.5 383.5h0.7v0.7h-0.7zM393.7 387.3h0.7v0.7h-0.7zM387.7 382.8h0.7v0.7h-0.7zM396.2 379.7h0.7v0.7h-0.7zM392.8 384.1h0.7v0.7h-0.7zM399.3 383.8h0.7v0.7h-0.7zM394.6 381.4h0.7v0.7h-0.7zM383.3 380.7h0.7v0.7h-0.7zM379.6 381.7h0.7v0.7h-0.7zM412.9 380.8h0.7v0.7h-0.7zM407.6 379.1h0.7v0.7h-0.7zM383.1 380.4h0.7v0.7h-0.7zM396.2 382.1h0.7v0.7h-0.7zM384.4 373.2h0.7v0.7h-0.7zM393.0 376.1h0.7v0.7h-0.7zM382.7 382.3h0.7v0.7h-0.7zM391.4 377.1h0.7v0.7h-0.7zM393.4 379.6h0.7v0.7h-0.7zM400.3 381.0h0.7v0.7h-0.7zM396.9 372.2h0.7v0.7h-0.7zM395.9 373.1h0.7v0.7h-0.7zM395.5 378.9h0.7v0.7h-0.7zM397.9 374.5h0.7v0.7h-0.7zM397.1 380.3h0.7v0.7h-0.7zM393.8 379.6h0.7v0.7h-0.7zM401.2 381.8h0.7v0.7h-0.7zM387.2 379.1h0.7v0.7h-0.7zM397.3 373.5h0.7v0.7h-0.7zM390.8 382.5h0.7v0.7h-0.7zM407.9 380.4h0.7v0.7h-0.7zM406.8 382.4h0.7v0.7h-0.7zM397.5 380.4h0.7v0.7h-0.7zM390.1 381.8h0.7v0.7h-0.7zM394.5 380.6h0.7v0.7h-0.7zM404.2 376.1h0.7v0.7h-0.7zM403.2 380.3h0.7v0.7h-0.7zM396.9 372.3h0.7v0.7h-0.7zM401.2 379.1h0.7v0.7h-0.7zM389.6 381.0h0.7v0.7h-0.7zM398.6 378.2h0.7v0.7h-0.7zM405.5 378.0h0.7v0.7h-0.7zM398.6 374.7h0.7v0.7h-0.7zM403.4 376.3h0.7v0.7h-0.7zM392.2 382.2h0.7v0.7h-0.7zM402.6 380.7h0.7v0.7h-0.7zM383.6 381.9h0.7v0.7h-0.7zM399.4 381.7h0.7v0.7h-0.7z" fill="#000" opacity="0.5"/>
<ellipse cx="396.6" cy="382.5" rx="7.04" ry="2.66" fill="#000" transform="rotate(-8 396.6 382.5)" filter="url(#bl)"/>
<rect x="424.30" y="330.70" width="66.80" height="61.70" fill="#fff" stroke="#8c8c8c" stroke-width="0.8"/>
<line x1="458.50" y1="330.70" x2="458.50" y2="392.40" stroke="#888" stroke-width="0.7" stroke-dasharray="0.7 0.7"/>
<line x1="424.30" y1="372.90" x2="491.10" y2="372.90" stroke="#888" stroke-width="0.7" stroke-dasharray="0.7 0.7"/>
<line x1="422.10" y1="378.50" x2="424.30" y2="378.50" stroke="#111" stroke-width="0.8"/>
<line x1="423.00" y1="374.20" x2="424.30" y2="374.20" stroke="#333" stroke-width="0.6"/>
<line x1="423.00" y1="371.68" x2="424.30" y2="371.68" stroke="#333" stroke-width="0.6"/>
<line x1="423.00" y1="369.89" x2="424.30" y2="369.89" stroke="#333" stroke-width="0.6"/>
<line x1="423.00" y1="368.50" x2="424.30" y2="368.50" stroke="#333" stroke-width="0.6"/>
<line x1="423.00" y1="367.37" x2="424.30" y2="367.37" stroke="#333" stroke-width="0.6"/>
<line x1="423.00" y1="366.42" x2="424.30" y2="366.42" stroke="#333" stroke-width="0.6"/>
<line x1="423.00" y1="365.59" x2="424.30" y2="365.59" stroke="#333" stroke-width="0.6"/>
<line x1="423.00" y1="364.85" x2="424.30" y2="364.85" stroke="#333" stroke-width="0.6"/>
<line x1="422.10" y1="364.20" x2="424.30" y2="364.20" stroke="#111" stroke-width="0.8"/>
<line x1="423.00" y1="359.90" x2="424.30" y2="359.90" stroke="#333" stroke-width="0.6"/>
<line x1="423.00" y1="357.38" x2="424.30" y2="357.38" stroke="#333" stroke-width="0.6"/>
<line x1="423.00" y1="355.59" x2="424.30" y2="355.59" stroke="#333" stroke-width="0.6"/>
<line x1="423.00" y1="354.20" x2="424.30" y2="354.20" stroke="#333" stroke-width="0.6"/>
<line x1="423.00" y1="353.07" x2="424.30" y2="353.07" stroke="#333" stroke-width="0.6"/>
<line x1="423.00" y1="352.12" x2="424.30" y2="352.12" stroke="#333" stroke-width="0.6"/>
<line x1="423.00" y1="351.29" x2="424.30" y2="351.29" stroke="#333" stroke-width="0.6"/>
<line x1="423.00" y1="350.55" x2="424.30" y2="350.55" stroke="#333" stroke-width="0.6"/>
<line x1="422.10" y1="349.90" x2="424.30" y2="349.90" stroke="#111" stroke-width="0.8"/>
<line x1="423.00" y1="345.60" x2="424.30" y2="345.60" stroke="#333" stroke-width="0.6"/>
<line x1="423.00" y1="343.08" x2="424.30" y2="343.08" stroke="#333" stroke-width="0.6"/>
<line x1="423.00" y1="341.29" x2="424.30" y2="341.29" stroke="#333" stroke-width="0.6"/>
<line x1="423.00" y1="339.90" x2="424.30" y2="339.90" stroke="#333" stroke-width="0.6"/>
<line x1="423.00" y1="338.77" x2="424.30" y2="338.77" stroke="#333" stroke-width="0.6"/>
<line x1="423.00" y1="337.82" x2="424.30" y2="337.82" stroke="#333" stroke-width="0.6"/>
<line x1="423.00" y1="336.99" x2="424.30" y2="336.99" stroke="#333" stroke-width="0.6"/>
<line x1="423.00" y1="336.25" x2="424.30" y2="336.25" stroke="#333" stroke-width="0.6"/>
<line x1="422.10" y1="335.60" x2="424.30" y2="335.60" stroke="#111" stroke-width="0.8"/>
<line x1="423.40" y1="378.40" x2="423.40" y2="389.90" stroke="#111" stroke-width="1.7"/>
<line x1="426.30" y1="392.40" x2="426.30" y2="395.00" stroke="#111" stroke-width="0.9"/>
<line x1="430.60" y1="392.40" x2="430.60" y2="394.00" stroke="#333" stroke-width="0.6"/>
<line x1="433.12" y1="392.40" x2="433.12" y2="394.00" stroke="#333" stroke-width="0.6"/>
<line x1="434.91" y1="392.40" x2="434.91" y2="394.00" stroke="#333" stroke-width="0.6"/>
<line x1="436.30" y1="392.40" x2="436.30" y2="394.00" stroke="#333" stroke-width="0.6"/>
<line x1="437.43" y1="392.40" x2="437.43" y2="394.00" stroke="#333" stroke-width="0.6"/>
<line x1="438.38" y1="392.40" x2="438.38" y2="394.00" stroke="#333" stroke-width="0.6"/>
<line x1="439.21" y1="392.40" x2="439.21" y2="394.00" stroke="#333" stroke-width="0.6"/>
<line x1="439.95" y1="392.40" x2="439.95" y2="394.00" stroke="#333" stroke-width="0.6"/>
<line x1="440.60" y1="392.40" x2="440.60" y2="395.00" stroke="#111" stroke-width="0.9"/>
<line x1="444.90" y1="392.40" x2="444.90" y2="394.00" stroke="#333" stroke-width="0.6"/>
<line x1="447.42" y1="392.40" x2="447.42" y2="394.00" stroke="#333" stroke-width="0.6"/>
<line x1="449.21" y1="392.40" x2="449.21" y2="394.00" stroke="#333" stroke-width="0.6"/>
<line x1="450.60" y1="392.40" x2="450.60" y2="394.00" stroke="#333" stroke-width="0.6"/>
<line x1="451.73" y1="392.40" x2="451.73" y2="394.00" stroke="#333" stroke-width="0.6"/>
<line x1="452.68" y1="392.40" x2="452.68" y2="394.00" stroke="#333" stroke-width="0.6"/>
<line x1="453.51" y1="392.40" x2="453.51" y2="394.00" stroke="#333" stroke-width="0.6"/>
<line x1="454.25" y1="392.40" x2="454.25" y2="394.00" stroke="#333" stroke-width="0.6"/>
<line x1="454.90" y1="392.40" x2="454.90" y2="395.00" stroke="#111" stroke-width="0.9"/>
<line x1="459.20" y1="392.40" x2="459.20" y2="394.00" stroke="#333" stroke-width="0.6"/>
<line x1="461.72" y1="392.40" x2="461.72" y2="394.00" stroke="#333" stroke-width="0.6"/>
<line x1="463.51" y1="392.40" x2="463.51" y2="394.00" stroke="#333" stroke-width="0.6"/>
<line x1="464.90" y1="392.40" x2="464.90" y2="394.00" stroke="#333" stroke-width="0.6"/>
<line x1="466.03" y1="392.40" x2="466.03" y2="394.00" stroke="#333" stroke-width="0.6"/>
<line x1="466.98" y1="392.40" x2="466.98" y2="394.00" stroke="#333" stroke-width="0.6"/>
<line x1="467.81" y1="392.40" x2="467.81" y2="394.00" stroke="#333" stroke-width="0.6"/>
<line x1="468.55" y1="392.40" x2="468.55" y2="394.00" stroke="#333" stroke-width="0.6"/>
<line x1="469.20" y1="392.40" x2="469.20" y2="395.00" stroke="#111" stroke-width="0.9"/>
<line x1="473.50" y1="392.40" x2="473.50" y2="394.00" stroke="#333" stroke-width="0.6"/>
<line x1="476.02" y1="392.40" x2="476.02" y2="394.00" stroke="#333" stroke-width="0.6"/>
<line x1="477.81" y1="392.40" x2="477.81" y2="394.00" stroke="#333" stroke-width="0.6"/>
<line x1="479.20" y1="392.40" x2="479.20" y2="394.00" stroke="#333" stroke-width="0.6"/>
<line x1="480.33" y1="392.40" x2="480.33" y2="394.00" stroke="#333" stroke-width="0.6"/>
<line x1="481.28" y1="392.40" x2="481.28" y2="394.00" stroke="#333" stroke-width="0.6"/>
<line x1="482.11" y1="392.40" x2="482.11" y2="394.00" stroke="#333" stroke-width="0.6"/>
<line x1="482.85" y1="392.40" x2="482.85" y2="394.00" stroke="#333" stroke-width="0.6"/>
<text x="426.00" y="338.50" font-size="7.4" text-anchor="start" fill="#111" stroke="#111" stroke-width="0.2">&lt;1%</text>
<text x="490.30" y="338.50" font-size="7.4" text-anchor="end" fill="#111" stroke="#111" stroke-width="0.2">54%</text>
<text x="426.00" y="391.40" font-size="7.4" text-anchor="start" fill="#111" stroke="#111" stroke-width="0.2">&lt;1%</text>
<text x="490.30" y="391.40" font-size="7.4" text-anchor="end" fill="#111" stroke="#111" stroke-width="0.2">46%</text>
<path d="M468.1 356.6h0.75v0.75h-0.75zM464.4 380.5h0.75v0.75h-0.75zM465.6 385.4h0.75v0.75h-0.75zM472.4 352.3h0.75v0.75h-0.75zM477.0 372.2h0.75v0.75h-0.75zM463.5 380.0h0.75v0.75h-0.75zM465.5 368.2h0.75v0.75h-0.75zM471.2 353.8h0.75v0.75h-0.75zM469.5 363.5h0.75v0.75h-0.75zM467.4 385.3h0.75v0.75h-0.75zM469.4 361.5h0.75v0.75h-0.75zM472.1 371.3h0.75v0.75h-0.75zM467.0 359.4h0.75v0.75h-0.75zM478.5 370.6h0.75v0.75h-0.75zM468.7 370.3h0.75v0.75h-0.75zM463.6 375.6h0.75v0.75h-0.75zM474.0 383.8h0.75v0.75h-0.75zM467.8 367.3h0.75v0.75h-0.75zM466.4 368.2h0.75v0.75h-0.75zM466.1 368.4h0.75v0.75h-0.75zM471.4 370.4h0.75v0.75h-0.75zM469.9 378.2h0.75v0.75h-0.75zM473.4 378.3h0.75v0.75h-0.75zM474.0 371.0h0.75v0.75h-0.75zM466.4 377.5h0.75v0.75h-0.75zM466.5 380.2h0.75v0.75h-0.75zM471.2 360.8h0.75v0.75h-0.75zM460.0 375.6h0.75v0.75h-0.75zM462.9 360.3h0.75v0.75h-0.75zM467.9 379.3h0.75v0.75h-0.75zM469.2 385.2h0.75v0.75h-0.75zM466.7 374.9h0.75v0.75h-0.75zM468.3 373.7h0.75v0.75h-0.75zM465.1 383.7h0.75v0.75h-0.75zM476.6 359.8h0.75v0.75h-0.75zM469.4 378.4h0.75v0.75h-0.75zM467.7 375.4h0.75v0.75h-0.75zM476.4 380.2h0.75v0.75h-0.75zM472.1 349.1h0.75v0.75h-0.75zM472.3 349.2h0.75v0.75h-0.75zM466.8 376.7h0.75v0.75h-0.75zM471.8 360.4h0.75v0.75h-0.75zM474.9 359.5h0.75v0.75h-0.75zM464.4 350.1h0.75v0.75h-0.75zM469.4 350.5h0.75v0.75h-0.75zM477.3 382.8h0.75v0.75h-0.75zM462.1 365.0h0.75v0.75h-0.75zM474.4 365.5h0.75v0.75h-0.75zM474.6 362.1h0.75v0.75h-0.75zM471.7 370.3h0.75v0.75h-0.75zM468.4 375.5h0.75v0.75h-0.75zM469.1 385.5h0.75v0.75h-0.75zM464.0 362.8h0.75v0.75h-0.75zM467.3 377.6h0.75v0.75h-0.75zM470.6 379.0h0.75v0.75h-0.75zM464.2 385.4h0.75v0.75h-0.75zM473.1 375.5h0.75v0.75h-0.75zM465.6 352.1h0.75v0.75h-0.75zM470.6 365.9h0.75v0.75h-0.75zM464.1 378.8h0.75v0.75h-0.75zM470.9 379.5h0.75v0.75h-0.75zM475.2 361.3h0.75v0.75h-0.75zM472.7 369.0h0.75v0.75h-0.75zM475.4 377.3h0.75v0.75h-0.75zM471.4 384.9h0.75v0.75h-0.75zM477.7 369.7h0.75v0.75h-0.75zM469.1 367.5h0.75v0.75h-0.75zM469.5 374.8h0.75v0.75h-0.75zM466.5 352.9h0.75v0.75h-0.75zM465.3 372.1h0.75v0.75h-0.75zM467.2 374.6h0.75v0.75h-0.75zM466.8 366.7h0.75v0.75h-0.75zM473.6 352.8h0.75v0.75h-0.75zM467.7 359.0h0.75v0.75h-0.75zM468.8 370.0h0.75v0.75h-0.75zM465.4 371.1h0.75v0.75h-0.75zM467.2 382.5h0.75v0.75h-0.75zM470.4 383.2h0.75v0.75h-0.75zM464.2 369.7h0.75v0.75h-0.75zM472.1 366.3h0.75v0.75h-0.75zM471.2 367.4h0.75v0.75h-0.75zM474.5 378.0h0.75v0.75h-0.75zM476.5 378.8h0.75v0.75h-0.75zM470.8 373.7h0.75v0.75h-0.75zM467.2 355.4h0.75v0.75h-0.75zM464.5 373.3h0.75v0.75h-0.75zM466.4 385.1h0.75v0.75h-0.75zM463.4 385.5h0.75v0.75h-0.75zM469.4 384.2h0.75v0.75h-0.75zM465.8 372.9h0.75v0.75h-0.75zM469.5 371.7h0.75v0.75h-0.75zM468.7 384.2h0.75v0.75h-0.75zM472.2 369.7h0.75v0.75h-0.75zM471.8 378.9h0.75v0.75h-0.75zM467.3 377.9h0.75v0.75h-0.75zM461.5 385.2h0.75v0.75h-0.75zM468.2 374.2h0.75v0.75h-0.75zM473.0 371.3h0.75v0.75h-0.75zM463.6 382.9h0.75v0.75h-0.75zM469.4 366.0h0.75v0.75h-0.75zM466.8 380.8h0.75v0.75h-0.75zM467.2 380.4h0.75v0.75h-0.75zM461.5 381.9h0.75v0.75h-0.75zM468.3 356.3h0.75v0.75h-0.75zM466.6 376.8h0.75v0.75h-0.75zM467.8 375.7h0.75v0.75h-0.75zM472.0 365.7h0.75v0.75h-0.75zM472.5 376.3h0.75v0.75h-0.75zM467.3 385.5h0.75v0.75h-0.75zM471.3 385.6h0.75v0.75h-0.75zM470.7 384.4h0.75v0.75h-0.75zM463.7 354.9h0.75v0.75h-0.75zM464.1 364.5h0.75v0.75h-0.75zM470.8 377.1h0.75v0.75h-0.75zM470.5 375.2h0.75v0.75h-0.75zM472.6 378.7h0.75v0.75h-0.75zM468.3 350.9h0.75v0.75h-0.75zM472.2 363.7h0.75v0.75h-0.75zM468.1 380.5h0.75v0.75h-0.75zM469.5 359.5h0.75v0.75h-0.75zM470.2 362.8h0.75v0.75h-0.75zM470.2 363.1h0.75v0.75h-0.75zM470.6 382.2h0.75v0.75h-0.75zM474.4 378.7h0.75v0.75h-0.75zM465.9 367.1h0.75v0.75h-0.75zM472.8 364.2h0.75v0.75h-0.75zM468.8 385.2h0.75v0.75h-0.75zM469.1 380.7h0.75v0.75h-0.75zM464.8 361.5h0.75v0.75h-0.75zM464.1 385.0h0.75v0.75h-0.75zM473.0 368.3h0.75v0.75h-0.75zM472.5 378.8h0.75v0.75h-0.75zM471.7 370.8h0.75v0.75h-0.75zM468.7 370.6h0.75v0.75h-0.75zM465.2 371.0h0.75v0.75h-0.75zM472.7 370.2h0.75v0.75h-0.75zM469.3 354.3h0.75v0.75h-0.75zM463.4 374.8h0.75v0.75h-0.75zM469.1 373.6h0.75v0.75h-0.75zM465.8 374.9h0.75v0.75h-0.75zM467.1 374.9h0.75v0.75h-0.75zM470.7 370.7h0.75v0.75h-0.75zM470.8 379.0h0.75v0.75h-0.75zM475.3 370.6h0.75v0.75h-0.75zM463.5 358.8h0.75v0.75h-0.75zM467.5 358.4h0.75v0.75h-0.75zM474.8 360.0h0.75v0.75h-0.75zM470.2 372.6h0.75v0.75h-0.75zM473.7 381.7h0.75v0.75h-0.75zM461.8 379.3h0.75v0.75h-0.75zM465.7 379.7h0.75v0.75h-0.75zM469.7 372.6h0.75v0.75h-0.75zM474.0 375.5h0.75v0.75h-0.75zM462.6 382.9h0.75v0.75h-0.75zM474.5 378.4h0.75v0.75h-0.75zM465.2 381.2h0.75v0.75h-0.75zM468.7 378.0h0.75v0.75h-0.75zM472.1 381.2h0.75v0.75h-0.75zM472.7 352.0h0.75v0.75h-0.75zM466.1 348.8h0.75v0.75h-0.75zM472.5 376.6h0.75v0.75h-0.75zM472.5 381.4h0.75v0.75h-0.75zM472.1 362.4h0.75v0.75h-0.75zM472.1 373.1h0.75v0.75h-0.75zM467.3 376.2h0.75v0.75h-0.75zM462.4 382.5h0.75v0.75h-0.75zM474.1 379.8h0.75v0.75h-0.75zM468.5 381.5h0.75v0.75h-0.75zM474.1 361.6h0.75v0.75h-0.75zM467.2 370.3h0.75v0.75h-0.75zM468.6 378.3h0.75v0.75h-0.75zM469.2 376.4h0.75v0.75h-0.75zM473.8 378.6h0.75v0.75h-0.75zM467.2 380.4h0.75v0.75h-0.75zM462.2 378.1h0.75v0.75h-0.75zM470.8 369.7h0.75v0.75h-0.75zM474.0 362.0h0.75v0.75h-0.75zM473.5 367.6h0.75v0.75h-0.75zM465.7 367.2h0.75v0.75h-0.75zM468.9 363.3h0.75v0.75h-0.75zM474.9 369.6h0.75v0.75h-0.75zM471.2 373.6h0.75v0.75h-0.75zM470.5 381.1h0.75v0.75h-0.75zM465.1 376.8h0.75v0.75h-0.75zM468.1 377.7h0.75v0.75h-0.75zM471.0 371.2h0.75v0.75h-0.75zM464.1 381.0h0.75v0.75h-0.75zM462.5 362.8h0.75v0.75h-0.75zM472.8 378.7h0.75v0.75h-0.75zM473.4 371.1h0.75v0.75h-0.75zM472.7 359.3h0.75v0.75h-0.75zM465.5 378.3h0.75v0.75h-0.75zM473.3 371.1h0.75v0.75h-0.75zM463.0 377.2h0.75v0.75h-0.75zM470.6 382.7h0.75v0.75h-0.75zM469.0 369.9h0.75v0.75h-0.75zM466.6 364.4h0.75v0.75h-0.75zM463.0 382.7h0.75v0.75h-0.75zM473.8 365.6h0.75v0.75h-0.75zM460.0 384.2h0.75v0.75h-0.75zM470.5 360.9h0.75v0.75h-0.75zM470.8 376.2h0.75v0.75h-0.75zM473.0 380.3h0.75v0.75h-0.75zM473.9 354.0h0.75v0.75h-0.75zM467.4 384.6h0.75v0.75h-0.75zM470.8 362.4h0.75v0.75h-0.75zM465.4 364.2h0.75v0.75h-0.75zM472.3 373.3h0.75v0.75h-0.75zM470.2 385.3h0.75v0.75h-0.75zM469.8 374.1h0.75v0.75h-0.75zM470.2 383.2h0.75v0.75h-0.75zM467.7 380.2h0.75v0.75h-0.75zM478.0 384.0h0.75v0.75h-0.75zM468.1 367.5h0.75v0.75h-0.75zM471.5 382.4h0.75v0.75h-0.75zM466.8 362.7h0.75v0.75h-0.75zM473.7 379.6h0.75v0.75h-0.75zM469.9 379.0h0.75v0.75h-0.75zM481.5 371.0h0.75v0.75h-0.75zM475.2 366.7h0.75v0.75h-0.75zM461.3 367.2h0.75v0.75h-0.75zM471.7 375.9h0.75v0.75h-0.75zM459.8 385.7h0.75v0.75h-0.75zM469.1 382.4h0.75v0.75h-0.75zM463.3 371.1h0.75v0.75h-0.75zM467.1 370.1h0.75v0.75h-0.75zM470.6 357.7h0.75v0.75h-0.75zM473.0 361.6h0.75v0.75h-0.75zM473.4 376.3h0.75v0.75h-0.75zM473.2 384.0h0.75v0.75h-0.75zM477.0 367.3h0.75v0.75h-0.75zM465.7 371.1h0.75v0.75h-0.75zM469.3 364.1h0.75v0.75h-0.75zM464.5 384.7h0.75v0.75h-0.75zM460.3 366.3h0.75v0.75h-0.75zM466.2 383.5h0.75v0.75h-0.75zM470.4 377.8h0.75v0.75h-0.75zM472.5 370.8h0.75v0.75h-0.75zM472.2 364.5h0.75v0.75h-0.75zM459.7 376.8h0.75v0.75h-0.75zM468.7 376.1h0.75v0.75h-0.75zM475.2 376.2h0.75v0.75h-0.75zM459.0 384.2h0.75v0.75h-0.75zM465.4 372.9h0.75v0.75h-0.75zM470.9 375.4h0.75v0.75h-0.75zM462.8 379.4h0.75v0.75h-0.75zM468.3 374.1h0.75v0.75h-0.75zM469.9 368.4h0.75v0.75h-0.75zM467.1 360.8h0.75v0.75h-0.75zM462.5 382.1h0.75v0.75h-0.75zM466.3 352.4h0.75v0.75h-0.75zM473.3 355.6h0.75v0.75h-0.75zM470.4 355.0h0.75v0.75h-0.75zM464.1 379.3h0.75v0.75h-0.75zM475.1 370.3h0.75v0.75h-0.75zM474.1 382.4h0.75v0.75h-0.75zM471.5 368.5h0.75v0.75h-0.75zM474.9 372.9h0.75v0.75h-0.75zM469.4 354.1h0.75v0.75h-0.75zM467.3 370.9h0.75v0.75h-0.75zM472.6 383.6h0.75v0.75h-0.75zM480.9 361.1h0.75v0.75h-0.75zM471.7 370.3h0.75v0.75h-0.75zM471.5 353.4h0.75v0.75h-0.75zM470.7 385.3h0.75v0.75h-0.75zM470.9 378.2h0.75v0.75h-0.75zM475.0 370.1h0.75v0.75h-0.75zM470.2 375.4h0.75v0.75h-0.75zM456.3 367.9h0.75v0.75h-0.75zM469.8 381.4h0.75v0.75h-0.75zM470.2 371.2h0.75v0.75h-0.75zM468.2 383.5h0.75v0.75h-0.75zM470.2 351.2h0.75v0.75h-0.75zM468.6 381.3h0.75v0.75h-0.75zM460.8 361.4h0.75v0.75h-0.75zM473.9 370.5h0.75v0.75h-0.75zM473.0 381.6h0.75v0.75h-0.75zM462.5 379.7h0.75v0.75h-0.75zM464.0 374.0h0.75v0.75h-0.75zM466.2 373.8h0.75v0.75h-0.75zM464.1 372.3h0.75v0.75h-0.75zM465.3 362.3h0.75v0.75h-0.75zM468.6 365.2h0.75v0.75h-0.75zM469.4 380.1h0.75v0.75h-0.75zM466.8 381.8h0.75v0.75h-0.75zM465.9 376.2h0.75v0.75h-0.75zM471.7 369.2h0.75v0.75h-0.75zM464.0 384.7h0.75v0.75h-0.75zM469.6 373.2h0.75v0.75h-0.75zM469.5 356.0h0.75v0.75h-0.75zM464.5 378.4h0.75v0.75h-0.75zM469.6 375.7h0.75v0.75h-0.75zM466.5 365.4h0.75v0.75h-0.75zM466.9 366.7h0.75v0.75h-0.75zM474.8 362.0h0.75v0.75h-0.75zM466.0 373.5h0.75v0.75h-0.75zM469.9 364.5h0.75v0.75h-0.75zM468.2 369.3h0.75v0.75h-0.75zM470.5 363.6h0.75v0.75h-0.75zM471.6 370.3h0.75v0.75h-0.75zM467.2 362.9h0.75v0.75h-0.75zM472.2 358.4h0.75v0.75h-0.75zM466.6 382.2h0.75v0.75h-0.75zM471.1 380.5h0.75v0.75h-0.75zM465.3 375.3h0.75v0.75h-0.75zM465.6 366.5h0.75v0.75h-0.75zM464.7 377.0h0.75v0.75h-0.75zM467.7 379.7h0.75v0.75h-0.75zM469.3 365.1h0.75v0.75h-0.75zM469.0 382.9h0.75v0.75h-0.75zM467.7 381.2h0.75v0.75h-0.75zM471.8 373.9h0.75v0.75h-0.75zM469.8 373.4h0.75v0.75h-0.75zM464.0 360.6h0.75v0.75h-0.75zM466.2 376.5h0.75v0.75h-0.75zM474.7 365.3h0.75v0.75h-0.75zM472.6 384.2h0.75v0.75h-0.75zM464.5 373.8h0.75v0.75h-0.75zM459.7 378.0h0.75v0.75h-0.75zM465.5 380.7h0.75v0.75h-0.75zM464.5 384.3h0.75v0.75h-0.75zM471.9 379.3h0.75v0.75h-0.75zM480.0 380.4h0.75v0.75h-0.75zM468.1 357.0h0.75v0.75h-0.75zM471.5 378.6h0.75v0.75h-0.75zM471.5 356.8h0.75v0.75h-0.75zM464.8 366.2h0.75v0.75h-0.75zM470.0 380.5h0.75v0.75h-0.75zM475.4 354.7h0.75v0.75h-0.75zM466.9 382.2h0.75v0.75h-0.75zM467.7 369.9h0.75v0.75h-0.75zM475.0 382.0h0.75v0.75h-0.75zM467.3 372.3h0.75v0.75h-0.75zM467.4 381.5h0.75v0.75h-0.75zM477.1 382.2h0.75v0.75h-0.75zM474.6 373.4h0.75v0.75h-0.75zM462.9 377.3h0.75v0.75h-0.75zM466.5 380.9h0.75v0.75h-0.75zM470.8 379.3h0.75v0.75h-0.75zM463.3 379.1h0.75v0.75h-0.75zM468.3 354.1h0.75v0.75h-0.75zM465.4 375.1h0.75v0.75h-0.75zM470.8 369.5h0.75v0.75h-0.75zM470.3 359.7h0.75v0.75h-0.75zM469.9 379.6h0.75v0.75h-0.75zM469.5 382.3h0.75v0.75h-0.75zM467.4 383.3h0.75v0.75h-0.75zM463.3 379.2h0.75v0.75h-0.75zM474.1 384.7h0.75v0.75h-0.75zM462.9 383.7h0.75v0.75h-0.75zM471.0 370.7h0.75v0.75h-0.75zM467.8 379.7h0.75v0.75h-0.75zM464.5 380.6h0.75v0.75h-0.75zM471.1 382.3h0.75v0.75h-0.75zM469.2 371.9h0.75v0.75h-0.75zM475.4 368.5h0.75v0.75h-0.75zM467.6 359.7h0.75v0.75h-0.75zM474.1 366.2h0.75v0.75h-0.75zM471.0 377.2h0.75v0.75h-0.75zM468.3 370.1h0.75v0.75h-0.75zM472.6 356.7h0.75v0.75h-0.75zM470.7 377.7h0.75v0.75h-0.75zM470.0 363.0h0.75v0.75h-0.75zM464.8 364.9h0.75v0.75h-0.75zM464.1 379.0h0.75v0.75h-0.75zM469.0 366.2h0.75v0.75h-0.75zM471.8 358.2h0.75v0.75h-0.75zM473.2 374.8h0.75v0.75h-0.75zM467.0 368.6h0.75v0.75h-0.75zM469.0 377.6h0.75v0.75h-0.75zM476.5 380.0h0.75v0.75h-0.75zM467.1 383.0h0.75v0.75h-0.75zM473.0 372.8h0.75v0.75h-0.75zM472.4 356.0h0.75v0.75h-0.75zM469.4 384.9h0.75v0.75h-0.75zM467.6 378.5h0.75v0.75h-0.75zM458.9 371.8h0.75v0.75h-0.75zM468.6 378.2h0.75v0.75h-0.75zM469.5 382.0h0.75v0.75h-0.75zM472.1 383.5h0.75v0.75h-0.75zM468.7 351.4h0.75v0.75h-0.75zM467.8 383.5h0.75v0.75h-0.75zM467.2 368.8h0.75v0.75h-0.75zM472.8 364.5h0.75v0.75h-0.75zM468.0 380.1h0.75v0.75h-0.75zM471.5 367.8h0.75v0.75h-0.75zM472.2 371.3h0.75v0.75h-0.75zM460.8 377.9h0.75v0.75h-0.75zM465.2 376.6h0.75v0.75h-0.75zM468.3 385.4h0.75v0.75h-0.75zM462.9 381.8h0.75v0.75h-0.75zM465.2 368.7h0.75v0.75h-0.75zM470.0 353.3h0.75v0.75h-0.75zM465.5 364.7h0.75v0.75h-0.75zM469.4 370.3h0.75v0.75h-0.75zM464.5 378.2h0.75v0.75h-0.75zM467.7 371.4h0.75v0.75h-0.75zM464.9 382.3h0.75v0.75h-0.75zM465.1 355.4h0.75v0.75h-0.75zM462.1 367.3h0.75v0.75h-0.75zM470.1 349.2h0.75v0.75h-0.75zM460.7 383.2h0.75v0.75h-0.75zM466.3 383.6h0.75v0.75h-0.75zM475.6 364.2h0.75v0.75h-0.75zM474.9 377.2h0.75v0.75h-0.75zM466.6 375.1h0.75v0.75h-0.75zM462.2 378.9h0.75v0.75h-0.75zM464.6 372.5h0.75v0.75h-0.75zM474.0 356.5h0.75v0.75h-0.75zM467.2 355.1h0.75v0.75h-0.75zM471.3 383.3h0.75v0.75h-0.75zM467.1 375.2h0.75v0.75h-0.75zM476.8 384.8h0.75v0.75h-0.75zM463.8 380.3h0.75v0.75h-0.75zM466.7 375.5h0.75v0.75h-0.75zM472.4 379.4h0.75v0.75h-0.75zM474.4 372.7h0.75v0.75h-0.75zM467.0 377.4h0.75v0.75h-0.75zM463.7 367.3h0.75v0.75h-0.75zM467.9 380.0h0.75v0.75h-0.75zM469.5 378.2h0.75v0.75h-0.75zM467.7 374.6h0.75v0.75h-0.75zM470.3 378.4h0.75v0.75h-0.75zM470.0 369.6h0.75v0.75h-0.75zM463.0 365.7h0.75v0.75h-0.75zM472.2 369.0h0.75v0.75h-0.75zM473.2 373.6h0.75v0.75h-0.75zM466.8 384.4h0.75v0.75h-0.75zM469.7 366.4h0.75v0.75h-0.75zM473.3 361.2h0.75v0.75h-0.75zM477.4 382.9h0.75v0.75h-0.75zM462.3 367.1h0.75v0.75h-0.75zM471.9 362.5h0.75v0.75h-0.75zM467.8 368.1h0.75v0.75h-0.75zM468.7 371.0h0.75v0.75h-0.75zM469.3 375.9h0.75v0.75h-0.75zM464.7 383.1h0.75v0.75h-0.75zM459.5 383.3h0.75v0.75h-0.75zM466.9 381.6h0.75v0.75h-0.75zM468.4 365.0h0.75v0.75h-0.75zM466.6 366.4h0.75v0.75h-0.75zM468.8 371.6h0.75v0.75h-0.75zM469.4 353.6h0.75v0.75h-0.75zM473.7 369.3h0.75v0.75h-0.75zM478.3 362.2h0.75v0.75h-0.75zM468.9 363.7h0.75v0.75h-0.75zM471.3 361.2h0.75v0.75h-0.75zM466.8 356.4h0.75v0.75h-0.75zM471.9 379.4h0.75v0.75h-0.75zM470.3 377.6h0.75v0.75h-0.75zM470.4 366.9h0.75v0.75h-0.75zM471.8 357.5h0.75v0.75h-0.75zM467.7 379.3h0.75v0.75h-0.75zM469.1 368.1h0.75v0.75h-0.75zM465.8 381.2h0.75v0.75h-0.75zM458.8 367.0h0.75v0.75h-0.75zM460.0 379.0h0.75v0.75h-0.75zM472.5 354.7h0.75v0.75h-0.75zM471.3 383.1h0.75v0.75h-0.75zM468.2 375.4h0.75v0.75h-0.75zM465.0 385.1h0.75v0.75h-0.75zM464.2 374.6h0.75v0.75h-0.75zM467.7 371.0h0.75v0.75h-0.75zM472.0 374.4h0.75v0.75h-0.75zM458.8 381.9h0.75v0.75h-0.75zM469.6 378.0h0.75v0.75h-0.75zM472.6 368.8h0.75v0.75h-0.75zM470.5 382.1h0.75v0.75h-0.75zM470.2 370.6h0.75v0.75h-0.75zM472.0 378.9h0.75v0.75h-0.75zM469.1 382.7h0.75v0.75h-0.75zM466.8 362.6h0.75v0.75h-0.75zM468.6 374.5h0.75v0.75h-0.75zM471.9 360.8h0.75v0.75h-0.75zM465.2 365.8h0.75v0.75h-0.75zM465.8 382.4h0.75v0.75h-0.75zM469.0 375.6h0.75v0.75h-0.75zM466.0 385.2h0.75v0.75h-0.75zM464.6 375.7h0.75v0.75h-0.75zM470.8 379.8h0.75v0.75h-0.75zM469.5 377.0h0.75v0.75h-0.75zM466.0 375.8h0.75v0.75h-0.75zM468.3 382.6h0.75v0.75h-0.75zM466.4 374.9h0.75v0.75h-0.75zM473.1 350.0h0.75v0.75h-0.75zM470.4 376.1h0.75v0.75h-0.75zM473.8 377.7h0.75v0.75h-0.75zM471.7 377.9h0.75v0.75h-0.75zM470.7 378.1h0.75v0.75h-0.75zM462.3 385.2h0.75v0.75h-0.75zM468.4 384.6h0.75v0.75h-0.75zM470.3 354.9h0.75v0.75h-0.75zM469.1 379.4h0.75v0.75h-0.75zM470.0 384.8h0.75v0.75h-0.75zM467.1 374.1h0.75v0.75h-0.75zM465.0 383.1h0.75v0.75h-0.75zM471.2 385.6h0.75v0.75h-0.75zM467.8 382.9h0.75v0.75h-0.75zM463.7 359.9h0.75v0.75h-0.75zM462.8 383.3h0.75v0.75h-0.75zM472.3 363.6h0.75v0.75h-0.75zM463.1 356.6h0.75v0.75h-0.75zM461.2 357.7h0.75v0.75h-0.75zM466.7 375.2h0.75v0.75h-0.75zM466.3 383.5h0.75v0.75h-0.75zM463.2 380.9h0.75v0.75h-0.75zM466.6 367.7h0.75v0.75h-0.75zM473.6 362.2h0.75v0.75h-0.75zM464.4 373.6h0.75v0.75h-0.75zM467.2 373.6h0.75v0.75h-0.75zM476.3 349.0h0.75v0.75h-0.75zM474.7 372.8h0.75v0.75h-0.75zM472.4 354.0h0.75v0.75h-0.75zM467.3 372.1h0.75v0.75h-0.75zM471.4 385.5h0.75v0.75h-0.75zM475.4 365.5h0.75v0.75h-0.75zM473.1 359.9h0.75v0.75h-0.75zM467.6 381.1h0.75v0.75h-0.75zM466.8 374.5h0.75v0.75h-0.75zM472.6 377.8h0.75v0.75h-0.75zM467.6 382.8h0.75v0.75h-0.75zM470.8 374.6h0.75v0.75h-0.75zM473.7 370.4h0.75v0.75h-0.75zM460.1 384.1h0.75v0.75h-0.75zM463.6 361.7h0.75v0.75h-0.75zM470.5 380.6h0.75v0.75h-0.75zM473.8 369.9h0.75v0.75h-0.75zM470.4 379.4h0.75v0.75h-0.75zM473.7 356.6h0.75v0.75h-0.75zM468.7 363.4h0.75v0.75h-0.75zM465.4 383.8h0.75v0.75h-0.75zM463.6 352.6h0.75v0.75h-0.75zM474.0 378.3h0.75v0.75h-0.75zM467.8 358.3h0.75v0.75h-0.75zM468.4 364.1h0.75v0.75h-0.75zM466.9 379.2h0.75v0.75h-0.75zM471.0 367.1h0.75v0.75h-0.75zM470.6 365.6h0.75v0.75h-0.75zM462.4 358.2h0.75v0.75h-0.75zM479.7 366.2h0.75v0.75h-0.75zM464.5 371.6h0.75v0.75h-0.75zM478.2 378.5h0.75v0.75h-0.75zM467.1 380.6h0.75v0.75h-0.75zM468.6 357.8h0.75v0.75h-0.75zM467.2 379.8h0.75v0.75h-0.75zM464.2 355.5h0.75v0.75h-0.75zM472.1 375.8h0.75v0.75h-0.75zM470.7 384.7h0.75v0.75h-0.75zM465.6 384.2h0.75v0.75h-0.75zM469.2 364.2h0.75v0.75h-0.75zM468.4 353.5h0.75v0.75h-0.75zM464.1 367.5h0.75v0.75h-0.75zM469.8 369.7h0.75v0.75h-0.75zM460.8 368.8h0.75v0.75h-0.75zM468.5 379.3h0.75v0.75h-0.75zM481.0 385.1h0.75v0.75h-0.75zM472.3 377.1h0.75v0.75h-0.75zM463.4 382.2h0.75v0.75h-0.75zM472.8 382.7h0.75v0.75h-0.75zM463.2 378.3h0.75v0.75h-0.75zM471.7 370.9h0.75v0.75h-0.75zM475.1 361.6h0.75v0.75h-0.75zM467.3 374.2h0.75v0.75h-0.75zM468.7 370.2h0.75v0.75h-0.75zM462.9 379.2h0.75v0.75h-0.75zM473.7 384.0h0.75v0.75h-0.75zM471.8 371.5h0.75v0.75h-0.75zM468.8 369.6h0.75v0.75h-0.75zM459.3 384.0h0.75v0.75h-0.75zM472.1 357.7h0.75v0.75h-0.75zM471.8 379.6h0.75v0.75h-0.75zM468.5 361.4h0.75v0.75h-0.75zM467.7 374.7h0.75v0.75h-0.75zM462.7 366.8h0.75v0.75h-0.75zM465.9 351.5h0.75v0.75h-0.75zM469.3 364.4h0.75v0.75h-0.75zM469.3 379.1h0.75v0.75h-0.75zM473.5 379.7h0.75v0.75h-0.75zM464.5 374.5h0.75v0.75h-0.75zM462.9 385.3h0.75v0.75h-0.75zM472.8 355.2h0.75v0.75h-0.75zM465.4 381.2h0.75v0.75h-0.75zM467.6 383.5h0.75v0.75h-0.75zM470.4 383.4h0.75v0.75h-0.75zM474.6 373.4h0.75v0.75h-0.75zM466.1 383.6h0.75v0.75h-0.75zM465.8 383.9h0.75v0.75h-0.75zM468.5 377.2h0.75v0.75h-0.75zM470.1 367.9h0.75v0.75h-0.75zM465.2 370.3h0.75v0.75h-0.75zM466.6 378.6h0.75v0.75h-0.75zM469.0 356.7h0.75v0.75h-0.75zM470.0 385.8h0.75v0.75h-0.75zM467.6 379.4h0.75v0.75h-0.75zM475.3 385.8h0.75v0.75h-0.75zM476.9 384.3h0.75v0.75h-0.75zM463.9 374.6h0.75v0.75h-0.75zM465.0 385.8h0.75v0.75h-0.75zM469.4 365.0h0.75v0.75h-0.75zM472.9 378.8h0.75v0.75h-0.75zM466.5 381.2h0.75v0.75h-0.75zM470.1 370.6h0.75v0.75h-0.75zM476.0 371.9h0.75v0.75h-0.75zM472.5 377.9h0.75v0.75h-0.75zM472.5 380.0h0.75v0.75h-0.75zM470.6 379.9h0.75v0.75h-0.75zM468.0 363.8h0.75v0.75h-0.75zM466.8 363.4h0.75v0.75h-0.75zM464.9 367.4h0.75v0.75h-0.75zM472.5 384.1h0.75v0.75h-0.75zM466.6 382.8h0.75v0.75h-0.75zM477.4 383.9h0.75v0.75h-0.75zM464.6 358.7h0.75v0.75h-0.75zM474.0 382.4h0.75v0.75h-0.75zM478.7 371.3h0.75v0.75h-0.75zM468.4 364.6h0.75v0.75h-0.75zM466.9 361.6h0.75v0.75h-0.75zM472.8 360.0h0.75v0.75h-0.75zM469.1 385.6h0.75v0.75h-0.75zM468.1 356.2h0.75v0.75h-0.75zM468.4 382.4h0.75v0.75h-0.75zM469.0 355.2h0.75v0.75h-0.75zM477.1 382.2h0.75v0.75h-0.75zM471.4 376.0h0.75v0.75h-0.75zM465.6 383.5h0.75v0.75h-0.75zM469.0 382.2h0.75v0.75h-0.75zM474.3 352.3h0.75v0.75h-0.75zM462.3 379.7h0.75v0.75h-0.75zM472.6 381.6h0.75v0.75h-0.75zM477.7 379.5h0.75v0.75h-0.75zM467.1 375.9h0.75v0.75h-0.75zM471.1 366.3h0.75v0.75h-0.75zM458.5 380.1h0.75v0.75h-0.75zM467.6 384.7h0.75v0.75h-0.75zM468.0 356.9h0.75v0.75h-0.75zM472.7 357.5h0.75v0.75h-0.75zM463.5 376.0h0.75v0.75h-0.75zM463.3 365.1h0.75v0.75h-0.75zM468.1 349.4h0.75v0.75h-0.75zM466.7 381.6h0.75v0.75h-0.75zM466.1 375.0h0.75v0.75h-0.75zM472.6 376.6h0.75v0.75h-0.75zM464.8 377.1h0.75v0.75h-0.75zM469.4 369.5h0.75v0.75h-0.75zM473.2 369.5h0.75v0.75h-0.75zM475.3 377.9h0.75v0.75h-0.75zM468.1 369.2h0.75v0.75h-0.75zM472.0 383.8h0.75v0.75h-0.75zM461.9 367.1h0.75v0.75h-0.75zM471.3 377.5h0.75v0.75h-0.75zM473.9 375.0h0.75v0.75h-0.75zM469.9 377.4h0.75v0.75h-0.75zM471.6 374.0h0.75v0.75h-0.75zM468.7 368.8h0.75v0.75h-0.75zM462.9 371.6h0.75v0.75h-0.75zM464.9 377.6h0.75v0.75h-0.75zM466.9 382.0h0.75v0.75h-0.75zM463.7 383.6h0.75v0.75h-0.75zM473.6 372.1h0.75v0.75h-0.75zM469.0 360.4h0.75v0.75h-0.75zM472.8 374.1h0.75v0.75h-0.75zM465.5 378.7h0.75v0.75h-0.75zM471.1 372.5h0.75v0.75h-0.75zM470.9 381.1h0.75v0.75h-0.75zM466.1 367.4h0.75v0.75h-0.75zM466.2 375.9h0.75v0.75h-0.75zM467.5 370.4h0.75v0.75h-0.75zM468.9 384.4h0.75v0.75h-0.75zM468.2 362.0h0.75v0.75h-0.75zM473.1 372.1h0.75v0.75h-0.75zM473.0 383.4h0.75v0.75h-0.75zM468.1 382.3h0.75v0.75h-0.75zM470.1 371.9h0.75v0.75h-0.75zM467.6 376.3h0.75v0.75h-0.75zM469.2 379.0h0.75v0.75h-0.75zM463.1 381.8h0.75v0.75h-0.75zM466.3 364.4h0.75v0.75h-0.75zM465.4 373.4h0.75v0.75h-0.75zM469.4 377.9h0.75v0.75h-0.75zM477.1 360.8h0.75v0.75h-0.75zM474.2 366.8h0.75v0.75h-0.75zM469.5 364.8h0.75v0.75h-0.75zM464.8 381.5h0.75v0.75h-0.75zM468.6 385.2h0.75v0.75h-0.75zM473.5 377.3h0.75v0.75h-0.75zM470.7 348.9h0.75v0.75h-0.75zM473.4 360.3h0.75v0.75h-0.75zM470.2 377.5h0.75v0.75h-0.75zM470.0 382.7h0.75v0.75h-0.75zM468.0 370.6h0.75v0.75h-0.75zM476.3 364.0h0.75v0.75h-0.75zM465.7 374.9h0.75v0.75h-0.75zM467.7 365.3h0.75v0.75h-0.75zM473.1 377.2h0.75v0.75h-0.75zM462.5 377.3h0.75v0.75h-0.75zM471.2 361.7h0.75v0.75h-0.75zM468.3 349.1h0.75v0.75h-0.75zM465.8 382.2h0.75v0.75h-0.75zM470.2 360.4h0.75v0.75h-0.75zM467.9 371.7h0.75v0.75h-0.75zM474.8 370.3h0.75v0.75h-0.75zM472.1 368.3h0.75v0.75h-0.75zM470.0 378.4h0.75v0.75h-0.75zM474.9 365.4h0.75v0.75h-0.75zM470.2 383.2h0.75v0.75h-0.75zM468.7 382.0h0.75v0.75h-0.75zM461.8 371.1h0.75v0.75h-0.75zM472.7 381.7h0.75v0.75h-0.75zM461.0 378.4h0.75v0.75h-0.75zM469.4 365.2h0.75v0.75h-0.75zM469.7 383.5h0.75v0.75h-0.75zM466.6 365.5h0.75v0.75h-0.75zM474.3 376.8h0.75v0.75h-0.75zM470.6 375.9h0.75v0.75h-0.75zM473.0 376.2h0.75v0.75h-0.75zM464.4 367.9h0.75v0.75h-0.75zM466.9 382.7h0.75v0.75h-0.75zM470.1 384.3h0.75v0.75h-0.75zM466.6 361.0h0.75v0.75h-0.75zM468.6 367.4h0.75v0.75h-0.75zM467.1 379.0h0.75v0.75h-0.75zM472.3 372.4h0.75v0.75h-0.75zM467.1 370.0h0.75v0.75h-0.75zM472.9 355.9h0.75v0.75h-0.75zM471.1 384.1h0.75v0.75h-0.75zM467.2 383.5h0.75v0.75h-0.75zM471.2 385.1h0.75v0.75h-0.75zM463.7 377.6h0.75v0.75h-0.75zM458.5 384.8h0.75v0.75h-0.75zM467.0 381.4h0.75v0.75h-0.75zM472.4 360.8h0.75v0.75h-0.75zM470.8 380.1h0.75v0.75h-0.75zM475.2 365.3h0.75v0.75h-0.75zM472.2 371.1h0.75v0.75h-0.75zM465.9 366.9h0.75v0.75h-0.75zM475.2 360.2h0.75v0.75h-0.75zM470.4 377.4h0.75v0.75h-0.75zM463.4 377.1h0.75v0.75h-0.75zM465.4 379.8h0.75v0.75h-0.75zM471.4 364.8h0.75v0.75h-0.75zM474.7 361.8h0.75v0.75h-0.75zM468.9 382.6h0.75v0.75h-0.75zM470.9 361.5h0.75v0.75h-0.75zM481.1 381.2h0.75v0.75h-0.75zM470.7 368.3h0.75v0.75h-0.75zM471.0 379.5h0.75v0.75h-0.75zM469.4 380.6h0.75v0.75h-0.75zM469.4 381.1h0.75v0.75h-0.75zM475.8 364.0h0.75v0.75h-0.75zM470.1 380.5h0.75v0.75h-0.75zM462.1 384.9h0.75v0.75h-0.75zM472.3 379.5h0.75v0.75h-0.75zM465.8 351.7h0.75v0.75h-0.75zM461.2 380.1h0.75v0.75h-0.75zM469.1 371.2h0.75v0.75h-0.75zM466.3 353.2h0.75v0.75h-0.75zM466.0 378.4h0.75v0.75h-0.75zM474.9 373.3h0.75v0.75h-0.75zM472.5 382.2h0.75v0.75h-0.75zM463.4 372.0h0.75v0.75h-0.75zM470.2 358.0h0.75v0.75h-0.75zM472.5 379.4h0.75v0.75h-0.75zM472.0 379.1h0.75v0.75h-0.75zM467.7 369.0h0.75v0.75h-0.75zM467.9 369.1h0.75v0.75h-0.75zM475.2 378.8h0.75v0.75h-0.75zM474.2 380.5h0.75v0.75h-0.75zM469.4 367.2h0.75v0.75h-0.75zM467.9 381.3h0.75v0.75h-0.75zM469.4 362.4h0.75v0.75h-0.75zM470.7 383.1h0.75v0.75h-0.75zM469.6 360.2h0.75v0.75h-0.75zM469.7 358.2h0.75v0.75h-0.75zM466.8 385.5h0.75v0.75h-0.75zM468.0 381.5h0.75v0.75h-0.75zM471.9 369.9h0.75v0.75h-0.75zM463.5 383.1h0.75v0.75h-0.75zM472.5 371.9h0.75v0.75h-0.75zM468.5 358.9h0.75v0.75h-0.75zM467.1 385.4h0.75v0.75h-0.75zM467.8 378.0h0.75v0.75h-0.75zM469.5 354.8h0.75v0.75h-0.75zM468.0 379.9h0.75v0.75h-0.75zM472.9 381.8h0.75v0.75h-0.75zM459.9 364.1h0.75v0.75h-0.75zM467.2 370.5h0.75v0.75h-0.75zM468.4 376.7h0.75v0.75h-0.75zM468.1 360.1h0.75v0.75h-0.75zM469.6 372.2h0.75v0.75h-0.75zM475.1 371.4h0.75v0.75h-0.75zM458.1 372.2h0.75v0.75h-0.75zM473.2 358.0h0.75v0.75h-0.75zM467.4 376.0h0.75v0.75h-0.75zM460.9 385.5h0.75v0.75h-0.75zM468.1 375.8h0.75v0.75h-0.75zM463.1 358.1h0.75v0.75h-0.75zM474.6 349.4h0.75v0.75h-0.75zM473.9 371.8h0.75v0.75h-0.75zM477.2 383.1h0.75v0.75h-0.75zM473.4 363.3h0.75v0.75h-0.75zM468.3 375.2h0.75v0.75h-0.75zM469.4 361.5h0.75v0.75h-0.75zM471.2 383.6h0.75v0.75h-0.75zM472.7 370.4h0.75v0.75h-0.75zM467.7 380.4h0.75v0.75h-0.75zM460.6 383.4h0.75v0.75h-0.75zM474.3 348.8h0.75v0.75h-0.75zM474.4 373.2h0.75v0.75h-0.75zM472.4 381.9h0.75v0.75h-0.75zM466.8 364.7h0.75v0.75h-0.75zM468.0 379.4h0.75v0.75h-0.75zM465.9 369.7h0.75v0.75h-0.75zM474.0 364.3h0.75v0.75h-0.75zM467.3 382.8h0.75v0.75h-0.75zM462.9 365.0h0.75v0.75h-0.75zM473.2 356.6h0.75v0.75h-0.75zM464.6 374.0h0.75v0.75h-0.75zM472.1 354.9h0.75v0.75h-0.75zM464.4 382.9h0.75v0.75h-0.75zM469.8 367.4h0.75v0.75h-0.75zM469.7 381.0h0.75v0.75h-0.75zM471.5 382.6h0.75v0.75h-0.75zM480.1 374.7h0.75v0.75h-0.75zM473.5 355.3h0.75v0.75h-0.75zM461.8 374.1h0.75v0.75h-0.75zM476.2 380.4h0.75v0.75h-0.75zM476.4 363.3h0.75v0.75h-0.75zM461.9 376.3h0.75v0.75h-0.75zM467.7 356.9h0.75v0.75h-0.75zM464.2 374.4h0.75v0.75h-0.75zM465.6 374.3h0.75v0.75h-0.75zM472.1 375.2h0.75v0.75h-0.75zM471.4 354.1h0.75v0.75h-0.75zM464.4 378.6h0.75v0.75h-0.75zM467.5 378.2h0.75v0.75h-0.75zM468.0 378.2h0.75v0.75h-0.75zM472.9 378.5h0.75v0.75h-0.75zM472.0 384.0h0.75v0.75h-0.75zM471.8 378.7h0.75v0.75h-0.75zM462.4 378.3h0.75v0.75h-0.75zM468.6 374.4h0.75v0.75h-0.75zM465.7 381.3h0.75v0.75h-0.75zM474.6 358.3h0.75v0.75h-0.75zM464.6 378.7h0.75v0.75h-0.75zM469.3 364.1h0.75v0.75h-0.75zM464.6 384.8h0.75v0.75h-0.75zM462.8 368.2h0.75v0.75h-0.75zM468.7 385.5h0.75v0.75h-0.75zM469.2 358.2h0.75v0.75h-0.75zM473.4 369.5h0.75v0.75h-0.75zM471.0 381.3h0.75v0.75h-0.75zM472.1 369.9h0.75v0.75h-0.75zM463.2 375.6h0.75v0.75h-0.75zM471.5 380.6h0.75v0.75h-0.75zM469.1 361.2h0.75v0.75h-0.75zM469.3 359.0h0.75v0.75h-0.75zM461.6 384.7h0.75v0.75h-0.75zM473.6 358.5h0.75v0.75h-0.75zM465.7 380.1h0.75v0.75h-0.75zM469.6 373.1h0.75v0.75h-0.75zM469.5 371.4h0.75v0.75h-0.75zM471.9 380.1h0.75v0.75h-0.75zM472.2 375.5h0.75v0.75h-0.75zM465.5 368.8h0.75v0.75h-0.75zM458.3 381.4h0.75v0.75h-0.75zM473.3 376.4h0.75v0.75h-0.75zM468.8 382.6h0.75v0.75h-0.75zM469.1 374.9h0.75v0.75h-0.75zM469.7 364.8h0.75v0.75h-0.75zM467.0 380.4h0.75v0.75h-0.75zM469.6 366.4h0.75v0.75h-0.75zM473.3 349.2h0.75v0.75h-0.75zM476.0 366.9h0.75v0.75h-0.75zM467.6 375.2h0.75v0.75h-0.75zM468.4 385.4h0.75v0.75h-0.75zM471.0 380.1h0.75v0.75h-0.75zM470.8 379.1h0.75v0.75h-0.75zM466.1 383.4h0.75v0.75h-0.75zM463.0 375.9h0.75v0.75h-0.75zM478.4 384.4h0.75v0.75h-0.75zM471.2 367.5h0.75v0.75h-0.75zM466.2 378.7h0.75v0.75h-0.75zM468.7 371.6h0.75v0.75h-0.75zM478.4 375.8h0.75v0.75h-0.75zM465.7 379.9h0.75v0.75h-0.75zM473.8 362.6h0.75v0.75h-0.75zM474.2 368.5h0.75v0.75h-0.75zM473.3 364.6h0.75v0.75h-0.75zM469.4 385.7h0.75v0.75h-0.75zM469.7 372.9h0.75v0.75h-0.75zM468.3 381.9h0.75v0.75h-0.75zM472.7 373.4h0.75v0.75h-0.75zM469.3 364.3h0.75v0.75h-0.75zM469.1 370.7h0.75v0.75h-0.75zM466.6 368.3h0.75v0.75h-0.75zM469.9 382.2h0.75v0.75h-0.75zM470.0 379.8h0.75v0.75h-0.75zM462.1 374.1h0.75v0.75h-0.75zM465.4 384.3h0.75v0.75h-0.75zM465.3 375.9h0.75v0.75h-0.75zM469.0 373.1h0.75v0.75h-0.75zM466.5 382.2h0.75v0.75h-0.75zM473.5 355.4h0.75v0.75h-0.75zM474.4 383.4h0.75v0.75h-0.75zM462.4 380.2h0.75v0.75h-0.75zM466.8 365.4h0.75v0.75h-0.75zM465.8 378.5h0.75v0.75h-0.75zM470.7 371.8h0.75v0.75h-0.75zM466.0 351.2h0.75v0.75h-0.75zM471.6 361.5h0.75v0.75h-0.75zM468.8 380.7h0.75v0.75h-0.75zM465.9 358.1h0.75v0.75h-0.75zM469.6 371.6h0.75v0.75h-0.75zM463.2 364.4h0.75v0.75h-0.75zM471.0 365.2h0.75v0.75h-0.75zM469.7 357.2h0.75v0.75h-0.75zM472.2 376.8h0.75v0.75h-0.75zM469.5 385.4h0.75v0.75h-0.75zM478.7 367.1h0.75v0.75h-0.75zM464.8 382.1h0.75v0.75h-0.75zM472.2 361.9h0.75v0.75h-0.75zM464.8 362.7h0.75v0.75h-0.75zM474.4 383.8h0.75v0.75h-0.75zM463.8 376.3h0.75v0.75h-0.75zM470.3 382.2h0.75v0.75h-0.75zM468.0 367.4h0.75v0.75h-0.75zM472.5 354.7h0.75v0.75h-0.75zM463.0 380.2h0.75v0.75h-0.75zM469.9 353.2h0.75v0.75h-0.75zM472.6 359.1h0.75v0.75h-0.75zM469.3 359.1h0.75v0.75h-0.75zM461.9 363.2h0.75v0.75h-0.75zM466.6 376.7h0.75v0.75h-0.75zM472.1 383.7h0.75v0.75h-0.75zM465.0 377.1h0.75v0.75h-0.75zM469.9 372.0h0.75v0.75h-0.75zM468.9 350.7h0.75v0.75h-0.75zM471.7 370.5h0.75v0.75h-0.75zM466.6 376.9h0.75v0.75h-0.75zM468.8 371.0h0.75v0.75h-0.75zM470.5 381.1h0.75v0.75h-0.75zM467.0 378.1h0.75v0.75h-0.75zM474.6 380.5h0.75v0.75h-0.75zM464.2 356.4h0.75v0.75h-0.75zM465.9 382.6h0.75v0.75h-0.75zM465.5 372.5h0.75v0.75h-0.75zM464.1 370.4h0.75v0.75h-0.75zM470.2 374.3h0.75v0.75h-0.75zM472.0 370.0h0.75v0.75h-0.75zM474.5 355.7h0.75v0.75h-0.75zM466.8 355.9h0.75v0.75h-0.75zM470.8 385.3h0.75v0.75h-0.75zM465.7 368.3h0.75v0.75h-0.75zM468.5 376.3h0.75v0.75h-0.75zM471.3 352.1h0.75v0.75h-0.75zM467.2 379.7h0.75v0.75h-0.75zM469.9 371.3h0.75v0.75h-0.75zM478.8 374.8h0.75v0.75h-0.75zM464.9 361.4h0.75v0.75h-0.75zM463.3 376.5h0.75v0.75h-0.75zM466.0 375.6h0.75v0.75h-0.75zM465.8 385.5h0.75v0.75h-0.75zM474.1 380.9h0.75v0.75h-0.75zM466.4 385.5h0.75v0.75h-0.75zM469.2 365.8h0.75v0.75h-0.75zM477.2 377.7h0.75v0.75h-0.75zM473.0 372.2h0.75v0.75h-0.75zM476.1 378.7h0.75v0.75h-0.75zM464.3 373.9h0.75v0.75h-0.75zM469.8 371.7h0.75v0.75h-0.75zM469.1 374.8h0.75v0.75h-0.75zM475.5 385.0h0.75v0.75h-0.75zM469.0 377.6h0.75v0.75h-0.75zM472.7 377.1h0.75v0.75h-0.75zM463.1 377.4h0.75v0.75h-0.75zM467.6 379.6h0.75v0.75h-0.75zM470.5 353.4h0.75v0.75h-0.75zM472.8 364.5h0.75v0.75h-0.75zM468.8 374.2h0.75v0.75h-0.75zM466.6 361.1h0.75v0.75h-0.75zM463.7 357.5h0.75v0.75h-0.75zM468.0 380.3h0.75v0.75h-0.75zM465.1 377.7h0.75v0.75h-0.75zM467.3 381.7h0.75v0.75h-0.75zM464.5 385.5h0.75v0.75h-0.75zM469.6 382.4h0.75v0.75h-0.75zM463.7 381.1h0.75v0.75h-0.75zM465.7 355.6h0.75v0.75h-0.75zM466.0 364.8h0.75v0.75h-0.75zM466.0 383.8h0.75v0.75h-0.75zM473.4 369.8h0.75v0.75h-0.75zM469.3 377.1h0.75v0.75h-0.75zM471.2 382.0h0.75v0.75h-0.75zM465.8 385.0h0.75v0.75h-0.75zM469.2 375.8h0.75v0.75h-0.75zM472.6 380.5h0.75v0.75h-0.75zM468.2 378.7h0.75v0.75h-0.75zM466.2 385.1h0.75v0.75h-0.75zM471.2 384.2h0.75v0.75h-0.75zM475.7 363.6h0.75v0.75h-0.75zM473.9 385.3h0.75v0.75h-0.75zM466.1 372.2h0.75v0.75h-0.75zM473.2 371.7h0.75v0.75h-0.75zM463.8 377.4h0.75v0.75h-0.75zM470.2 381.4h0.75v0.75h-0.75zM467.7 355.7h0.75v0.75h-0.75zM470.5 378.8h0.75v0.75h-0.75zM468.7 370.8h0.75v0.75h-0.75zM477.5 373.5h0.75v0.75h-0.75zM464.8 385.3h0.75v0.75h-0.75zM463.9 371.5h0.75v0.75h-0.75zM460.3 364.7h0.75v0.75h-0.75zM467.4 380.1h0.75v0.75h-0.75zM470.0 379.0h0.75v0.75h-0.75zM469.2 367.2h0.75v0.75h-0.75zM471.6 349.3h0.75v0.75h-0.75zM466.7 364.4h0.75v0.75h-0.75zM476.6 379.2h0.75v0.75h-0.75zM466.5 370.6h0.75v0.75h-0.75zM465.4 373.6h0.75v0.75h-0.75zM473.9 385.1h0.75v0.75h-0.75zM474.5 360.4h0.75v0.75h-0.75zM462.9 368.6h0.75v0.75h-0.75zM467.4 370.7h0.75v0.75h-0.75zM477.3 362.1h0.75v0.75h-0.75zM481.0 357.6h0.75v0.75h-0.75zM470.9 375.7h0.75v0.75h-0.75zM470.0 379.1h0.75v0.75h-0.75zM475.8 382.2h0.75v0.75h-0.75zM470.2 365.4h0.75v0.75h-0.75zM473.3 381.3h0.75v0.75h-0.75zM461.2 379.2h0.75v0.75h-0.75zM473.1 385.2h0.75v0.75h-0.75zM468.8 384.4h0.75v0.75h-0.75zM466.9 375.5h0.75v0.75h-0.75zM469.8 360.9h0.75v0.75h-0.75zM474.1 375.1h0.75v0.75h-0.75zM469.0 372.3h0.75v0.75h-0.75zM460.2 370.6h0.75v0.75h-0.75zM466.7 363.3h0.75v0.75h-0.75zM469.8 371.2h0.75v0.75h-0.75zM465.2 377.3h0.75v0.75h-0.75zM470.4 372.1h0.75v0.75h-0.75zM465.5 382.0h0.75v0.75h-0.75zM471.5 379.0h0.75v0.75h-0.75zM460.9 384.9h0.75v0.75h-0.75zM465.9 375.5h0.75v0.75h-0.75zM473.3 374.8h0.75v0.75h-0.75zM465.0 376.7h0.75v0.75h-0.75zM475.4 371.8h0.75v0.75h-0.75zM467.4 374.6h0.75v0.75h-0.75zM466.3 385.1h0.75v0.75h-0.75zM465.9 370.1h0.75v0.75h-0.75zM467.2 377.5h0.75v0.75h-0.75zM470.6 381.5h0.75v0.75h-0.75zM467.7 371.8h0.75v0.75h-0.75zM468.5 385.4h0.75v0.75h-0.75zM471.3 381.7h0.75v0.75h-0.75zM471.8 363.1h0.75v0.75h-0.75zM467.5 374.7h0.75v0.75h-0.75zM469.6 383.0h0.75v0.75h-0.75zM461.4 376.8h0.75v0.75h-0.75zM465.9 379.1h0.75v0.75h-0.75zM469.2 381.7h0.75v0.75h-0.75zM463.0 377.4h0.75v0.75h-0.75zM474.5 355.3h0.75v0.75h-0.75zM469.0 381.3h0.75v0.75h-0.75zM473.5 372.9h0.75v0.75h-0.75zM470.1 367.4h0.75v0.75h-0.75zM464.7 381.1h0.75v0.75h-0.75zM468.8 353.4h0.75v0.75h-0.75zM464.2 373.3h0.75v0.75h-0.75zM466.9 374.5h0.75v0.75h-0.75zM472.7 378.0h0.75v0.75h-0.75zM469.9 385.4h0.75v0.75h-0.75zM461.3 378.9h0.75v0.75h-0.75zM471.7 371.0h0.75v0.75h-0.75zM467.0 383.6h0.75v0.75h-0.75zM475.5 370.5h0.75v0.75h-0.75zM474.5 380.9h0.75v0.75h-0.75zM468.6 360.7h0.75v0.75h-0.75zM470.6 367.3h0.75v0.75h-0.75zM468.0 381.1h0.75v0.75h-0.75zM470.4 369.3h0.75v0.75h-0.75zM474.3 362.1h0.75v0.75h-0.75zM468.8 379.8h0.75v0.75h-0.75zM465.1 384.7h0.75v0.75h-0.75zM473.6 371.9h0.75v0.75h-0.75zM468.0 356.6h0.75v0.75h-0.75zM470.4 385.0h0.75v0.75h-0.75zM473.1 373.1h0.75v0.75h-0.75zM462.3 375.8h0.75v0.75h-0.75zM476.3 365.4h0.75v0.75h-0.75zM461.9 383.3h0.75v0.75h-0.75zM466.9 379.8h0.75v0.75h-0.75zM464.0 383.0h0.75v0.75h-0.75zM467.6 381.6h0.75v0.75h-0.75zM470.8 364.5h0.75v0.75h-0.75zM476.1 358.3h0.75v0.75h-0.75zM464.8 377.1h0.75v0.75h-0.75zM473.4 374.1h0.75v0.75h-0.75zM472.5 383.7h0.75v0.75h-0.75zM470.8 381.9h0.75v0.75h-0.75zM464.9 383.0h0.75v0.75h-0.75zM474.1 369.9h0.75v0.75h-0.75zM471.8 365.4h0.75v0.75h-0.75zM467.1 372.5h0.75v0.75h-0.75zM468.8 379.8h0.75v0.75h-0.75zM469.2 381.2h0.75v0.75h-0.75zM468.1 357.4h0.75v0.75h-0.75zM475.7 368.6h0.75v0.75h-0.75zM469.2 375.5h0.75v0.75h-0.75zM473.6 363.9h0.75v0.75h-0.75zM474.8 363.0h0.75v0.75h-0.75zM471.7 380.4h0.75v0.75h-0.75zM470.2 380.8h0.75v0.75h-0.75zM470.6 367.2h0.75v0.75h-0.75zM473.8 374.0h0.75v0.75h-0.75zM474.3 379.6h0.75v0.75h-0.75zM470.3 351.7h0.75v0.75h-0.75zM468.1 366.2h0.75v0.75h-0.75zM461.4 370.8h0.75v0.75h-0.75zM470.1 379.3h0.75v0.75h-0.75zM466.3 366.3h0.75v0.75h-0.75zM463.4 350.7h0.75v0.75h-0.75zM464.2 384.0h0.75v0.75h-0.75zM462.2 373.8h0.75v0.75h-0.75zM473.5 365.6h0.75v0.75h-0.75zM475.2 371.3h0.75v0.75h-0.75zM464.2 371.0h0.75v0.75h-0.75zM467.8 382.2h0.75v0.75h-0.75zM467.9 376.9h0.75v0.75h-0.75zM464.0 383.8h0.75v0.75h-0.75zM465.2 373.4h0.75v0.75h-0.75zM468.1 372.3h0.75v0.75h-0.75zM463.0 380.9h0.75v0.75h-0.75zM468.3 382.5h0.75v0.75h-0.75zM460.7 380.6h0.75v0.75h-0.75zM475.8 374.6h0.75v0.75h-0.75zM474.6 370.4h0.75v0.75h-0.75zM463.6 379.7h0.75v0.75h-0.75zM475.2 383.4h0.75v0.75h-0.75zM468.7 384.4h0.75v0.75h-0.75zM468.3 377.8h0.75v0.75h-0.75zM466.4 375.4h0.75v0.75h-0.75zM464.6 374.1h0.75v0.75h-0.75zM473.6 356.2h0.75v0.75h-0.75zM463.9 375.1h0.75v0.75h-0.75zM466.8 383.8h0.75v0.75h-0.75zM467.7 377.2h0.75v0.75h-0.75zM471.3 364.9h0.75v0.75h-0.75zM472.3 362.7h0.75v0.75h-0.75zM467.1 375.5h0.75v0.75h-0.75zM465.8 362.8h0.75v0.75h-0.75zM467.9 349.2h0.75v0.75h-0.75zM475.5 382.7h0.75v0.75h-0.75zM469.0 367.4h0.75v0.75h-0.75zM466.8 380.4h0.75v0.75h-0.75zM467.9 381.3h0.75v0.75h-0.75zM471.9 364.3h0.75v0.75h-0.75zM475.0 379.6h0.75v0.75h-0.75zM475.1 374.6h0.75v0.75h-0.75zM468.9 362.8h0.75v0.75h-0.75zM469.9 375.4h0.75v0.75h-0.75zM466.6 367.9h0.75v0.75h-0.75zM466.9 376.3h0.75v0.75h-0.75zM464.1 355.6h0.75v0.75h-0.75zM468.7 363.2h0.75v0.75h-0.75zM468.4 382.5h0.75v0.75h-0.75zM472.8 371.9h0.75v0.75h-0.75zM473.1 361.6h0.75v0.75h-0.75zM466.7 382.2h0.75v0.75h-0.75zM469.6 367.3h0.75v0.75h-0.75zM463.6 374.9h0.75v0.75h-0.75zM471.2 365.2h0.75v0.75h-0.75zM469.3 378.8h0.75v0.75h-0.75zM467.0 372.3h0.75v0.75h-0.75zM471.1 361.1h0.75v0.75h-0.75zM464.7 383.5h0.75v0.75h-0.75zM473.0 384.7h0.75v0.75h-0.75zM467.6 350.8h0.75v0.75h-0.75zM477.7 362.6h0.75v0.75h-0.75zM473.7 362.6h0.75v0.75h-0.75zM469.8 378.7h0.75v0.75h-0.75zM470.7 381.1h0.75v0.75h-0.75zM464.4 382.3h0.75v0.75h-0.75zM461.1 382.7h0.75v0.75h-0.75zM473.8 378.4h0.75v0.75h-0.75zM471.4 381.7h0.75v0.75h-0.75zM471.9 383.5h0.75v0.75h-0.75zM467.5 374.3h0.75v0.75h-0.75zM469.2 368.3h0.75v0.75h-0.75zM467.8 363.7h0.75v0.75h-0.75zM467.3 364.1h0.75v0.75h-0.75zM470.3 379.2h0.75v0.75h-0.75zM466.8 374.7h0.75v0.75h-0.75zM466.7 371.6h0.75v0.75h-0.75zM471.5 382.4h0.75v0.75h-0.75zM474.4 380.1h0.75v0.75h-0.75zM468.8 375.0h0.75v0.75h-0.75zM467.8 367.9h0.75v0.75h-0.75zM462.5 383.7h0.75v0.75h-0.75zM473.1 361.7h0.75v0.75h-0.75zM470.0 352.3h0.75v0.75h-0.75zM464.9 369.6h0.75v0.75h-0.75zM461.9 382.2h0.75v0.75h-0.75zM464.4 356.9h0.75v0.75h-0.75zM471.1 363.2h0.75v0.75h-0.75zM467.0 378.3h0.75v0.75h-0.75zM470.4 367.0h0.75v0.75h-0.75zM468.5 369.4h0.75v0.75h-0.75zM470.8 383.5h0.75v0.75h-0.75zM478.3 380.0h0.75v0.75h-0.75zM470.9 356.9h0.75v0.75h-0.75zM469.0 375.6h0.75v0.75h-0.75zM470.3 368.1h0.75v0.75h-0.75zM470.5 383.7h0.75v0.75h-0.75zM467.8 368.5h0.75v0.75h-0.75zM463.8 368.6h0.75v0.75h-0.75zM463.7 381.1h0.75v0.75h-0.75zM464.8 364.8h0.75v0.75h-0.75zM478.1 377.6h0.75v0.75h-0.75zM461.0 363.2h0.75v0.75h-0.75zM465.3 375.6h0.75v0.75h-0.75zM465.6 369.8h0.75v0.75h-0.75zM465.9 353.6h0.75v0.75h-0.75zM465.2 357.8h0.75v0.75h-0.75zM474.9 372.3h0.75v0.75h-0.75zM464.2 382.8h0.75v0.75h-0.75zM472.2 369.0h0.75v0.75h-0.75zM473.7 381.3h0.75v0.75h-0.75zM471.5 365.5h0.75v0.75h-0.75zM467.5 351.3h0.75v0.75h-0.75zM472.8 366.1h0.75v0.75h-0.75zM471.0 380.0h0.75v0.75h-0.75zM466.6 378.4h0.75v0.75h-0.75zM478.2 367.9h0.75v0.75h-0.75zM473.9 373.9h0.75v0.75h-0.75zM470.3 368.5h0.75v0.75h-0.75zM465.7 366.8h0.75v0.75h-0.75zM469.0 380.7h0.75v0.75h-0.75zM471.3 369.4h0.75v0.75h-0.75zM468.6 369.1h0.75v0.75h-0.75zM471.9 361.6h0.75v0.75h-0.75zM469.5 364.7h0.75v0.75h-0.75zM469.0 367.5h0.75v0.75h-0.75zM472.8 369.1h0.75v0.75h-0.75zM469.8 364.5h0.75v0.75h-0.75zM472.0 358.4h0.75v0.75h-0.75zM469.7 383.6h0.75v0.75h-0.75zM471.5 376.9h0.75v0.75h-0.75zM471.1 352.9h0.75v0.75h-0.75zM469.1 366.0h0.75v0.75h-0.75zM469.8 365.1h0.75v0.75h-0.75zM461.2 383.3h0.75v0.75h-0.75zM465.2 384.1h0.75v0.75h-0.75zM470.7 363.1h0.75v0.75h-0.75zM469.0 369.5h0.75v0.75h-0.75zM467.1 367.0h0.75v0.75h-0.75zM464.6 367.4h0.75v0.75h-0.75zM475.9 363.2h0.75v0.75h-0.75zM467.8 377.0h0.75v0.75h-0.75zM471.6 360.4h0.75v0.75h-0.75zM461.1 370.4h0.75v0.75h-0.75zM471.1 378.5h0.75v0.75h-0.75zM459.5 379.1h0.75v0.75h-0.75zM472.1 376.6h0.75v0.75h-0.75zM468.8 384.5h0.75v0.75h-0.75zM463.0 354.1h0.75v0.75h-0.75zM469.5 384.9h0.75v0.75h-0.75zM462.1 376.9h0.75v0.75h-0.75zM464.3 376.4h0.75v0.75h-0.75zM468.0 365.5h0.75v0.75h-0.75zM463.0 374.3h0.75v0.75h-0.75zM467.7 361.1h0.75v0.75h-0.75zM461.8 380.9h0.75v0.75h-0.75zM466.1 367.4h0.75v0.75h-0.75zM469.4 366.4h0.75v0.75h-0.75zM468.4 378.3h0.75v0.75h-0.75zM472.4 381.6h0.75v0.75h-0.75zM477.1 363.8h0.75v0.75h-0.75zM466.3 382.6h0.75v0.75h-0.75zM467.1 351.6h0.75v0.75h-0.75zM470.8 381.4h0.75v0.75h-0.75zM478.8 376.3h0.75v0.75h-0.75zM467.7 381.7h0.75v0.75h-0.75zM465.1 376.1h0.75v0.75h-0.75zM470.8 378.6h0.75v0.75h-0.75zM468.9 361.7h0.75v0.75h-0.75zM467.0 381.7h0.75v0.75h-0.75zM471.1 375.1h0.75v0.75h-0.75zM475.0 381.9h0.75v0.75h-0.75zM473.8 372.5h0.75v0.75h-0.75zM469.0 379.1h0.75v0.75h-0.75zM469.7 369.4h0.75v0.75h-0.75zM466.5 374.9h0.75v0.75h-0.75zM467.5 374.9h0.75v0.75h-0.75zM467.9 371.4h0.75v0.75h-0.75zM468.4 356.7h0.75v0.75h-0.75zM471.9 349.0h0.75v0.75h-0.75zM476.4 382.7h0.75v0.75h-0.75zM471.9 365.9h0.75v0.75h-0.75zM471.7 367.3h0.75v0.75h-0.75zM464.1 380.7h0.75v0.75h-0.75zM465.8 372.1h0.75v0.75h-0.75zM473.6 377.7h0.75v0.75h-0.75zM462.6 381.4h0.75v0.75h-0.75zM469.8 381.4h0.75v0.75h-0.75zM466.1 363.2h0.75v0.75h-0.75zM464.6 380.1h0.75v0.75h-0.75zM467.0 359.5h0.75v0.75h-0.75zM465.5 381.0h0.75v0.75h-0.75zM469.3 368.9h0.75v0.75h-0.75zM465.8 375.6h0.75v0.75h-0.75zM466.4 381.4h0.75v0.75h-0.75zM472.6 367.9h0.75v0.75h-0.75zM471.2 385.0h0.75v0.75h-0.75zM469.0 351.1h0.75v0.75h-0.75zM474.4 363.0h0.75v0.75h-0.75zM469.6 372.6h0.75v0.75h-0.75zM463.3 377.1h0.75v0.75h-0.75zM475.2 369.4h0.75v0.75h-0.75zM468.4 369.4h0.75v0.75h-0.75zM462.0 378.3h0.75v0.75h-0.75zM471.9 383.3h0.75v0.75h-0.75zM457.3 380.4h0.75v0.75h-0.75zM465.6 382.3h0.75v0.75h-0.75zM477.8 366.3h0.75v0.75h-0.75zM467.4 379.4h0.75v0.75h-0.75zM477.0 376.5h0.75v0.75h-0.75zM470.5 362.8h0.75v0.75h-0.75zM474.8 372.1h0.75v0.75h-0.75zM467.6 372.5h0.75v0.75h-0.75zM468.2 359.2h0.75v0.75h-0.75zM466.8 368.4h0.75v0.75h-0.75zM469.7 376.5h0.75v0.75h-0.75zM467.2 371.5h0.75v0.75h-0.75zM462.9 372.5h0.75v0.75h-0.75zM468.1 383.8h0.75v0.75h-0.75zM469.7 377.2h0.75v0.75h-0.75zM461.6 368.1h0.75v0.75h-0.75zM468.6 381.8h0.75v0.75h-0.75zM472.5 349.3h0.75v0.75h-0.75zM471.0 357.1h0.75v0.75h-0.75zM464.4 373.1h0.75v0.75h-0.75zM471.6 372.2h0.75v0.75h-0.75zM473.9 368.0h0.75v0.75h-0.75zM468.9 378.3h0.75v0.75h-0.75zM467.7 382.8h0.75v0.75h-0.75zM462.3 377.5h0.75v0.75h-0.75zM463.7 373.0h0.75v0.75h-0.75zM472.9 348.9h0.75v0.75h-0.75zM468.7 375.9h0.75v0.75h-0.75zM469.4 360.6h0.75v0.75h-0.75zM467.2 354.6h0.75v0.75h-0.75zM470.7 381.7h0.75v0.75h-0.75zM467.4 379.1h0.75v0.75h-0.75zM465.1 378.2h0.75v0.75h-0.75zM463.4 384.8h0.75v0.75h-0.75zM472.7 358.0h0.75v0.75h-0.75zM462.6 361.9h0.75v0.75h-0.75zM466.2 371.6h0.75v0.75h-0.75zM460.1 371.6h0.75v0.75h-0.75zM469.5 378.6h0.75v0.75h-0.75zM473.1 380.9h0.75v0.75h-0.75zM466.1 385.2h0.75v0.75h-0.75zM472.6 378.6h0.75v0.75h-0.75zM468.5 366.9h0.75v0.75h-0.75zM465.4 381.6h0.75v0.75h-0.75zM466.5 364.0h0.75v0.75h-0.75zM468.7 362.6h0.75v0.75h-0.75zM471.0 379.1h0.75v0.75h-0.75zM468.8 369.1h0.75v0.75h-0.75zM471.6 372.7h0.75v0.75h-0.75zM467.6 374.2h0.75v0.75h-0.75zM470.0 363.7h0.75v0.75h-0.75zM466.9 384.4h0.75v0.75h-0.75zM472.2 356.5h0.75v0.75h-0.75zM476.5 379.6h0.75v0.75h-0.75zM474.9 385.0h0.75v0.75h-0.75zM468.5 382.9h0.75v0.75h-0.75zM469.7 364.1h0.75v0.75h-0.75zM473.7 363.4h0.75v0.75h-0.75zM475.7 385.4h0.75v0.75h-0.75zM466.8 373.1h0.75v0.75h-0.75zM467.4 375.1h0.75v0.75h-0.75zM469.0 374.3h0.75v0.75h-0.75zM474.8 383.9h0.75v0.75h-0.75zM474.5 381.9h0.75v0.75h-0.75zM466.7 355.5h0.75v0.75h-0.75zM461.3 367.5h0.75v0.75h-0.75zM466.8 357.4h0.75v0.75h-0.75zM477.3 374.8h0.75v0.75h-0.75zM468.0 379.8h0.75v0.75h-0.75zM468.5 375.6h0.75v0.75h-0.75zM473.0 384.9h0.75v0.75h-0.75zM468.5 375.0h0.75v0.75h-0.75zM468.4 384.1h0.75v0.75h-0.75zM466.6 375.7h0.75v0.75h-0.75zM467.4 363.9h0.75v0.75h-0.75zM465.6 367.7h0.75v0.75h-0.75zM473.3 381.2h0.75v0.75h-0.75zM471.4 373.2h0.75v0.75h-0.75zM466.2 374.2h0.75v0.75h-0.75zM469.3 380.7h0.75v0.75h-0.75zM472.0 369.7h0.75v0.75h-0.75zM470.1 368.4h0.75v0.75h-0.75zM468.6 373.5h0.75v0.75h-0.75zM467.2 373.5h0.75v0.75h-0.75zM467.9 379.0h0.75v0.75h-0.75zM463.9 382.9h0.75v0.75h-0.75zM464.8 357.9h0.75v0.75h-0.75zM467.7 363.2h0.75v0.75h-0.75zM468.2 380.3h0.75v0.75h-0.75zM468.8 353.6h0.75v0.75h-0.75zM464.5 377.0h0.75v0.75h-0.75zM469.4 372.8h0.75v0.75h-0.75zM466.8 380.4h0.75v0.75h-0.75zM469.6 377.7h0.75v0.75h-0.75zM467.8 368.5h0.75v0.75h-0.75zM473.7 381.9h0.75v0.75h-0.75zM468.2 382.2h0.75v0.75h-0.75zM463.9 364.5h0.75v0.75h-0.75zM467.0 375.8h0.75v0.75h-0.75zM467.1 366.1h0.75v0.75h-0.75zM466.0 385.1h0.75v0.75h-0.75zM462.8 378.2h0.75v0.75h-0.75zM465.5 367.1h0.75v0.75h-0.75zM471.4 353.1h0.75v0.75h-0.75zM471.2 378.4h0.75v0.75h-0.75zM464.0 373.1h0.75v0.75h-0.75zM464.6 380.2h0.75v0.75h-0.75zM472.4 370.8h0.75v0.75h-0.75zM472.6 369.5h0.75v0.75h-0.75zM472.8 370.8h0.75v0.75h-0.75zM469.3 368.4h0.75v0.75h-0.75zM466.6 379.7h0.75v0.75h-0.75zM473.9 378.0h0.75v0.75h-0.75zM470.7 357.6h0.75v0.75h-0.75zM468.7 366.6h0.75v0.75h-0.75zM476.8 370.4h0.75v0.75h-0.75zM464.0 377.5h0.75v0.75h-0.75zM470.0 364.9h0.75v0.75h-0.75zM470.2 363.7h0.75v0.75h-0.75zM469.8 361.0h0.75v0.75h-0.75zM468.6 375.5h0.75v0.75h-0.75zM464.0 382.6h0.75v0.75h-0.75zM470.3 367.6h0.75v0.75h-0.75zM470.0 359.4h0.75v0.75h-0.75zM461.8 358.0h0.75v0.75h-0.75zM468.1 372.9h0.75v0.75h-0.75zM466.5 354.4h0.75v0.75h-0.75zM477.9 377.3h0.75v0.75h-0.75zM468.6 376.8h0.75v0.75h-0.75zM464.2 376.3h0.75v0.75h-0.75zM468.1 372.7h0.75v0.75h-0.75zM475.9 384.1h0.75v0.75h-0.75zM469.8 378.0h0.75v0.75h-0.75zM466.6 367.8h0.75v0.75h-0.75zM470.7 360.0h0.75v0.75h-0.75zM472.6 367.2h0.75v0.75h-0.75zM466.9 365.8h0.75v0.75h-0.75zM465.7 379.9h0.75v0.75h-0.75zM470.3 370.8h0.75v0.75h-0.75zM469.3 376.9h0.75v0.75h-0.75zM463.7 353.2h0.75v0.75h-0.75zM470.8 354.0h0.75v0.75h-0.75zM470.7 362.3h0.75v0.75h-0.75zM463.7 384.8h0.75v0.75h-0.75zM463.9 353.8h0.75v0.75h-0.75zM476.7 375.1h0.75v0.75h-0.75zM465.7 368.4h0.75v0.75h-0.75zM474.1 379.5h0.75v0.75h-0.75zM468.5 365.7h0.75v0.75h-0.75zM470.9 364.5h0.75v0.75h-0.75zM468.9 378.2h0.75v0.75h-0.75zM468.5 366.2h0.75v0.75h-0.75zM479.1 369.3h0.75v0.75h-0.75zM472.2 384.8h0.75v0.75h-0.75zM466.8 375.0h0.75v0.75h-0.75zM464.0 381.5h0.75v0.75h-0.75zM470.7 378.6h0.75v0.75h-0.75zM474.8 360.3h0.75v0.75h-0.75zM464.2 385.6h0.75v0.75h-0.75zM464.1 380.7h0.75v0.75h-0.75zM467.6 379.6h0.75v0.75h-0.75zM462.0 366.8h0.75v0.75h-0.75zM472.8 366.2h0.75v0.75h-0.75zM466.9 383.4h0.75v0.75h-0.75zM476.2 384.0h0.75v0.75h-0.75zM475.3 379.1h0.75v0.75h-0.75zM475.5 367.2h0.75v0.75h-0.75zM472.8 379.3h0.75v0.75h-0.75zM467.0 361.2h0.75v0.75h-0.75zM463.5 352.4h0.75v0.75h-0.75zM466.5 377.3h0.75v0.75h-0.75zM463.6 380.0h0.75v0.75h-0.75zM469.0 383.2h0.75v0.75h-0.75zM464.0 368.8h0.75v0.75h-0.75zM460.8 363.8h0.75v0.75h-0.75zM466.4 384.7h0.75v0.75h-0.75zM471.1 376.6h0.75v0.75h-0.75zM472.8 374.7h0.75v0.75h-0.75zM472.1 358.6h0.75v0.75h-0.75zM470.0 374.0h0.75v0.75h-0.75zM462.4 383.9h0.75v0.75h-0.75zM476.0 349.0h0.75v0.75h-0.75zM467.1 368.7h0.75v0.75h-0.75zM470.6 382.5h0.75v0.75h-0.75zM475.5 385.4h0.75v0.75h-0.75zM464.1 364.9h0.75v0.75h-0.75zM467.6 384.4h0.75v0.75h-0.75zM467.8 368.2h0.75v0.75h-0.75zM472.5 380.9h0.75v0.75h-0.75zM463.5 369.0h0.75v0.75h-0.75zM470.5 381.6h0.75v0.75h-0.75zM472.6 353.7h0.75v0.75h-0.75zM465.4 367.4h0.75v0.75h-0.75zM464.4 362.4h0.75v0.75h-0.75zM468.9 377.5h0.75v0.75h-0.75zM470.8 358.7h0.75v0.75h-0.75zM464.4 377.6h0.75v0.75h-0.75zM467.6 385.2h0.75v0.75h-0.75zM471.0 376.7h0.75v0.75h-0.75zM471.5 373.5h0.75v0.75h-0.75zM465.6 364.1h0.75v0.75h-0.75zM467.0 361.3h0.75v0.75h-0.75zM467.9 374.0h0.75v0.75h-0.75zM465.0 371.2h0.75v0.75h-0.75zM469.8 370.4h0.75v0.75h-0.75zM468.4 370.7h0.75v0.75h-0.75zM467.1 377.7h0.75v0.75h-0.75zM459.1 367.2h0.75v0.75h-0.75zM464.5 375.2h0.75v0.75h-0.75zM465.1 362.2h0.75v0.75h-0.75zM468.9 373.6h0.75v0.75h-0.75zM475.8 373.0h0.75v0.75h-0.75zM469.4 362.0h0.75v0.75h-0.75zM471.9 366.2h0.75v0.75h-0.75zM471.1 373.4h0.75v0.75h-0.75zM467.8 376.7h0.75v0.75h-0.75zM465.7 383.4h0.75v0.75h-0.75zM472.6 385.7h0.75v0.75h-0.75zM461.8 366.3h0.75v0.75h-0.75zM468.8 382.2h0.75v0.75h-0.75zM475.7 385.0h0.75v0.75h-0.75zM468.5 381.6h0.75v0.75h-0.75zM471.8 383.8h0.75v0.75h-0.75zM477.8 385.0h0.75v0.75h-0.75zM455.7 381.4h0.75v0.75h-0.75zM462.0 384.2h0.75v0.75h-0.75zM464.3 382.0h0.75v0.75h-0.75zM463.7 365.9h0.75v0.75h-0.75zM463.6 380.9h0.75v0.75h-0.75zM466.6 378.0h0.75v0.75h-0.75zM469.9 371.2h0.75v0.75h-0.75zM470.3 374.2h0.75v0.75h-0.75zM474.0 384.5h0.75v0.75h-0.75zM462.3 383.5h0.75v0.75h-0.75zM470.2 384.1h0.75v0.75h-0.75zM468.0 382.4h0.75v0.75h-0.75zM471.6 368.2h0.75v0.75h-0.75zM464.5 360.4h0.75v0.75h-0.75zM468.9 369.7h0.75v0.75h-0.75zM468.0 365.3h0.75v0.75h-0.75zM457.8 367.5h0.75v0.75h-0.75zM470.4 358.7h0.75v0.75h-0.75zM461.4 383.9h0.75v0.75h-0.75zM474.6 374.5h0.75v0.75h-0.75zM462.3 377.1h0.75v0.75h-0.75zM466.1 366.6h0.75v0.75h-0.75zM477.2 379.0h0.75v0.75h-0.75zM471.9 352.0h0.75v0.75h-0.75zM464.7 373.2h0.75v0.75h-0.75zM475.6 381.2h0.75v0.75h-0.75zM469.8 366.2h0.75v0.75h-0.75zM471.2 380.5h0.75v0.75h-0.75zM472.9 372.6h0.75v0.75h-0.75zM471.4 378.3h0.75v0.75h-0.75zM459.8 366.9h0.75v0.75h-0.75zM469.2 380.9h0.75v0.75h-0.75zM462.7 380.5h0.75v0.75h-0.75zM469.6 381.0h0.75v0.75h-0.75zM467.9 374.4h0.75v0.75h-0.75zM467.7 377.1h0.75v0.75h-0.75zM472.9 384.8h0.75v0.75h-0.75zM466.5 364.6h0.75v0.75h-0.75zM463.2 375.1h0.75v0.75h-0.75zM467.7 380.8h0.75v0.75h-0.75zM466.9 379.0h0.75v0.75h-0.75zM473.8 378.6h0.75v0.75h-0.75zM468.5 382.0h0.75v0.75h-0.75zM470.0 378.7h0.75v0.75h-0.75zM461.8 367.7h0.75v0.75h-0.75zM467.8 369.1h0.75v0.75h-0.75zM464.5 380.3h0.75v0.75h-0.75zM471.1 382.4h0.75v0.75h-0.75zM463.9 383.4h0.75v0.75h-0.75zM471.0 355.9h0.75v0.75h-0.75zM477.9 367.3h0.75v0.75h-0.75zM471.8 379.4h0.75v0.75h-0.75zM467.3 354.6h0.75v0.75h-0.75zM468.2 372.6h0.75v0.75h-0.75zM467.9 383.0h0.75v0.75h-0.75zM461.7 382.1h0.75v0.75h-0.75zM473.3 364.3h0.75v0.75h-0.75zM472.1 379.6h0.75v0.75h-0.75zM471.9 378.4h0.75v0.75h-0.75zM473.5 356.2h0.75v0.75h-0.75zM468.5 358.9h0.75v0.75h-0.75zM470.1 384.2h0.75v0.75h-0.75zM466.8 360.1h0.75v0.75h-0.75zM471.7 348.9h0.75v0.75h-0.75zM467.0 367.6h0.75v0.75h-0.75zM472.0 378.7h0.75v0.75h-0.75zM477.2 372.1h0.75v0.75h-0.75zM467.6 360.5h0.75v0.75h-0.75zM469.8 376.8h0.75v0.75h-0.75zM469.4 379.8h0.75v0.75h-0.75zM473.0 384.7h0.75v0.75h-0.75zM470.9 376.6h0.75v0.75h-0.75zM473.1 384.6h0.75v0.75h-0.75zM460.0 373.8h0.75v0.75h-0.75zM471.7 375.7h0.75v0.75h-0.75zM466.5 383.2h0.75v0.75h-0.75zM477.7 383.0h0.75v0.75h-0.75zM466.9 370.5h0.75v0.75h-0.75zM469.9 369.5h0.75v0.75h-0.75zM462.1 375.7h0.75v0.75h-0.75zM464.8 372.8h0.75v0.75h-0.75zM472.9 366.7h0.75v0.75h-0.75zM467.4 380.4h0.75v0.75h-0.75zM471.1 380.8h0.75v0.75h-0.75zM465.4 385.0h0.75v0.75h-0.75zM461.5 378.9h0.75v0.75h-0.75zM468.3 384.7h0.75v0.75h-0.75zM476.0 367.9h0.75v0.75h-0.75zM473.7 365.7h0.75v0.75h-0.75zM471.3 372.2h0.75v0.75h-0.75zM467.4 370.5h0.75v0.75h-0.75zM467.9 370.5h0.75v0.75h-0.75zM459.8 371.1h0.75v0.75h-0.75zM467.3 366.3h0.75v0.75h-0.75zM473.3 367.5h0.75v0.75h-0.75zM470.1 379.2h0.75v0.75h-0.75zM473.1 372.8h0.75v0.75h-0.75zM466.6 381.9h0.75v0.75h-0.75zM471.1 362.8h0.75v0.75h-0.75zM471.8 377.5h0.75v0.75h-0.75zM467.4 364.0h0.75v0.75h-0.75zM465.1 368.5h0.75v0.75h-0.75zM469.2 350.6h0.75v0.75h-0.75zM472.5 380.1h0.75v0.75h-0.75zM466.1 360.5h0.75v0.75h-0.75zM477.1 384.0h0.75v0.75h-0.75zM469.1 366.8h0.75v0.75h-0.75zM473.3 358.4h0.75v0.75h-0.75zM472.5 353.5h0.75v0.75h-0.75zM471.8 381.0h0.75v0.75h-0.75zM476.6 373.5h0.75v0.75h-0.75zM475.4 379.3h0.75v0.75h-0.75zM465.9 380.9h0.75v0.75h-0.75zM467.6 373.1h0.75v0.75h-0.75zM471.0 363.5h0.75v0.75h-0.75zM462.7 381.0h0.75v0.75h-0.75zM474.0 381.4h0.75v0.75h-0.75zM469.1 382.2h0.75v0.75h-0.75zM471.9 377.6h0.75v0.75h-0.75zM462.7 385.4h0.75v0.75h-0.75zM469.7 365.6h0.75v0.75h-0.75zM473.7 372.7h0.75v0.75h-0.75zM476.9 365.3h0.75v0.75h-0.75zM466.7 380.2h0.75v0.75h-0.75zM468.0 375.0h0.75v0.75h-0.75zM471.5 382.0h0.75v0.75h-0.75zM468.5 365.8h0.75v0.75h-0.75zM471.5 369.4h0.75v0.75h-0.75zM466.1 358.0h0.75v0.75h-0.75zM469.1 372.7h0.75v0.75h-0.75zM469.2 355.6h0.75v0.75h-0.75zM466.3 350.6h0.75v0.75h-0.75zM470.3 380.8h0.75v0.75h-0.75zM468.8 361.3h0.75v0.75h-0.75zM465.6 366.4h0.75v0.75h-0.75zM466.6 361.4h0.75v0.75h-0.75zM470.7 366.1h0.75v0.75h-0.75zM466.0 383.6h0.75v0.75h-0.75zM467.5 362.5h0.75v0.75h-0.75zM467.5 375.6h0.75v0.75h-0.75zM468.7 373.6h0.75v0.75h-0.75zM467.0 376.9h0.75v0.75h-0.75zM466.9 367.3h0.75v0.75h-0.75zM470.6 370.3h0.75v0.75h-0.75zM466.5 384.2h0.75v0.75h-0.75zM464.7 382.3h0.75v0.75h-0.75zM472.9 364.7h0.75v0.75h-0.75zM461.4 375.5h0.75v0.75h-0.75zM475.5 377.9h0.75v0.75h-0.75zM472.2 383.5h0.75v0.75h-0.75zM474.4 362.6h0.75v0.75h-0.75zM477.4 377.0h0.75v0.75h-0.75zM469.4 378.9h0.75v0.75h-0.75zM468.8 370.0h0.75v0.75h-0.75zM471.7 382.3h0.75v0.75h-0.75zM471.6 383.0h0.75v0.75h-0.75zM473.7 368.3h0.75v0.75h-0.75zM464.4 374.4h0.75v0.75h-0.75zM472.4 381.3h0.75v0.75h-0.75zM473.3 350.3h0.75v0.75h-0.75zM467.0 376.6h0.75v0.75h-0.75zM466.7 378.7h0.75v0.75h-0.75zM467.8 370.1h0.75v0.75h-0.75zM463.8 378.2h0.75v0.75h-0.75zM463.5 376.1h0.75v0.75h-0.75zM465.7 380.0h0.75v0.75h-0.75zM466.4 383.3h0.75v0.75h-0.75zM467.0 368.3h0.75v0.75h-0.75zM467.5 374.5h0.75v0.75h-0.75zM469.4 381.9h0.75v0.75h-0.75zM474.0 357.2h0.75v0.75h-0.75zM470.7 383.2h0.75v0.75h-0.75zM458.5 371.8h0.75v0.75h-0.75zM464.8 353.3h0.75v0.75h-0.75zM465.5 370.4h0.75v0.75h-0.75zM471.3 360.3h0.75v0.75h-0.75zM463.8 378.4h0.75v0.75h-0.75zM472.2 358.8h0.75v0.75h-0.75zM465.0 369.6h0.75v0.75h-0.75zM467.0 378.9h0.75v0.75h-0.75zM471.9 381.3h0.75v0.75h-0.75zM471.5 367.0h0.75v0.75h-0.75zM478.3 370.6h0.75v0.75h-0.75zM465.2 379.6h0.75v0.75h-0.75zM467.7 385.2h0.75v0.75h-0.75zM473.0 377.2h0.75v0.75h-0.75zM470.3 348.9h0.75v0.75h-0.75zM466.3 356.7h0.75v0.75h-0.75zM468.5 379.4h0.75v0.75h-0.75zM463.5 380.1h0.75v0.75h-0.75zM465.3 373.1h0.75v0.75h-0.75zM468.2 365.3h0.75v0.75h-0.75zM470.6 349.5h0.75v0.75h-0.75zM475.9 376.2h0.75v0.75h-0.75zM466.0 362.5h0.75v0.75h-0.75zM469.9 377.1h0.75v0.75h-0.75zM469.0 380.3h0.75v0.75h-0.75zM467.0 359.3h0.75v0.75h-0.75zM469.4 376.3h0.75v0.75h-0.75zM466.1 361.9h0.75v0.75h-0.75zM462.6 379.0h0.75v0.75h-0.75zM469.6 376.1h0.75v0.75h-0.75zM469.5 360.4h0.75v0.75h-0.75zM471.9 373.5h0.75v0.75h-0.75zM470.0 374.9h0.75v0.75h-0.75zM465.9 364.5h0.75v0.75h-0.75zM469.8 364.2h0.75v0.75h-0.75zM470.5 383.1h0.75v0.75h-0.75zM467.3 351.7h0.75v0.75h-0.75zM469.7 366.1h0.75v0.75h-0.75zM463.6 364.1h0.75v0.75h-0.75zM470.0 378.0h0.75v0.75h-0.75zM469.5 380.6h0.75v0.75h-0.75zM463.4 383.0h0.75v0.75h-0.75zM465.4 377.3h0.75v0.75h-0.75zM472.7 382.7h0.75v0.75h-0.75zM472.8 383.4h0.75v0.75h-0.75zM467.1 384.6h0.75v0.75h-0.75zM473.0 378.8h0.75v0.75h-0.75zM468.7 378.3h0.75v0.75h-0.75zM466.5 383.2h0.75v0.75h-0.75zM470.2 366.9h0.75v0.75h-0.75zM472.1 351.4h0.75v0.75h-0.75zM473.6 361.1h0.75v0.75h-0.75zM471.5 375.3h0.75v0.75h-0.75zM469.2 371.4h0.75v0.75h-0.75zM467.2 366.2h0.75v0.75h-0.75zM470.5 365.7h0.75v0.75h-0.75zM467.7 374.4h0.75v0.75h-0.75zM467.9 373.3h0.75v0.75h-0.75zM467.0 377.4h0.75v0.75h-0.75zM464.2 362.6h0.75v0.75h-0.75zM472.2 362.1h0.75v0.75h-0.75zM465.1 362.9h0.75v0.75h-0.75zM470.8 378.5h0.75v0.75h-0.75zM470.4 381.7h0.75v0.75h-0.75zM475.6 375.7h0.75v0.75h-0.75zM467.4 376.5h0.75v0.75h-0.75zM468.7 368.1h0.75v0.75h-0.75zM467.1 361.6h0.75v0.75h-0.75zM463.0 371.4h0.75v0.75h-0.75zM474.6 384.0h0.75v0.75h-0.75zM469.5 378.5h0.75v0.75h-0.75zM463.8 378.1h0.75v0.75h-0.75zM476.6 376.1h0.75v0.75h-0.75zM467.2 374.1h0.75v0.75h-0.75zM467.2 372.5h0.75v0.75h-0.75zM467.1 378.2h0.75v0.75h-0.75zM469.8 380.3h0.75v0.75h-0.75zM463.1 380.5h0.75v0.75h-0.75zM474.0 370.7h0.75v0.75h-0.75zM477.8 373.6h0.75v0.75h-0.75zM473.5 365.3h0.75v0.75h-0.75zM467.9 371.1h0.75v0.75h-0.75zM467.9 367.2h0.75v0.75h-0.75zM474.9 370.2h0.75v0.75h-0.75zM470.3 377.8h0.75v0.75h-0.75zM464.4 379.3h0.75v0.75h-0.75zM464.8 355.9h0.75v0.75h-0.75zM467.7 364.8h0.75v0.75h-0.75zM466.7 384.1h0.75v0.75h-0.75zM463.2 351.5h0.75v0.75h-0.75zM465.7 362.0h0.75v0.75h-0.75zM473.6 375.9h0.75v0.75h-0.75zM466.4 371.6h0.75v0.75h-0.75zM474.0 369.9h0.75v0.75h-0.75zM467.4 384.2h0.75v0.75h-0.75zM458.5 362.8h0.75v0.75h-0.75zM471.6 381.7h0.75v0.75h-0.75zM464.7 380.9h0.75v0.75h-0.75zM469.9 373.3h0.75v0.75h-0.75zM466.9 370.1h0.75v0.75h-0.75zM465.7 385.6h0.75v0.75h-0.75zM474.1 373.5h0.75v0.75h-0.75zM462.3 384.1h0.75v0.75h-0.75zM467.3 356.1h0.75v0.75h-0.75zM472.7 376.7h0.75v0.75h-0.75zM469.4 370.0h0.75v0.75h-0.75zM472.9 360.8h0.75v0.75h-0.75zM460.9 372.9h0.75v0.75h-0.75zM469.2 384.4h0.75v0.75h-0.75zM462.8 367.3h0.75v0.75h-0.75zM462.1 367.3h0.75v0.75h-0.75zM471.3 373.5h0.75v0.75h-0.75zM461.0 379.8h0.75v0.75h-0.75zM470.2 369.3h0.75v0.75h-0.75zM470.0 369.1h0.75v0.75h-0.75zM472.1 361.1h0.75v0.75h-0.75zM462.6 382.3h0.75v0.75h-0.75zM472.4 362.0h0.75v0.75h-0.75zM467.3 365.9h0.75v0.75h-0.75zM469.4 357.0h0.75v0.75h-0.75zM467.8 370.4h0.75v0.75h-0.75zM463.8 377.8h0.75v0.75h-0.75zM470.4 372.9h0.75v0.75h-0.75zM472.6 376.8h0.75v0.75h-0.75zM469.2 368.1h0.75v0.75h-0.75zM471.0 381.5h0.75v0.75h-0.75zM469.3 376.8h0.75v0.75h-0.75zM467.5 376.4h0.75v0.75h-0.75zM468.6 383.8h0.75v0.75h-0.75zM461.7 366.2h0.75v0.75h-0.75zM469.6 364.8h0.75v0.75h-0.75zM475.1 384.2h0.75v0.75h-0.75zM467.3 381.2h0.75v0.75h-0.75zM471.4 379.5h0.75v0.75h-0.75zM468.3 383.8h0.75v0.75h-0.75zM465.9 358.2h0.75v0.75h-0.75zM464.7 384.1h0.75v0.75h-0.75zM465.3 383.7h0.75v0.75h-0.75zM472.1 385.0h0.75v0.75h-0.75zM463.7 383.0h0.75v0.75h-0.75zM467.9 380.1h0.75v0.75h-0.75zM466.7 372.9h0.75v0.75h-0.75zM465.6 364.3h0.75v0.75h-0.75zM475.2 375.8h0.75v0.75h-0.75zM472.5 374.5h0.75v0.75h-0.75zM470.9 367.2h0.75v0.75h-0.75zM462.7 374.7h0.75v0.75h-0.75zM470.3 375.5h0.75v0.75h-0.75zM470.0 372.2h0.75v0.75h-0.75zM469.9 375.8h0.75v0.75h-0.75zM469.3 384.9h0.75v0.75h-0.75zM467.8 359.4h0.75v0.75h-0.75zM465.8 380.2h0.75v0.75h-0.75zM467.9 381.7h0.75v0.75h-0.75zM474.2 368.3h0.75v0.75h-0.75zM470.1 385.6h0.75v0.75h-0.75zM475.1 375.9h0.75v0.75h-0.75zM460.1 385.8h0.75v0.75h-0.75zM467.4 360.1h0.75v0.75h-0.75zM467.0 381.7h0.75v0.75h-0.75zM463.6 360.8h0.75v0.75h-0.75zM470.4 383.2h0.75v0.75h-0.75zM470.4 384.4h0.75v0.75h-0.75zM466.9 353.5h0.75v0.75h-0.75zM473.0 379.0h0.75v0.75h-0.75zM467.5 353.5h0.75v0.75h-0.75zM468.2 382.0h0.75v0.75h-0.75zM470.2 382.8h0.75v0.75h-0.75zM464.3 372.8h0.75v0.75h-0.75zM462.7 383.3h0.75v0.75h-0.75zM470.2 364.6h0.75v0.75h-0.75zM467.2 381.1h0.75v0.75h-0.75zM471.6 358.8h0.75v0.75h-0.75zM468.9 351.7h0.75v0.75h-0.75zM467.8 382.9h0.75v0.75h-0.75zM467.8 380.0h0.75v0.75h-0.75zM469.6 382.3h0.75v0.75h-0.75zM471.7 375.8h0.75v0.75h-0.75zM467.1 358.4h0.75v0.75h-0.75zM469.8 368.2h0.75v0.75h-0.75zM464.4 363.9h0.75v0.75h-0.75zM475.1 376.9h0.75v0.75h-0.75zM472.5 370.4h0.75v0.75h-0.75zM467.4 366.7h0.75v0.75h-0.75zM473.4 382.7h0.75v0.75h-0.75zM466.1 383.1h0.75v0.75h-0.75zM466.5 373.6h0.75v0.75h-0.75zM461.0 379.8h0.75v0.75h-0.75zM472.1 359.3h0.75v0.75h-0.75zM471.1 377.5h0.75v0.75h-0.75zM462.5 382.1h0.75v0.75h-0.75zM470.2 372.2h0.75v0.75h-0.75zM476.0 371.0h0.75v0.75h-0.75zM468.9 377.8h0.75v0.75h-0.75zM468.3 376.1h0.75v0.75h-0.75zM465.5 364.4h0.75v0.75h-0.75zM472.3 374.6h0.75v0.75h-0.75zM462.9 383.2h0.75v0.75h-0.75zM464.2 380.7h0.75v0.75h-0.75zM469.3 376.4h0.75v0.75h-0.75zM461.7 384.0h0.75v0.75h-0.75zM468.7 375.2h0.75v0.75h-0.75zM467.8 361.4h0.75v0.75h-0.75zM466.7 361.2h0.75v0.75h-0.75zM468.9 379.7h0.75v0.75h-0.75zM463.9 381.6h0.75v0.75h-0.75zM471.5 382.6h0.75v0.75h-0.75zM467.1 350.2h0.75v0.75h-0.75zM468.2 352.5h0.75v0.75h-0.75zM469.6 380.9h0.75v0.75h-0.75zM469.7 366.9h0.75v0.75h-0.75zM464.7 382.1h0.75v0.75h-0.75zM468.6 379.8h0.75v0.75h-0.75zM466.6 377.5h0.75v0.75h-0.75zM472.5 375.5h0.75v0.75h-0.75zM471.0 365.1h0.75v0.75h-0.75zM466.4 372.6h0.75v0.75h-0.75zM472.8 359.5h0.75v0.75h-0.75zM467.7 381.0h0.75v0.75h-0.75zM474.4 370.5h0.75v0.75h-0.75zM471.8 367.3h0.75v0.75h-0.75zM467.4 380.1h0.75v0.75h-0.75zM467.4 366.4h0.75v0.75h-0.75zM467.6 362.9h0.75v0.75h-0.75zM468.7 370.6h0.75v0.75h-0.75zM467.1 356.4h0.75v0.75h-0.75zM459.9 381.3h0.75v0.75h-0.75zM467.4 366.7h0.75v0.75h-0.75zM463.2 383.6h0.75v0.75h-0.75zM474.3 385.1h0.75v0.75h-0.75zM465.6 382.7h0.75v0.75h-0.75zM465.6 379.7h0.75v0.75h-0.75zM471.2 382.3h0.75v0.75h-0.75zM472.5 383.2h0.75v0.75h-0.75zM467.0 368.5h0.75v0.75h-0.75zM472.4 354.2h0.75v0.75h-0.75zM464.4 374.9h0.75v0.75h-0.75zM470.1 369.1h0.75v0.75h-0.75zM478.0 379.3h0.75v0.75h-0.75zM464.7 380.3h0.75v0.75h-0.75zM466.9 365.4h0.75v0.75h-0.75zM469.5 368.7h0.75v0.75h-0.75zM465.9 379.3h0.75v0.75h-0.75zM471.1 375.2h0.75v0.75h-0.75zM470.3 378.0h0.75v0.75h-0.75zM472.0 377.6h0.75v0.75h-0.75zM465.7 358.8h0.75v0.75h-0.75zM466.3 378.4h0.75v0.75h-0.75zM466.2 366.6h0.75v0.75h-0.75zM473.0 377.2h0.75v0.75h-0.75zM478.4 361.5h0.75v0.75h-0.75zM472.1 364.2h0.75v0.75h-0.75zM468.5 368.3h0.75v0.75h-0.75zM471.0 382.1h0.75v0.75h-0.75zM476.3 383.2h0.75v0.75h-0.75zM472.2 384.4h0.75v0.75h-0.75zM469.6 374.9h0.75v0.75h-0.75zM466.5 383.2h0.75v0.75h-0.75zM473.4 382.7h0.75v0.75h-0.75zM469.3 353.3h0.75v0.75h-0.75zM467.7 354.4h0.75v0.75h-0.75zM468.4 383.4h0.75v0.75h-0.75zM466.0 373.0h0.75v0.75h-0.75zM475.2 367.7h0.75v0.75h-0.75zM467.9 374.9h0.75v0.75h-0.75zM464.2 369.7h0.75v0.75h-0.75zM467.9 378.4h0.75v0.75h-0.75zM469.8 360.2h0.75v0.75h-0.75zM472.6 372.8h0.75v0.75h-0.75zM470.5 370.7h0.75v0.75h-0.75zM470.2 373.0h0.75v0.75h-0.75zM466.7 380.7h0.75v0.75h-0.75zM462.5 384.4h0.75v0.75h-0.75zM468.9 381.6h0.75v0.75h-0.75zM465.8 365.7h0.75v0.75h-0.75zM474.1 359.4h0.75v0.75h-0.75zM464.7 371.2h0.75v0.75h-0.75zM477.2 353.1h0.75v0.75h-0.75zM466.0 384.8h0.75v0.75h-0.75zM470.1 372.7h0.75v0.75h-0.75zM466.0 361.5h0.75v0.75h-0.75zM467.0 381.7h0.75v0.75h-0.75zM466.1 379.2h0.75v0.75h-0.75zM472.1 383.9h0.75v0.75h-0.75zM470.7 376.0h0.75v0.75h-0.75zM462.0 370.4h0.75v0.75h-0.75zM459.4 367.7h0.75v0.75h-0.75zM463.5 373.9h0.75v0.75h-0.75zM469.9 375.9h0.75v0.75h-0.75zM470.6 370.3h0.75v0.75h-0.75zM468.1 354.3h0.75v0.75h-0.75zM470.4 379.6h0.75v0.75h-0.75zM475.0 383.9h0.75v0.75h-0.75zM469.7 379.3h0.75v0.75h-0.75zM472.2 370.1h0.75v0.75h-0.75zM468.8 356.8h0.75v0.75h-0.75zM462.0 370.3h0.75v0.75h-0.75zM469.0 384.6h0.75v0.75h-0.75zM470.6 378.5h0.75v0.75h-0.75zM469.3 382.3h0.75v0.75h-0.75zM468.5 378.3h0.75v0.75h-0.75zM472.5 370.8h0.75v0.75h-0.75zM469.1 380.0h0.75v0.75h-0.75zM465.3 384.7h0.75v0.75h-0.75zM470.1 383.1h0.75v0.75h-0.75zM462.6 364.9h0.75v0.75h-0.75zM456.1 381.9h0.75v0.75h-0.75zM466.4 376.9h0.75v0.75h-0.75zM470.5 374.5h0.75v0.75h-0.75zM464.2 383.8h0.75v0.75h-0.75zM474.0 380.7h0.75v0.75h-0.75zM470.8 374.6h0.75v0.75h-0.75zM462.8 377.8h0.75v0.75h-0.75zM472.5 362.9h0.75v0.75h-0.75zM472.2 368.9h0.75v0.75h-0.75zM471.3 369.0h0.75v0.75h-0.75zM469.6 380.5h0.75v0.75h-0.75zM465.9 364.6h0.75v0.75h-0.75zM467.5 361.6h0.75v0.75h-0.75zM466.8 360.1h0.75v0.75h-0.75zM472.0 376.0h0.75v0.75h-0.75zM463.7 381.5h0.75v0.75h-0.75zM464.3 383.9h0.75v0.75h-0.75zM471.0 357.7h0.75v0.75h-0.75zM470.6 373.8h0.75v0.75h-0.75zM466.3 368.3h0.75v0.75h-0.75zM469.1 378.7h0.75v0.75h-0.75zM463.3 378.2h0.75v0.75h-0.75zM468.7 379.1h0.75v0.75h-0.75zM475.2 359.2h0.75v0.75h-0.75zM467.6 357.7h0.75v0.75h-0.75zM468.5 377.8h0.75v0.75h-0.75zM466.7 363.8h0.75v0.75h-0.75zM469.9 364.2h0.75v0.75h-0.75zM462.8 372.4h0.75v0.75h-0.75zM468.8 352.2h0.75v0.75h-0.75zM465.8 375.6h0.75v0.75h-0.75zM465.3 384.7h0.75v0.75h-0.75zM466.7 368.5h0.75v0.75h-0.75zM473.4 370.8h0.75v0.75h-0.75zM475.0 365.4h0.75v0.75h-0.75zM474.5 372.3h0.75v0.75h-0.75zM467.8 370.8h0.75v0.75h-0.75zM469.8 359.5h0.75v0.75h-0.75zM472.7 380.2h0.75v0.75h-0.75zM466.6 361.1h0.75v0.75h-0.75zM465.6 381.8h0.75v0.75h-0.75zM471.1 385.4h0.75v0.75h-0.75zM462.3 383.1h0.75v0.75h-0.75zM470.4 383.0h0.75v0.75h-0.75zM470.8 361.5h0.75v0.75h-0.75zM461.5 367.7h0.75v0.75h-0.75zM471.3 372.0h0.75v0.75h-0.75zM472.3 369.7h0.75v0.75h-0.75zM462.7 382.1h0.75v0.75h-0.75zM468.8 376.2h0.75v0.75h-0.75zM468.5 361.1h0.75v0.75h-0.75zM462.5 383.1h0.75v0.75h-0.75zM467.9 372.2h0.75v0.75h-0.75zM474.5 376.2h0.75v0.75h-0.75zM466.2 354.4h0.75v0.75h-0.75zM465.6 377.3h0.75v0.75h-0.75zM472.9 374.3h0.75v0.75h-0.75zM465.3 362.6h0.75v0.75h-0.75zM472.4 376.5h0.75v0.75h-0.75zM467.4 356.7h0.75v0.75h-0.75zM470.8 376.7h0.75v0.75h-0.75zM470.0 385.5h0.75v0.75h-0.75zM470.3 366.1h0.75v0.75h-0.75zM474.0 380.0h0.75v0.75h-0.75zM473.6 372.9h0.75v0.75h-0.75zM473.3 377.3h0.75v0.75h-0.75zM468.6 379.6h0.75v0.75h-0.75zM467.4 366.4h0.75v0.75h-0.75zM465.3 385.6h0.75v0.75h-0.75zM471.2 372.2h0.75v0.75h-0.75zM470.9 384.6h0.75v0.75h-0.75zM471.9 382.6h0.75v0.75h-0.75zM472.0 385.2h0.75v0.75h-0.75zM462.2 381.0h0.75v0.75h-0.75zM470.0 362.6h0.75v0.75h-0.75zM478.3 375.5h0.75v0.75h-0.75zM471.2 358.2h0.75v0.75h-0.75zM474.6 383.9h0.75v0.75h-0.75zM465.5 360.0h0.75v0.75h-0.75zM464.7 377.8h0.75v0.75h-0.75zM477.2 358.3h0.75v0.75h-0.75zM464.7 374.2h0.75v0.75h-0.75zM465.6 380.6h0.75v0.75h-0.75zM471.5 383.7h0.75v0.75h-0.75zM466.4 374.8h0.75v0.75h-0.75zM468.3 360.6h0.75v0.75h-0.75zM472.1 369.5h0.75v0.75h-0.75zM462.9 376.2h0.75v0.75h-0.75zM471.6 374.0h0.75v0.75h-0.75zM472.1 364.2h0.75v0.75h-0.75zM464.8 382.1h0.75v0.75h-0.75zM463.7 366.2h0.75v0.75h-0.75zM466.4 362.8h0.75v0.75h-0.75zM470.5 383.0h0.75v0.75h-0.75zM461.5 374.6h0.75v0.75h-0.75zM464.5 375.7h0.75v0.75h-0.75zM460.3 374.3h0.75v0.75h-0.75zM471.9 369.6h0.75v0.75h-0.75zM471.1 364.2h0.75v0.75h-0.75zM475.3 370.2h0.75v0.75h-0.75zM466.8 384.8h0.75v0.75h-0.75zM465.9 381.7h0.75v0.75h-0.75zM461.6 362.8h0.75v0.75h-0.75zM462.1 379.6h0.75v0.75h-0.75zM470.2 370.3h0.75v0.75h-0.75zM470.8 385.8h0.75v0.75h-0.75zM472.3 366.2h0.75v0.75h-0.75zM471.3 363.5h0.75v0.75h-0.75zM466.7 376.0h0.75v0.75h-0.75zM466.2 361.6h0.75v0.75h-0.75zM470.3 379.7h0.75v0.75h-0.75zM466.6 378.4h0.75v0.75h-0.75zM474.7 358.5h0.75v0.75h-0.75zM472.5 372.3h0.75v0.75h-0.75zM474.0 380.6h0.75v0.75h-0.75zM467.6 380.3h0.75v0.75h-0.75zM483.3 364.3h0.75v0.75h-0.75zM470.8 381.8h0.75v0.75h-0.75zM464.6 381.4h0.75v0.75h-0.75zM467.0 380.1h0.75v0.75h-0.75zM474.2 378.7h0.75v0.75h-0.75zM467.0 385.2h0.75v0.75h-0.75zM462.5 379.3h0.75v0.75h-0.75zM470.7 355.8h0.75v0.75h-0.75zM467.4 376.8h0.75v0.75h-0.75zM473.9 384.1h0.75v0.75h-0.75zM477.4 359.4h0.75v0.75h-0.75zM471.9 359.2h0.75v0.75h-0.75zM470.8 365.8h0.75v0.75h-0.75zM470.2 381.7h0.75v0.75h-0.75zM469.8 385.2h0.75v0.75h-0.75zM469.1 376.0h0.75v0.75h-0.75zM471.2 384.0h0.75v0.75h-0.75zM474.1 361.7h0.75v0.75h-0.75zM474.6 361.2h0.75v0.75h-0.75zM464.6 376.5h0.75v0.75h-0.75zM472.4 368.5h0.75v0.75h-0.75zM469.7 384.5h0.75v0.75h-0.75zM468.8 379.3h0.75v0.75h-0.75zM475.9 371.2h0.75v0.75h-0.75zM463.7 381.6h0.75v0.75h-0.75zM466.2 382.0h0.75v0.75h-0.75zM462.7 370.2h0.75v0.75h-0.75zM467.9 370.1h0.75v0.75h-0.75zM468.5 375.9h0.75v0.75h-0.75zM465.8 372.2h0.75v0.75h-0.75zM466.2 359.5h0.75v0.75h-0.75zM468.5 371.8h0.75v0.75h-0.75zM472.4 374.8h0.75v0.75h-0.75zM471.5 363.5h0.75v0.75h-0.75zM479.6 383.3h0.75v0.75h-0.75zM473.3 363.8h0.75v0.75h-0.75zM468.4 354.1h0.75v0.75h-0.75zM468.5 383.2h0.75v0.75h-0.75zM472.4 353.9h0.75v0.75h-0.75zM467.7 376.9h0.75v0.75h-0.75zM467.4 374.0h0.75v0.75h-0.75zM468.7 372.0h0.75v0.75h-0.75zM467.0 369.8h0.75v0.75h-0.75zM474.2 369.3h0.75v0.75h-0.75zM468.0 384.3h0.75v0.75h-0.75zM467.1 380.3h0.75v0.75h-0.75zM469.7 355.3h0.75v0.75h-0.75zM465.1 377.7h0.75v0.75h-0.75zM463.5 378.4h0.75v0.75h-0.75zM473.2 385.0h0.75v0.75h-0.75zM463.9 373.8h0.75v0.75h-0.75zM468.2 381.8h0.75v0.75h-0.75zM472.8 370.1h0.75v0.75h-0.75zM478.9 374.4h0.75v0.75h-0.75zM463.9 382.5h0.75v0.75h-0.75zM463.1 383.5h0.75v0.75h-0.75zM461.7 382.0h0.75v0.75h-0.75zM471.9 372.9h0.75v0.75h-0.75zM468.1 373.2h0.75v0.75h-0.75zM475.0 372.3h0.75v0.75h-0.75zM465.1 380.6h0.75v0.75h-0.75zM463.2 383.3h0.75v0.75h-0.75zM475.2 378.9h0.75v0.75h-0.75zM470.7 378.6h0.75v0.75h-0.75zM476.9 368.5h0.75v0.75h-0.75zM473.6 352.1h0.75v0.75h-0.75zM459.7 370.6h0.75v0.75h-0.75zM467.6 381.0h0.75v0.75h-0.75zM474.0 362.1h0.75v0.75h-0.75zM461.5 364.0h0.75v0.75h-0.75zM473.9 355.9h0.75v0.75h-0.75zM467.0 366.2h0.75v0.75h-0.75zM476.8 385.0h0.75v0.75h-0.75zM463.2 379.9h0.75v0.75h-0.75zM460.8 368.2h0.75v0.75h-0.75zM463.3 368.0h0.75v0.75h-0.75zM462.5 385.3h0.75v0.75h-0.75zM469.2 383.4h0.75v0.75h-0.75zM467.8 367.4h0.75v0.75h-0.75zM471.8 377.9h0.75v0.75h-0.75zM469.0 376.0h0.75v0.75h-0.75zM472.8 351.4h0.75v0.75h-0.75zM468.6 375.3h0.75v0.75h-0.75zM472.2 373.5h0.75v0.75h-0.75zM473.3 375.5h0.75v0.75h-0.75zM466.9 367.3h0.75v0.75h-0.75zM468.6 365.9h0.75v0.75h-0.75zM468.1 381.9h0.75v0.75h-0.75zM470.6 364.9h0.75v0.75h-0.75zM462.2 376.2h0.75v0.75h-0.75zM466.8 357.4h0.75v0.75h-0.75zM472.7 369.0h0.75v0.75h-0.75zM469.5 385.8h0.75v0.75h-0.75zM469.5 373.6h0.75v0.75h-0.75zM471.7 374.1h0.75v0.75h-0.75zM465.1 381.2h0.75v0.75h-0.75zM465.0 358.7h0.75v0.75h-0.75zM471.8 368.7h0.75v0.75h-0.75zM462.6 373.0h0.75v0.75h-0.75zM467.4 352.8h0.75v0.75h-0.75zM466.9 370.4h0.75v0.75h-0.75zM462.9 359.3h0.75v0.75h-0.75zM470.8 376.0h0.75v0.75h-0.75zM469.3 381.1h0.75v0.75h-0.75zM468.6 376.5h0.75v0.75h-0.75zM468.7 375.3h0.75v0.75h-0.75zM469.5 367.2h0.75v0.75h-0.75zM468.5 379.8h0.75v0.75h-0.75zM463.9 363.0h0.75v0.75h-0.75zM466.0 376.2h0.75v0.75h-0.75zM461.6 385.5h0.75v0.75h-0.75zM464.0 367.5h0.75v0.75h-0.75zM461.2 383.2h0.75v0.75h-0.75zM465.9 371.3h0.75v0.75h-0.75zM470.3 383.4h0.75v0.75h-0.75zM471.8 363.5h0.75v0.75h-0.75zM465.5 367.7h0.75v0.75h-0.75zM465.3 372.5h0.75v0.75h-0.75zM473.8 385.7h0.75v0.75h-0.75zM465.9 383.7h0.75v0.75h-0.75zM481.1 367.6h0.75v0.75h-0.75zM463.2 383.3h0.75v0.75h-0.75zM465.8 355.5h0.75v0.75h-0.75zM472.8 377.0h0.75v0.75h-0.75zM465.7 380.0h0.75v0.75h-0.75zM467.6 374.7h0.75v0.75h-0.75zM471.2 382.6h0.75v0.75h-0.75zM473.2 374.6h0.75v0.75h-0.75zM474.5 350.0h0.75v0.75h-0.75zM470.1 368.9h0.75v0.75h-0.75zM465.0 368.4h0.75v0.75h-0.75zM466.4 367.9h0.75v0.75h-0.75zM471.0 378.8h0.75v0.75h-0.75zM462.9 380.0h0.75v0.75h-0.75zM474.3 379.3h0.75v0.75h-0.75zM465.7 352.8h0.75v0.75h-0.75zM464.5 377.5h0.75v0.75h-0.75zM471.3 356.4h0.75v0.75h-0.75zM468.2 354.5h0.75v0.75h-0.75zM465.1 371.0h0.75v0.75h-0.75zM467.6 379.2h0.75v0.75h-0.75zM472.3 382.9h0.75v0.75h-0.75zM469.4 377.1h0.75v0.75h-0.75zM472.0 351.7h0.75v0.75h-0.75zM468.4 380.1h0.75v0.75h-0.75zM462.7 378.3h0.75v0.75h-0.75zM468.9 364.7h0.75v0.75h-0.75zM470.8 375.3h0.75v0.75h-0.75zM464.9 382.4h0.75v0.75h-0.75zM469.2 368.7h0.75v0.75h-0.75zM476.2 376.4h0.75v0.75h-0.75zM475.6 379.0h0.75v0.75h-0.75zM474.2 382.2h0.75v0.75h-0.75zM462.7 376.1h0.75v0.75h-0.75zM469.3 382.0h0.75v0.75h-0.75zM465.6 370.9h0.75v0.75h-0.75zM467.1 377.0h0.75v0.75h-0.75zM465.2 384.9h0.75v0.75h-0.75zM464.4 375.4h0.75v0.75h-0.75zM474.0 377.3h0.75v0.75h-0.75zM462.4 364.7h0.75v0.75h-0.75zM474.0 358.5h0.75v0.75h-0.75zM468.0 377.3h0.75v0.75h-0.75zM465.2 365.6h0.75v0.75h-0.75zM458.5 374.4h0.75v0.75h-0.75zM471.5 363.1h0.75v0.75h-0.75zM475.6 373.6h0.75v0.75h-0.75zM469.7 359.8h0.75v0.75h-0.75zM471.3 384.2h0.75v0.75h-0.75zM469.8 376.5h0.75v0.75h-0.75zM468.2 371.2h0.75v0.75h-0.75zM471.9 375.5h0.75v0.75h-0.75zM466.2 374.9h0.75v0.75h-0.75zM461.8 372.6h0.75v0.75h-0.75zM471.5 373.8h0.75v0.75h-0.75zM475.5 374.7h0.75v0.75h-0.75zM475.3 384.5h0.75v0.75h-0.75zM465.7 380.6h0.75v0.75h-0.75zM468.5 367.5h0.75v0.75h-0.75zM470.1 373.1h0.75v0.75h-0.75zM463.3 382.8h0.75v0.75h-0.75zM462.1 376.2h0.75v0.75h-0.75zM465.7 375.0h0.75v0.75h-0.75zM464.6 369.5h0.75v0.75h-0.75zM465.3 378.5h0.75v0.75h-0.75zM470.5 377.4h0.75v0.75h-0.75zM469.0 385.8h0.75v0.75h-0.75zM467.5 381.7h0.75v0.75h-0.75zM467.1 377.1h0.75v0.75h-0.75zM470.4 374.7h0.75v0.75h-0.75zM466.9 381.4h0.75v0.75h-0.75zM463.7 384.8h0.75v0.75h-0.75zM467.7 373.3h0.75v0.75h-0.75zM469.8 360.0h0.75v0.75h-0.75zM465.1 355.9h0.75v0.75h-0.75zM475.9 367.1h0.75v0.75h-0.75zM462.4 374.3h0.75v0.75h-0.75zM464.1 352.1h0.75v0.75h-0.75zM464.6 369.1h0.75v0.75h-0.75zM465.7 374.3h0.75v0.75h-0.75zM466.0 371.4h0.75v0.75h-0.75zM466.3 377.7h0.75v0.75h-0.75zM466.4 378.2h0.75v0.75h-0.75zM464.8 372.2h0.75v0.75h-0.75zM465.0 373.2h0.75v0.75h-0.75zM469.8 380.8h0.75v0.75h-0.75zM470.6 374.4h0.75v0.75h-0.75zM469.7 375.6h0.75v0.75h-0.75zM467.0 377.0h0.75v0.75h-0.75zM469.4 373.2h0.75v0.75h-0.75zM466.3 364.0h0.75v0.75h-0.75zM468.3 384.9h0.75v0.75h-0.75zM473.8 369.4h0.75v0.75h-0.75zM461.6 378.8h0.75v0.75h-0.75zM475.9 356.6h0.75v0.75h-0.75zM466.4 369.4h0.75v0.75h-0.75zM461.9 350.0h0.75v0.75h-0.75zM457.8 379.1h0.75v0.75h-0.75zM472.4 377.2h0.75v0.75h-0.75zM467.8 379.5h0.75v0.75h-0.75zM470.2 375.1h0.75v0.75h-0.75zM471.8 384.1h0.75v0.75h-0.75zM458.8 379.3h0.75v0.75h-0.75zM465.6 362.5h0.75v0.75h-0.75zM471.8 365.8h0.75v0.75h-0.75zM473.1 367.6h0.75v0.75h-0.75zM473.9 364.0h0.75v0.75h-0.75zM470.9 368.3h0.75v0.75h-0.75zM472.8 378.9h0.75v0.75h-0.75zM463.6 368.8h0.75v0.75h-0.75zM463.4 384.8h0.75v0.75h-0.75zM478.6 376.4h0.75v0.75h-0.75zM477.7 371.5h0.75v0.75h-0.75zM468.6 375.6h0.75v0.75h-0.75zM476.5 376.3h0.75v0.75h-0.75zM472.4 384.8h0.75v0.75h-0.75zM473.3 349.0h0.75v0.75h-0.75zM467.8 368.9h0.75v0.75h-0.75zM464.9 375.6h0.75v0.75h-0.75zM471.3 385.4h0.75v0.75h-0.75zM471.6 356.6h0.75v0.75h-0.75zM466.7 365.0h0.75v0.75h-0.75zM470.6 375.4h0.75v0.75h-0.75zM470.0 357.3h0.75v0.75h-0.75zM463.6 376.5h0.75v0.75h-0.75zM471.2 372.1h0.75v0.75h-0.75zM466.4 371.5h0.75v0.75h-0.75zM473.6 376.7h0.75v0.75h-0.75zM462.3 383.7h0.75v0.75h-0.75zM473.8 359.2h0.75v0.75h-0.75zM464.5 364.2h0.75v0.75h-0.75zM467.6 375.5h0.75v0.75h-0.75zM466.3 381.2h0.75v0.75h-0.75zM463.1 380.8h0.75v0.75h-0.75zM463.2 372.2h0.75v0.75h-0.75zM466.1 377.7h0.75v0.75h-0.75zM467.8 381.5h0.75v0.75h-0.75zM461.8 372.9h0.75v0.75h-0.75zM469.4 355.4h0.75v0.75h-0.75zM473.3 379.8h0.75v0.75h-0.75zM466.7 382.2h0.75v0.75h-0.75zM464.5 381.5h0.75v0.75h-0.75zM471.4 383.3h0.75v0.75h-0.75zM468.2 367.9h0.75v0.75h-0.75zM472.1 367.1h0.75v0.75h-0.75zM471.1 362.9h0.75v0.75h-0.75zM467.4 379.8h0.75v0.75h-0.75zM466.0 379.5h0.75v0.75h-0.75zM472.9 379.9h0.75v0.75h-0.75zM461.4 366.1h0.75v0.75h-0.75zM464.3 367.3h0.75v0.75h-0.75zM466.5 377.3h0.75v0.75h-0.75zM466.3 375.3h0.75v0.75h-0.75zM473.1 381.9h0.75v0.75h-0.75zM467.1 379.4h0.75v0.75h-0.75zM475.5 381.2h0.75v0.75h-0.75zM467.5 355.7h0.75v0.75h-0.75zM468.7 374.9h0.75v0.75h-0.75zM468.4 364.7h0.75v0.75h-0.75zM466.4 361.8h0.75v0.75h-0.75zM471.2 355.1h0.75v0.75h-0.75zM462.8 379.3h0.75v0.75h-0.75zM472.0 360.7h0.75v0.75h-0.75zM470.4 365.5h0.75v0.75h-0.75zM466.4 380.0h0.75v0.75h-0.75zM470.3 377.1h0.75v0.75h-0.75zM471.9 360.0h0.75v0.75h-0.75zM472.7 381.1h0.75v0.75h-0.75zM466.9 371.8h0.75v0.75h-0.75zM470.0 370.0h0.75v0.75h-0.75zM470.8 369.7h0.75v0.75h-0.75zM473.9 368.6h0.75v0.75h-0.75zM471.4 373.7h0.75v0.75h-0.75zM468.6 384.8h0.75v0.75h-0.75zM467.9 384.2h0.75v0.75h-0.75zM466.2 357.6h0.75v0.75h-0.75zM474.7 379.0h0.75v0.75h-0.75zM472.8 354.8h0.75v0.75h-0.75zM467.3 383.2h0.75v0.75h-0.75zM470.1 364.1h0.75v0.75h-0.75zM468.2 349.7h0.75v0.75h-0.75zM471.1 384.9h0.75v0.75h-0.75zM469.0 370.2h0.75v0.75h-0.75zM479.4 375.8h0.75v0.75h-0.75zM467.2 374.5h0.75v0.75h-0.75zM466.6 363.4h0.75v0.75h-0.75zM459.4 377.3h0.75v0.75h-0.75zM464.5 385.4h0.75v0.75h-0.75zM466.5 378.0h0.75v0.75h-0.75zM466.2 349.2h0.75v0.75h-0.75zM472.2 362.7h0.75v0.75h-0.75zM469.5 376.9h0.75v0.75h-0.75zM469.7 367.5h0.75v0.75h-0.75zM475.2 383.6h0.75v0.75h-0.75zM467.0 351.6h0.75v0.75h-0.75zM471.9 377.1h0.75v0.75h-0.75zM471.4 380.5h0.75v0.75h-0.75zM466.8 375.2h0.75v0.75h-0.75zM472.9 376.2h0.75v0.75h-0.75zM466.0 371.0h0.75v0.75h-0.75zM463.7 352.7h0.75v0.75h-0.75zM459.3 359.4h0.75v0.75h-0.75zM470.3 385.2h0.75v0.75h-0.75zM473.7 369.9h0.75v0.75h-0.75zM473.7 376.8h0.75v0.75h-0.75zM471.9 380.1h0.75v0.75h-0.75zM471.8 362.3h0.75v0.75h-0.75zM466.6 370.7h0.75v0.75h-0.75zM460.6 360.6h0.75v0.75h-0.75zM465.5 349.2h0.75v0.75h-0.75zM466.6 380.8h0.75v0.75h-0.75zM468.6 375.1h0.75v0.75h-0.75zM467.2 366.7h0.75v0.75h-0.75zM462.0 381.6h0.75v0.75h-0.75zM468.6 366.7h0.75v0.75h-0.75zM472.6 374.3h0.75v0.75h-0.75zM474.4 383.3h0.75v0.75h-0.75zM470.8 381.0h0.75v0.75h-0.75zM464.8 377.7h0.75v0.75h-0.75zM466.3 362.5h0.75v0.75h-0.75zM471.0 370.3h0.75v0.75h-0.75zM467.4 378.9h0.75v0.75h-0.75zM469.9 360.8h0.75v0.75h-0.75zM474.5 377.1h0.75v0.75h-0.75zM476.1 352.8h0.75v0.75h-0.75zM469.0 362.2h0.75v0.75h-0.75zM472.4 369.1h0.75v0.75h-0.75zM468.0 372.1h0.75v0.75h-0.75zM472.7 366.1h0.75v0.75h-0.75zM469.9 362.4h0.75v0.75h-0.75zM472.7 383.3h0.75v0.75h-0.75zM465.3 355.1h0.75v0.75h-0.75zM468.9 358.1h0.75v0.75h-0.75zM473.3 382.1h0.75v0.75h-0.75zM469.0 378.5h0.75v0.75h-0.75zM471.4 368.3h0.75v0.75h-0.75zM464.0 374.1h0.75v0.75h-0.75zM466.3 353.1h0.75v0.75h-0.75zM467.1 376.6h0.75v0.75h-0.75zM467.3 362.8h0.75v0.75h-0.75zM470.4 355.1h0.75v0.75h-0.75zM461.5 378.8h0.75v0.75h-0.75zM472.9 374.1h0.75v0.75h-0.75zM463.3 381.3h0.75v0.75h-0.75zM478.6 354.0h0.75v0.75h-0.75zM458.3 375.2h0.75v0.75h-0.75zM464.6 374.3h0.75v0.75h-0.75zM469.6 361.9h0.75v0.75h-0.75zM476.8 380.1h0.75v0.75h-0.75zM471.4 356.2h0.75v0.75h-0.75zM465.3 360.5h0.75v0.75h-0.75zM466.8 359.3h0.75v0.75h-0.75zM469.5 383.9h0.75v0.75h-0.75zM473.1 356.8h0.75v0.75h-0.75zM477.3 354.6h0.75v0.75h-0.75zM475.1 347.8h0.75v0.75h-0.75zM470.3 385.8h0.75v0.75h-0.75zM468.6 370.5h0.75v0.75h-0.75zM472.4 383.6h0.75v0.75h-0.75zM468.5 385.0h0.75v0.75h-0.75zM476.4 368.1h0.75v0.75h-0.75zM465.9 375.8h0.75v0.75h-0.75zM474.7 380.1h0.75v0.75h-0.75zM474.4 364.2h0.75v0.75h-0.75zM464.5 375.7h0.75v0.75h-0.75zM469.0 351.7h0.75v0.75h-0.75zM466.8 372.3h0.75v0.75h-0.75zM469.3 376.0h0.75v0.75h-0.75zM468.2 385.7h0.75v0.75h-0.75zM468.5 378.2h0.75v0.75h-0.75zM479.9 374.7h0.75v0.75h-0.75zM466.5 357.5h0.75v0.75h-0.75zM469.3 385.3h0.75v0.75h-0.75zM477.8 347.4h0.75v0.75h-0.75zM471.5 369.2h0.75v0.75h-0.75zM452.3 354.5h0.75v0.75h-0.75zM462.1 367.0h0.75v0.75h-0.75zM466.2 371.8h0.75v0.75h-0.75zM472.1 370.3h0.75v0.75h-0.75zM462.6 376.1h0.75v0.75h-0.75zM477.3 362.0h0.75v0.75h-0.75zM467.6 352.4h0.75v0.75h-0.75zM470.5 381.3h0.75v0.75h-0.75zM463.6 377.3h0.75v0.75h-0.75zM474.7 353.8h0.75v0.75h-0.75zM472.1 353.8h0.75v0.75h-0.75zM477.1 358.1h0.75v0.75h-0.75zM455.7 380.0h0.75v0.75h-0.75zM468.8 365.4h0.75v0.75h-0.75zM456.5 352.8h0.75v0.75h-0.75zM469.7 363.1h0.75v0.75h-0.75zM471.8 372.8h0.75v0.75h-0.75zM464.3 355.6h0.75v0.75h-0.75zM457.6 376.7h0.75v0.75h-0.75zM484.5 385.2h0.75v0.75h-0.75zM466.9 356.2h0.75v0.75h-0.75zM484.7 354.1h0.75v0.75h-0.75zM471.8 374.5h0.75v0.75h-0.75zM473.0 349.3h0.75v0.75h-0.75zM459.0 354.3h0.75v0.75h-0.75zM480.1 348.6h0.75v0.75h-0.75zM469.4 383.6h0.75v0.75h-0.75zM478.9 369.4h0.75v0.75h-0.75zM467.3 355.5h0.75v0.75h-0.75zM473.5 379.0h0.75v0.75h-0.75zM452.4 382.8h0.75v0.75h-0.75zM462.1 365.4h0.75v0.75h-0.75zM476.7 349.1h0.75v0.75h-0.75zM469.7 384.8h0.75v0.75h-0.75zM471.9 362.9h0.75v0.75h-0.75zM464.9 373.4h0.75v0.75h-0.75zM468.3 347.1h0.75v0.75h-0.75zM468.0 376.1h0.75v0.75h-0.75zM479.6 382.9h0.75v0.75h-0.75zM463.5 361.3h0.75v0.75h-0.75zM469.6 354.6h0.75v0.75h-0.75zM471.9 378.1h0.75v0.75h-0.75zM460.9 350.1h0.75v0.75h-0.75zM472.8 371.9h0.75v0.75h-0.75zM466.4 359.9h0.75v0.75h-0.75zM470.5 365.5h0.75v0.75h-0.75zM471.5 363.2h0.75v0.75h-0.75zM468.4 378.8h0.75v0.75h-0.75zM477.6 349.1h0.75v0.75h-0.75zM474.3 372.9h0.75v0.75h-0.75zM470.5 360.9h0.75v0.75h-0.75zM467.2 356.9h0.75v0.75h-0.75zM467.3 352.3h0.75v0.75h-0.75zM469.4 366.2h0.75v0.75h-0.75zM471.9 374.6h0.75v0.75h-0.75zM459.3 373.3h0.75v0.75h-0.75zM477.9 347.2h0.75v0.75h-0.75zM476.1 349.6h0.75v0.75h-0.75zM474.5 364.5h0.75v0.75h-0.75zM469.4 376.9h0.75v0.75h-0.75zM476.1 348.4h0.75v0.75h-0.75zM474.0 351.4h0.75v0.75h-0.75zM465.9 346.9h0.75v0.75h-0.75zM467.2 361.1h0.75v0.75h-0.75zM464.3 346.8h0.75v0.75h-0.75zM475.0 348.3h0.75v0.75h-0.75zM485.9 358.2h0.75v0.75h-0.75zM465.8 372.4h0.75v0.75h-0.75zM463.9 371.2h0.75v0.75h-0.75zM480.1 361.5h0.75v0.75h-0.75zM461.4 366.9h0.75v0.75h-0.75zM467.5 352.9h0.75v0.75h-0.75zM464.3 376.8h0.75v0.75h-0.75zM473.0 353.5h0.75v0.75h-0.75zM464.7 361.8h0.75v0.75h-0.75zM448.0 363.9h0.75v0.75h-0.75zM479.6 365.0h0.75v0.75h-0.75zM468.7 368.0h0.75v0.75h-0.75zM468.9 349.4h0.75v0.75h-0.75zM473.5 363.5h0.75v0.75h-0.75zM467.2 375.0h0.75v0.75h-0.75zM462.0 383.8h0.75v0.75h-0.75z" fill="#000" opacity="0.3"/>
<polygon points="463.5,358 468,356 472,356.5 474.4,362 475.4,372 475.0,381 474.0,384.8 462.6,384.8 461.6,381 461.6,372 462.2,362" fill="#000" opacity="0.85" filter="url(#bl2)"/>
<text x="189.60" y="360.00" font-size="9.0" text-anchor="middle" fill="#111" stroke="#111" stroke-width="0.2" textLength="10.4" lengthAdjust="spacingAndGlyphs" transform="rotate(-90 189.60 360.00)">IL-6</text>
<line x1="231.50" y1="403.50" x2="333.00" y2="403.50" stroke="#111" stroke-width="0.9"/>
<text x="342.90" y="406.20" font-size="9.0" text-anchor="middle" fill="#111" stroke="#111" stroke-width="0.2" textLength="11.0" lengthAdjust="spacingAndGlyphs">CD3</text>
<line x1="355.10" y1="403.50" x2="452.00" y2="403.50" stroke="#111" stroke-width="0.9"/>
<path d="M456.3,403.5 L450.6,401.3 L451.6,403.5 L450.6,405.7 Z" fill="#111"/>
</svg>
<svg class="bd" width="520" height="416" viewBox="0 0 520 416">
<rect x="0.00" y="0.00" width="520.00" height="1.10" fill="#000"/>
<rect x="0.00" y="0.00" width="1.10" height="416.00" fill="#000"/>
<rect x="518.80" y="0.00" width="1.20" height="416.00" fill="#000"/>
<rect x="0.00" y="414.60" width="520.00" height="1.40" fill="#000"/>
</svg>
</body></html>
